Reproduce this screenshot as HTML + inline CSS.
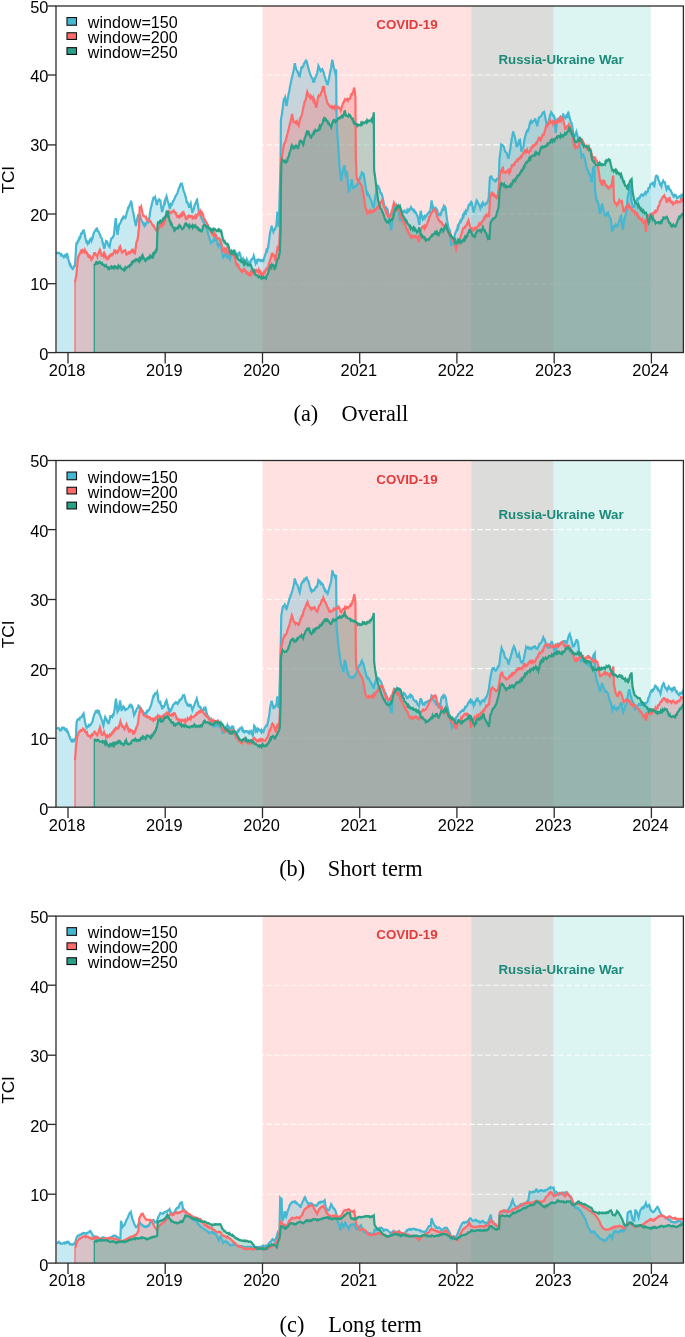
<!DOCTYPE html>
<html><head><meta charset="utf-8"><title>TCI rolling window robustness</title>
<style>
html,body{margin:0;padding:0;background:#fff;}
svg{display:block;}
.ax{font-family:"Liberation Sans",sans-serif;font-size:16.4px;fill:#000;}
.yl{font-family:"Liberation Sans",sans-serif;font-size:17.2px;fill:#000;}
.lg{font-family:"Liberation Sans",sans-serif;font-size:16.1px;fill:#000;}
.an{font-family:"Liberation Sans",sans-serif;font-size:13.3px;font-weight:bold;}
.cap{font-family:"Liberation Serif",serif;font-size:22.3px;fill:#000;}
</style></head><body>
<svg width="685" height="1337" viewBox="0 0 685 1337">
<rect width="685" height="1337" fill="#fff"/>
<g>
<rect x="262.5" y="6.0" width="290.9" height="346.55" fill="#FF6B6B" fill-opacity="0.2"/>
<rect x="471.3" y="6.0" width="179.6" height="346.55" fill="#4ECDC4" fill-opacity="0.2"/>
<line x1="56.0" x2="683.4" y1="283.7" y2="283.7" stroke="#fff" stroke-width="1.1" stroke-dasharray="5.5 2.6" stroke-opacity="0.85"/>
<line x1="56.0" x2="683.4" y1="214.0" y2="214.0" stroke="#fff" stroke-width="1.1" stroke-dasharray="5.5 2.6" stroke-opacity="0.85"/>
<line x1="56.0" x2="683.4" y1="144.9" y2="144.9" stroke="#fff" stroke-width="1.1" stroke-dasharray="5.5 2.6" stroke-opacity="0.85"/>
<line x1="56.0" x2="683.4" y1="75.0" y2="75.0" stroke="#fff" stroke-width="1.1" stroke-dasharray="5.5 2.6" stroke-opacity="0.85"/>
<path d="M56.7 252.0L57.2 253.2L57.8 253.2L58.3 252.7L58.9 252.6L59.4 253.5L60.0 253.6L60.5 254.1L61.0 255.2L61.6 254.4L62.1 255.3L62.6 256.0L63.1 256.2L63.7 257.1L64.2 256.0L64.8 255.4L65.3 256.5L65.9 256.0L66.4 255.0L67.0 256.6L67.5 255.5L68.1 258.2L68.7 260.6L69.3 262.9L69.9 264.9L70.4 264.4L71.0 266.5L71.6 267.9L72.2 268.4L72.8 269.0L73.3 268.0L73.9 266.2L74.5 266.2L75.0 265.5L75.7 254.6L76.3 243.6L76.8 243.7L77.3 243.0L77.9 240.9L78.4 241.0L78.9 239.2L79.4 237.5L80.0 237.9L80.5 236.2L81.0 233.8L81.5 233.9L82.1 233.4L82.6 231.5L83.1 231.5L83.6 229.6L84.2 232.3L84.8 234.6L85.3 237.4L85.9 240.1L86.5 242.2L87.1 241.8L87.7 243.6L88.2 242.3L88.8 242.8L89.4 240.9L89.9 239.8L90.5 240.4L91.0 239.2L91.5 240.7L92.0 239.2L92.6 238.4L93.1 235.9L93.6 233.4L94.1 232.4L94.7 231.3L95.3 230.5L95.8 230.6L96.4 228.7L96.9 228.4L97.5 230.2L98.0 231.3L98.5 231.6L99.0 232.2L99.6 234.2L100.1 234.7L100.6 237.0L101.2 237.4L101.7 238.3L102.2 240.5L102.7 242.5L103.3 244.7L103.8 246.7L104.3 248.8L104.9 246.2L105.5 243.5L106.1 240.9L106.6 241.1L107.2 241.9L107.8 243.6L108.4 245.0L109.0 246.3L109.6 247.1L110.1 244.1L110.7 241.0L111.3 238.3L111.8 238.3L112.4 237.9L112.9 237.3L113.4 236.4L113.9 234.8L114.5 229.5L115.1 223.9L115.7 218.2L116.3 223.7L116.9 229.2L117.5 234.8L118.0 231.4L118.6 227.7L119.2 224.3L119.7 224.0L120.2 223.1L120.8 222.1L121.3 220.3L121.8 219.1L122.4 219.3L123.0 217.5L123.6 216.4L124.2 216.9L124.7 218.0L125.3 218.2L125.9 216.1L126.5 213.7L127.1 211.2L127.6 210.7L128.1 207.7L128.7 207.8L129.2 206.2L129.7 205.0L130.2 203.9L130.6 203.0L131.1 200.7L131.6 203.7L132.2 207.2L132.7 210.3L133.3 213.0L133.9 216.0L134.4 219.1L134.9 221.5L135.4 223.6L135.8 226.1L136.4 223.3L137.0 220.0L137.6 217.3L138.2 215.5L138.8 216.0L139.3 214.7L139.9 215.0L140.5 217.8L141.1 219.1L141.7 221.2L142.3 221.5L142.8 222.6L143.4 224.2L144.0 223.7L144.6 226.1L145.1 225.5L145.7 224.6L146.2 223.6L146.7 222.3L147.2 221.7L147.8 220.8L148.4 221.7L149.0 219.9L149.6 215.9L150.1 212.1L150.7 208.5L151.3 206.7L151.8 204.2L152.3 202.0L152.8 200.0L153.4 198.0L153.9 198.5L154.5 198.5L155.1 197.2L155.7 199.5L156.3 202.4L156.9 205.0L157.4 202.3L158.0 200.9L158.6 199.8L159.2 199.4L159.8 200.7L160.4 200.7L160.9 204.4L161.5 208.1L162.1 212.0L162.7 209.7L163.3 207.1L163.9 205.0L164.4 202.3L164.9 202.8L165.4 199.0L166.0 197.7L166.5 196.3L167.0 198.3L167.5 200.2L168.1 202.2L168.6 203.7L169.1 205.8L169.6 207.7L170.2 208.0L170.7 204.8L171.2 205.5L171.7 205.0L172.3 203.3L172.8 201.8L173.3 200.6L173.8 200.4L174.4 198.9L174.9 198.0L175.4 196.2L175.9 195.9L176.5 194.6L177.0 194.0L177.5 192.8L178.0 191.2L178.6 189.1L179.1 187.7L179.6 187.3L180.2 184.9L180.7 184.0L181.3 184.5L181.9 184.0L182.5 186.1L183.1 188.8L183.7 191.0L184.2 192.4L184.7 193.4L185.2 195.7L185.8 197.4L186.3 199.8L186.8 202.3L187.3 202.2L187.9 203.5L188.4 205.0L188.9 206.8L189.5 206.7L190.1 204.8L190.7 203.3L191.2 206.6L191.8 209.8L192.4 212.9L192.9 211.1L193.5 209.6L194.0 208.6L194.5 205.4L195.0 205.0L195.6 203.0L196.1 202.0L196.6 200.4L197.1 199.8L197.7 203.6L198.3 207.3L198.9 211.2L199.5 213.6L200.0 214.4L200.6 215.6L201.2 217.3L201.7 218.1L202.2 219.9L202.7 220.2L203.3 221.9L203.8 222.6L204.3 222.5L204.8 224.5L205.4 225.1L205.9 225.9L206.4 227.8L206.9 229.6L207.5 231.3L208.0 233.2L208.5 235.5L209.1 236.6L209.6 238.8L210.2 240.7L210.8 242.7L211.3 241.7L211.9 241.6L212.4 241.9L212.9 241.5L213.4 240.1L214.0 240.2L214.5 237.9L215.0 239.2L215.5 237.6L216.1 236.6L216.6 239.3L217.2 242.5L217.8 245.3L218.3 246.2L218.9 244.4L219.4 244.7L219.9 243.5L220.4 243.6L221.0 246.2L221.5 249.3L222.0 251.7L222.5 254.9L223.1 257.6L223.6 257.0L224.1 255.2L224.6 254.5L225.2 255.2L225.7 254.1L226.2 255.4L226.7 254.2L227.3 256.3L227.8 254.5L228.3 255.8L228.9 257.9L229.5 257.9L230.1 259.3L230.7 256.5L231.2 255.3L231.8 254.1L232.3 253.3L232.9 253.4L233.4 252.9L233.9 250.4L234.4 250.6L235.0 251.7L235.5 253.1L236.0 253.4L236.6 255.7L237.1 255.8L237.6 254.8L238.1 253.6L238.7 253.1L239.2 254.2L239.7 253.2L240.2 254.6L240.8 256.8L241.3 258.0L241.8 259.1L242.3 259.3L242.9 258.5L243.4 260.7L243.9 260.9L244.4 261.1L245.0 261.1L245.5 261.0L246.1 260.9L246.7 259.3L247.2 260.7L247.8 261.1L248.3 262.6L248.8 262.8L249.3 264.6L249.9 263.6L250.5 261.0L251.1 261.1L251.6 259.2L252.1 258.6L252.7 258.7L253.2 257.4L253.7 255.8L254.3 258.1L254.9 260.6L255.5 262.9L256.0 261.0L256.5 260.6L257.0 261.9L257.6 259.5L258.1 259.3L258.6 259.4L259.2 260.2L259.7 259.9L260.2 260.7L260.7 261.1L261.3 260.4L261.8 260.0L262.3 260.3L262.8 261.1L263.4 261.1L263.9 258.3L264.4 257.3L264.9 255.4L265.5 253.9L266.0 252.3L266.5 250.2L267.1 251.0L267.6 248.7L268.1 247.6L268.7 243.1L269.3 238.5L269.9 233.6L270.5 230.9L271.1 228.3L271.6 225.7L272.2 227.8L272.8 229.7L273.4 231.8L274.0 230.2L274.6 230.1L275.1 228.3L275.8 227.6L276.4 224.8L276.9 218.5L277.4 211.7L277.9 219.2L278.3 226.6L278.7 219.5L279.2 212.6L279.6 197.0L280.1 181.0L280.6 160.0L280.9 120.1L281.5 116.6L282.1 113.1L282.7 108.2L283.3 103.5L283.9 99.0L284.5 98.8L285.1 97.3L285.6 100.0L286.1 102.9L286.5 106.1L287.1 102.5L287.7 99.1L288.3 95.5L288.9 92.6L289.5 89.7L290.0 86.8L290.6 83.9L291.2 81.0L291.8 78.0L292.4 75.7L293.0 73.3L293.5 71.0L294.2 67.3L294.8 63.1L295.2 65.1L295.7 67.4L296.2 69.3L296.8 70.3L297.3 71.2L297.9 72.8L298.5 72.8L299.1 76.0L299.7 76.3L300.3 73.5L300.8 70.6L301.4 67.5L302.0 67.1L302.6 67.4L303.2 66.6L303.8 64.2L304.3 63.5L304.9 62.3L305.5 61.2L306.1 60.5L306.7 61.4L307.3 63.9L307.8 65.9L308.4 68.4L309.0 70.3L309.6 72.3L310.2 74.5L310.8 75.4L311.3 77.0L311.9 78.0L312.5 78.3L313.1 81.6L313.7 81.5L314.3 81.6L314.9 78.3L315.4 78.0L316.0 76.0L316.6 75.0L317.2 72.8L317.8 69.5L318.4 65.8L319.0 67.1L319.6 69.4L320.1 69.3L320.7 71.0L321.3 70.4L321.9 69.8L322.4 69.3L323.0 71.4L323.6 72.0L324.2 74.5L324.8 76.6L325.4 78.5L325.9 80.7L326.5 81.4L327.1 84.1L327.7 84.2L328.3 81.7L328.9 79.1L329.4 76.3L330.0 73.1L330.6 70.3L331.2 67.5L331.7 63.5L332.3 59.6L332.8 62.4L333.3 65.1L333.8 67.5L334.3 69.3L334.8 71.1L335.2 72.8L335.7 71.2L336.1 69.3L336.6 120.1L337.3 134.1L337.9 140.9L338.4 148.1L338.9 156.5L339.4 165.3L340.0 170.5L340.6 175.9L341.2 181.0L341.7 177.9L342.1 175.0L342.6 172.3L343.2 169.7L343.8 167.4L344.3 165.3L344.8 168.3L345.3 171.0L345.7 174.0L346.4 172.3L347.0 172.3L347.6 178.5L348.1 185.2L348.7 191.5L349.3 191.0L349.9 188.0L350.5 186.3L351.1 183.0L351.7 179.3L352.2 182.2L352.6 185.1L353.1 188.0L353.7 187.9L354.3 187.6L354.9 186.3L355.4 186.3L356.0 186.3L356.6 184.5L357.2 184.6L357.8 184.4L358.4 182.8L358.9 180.3L359.5 179.4L360.1 177.5L360.7 176.0L361.3 174.8L361.9 172.3L362.4 172.8L363.0 174.2L363.6 174.0L364.2 177.5L364.8 181.1L365.4 184.5L365.9 188.2L366.5 191.7L367.1 195.0L367.6 195.4L368.0 193.8L368.5 195.0L369.1 195.4L369.7 197.4L370.3 198.5L370.8 199.7L371.4 201.0L372.0 203.8L372.6 205.9L373.2 207.2L373.8 207.3L374.3 203.1L374.9 199.1L375.5 195.0L376.1 192.3L376.7 189.0L377.3 186.3L377.8 187.2L378.4 186.5L379.0 188.0L379.6 189.2L380.2 192.4L380.8 193.3L381.4 193.3L381.9 194.5L382.5 196.8L383.1 199.7L383.7 202.6L384.3 205.6L384.9 207.0L385.4 207.3L386.0 207.3L386.6 208.9L387.2 208.8L387.8 210.8L388.4 215.1L388.9 218.9L389.5 223.1L390.1 225.5L390.7 227.7L391.3 230.1L391.9 223.4L392.4 217.2L393.0 210.8L393.6 208.9L394.1 207.5L394.6 207.9L395.1 206.9L395.7 205.6L396.2 204.9L396.7 206.4L397.2 206.2L397.8 206.7L398.3 207.3L398.9 212.1L399.5 216.6L400.0 221.3L400.6 219.2L401.2 216.7L401.8 214.3L402.4 213.1L403.0 212.3L403.5 210.8L404.1 210.7L404.6 210.6L405.1 212.3L405.6 212.5L406.2 212.6L406.7 212.7L407.2 210.6L407.7 212.0L408.3 211.2L408.8 209.9L409.3 210.3L409.9 209.5L410.4 208.4L410.9 207.3L411.5 208.7L412.0 208.7L412.6 210.0L413.2 209.9L413.7 209.7L414.2 211.7L414.8 211.4L415.3 212.7L415.8 212.6L416.4 213.6L417.0 215.6L417.6 216.1L418.1 218.8L418.7 221.7L419.3 224.8L419.8 220.4L420.2 215.5L420.7 210.8L421.2 213.2L421.8 215.4L422.3 217.5L422.8 219.6L423.3 219.0L423.9 217.4L424.4 216.4L424.9 217.6L425.4 216.1L426.0 216.5L426.5 215.7L427.0 215.0L427.5 213.8L428.1 213.4L428.6 212.7L429.1 212.0L429.6 212.6L430.2 212.6L430.6 208.5L431.1 204.6L431.6 200.3L432.0 203.4L432.5 206.1L433.0 209.1L433.5 207.8L434.0 209.3L434.5 209.0L435.1 208.2L435.6 207.9L436.1 209.8L436.6 211.3L437.2 210.5L437.7 212.6L438.2 214.3L438.8 215.1L439.3 215.2L439.8 214.3L440.3 216.1L440.9 213.4L441.4 212.6L441.9 210.2L442.4 209.4L443.0 208.2L443.5 207.0L444.0 209.4L444.5 209.0L445.1 207.1L445.6 208.2L446.1 212.2L446.5 215.6L447.0 219.6L447.6 222.9L448.2 226.6L448.8 228.2L449.4 230.0L450.0 230.1L450.6 237.8L451.2 245.8L451.8 242.9L452.3 242.0L452.9 239.4L453.5 238.8L454.0 237.7L454.5 236.9L455.0 233.8L455.6 232.3L456.1 231.8L456.6 230.0L457.1 230.2L457.7 226.7L458.2 227.4L458.7 224.8L459.2 223.4L459.8 222.6L460.3 221.1L460.8 221.7L461.4 219.6L461.9 219.7L462.4 217.8L462.9 215.6L463.5 216.6L464.0 214.3L464.5 212.6L465.0 213.1L465.6 211.3L466.1 212.5L466.6 210.8L467.1 210.7L467.7 209.1L468.2 206.7L468.7 205.3L469.2 204.7L469.8 205.0L470.3 203.4L470.8 203.4L471.3 202.1L471.9 202.9L472.4 205.9L473.0 209.1L473.6 212.6L474.2 210.1L474.7 207.8L475.3 205.7L475.8 203.5L476.4 201.2L476.9 202.4L477.4 201.6L478.0 202.9L478.5 203.8L479.1 205.6L479.7 205.7L480.3 208.2L480.8 206.6L481.4 204.9L482.0 203.8L482.5 205.1L483.1 203.0L483.6 204.1L484.1 204.3L484.6 204.7L485.2 204.9L485.7 203.5L486.2 202.9L486.7 202.8L487.3 202.9L487.7 201.2L488.2 199.6L488.7 197.7L489.3 187.7L489.9 177.5L490.5 176.7L491.1 177.1L491.6 176.6L492.2 178.1L492.8 179.4L493.4 179.7L494.0 180.2L494.6 180.6L495.1 181.5L495.7 181.3L496.3 179.5L496.9 178.8L497.5 178.8L498.1 179.9L498.6 180.6L499.1 170.3L499.5 159.6L500.1 154.4L500.7 149.6L501.3 144.7L501.9 145.3L502.4 145.2L503.0 145.6L503.6 146.6L504.2 147.8L504.8 150.8L505.4 151.9L505.9 152.3L506.5 152.6L507.1 154.4L507.7 156.5L508.3 158.7L508.9 156.2L509.5 153.5L510.0 150.8L510.6 146.7L511.2 142.5L511.8 138.5L512.3 136.3L512.7 133.9L513.2 131.5L513.8 133.7L514.4 135.7L514.9 136.8L515.5 140.2L516.1 143.9L516.7 147.3L517.3 145.0L517.9 145.0L518.5 142.0L519.0 140.8L519.6 142.4L520.2 141.2L520.8 146.2L521.4 151.7L522.0 149.6L522.6 148.8L523.2 147.3L523.8 144.1L524.3 140.8L524.9 137.7L525.5 135.4L526.1 133.4L526.7 131.5L527.3 130.4L527.8 131.0L528.4 129.8L529.0 127.4L529.6 124.6L530.2 121.9L530.8 121.0L531.3 123.2L531.9 122.8L532.5 121.7L533.1 121.2L533.7 121.0L534.3 120.5L534.9 119.2L535.4 119.3L536.0 121.8L536.6 123.8L537.2 126.3L537.8 123.3L538.4 120.3L538.9 117.5L539.5 117.3L540.1 117.1L540.7 116.6L541.3 115.8L541.9 114.4L542.5 113.1L543.0 112.6L543.6 112.9L544.2 112.3L544.8 115.1L545.4 118.2L546.0 121.0L546.5 123.5L547.1 124.0L547.7 126.3L548.3 123.3L548.9 120.5L549.5 117.5L550.0 114.9L550.6 114.5L551.2 112.3L551.8 113.1L552.4 114.8L553.0 115.8L553.5 115.5L554.1 117.4L554.7 117.5L555.1 125.3L555.6 133.3L556.2 128.6L556.8 123.9L557.3 119.3L557.9 118.9L558.5 119.2L559.1 118.4L559.6 117.8L560.1 118.4L560.7 116.8L561.2 117.2L561.7 117.5L562.2 118.0L562.8 116.0L563.3 117.3L563.8 115.6L564.3 116.6L564.9 116.9L565.5 118.2L566.1 117.5L566.6 115.6L567.1 116.2L567.7 114.3L568.2 115.6L568.7 114.0L569.3 116.4L569.9 118.8L570.5 121.0L571.1 123.2L571.6 123.3L572.2 126.3L572.7 129.6L573.2 133.5L573.8 137.0L574.3 137.2L574.8 135.8L575.3 134.4L575.9 133.4L576.4 131.8L577.0 134.0L577.6 136.5L578.1 138.8L578.7 141.6L579.3 144.4L579.9 147.5L580.5 150.4L581.1 153.3L581.6 156.3L582.2 154.9L582.8 154.9L583.4 154.5L584.0 157.3L584.6 157.9L585.1 159.8L585.7 162.7L586.3 165.7L586.9 168.5L587.5 169.8L588.1 169.9L588.6 172.0L589.2 174.2L589.8 174.2L590.4 175.6L591.0 179.2L591.6 182.6L592.1 177.8L592.6 173.4L593.0 168.5L593.5 167.7L594.0 166.7L594.4 166.8L595.1 191.3L595.6 194.1L596.1 197.4L596.5 200.1L597.1 201.5L597.7 201.3L598.3 203.6L598.9 207.0L599.5 210.5L600.0 214.1L600.6 211.3L601.1 208.7L601.6 206.0L602.1 203.6L602.7 206.6L603.3 209.3L603.9 212.3L604.5 213.8L605.1 215.0L605.6 215.8L606.2 215.5L606.8 214.1L607.3 212.7L607.9 212.3L608.5 215.0L609.1 215.5L609.7 217.6L610.3 218.4L610.9 219.3L611.4 225.5L612.0 231.6L612.5 230.3L613.0 230.1L613.5 228.8L614.0 226.3L614.6 226.8L615.2 226.3L615.8 224.6L616.4 225.4L617.0 225.7L617.5 226.3L618.1 225.1L618.7 222.1L619.3 221.1L619.9 218.8L620.5 216.4L621.1 215.8L621.6 220.3L622.2 224.9L622.8 229.8L623.4 225.8L624.0 221.5L624.6 217.6L625.1 216.6L625.7 214.5L626.3 212.3L626.8 207.3L627.2 201.8L627.7 196.6L628.3 194.2L628.9 191.3L629.6 187.8L630.2 184.3L630.7 192.1L631.2 200.1L631.8 202.5L632.5 205.3L633.0 206.9L633.6 207.2L634.2 207.1L634.8 204.9L635.4 203.5L636.0 201.8L636.5 200.8L637.1 199.5L637.7 200.1L638.3 198.3L638.9 198.6L639.5 198.3L640.0 196.4L640.6 196.0L641.2 194.8L641.8 194.3L642.4 194.7L643.0 195.7L643.5 195.2L644.1 194.5L644.7 193.1L645.2 192.4L645.8 193.6L646.3 191.9L646.8 192.0L647.3 192.2L647.9 191.3L648.5 188.1L649.1 187.8L649.7 187.7L650.3 184.4L650.8 184.3L651.4 183.6L652.0 183.7L652.6 182.6L653.2 182.6L653.8 185.7L654.3 186.1L654.8 183.1L655.3 179.6L655.7 176.4L656.3 175.7L656.8 175.8L657.3 176.1L657.9 177.3L658.4 179.7L659.0 180.6L659.6 182.6L660.2 184.8L660.8 184.7L661.4 186.1L661.9 183.2L662.5 182.4L663.1 180.8L663.7 182.0L664.3 182.8L664.9 182.6L665.4 184.7L666.0 187.1L666.6 189.6L667.2 188.4L667.8 186.3L668.4 186.1L668.9 188.2L669.5 189.5L670.1 189.6L670.7 190.3L671.3 191.7L671.9 193.1L672.4 194.4L673.0 194.9L673.6 196.6L674.2 196.1L674.8 194.7L675.4 194.8L675.9 195.5L676.5 197.0L677.1 198.3L677.7 198.0L678.3 197.2L678.9 196.6L679.5 196.3L680.0 196.5L680.6 197.4L681.2 195.6L681.8 196.4L682.4 194.8L682.8 194.7L683.2 196.6L683.2 352.6L56.7 352.6Z" fill="#45B7D1" fill-opacity="0.3" stroke="none"/>
<path d="M75.0 352.6L75.0 282.1L75.7 278.4L76.3 275.1L76.9 269.4L77.4 263.6L78.0 257.6L78.6 255.8L79.1 255.1L79.6 253.8L80.1 253.1L80.7 251.5L81.2 252.0L81.7 250.1L82.2 249.8L82.8 251.6L83.3 250.6L83.8 250.6L84.3 251.6L84.9 249.9L85.4 251.1L85.9 251.5L86.5 253.2L87.1 253.1L87.7 255.0L88.2 256.6L88.7 257.0L89.2 255.4L89.8 255.9L90.3 257.6L90.9 258.3L91.5 259.9L92.0 259.3L92.6 257.8L93.1 256.2L93.6 255.5L94.1 253.3L94.7 253.2L95.2 253.2L95.7 254.5L96.2 255.3L96.8 255.4L97.3 256.7L97.8 254.6L98.4 253.2L98.9 252.4L99.4 250.6L99.9 249.7L100.5 251.5L101.1 254.0L101.7 255.8L102.2 255.6L102.7 255.5L103.3 254.0L103.8 255.7L104.3 254.1L104.8 256.0L105.4 255.2L105.9 256.8L106.4 258.8L106.9 259.3L107.5 259.2L108.0 259.0L108.5 257.0L109.0 257.4L109.6 255.8L110.1 255.9L110.6 254.6L111.1 255.0L111.7 255.4L112.2 254.1L112.7 254.4L113.2 253.1L113.8 252.7L114.3 250.8L114.8 251.5L115.3 251.0L115.9 252.6L116.4 251.8L116.9 251.3L117.5 252.3L118.0 251.2L118.5 250.4L119.0 249.1L119.5 247.1L120.1 246.2L120.7 248.2L121.2 250.3L121.8 252.3L122.3 252.7L122.9 251.7L123.4 251.0L123.9 250.9L124.5 250.6L125.0 250.1L125.5 250.8L126.0 253.2L126.6 254.6L127.1 254.1L127.6 254.0L128.1 253.1L128.7 252.2L129.2 252.7L129.7 252.3L130.2 253.0L130.8 252.0L131.3 250.9L131.8 251.1L132.3 249.7L132.9 249.7L133.4 251.1L133.9 252.9L134.4 252.7L135.0 253.2L135.6 248.4L136.2 243.6L136.7 241.5L137.1 240.8L137.6 239.2L138.1 235.6L138.5 231.4L139.0 227.8L139.7 207.7L140.2 208.1L140.6 207.9L141.1 206.8L141.7 209.6L142.3 212.2L142.8 214.7L143.4 216.0L143.9 215.8L144.4 216.4L144.9 216.6L145.5 217.3L146.0 216.9L146.5 219.6L147.0 219.6L147.6 219.3L148.1 220.8L148.6 221.0L149.2 221.1L149.7 221.0L150.2 221.1L150.7 221.7L151.3 222.7L151.8 223.7L152.3 224.6L152.8 225.1L153.4 226.1L153.9 225.8L154.5 227.1L155.1 228.7L155.7 228.8L156.3 230.6L156.9 231.3L157.4 231.2L157.9 230.0L158.4 228.9L159.0 227.9L159.5 226.1L160.0 225.3L160.5 226.6L161.1 226.0L161.6 224.3L162.1 225.2L162.6 223.3L163.2 222.6L163.7 223.7L164.2 221.8L164.7 221.7L165.3 219.1L165.8 216.7L166.3 216.6L166.8 214.5L167.4 212.4L167.9 212.0L168.4 211.4L168.9 212.5L169.5 211.7L170.0 212.2L170.5 212.9L171.0 213.1L171.6 212.1L172.1 211.4L172.6 211.5L173.1 211.2L173.7 210.5L174.2 211.9L174.7 212.6L175.2 212.5L175.8 213.8L176.3 213.5L176.8 216.2L177.3 215.9L177.9 215.9L178.4 217.3L178.9 217.2L179.4 217.4L180.0 215.1L180.5 214.7L181.0 215.6L181.5 214.1L182.1 215.0L182.6 213.1L183.1 214.0L183.7 212.9L184.2 214.6L184.7 215.5L185.2 215.9L185.8 219.0L186.3 219.1L186.8 219.1L187.3 217.7L187.9 216.3L188.4 216.6L188.9 215.6L189.4 215.6L190.0 216.4L190.5 216.2L191.0 217.3L191.5 217.3L192.1 216.2L192.6 216.8L193.1 218.5L193.6 218.2L194.2 217.3L194.7 216.5L195.2 217.5L195.7 215.8L196.3 217.0L196.8 215.6L197.3 215.6L197.8 214.3L198.4 213.4L198.9 212.2L199.4 212.9L199.9 213.9L200.5 211.8L201.0 213.7L201.5 214.1L202.0 212.9L202.6 214.3L203.1 214.6L203.6 217.5L204.1 219.0L204.7 219.1L205.2 220.6L205.7 221.2L206.2 221.9L206.8 222.9L207.3 224.3L207.8 224.6L208.4 226.8L208.9 227.3L209.4 227.7L209.9 229.6L210.5 229.6L211.0 232.1L211.5 232.2L212.0 233.8L212.6 234.8L213.1 234.4L213.6 235.7L214.1 235.8L214.7 233.6L215.2 234.8L215.7 234.8L216.2 235.8L216.8 238.1L217.3 238.3L217.8 238.3L218.3 238.3L218.9 238.3L219.4 239.8L219.9 240.6L220.4 240.1L221.0 242.4L221.5 244.2L222.0 246.6L222.5 248.6L223.1 250.6L223.6 250.2L224.1 251.1L224.6 248.9L225.2 249.7L225.7 248.8L226.2 248.5L226.7 249.4L227.3 252.0L227.8 250.9L228.3 252.3L228.8 253.3L229.4 253.3L229.9 254.2L230.4 253.4L230.9 254.1L231.5 253.3L232.0 252.9L232.5 254.0L233.1 252.9L233.6 252.3L234.1 255.0L234.6 257.4L235.2 259.5L235.7 262.2L236.2 264.6L236.7 264.0L237.3 264.1L237.8 264.6L238.3 266.9L238.8 266.4L239.4 268.1L239.9 269.3L240.4 269.1L240.9 270.8L241.5 271.6L242.0 272.0L242.5 270.6L243.0 270.7L243.6 269.5L244.1 269.9L244.6 269.2L245.1 270.0L245.7 271.9L246.2 271.4L246.7 271.6L247.2 273.4L247.8 272.9L248.3 273.2L248.8 275.1L249.3 275.1L249.9 275.4L250.4 272.8L250.9 274.0L251.4 272.0L252.0 272.5L252.5 271.0L253.0 272.4L253.5 269.8L254.1 269.7L254.6 269.9L255.1 271.4L255.7 270.4L256.2 269.9L256.7 270.4L257.2 271.6L257.8 270.8L258.3 271.9L258.8 270.1L259.3 271.9L259.9 270.7L260.4 271.3L260.9 273.7L261.4 274.4L262.0 273.7L262.5 275.1L263.0 273.8L263.5 273.7L264.1 272.0L264.6 272.7L265.1 271.6L265.6 269.8L266.2 269.0L266.7 270.7L267.2 268.3L267.7 268.1L268.4 265.8L269.0 263.4L269.6 261.5L270.2 259.4L270.8 258.1L271.4 255.3L271.9 255.6L272.5 252.8L273.1 254.9L273.7 255.8L274.3 255.5L274.7 257.3L275.2 259.4L275.7 261.6L276.3 256.4L276.9 251.1L277.3 248.7L277.8 245.8L278.3 248.5L278.8 251.1L279.4 240.7L279.9 230.1L280.6 186.3L281.1 160.0L281.6 160.4L282.1 155.1L282.7 151.7L283.3 148.0L283.9 144.6L284.5 143.5L285.1 141.8L285.7 141.1L286.2 138.6L286.8 136.2L287.4 134.1L288.0 131.6L288.6 129.7L289.2 127.1L289.7 124.7L290.3 122.5L290.9 120.1L291.5 117.1L292.1 113.9L292.6 116.8L293.1 119.1L293.5 121.8L294.1 121.6L294.7 122.0L295.3 122.7L295.9 121.9L296.5 123.0L297.0 121.8L297.6 124.0L298.2 123.7L298.8 125.3L299.3 122.9L299.7 120.7L300.2 118.3L300.8 117.4L301.4 116.2L301.9 114.8L302.5 112.1L303.0 109.3L303.5 106.8L304.1 104.3L304.6 101.5L305.2 100.9L305.8 99.0L306.3 96.5L306.7 94.2L307.2 92.0L307.7 93.5L308.3 93.7L308.8 96.1L309.3 96.4L309.8 96.6L310.4 97.7L310.9 96.1L311.4 97.1L311.9 97.3L312.5 98.7L313.0 97.6L313.5 100.5L314.0 99.3L314.6 100.8L315.1 103.3L315.7 105.7L316.3 107.8L316.9 104.5L317.5 100.7L318.1 97.3L318.7 95.7L319.2 96.2L319.8 95.5L320.4 95.4L321.0 92.7L321.6 92.0L322.1 91.5L322.6 88.1L323.1 88.5L323.7 85.9L324.1 88.3L324.6 91.1L325.1 93.8L325.7 96.3L326.2 98.6L326.8 100.8L327.4 103.0L328.0 104.0L328.6 104.3L329.2 105.8L329.7 106.5L330.3 106.9L330.9 106.3L331.4 107.1L331.9 106.6L332.4 108.2L333.0 107.8L333.5 108.1L334.0 106.8L334.5 106.2L335.1 108.3L335.6 106.9L336.1 107.7L336.6 107.1L337.2 107.0L337.7 107.8L338.2 106.9L338.7 107.5L339.3 108.1L339.8 108.6L340.3 109.1L340.8 110.4L341.4 108.2L342.0 106.4L342.6 104.3L343.2 102.9L343.8 102.1L344.3 100.8L344.9 99.5L345.4 100.1L345.9 99.4L346.4 99.2L347.0 99.9L347.5 99.2L348.0 100.4L348.5 99.1L349.1 99.0L349.6 99.0L350.1 98.3L350.7 96.3L351.2 94.7L351.7 94.9L352.2 93.8L352.8 92.3L353.3 91.1L353.8 89.0L354.3 87.7L354.9 92.6L355.4 97.3L355.9 162.1L356.3 167.0L356.6 177.5L357.2 179.3L357.8 179.2L358.4 181.0L358.9 181.9L359.5 182.7L360.1 183.7L360.7 183.8L361.3 185.2L361.9 186.3L362.4 189.2L363.0 192.3L363.6 195.0L364.2 199.3L364.8 203.1L365.4 207.3L365.9 209.4L366.5 209.7L367.1 212.6L367.7 211.3L368.2 212.1L368.8 212.8L369.4 211.7L369.9 210.8L370.4 212.3L371.0 212.6L371.5 211.2L372.0 211.7L372.5 211.8L373.1 211.9L373.6 210.3L374.1 210.8L374.6 209.9L375.2 210.0L375.7 209.1L376.2 209.2L376.7 208.8L377.3 207.3L377.8 207.8L378.3 206.1L378.8 204.4L379.4 203.9L379.9 203.8L380.5 202.2L381.0 202.2L381.6 201.8L382.2 200.3L382.7 200.9L383.2 204.2L383.7 206.1L384.3 207.3L384.8 208.3L385.3 210.1L385.8 210.7L386.4 213.5L386.9 214.3L387.4 213.7L388.0 216.6L388.5 216.7L389.0 216.7L389.5 216.9L390.1 215.1L390.6 215.5L391.1 214.4L391.6 211.1L392.1 210.8L392.7 208.3L393.3 205.7L393.9 202.9L394.4 204.0L395.0 204.8L395.5 204.9L396.0 206.8L396.5 206.4L397.1 208.5L397.6 207.9L398.1 209.8L398.6 209.8L399.2 210.8L399.7 211.4L400.2 213.2L400.7 214.1L401.3 217.4L401.8 217.8L402.3 220.2L402.8 219.3L403.4 221.7L403.9 222.5L404.4 223.9L404.9 224.2L405.5 225.9L406.0 227.0L406.5 229.5L407.0 230.1L407.6 229.9L408.1 231.4L408.6 233.1L409.1 233.1L409.7 235.3L410.2 236.0L410.7 236.3L411.2 237.2L411.8 236.0L412.3 237.1L412.8 236.4L413.4 236.8L413.9 236.0L414.4 236.6L414.9 236.2L415.5 235.8L416.0 237.0L416.5 237.5L417.0 237.7L417.6 237.1L418.0 239.1L418.5 240.6L419.0 242.3L419.6 236.2L420.2 230.1L420.7 230.3L421.2 229.3L421.8 228.1L422.3 227.0L422.8 226.6L423.3 226.2L423.9 225.9L424.4 227.9L424.9 226.3L425.4 227.4L426.0 226.7L426.5 224.8L427.0 224.4L427.5 222.5L428.1 220.4L428.6 220.4L429.1 217.1L429.6 216.8L430.2 215.7L430.7 214.3L431.2 213.1L431.7 212.9L432.3 211.8L432.8 211.6L433.3 210.8L433.9 209.3L434.5 210.1L435.1 209.9L435.6 211.4L436.1 212.6L436.6 214.4L437.2 216.9L437.7 217.8L438.2 219.1L438.8 219.5L439.3 220.8L439.8 221.0L440.3 222.2L440.9 222.0L441.4 222.0L441.9 223.2L442.4 224.5L443.0 224.8L443.5 226.1L444.0 226.3L444.5 225.9L445.1 227.4L445.6 226.6L446.2 227.6L446.8 229.7L447.3 230.1L447.9 230.5L448.4 232.1L448.9 233.4L449.4 232.4L450.0 233.6L450.5 234.2L451.0 236.7L451.5 237.9L452.1 238.8L452.6 240.6L453.1 240.4L453.6 242.4L454.2 243.6L454.7 244.6L455.2 245.8L455.7 247.8L456.1 249.3L456.7 247.0L457.3 244.8L457.9 242.3L458.4 242.3L458.9 240.9L459.4 239.2L459.9 238.7L460.5 237.1L461.0 235.7L461.5 233.9L462.0 232.1L462.6 229.8L463.1 228.3L463.6 228.1L464.2 227.6L464.7 227.8L465.2 226.9L465.7 225.7L466.3 225.5L466.8 224.3L467.3 223.3L467.8 221.8L468.4 220.4L468.9 222.4L469.5 224.4L470.1 226.6L470.6 227.8L471.2 228.9L471.7 228.8L472.2 228.5L472.7 230.1L473.3 230.7L473.8 229.7L474.3 229.5L474.8 228.2L475.4 229.2L475.9 228.6L476.5 228.5L477.1 227.0L477.6 226.6L478.2 225.7L478.7 225.9L479.2 223.8L479.7 224.5L480.3 223.9L480.8 224.4L481.3 223.0L481.8 221.6L482.4 221.6L482.9 220.4L483.4 219.8L483.9 218.0L484.5 217.1L485.0 217.9L485.5 216.1L486.1 215.2L486.7 214.4L487.3 215.2L487.8 216.3L488.4 215.8L489.0 216.1L489.5 209.0L489.9 202.1L490.4 195.0L490.9 195.2L491.5 193.3L492.0 194.1L492.5 193.3L493.0 194.5L493.6 195.5L494.1 194.8L494.6 196.4L495.1 196.8L495.7 196.3L496.2 197.3L496.7 196.5L497.2 198.2L497.8 197.7L498.2 192.9L498.7 187.6L499.2 182.8L499.8 176.9L500.4 171.4L501.0 171.8L501.6 170.4L502.1 169.2L502.7 170.8L503.2 169.4L503.7 172.3L504.3 172.3L504.8 172.7L505.3 171.9L505.8 171.8L506.4 172.3L506.9 172.0L507.4 170.9L507.9 170.3L508.5 171.6L509.0 170.6L509.5 172.8L510.0 171.8L510.6 169.7L511.2 167.9L511.8 165.7L512.3 166.1L512.8 165.6L513.4 164.6L513.9 165.1L514.4 164.8L515.0 162.7L515.6 161.6L516.2 161.3L516.7 161.3L517.2 159.9L517.7 160.4L518.3 158.6L518.8 158.7L519.3 158.9L519.8 158.5L520.4 157.1L520.9 156.3L521.4 156.9L521.9 155.8L522.5 155.2L523.0 153.3L523.5 152.6L524.0 152.6L524.6 151.1L525.1 152.1L525.6 152.5L526.2 150.4L526.7 150.8L527.2 149.8L527.7 151.7L528.3 152.1L528.8 152.7L529.3 151.7L529.8 151.1L530.4 149.5L530.9 149.9L531.4 147.2L531.9 147.3L532.5 147.4L533.0 145.6L533.5 146.0L534.0 145.9L534.6 145.6L535.1 144.5L535.6 143.3L536.1 142.8L536.7 143.5L537.2 142.0L537.8 140.5L538.4 139.3L538.9 137.7L539.5 137.8L540.1 140.0L540.7 140.3L541.3 138.1L541.9 137.0L542.5 135.0L543.0 135.5L543.6 135.1L544.2 133.3L544.8 130.7L545.4 128.8L546.0 126.3L546.5 126.9L547.1 125.2L547.7 125.4L548.3 123.6L548.9 122.7L549.5 121.0L550.0 122.2L550.5 121.1L551.0 122.5L551.6 122.4L552.1 121.9L552.6 121.4L553.1 123.6L553.7 121.7L554.2 122.4L554.7 123.7L555.2 123.7L555.8 121.8L556.3 122.3L556.8 121.3L557.3 121.9L557.9 121.5L558.4 122.0L558.9 121.9L559.4 119.3L560.0 120.2L560.5 118.6L561.0 120.1L561.5 117.7L562.1 118.4L562.5 118.7L563.0 119.2L563.5 121.0L564.1 123.4L564.6 126.0L565.2 128.9L565.8 128.4L566.4 127.8L567.0 126.3L567.6 126.2L568.1 126.0L568.7 124.5L569.3 125.8L569.9 126.0L570.5 127.2L571.1 129.2L571.6 131.8L572.2 132.4L572.8 136.9L573.4 141.0L574.0 145.6L574.6 146.6L575.2 145.7L575.7 148.1L576.2 147.4L576.7 147.0L577.3 147.5L577.8 146.7L578.3 145.6L578.8 144.4L579.4 142.2L579.9 142.3L580.4 141.5L580.9 141.3L581.5 140.5L582.0 141.8L582.5 140.5L583.0 141.4L583.6 143.0L584.1 144.2L584.6 145.3L585.1 145.8L585.7 146.7L586.2 147.1L586.7 146.2L587.2 148.4L587.8 147.5L588.3 147.0L588.8 149.3L589.3 149.5L589.9 149.8L590.4 149.3L591.0 151.4L591.6 153.7L592.1 156.3L592.7 157.4L593.2 156.9L593.7 157.0L594.3 158.9L594.8 158.0L595.3 157.8L595.8 159.9L596.4 160.5L596.9 160.6L597.4 162.4L598.0 166.3L598.6 170.3L599.1 173.9L599.6 177.5L600.0 180.8L600.6 180.8L601.2 183.2L601.8 184.3L602.3 182.4L602.8 183.3L603.4 180.6L603.9 180.8L604.5 181.0L605.0 183.1L605.6 185.3L606.2 186.1L606.7 185.9L607.2 185.8L607.7 187.8L608.3 188.2L608.8 187.8L609.3 188.3L609.8 186.6L610.4 186.6L610.9 185.8L611.4 186.1L612.0 182.6L612.6 179.0L613.2 175.6L613.6 187.7L614.0 200.1L614.6 201.8L615.1 203.3L615.6 203.4L616.2 203.3L616.7 205.3L617.2 204.7L617.7 203.1L618.3 203.4L618.8 201.7L619.3 200.1L619.8 201.3L620.4 201.3L620.9 201.2L621.4 202.5L621.9 201.8L622.5 205.5L623.1 208.7L623.7 212.3L624.2 210.4L624.7 209.9L625.3 209.2L625.8 207.1L626.3 207.1L626.8 206.3L627.4 206.6L627.9 204.9L628.4 206.5L628.9 205.3L629.5 206.6L630.0 206.6L630.5 207.5L631.0 208.5L631.6 209.7L632.1 209.6L632.6 211.0L633.1 210.8L633.7 211.2L634.2 211.5L634.7 211.1L635.2 213.5L635.8 212.6L636.3 213.1L636.8 214.1L637.3 213.7L637.9 216.7L638.4 216.1L638.9 217.9L639.5 217.6L640.0 219.0L640.5 219.5L641.0 219.4L641.6 220.1L642.1 219.3L642.7 221.6L643.2 222.4L643.8 222.8L644.3 221.3L644.8 221.7L645.2 221.1L645.9 231.6L646.4 225.8L646.9 220.2L647.3 214.1L647.9 215.4L648.5 215.8L649.1 215.8L649.6 216.1L650.1 214.8L650.7 215.9L651.2 214.8L651.7 214.1L652.2 213.5L652.8 213.3L653.3 214.2L653.8 212.8L654.3 212.3L654.9 211.2L655.4 210.8L655.9 211.8L656.4 211.1L657.0 210.6L657.5 210.2L658.0 207.0L658.5 206.2L659.1 205.5L659.6 203.6L660.1 201.4L660.7 200.5L661.2 200.5L661.7 198.8L662.2 198.3L662.8 196.7L663.3 196.4L663.8 196.7L664.3 195.7L664.9 197.3L665.5 197.7L666.0 199.2L666.6 201.8L667.1 201.8L667.7 200.4L668.2 198.4L668.7 198.3L669.3 200.1L669.9 198.9L670.4 200.6L671.0 201.8L671.5 203.0L672.0 203.0L672.6 202.3L673.1 204.2L673.6 203.6L674.1 203.3L674.7 203.4L675.2 203.0L675.7 201.3L676.2 200.9L676.8 201.6L677.3 201.4L677.8 202.6L678.3 202.4L678.9 201.8L679.4 202.0L679.9 201.9L680.4 202.0L681.0 199.8L681.5 200.1L682.1 199.0L682.7 200.1L683.2 199.2L683.2 352.6L75.0 352.6Z" fill="#FF6B6B" fill-opacity="0.3" stroke="none"/>
<path d="M94.3 352.6L94.3 263.7L94.9 264.7L95.5 264.5L96.1 262.1L96.7 262.0L97.3 262.9L97.8 263.5L98.4 263.1L98.9 262.7L99.4 261.7L99.9 262.0L100.5 262.8L101.0 263.3L101.5 263.8L102.0 263.2L102.5 264.6L103.1 264.6L103.7 264.6L104.3 265.6L104.9 266.4L105.5 266.4L106.1 265.5L106.6 266.5L107.1 267.1L107.6 267.5L108.2 267.8L108.7 269.9L109.2 268.0L109.7 268.4L110.3 267.3L110.8 266.8L111.3 266.4L111.8 267.7L112.4 267.1L112.9 267.6L113.4 267.1L113.9 268.1L114.5 266.7L115.0 267.3L115.5 266.7L116.0 267.4L116.6 267.2L117.2 268.3L117.7 267.4L118.3 266.0L118.9 267.6L119.5 267.2L120.1 266.4L120.7 267.5L121.2 268.5L121.8 268.8L122.4 269.4L123.0 268.9L123.6 269.9L124.2 270.6L124.7 270.1L125.3 267.7L125.9 268.7L126.5 268.2L127.1 267.2L127.7 266.7L128.2 266.4L128.8 265.9L129.4 266.5L130.0 265.0L130.6 264.6L131.1 264.7L131.6 262.8L132.2 263.5L132.7 262.8L133.2 261.1L133.7 260.6L134.3 260.6L134.8 261.1L135.3 260.2L135.8 259.3L136.4 259.7L136.9 259.3L137.4 260.0L137.9 261.2L138.5 261.1L139.0 259.6L139.5 260.7L140.0 258.4L140.6 259.3L141.1 257.6L141.7 256.5L142.3 257.6L142.8 255.8L143.4 257.4L143.9 258.0L144.4 259.0L144.9 260.4L145.5 261.1L146.0 260.6L146.5 259.2L147.0 258.3L147.6 258.3L148.1 257.6L148.7 258.5L149.3 257.6L149.9 256.1L150.4 257.8L151.0 257.4L151.6 256.7L152.1 257.2L152.7 254.9L153.2 255.8L153.7 253.5L154.2 254.1L154.8 253.4L155.3 251.4L155.8 250.3L156.3 250.8L156.9 248.8L157.6 224.3L158.0 222.7L158.5 223.1L159.0 223.2L159.5 221.7L160.0 220.9L160.5 220.6L161.1 222.1L161.6 220.8L162.1 220.8L162.6 220.8L163.2 218.6L163.7 218.9L164.2 217.9L164.7 218.2L165.3 216.4L165.8 216.0L166.3 213.6L166.8 214.9L167.4 211.7L167.9 212.0L168.5 215.1L169.1 217.6L169.6 220.8L170.2 221.2L170.7 223.7L171.2 223.1L171.7 224.2L172.3 226.1L172.8 227.4L173.3 227.5L173.8 227.5L174.4 230.8L174.9 230.4L175.4 229.0L175.9 228.2L176.5 228.5L177.0 228.6L177.5 227.8L178.0 228.1L178.6 226.1L179.1 226.4L179.6 225.2L180.2 226.1L180.7 226.5L181.2 227.8L181.7 228.2L182.2 229.2L182.8 228.7L183.3 228.3L183.8 227.5L184.3 226.0L184.9 224.4L185.4 223.4L185.9 223.3L186.5 224.9L187.0 224.5L187.5 224.5L188.0 226.1L188.6 226.1L189.1 227.3L189.6 225.7L190.1 227.0L190.7 226.9L191.2 226.5L191.7 226.6L192.2 225.5L192.8 227.4L193.3 226.1L193.8 225.6L194.3 226.7L194.9 226.4L195.4 225.6L195.9 226.9L196.4 227.6L197.0 227.1L197.5 227.4L198.0 227.9L198.5 229.6L199.1 229.1L199.6 229.2L200.1 230.9L200.6 231.0L201.2 231.3L201.7 231.3L202.2 229.9L202.7 228.9L203.3 225.7L203.8 225.2L204.3 225.2L204.8 224.9L205.4 225.9L205.9 226.2L206.4 226.1L206.9 227.3L207.5 227.6L208.0 227.0L208.5 228.0L209.1 228.7L209.6 229.3L210.1 228.5L210.6 229.1L211.2 230.6L211.7 231.3L212.2 230.0L212.7 231.2L213.3 229.6L213.8 228.9L214.3 229.6L214.8 229.1L215.4 229.6L215.9 229.9L216.4 231.0L216.9 231.3L217.5 230.9L218.0 230.1L218.5 230.6L219.0 229.2L219.6 229.6L220.1 231.2L220.7 231.9L221.3 231.3L221.9 234.3L222.5 237.1L223.1 240.1L223.6 240.8L224.1 241.7L224.6 241.1L225.2 242.7L225.7 243.6L226.2 244.0L226.7 243.5L227.3 243.6L227.8 245.7L228.3 245.3L228.9 247.6L229.5 250.0L230.1 252.3L230.6 253.2L231.1 252.3L231.6 251.3L232.2 252.8L232.7 251.5L233.2 251.7L233.8 251.3L234.3 253.5L234.8 252.6L235.3 254.1L235.9 254.7L236.4 257.0L236.9 257.7L237.4 257.1L238.0 259.3L238.5 259.6L239.0 259.8L239.5 260.4L240.1 260.0L240.6 261.1L241.1 261.7L241.6 260.7L242.2 261.6L242.7 262.2L243.2 262.9L243.7 263.9L244.3 261.8L244.8 263.5L245.3 262.1L245.8 262.9L246.4 263.6L246.9 263.6L247.4 264.3L247.9 265.6L248.5 265.5L249.0 265.2L249.5 264.5L250.0 264.5L250.6 264.4L251.1 265.5L251.6 267.6L252.1 268.3L252.7 270.3L253.2 270.9L253.7 271.6L254.2 271.1L254.8 273.4L255.3 274.4L255.8 275.0L256.4 275.1L256.9 275.5L257.4 275.5L257.9 276.1L258.5 277.3L259.0 276.9L259.5 276.3L260.0 276.9L260.6 276.8L261.1 278.0L261.6 276.9L262.1 277.8L262.7 278.3L263.2 278.2L263.7 277.1L264.2 277.7L264.8 277.4L265.4 278.3L266.0 278.6L266.5 276.3L267.1 275.1L267.7 274.0L268.2 272.9L268.8 270.4L269.3 269.3L269.9 266.9L270.4 265.5L270.9 265.8L271.5 267.1L272.0 264.6L272.5 265.1L273.0 265.6L273.6 265.4L274.1 266.2L274.6 268.9L275.1 268.6L275.7 266.5L276.3 264.0L276.9 261.6L277.5 259.5L278.1 258.8L278.6 258.1L279.3 254.5L279.9 251.1L280.6 230.1L280.9 186.3L281.4 163.5L282.1 159.5L282.7 160.4L283.2 161.0L283.7 160.9L284.3 161.7L284.8 162.1L285.3 160.8L285.8 161.5L286.4 162.2L286.9 161.4L287.4 160.4L287.9 157.6L288.5 156.9L289.0 155.6L289.5 152.8L290.0 151.6L290.6 149.8L291.2 147.5L291.8 145.5L292.3 146.5L292.8 146.3L293.4 148.3L293.9 148.3L294.4 148.1L295.0 147.4L295.6 145.5L296.2 145.5L296.8 146.5L297.3 146.6L297.9 149.0L298.5 146.7L299.1 144.5L299.7 142.0L300.3 140.9L300.8 141.4L301.4 141.1L302.0 142.2L302.6 143.2L303.2 144.6L303.8 142.4L304.3 140.1L304.9 137.6L305.5 136.4L306.1 134.0L306.7 132.3L307.3 133.2L307.8 131.3L308.4 131.5L309.0 133.3L309.5 134.3L310.0 135.8L310.5 137.2L311.1 137.6L311.6 135.9L312.1 135.8L312.6 134.2L313.2 133.8L313.7 132.3L314.2 133.2L314.7 132.0L315.3 130.1L315.8 130.8L316.3 130.6L316.8 130.8L317.4 130.8L317.9 129.9L318.4 130.0L318.9 128.8L319.5 126.7L320.0 128.2L320.5 126.8L321.0 125.6L321.6 124.5L322.2 124.0L322.7 122.5L323.3 120.1L323.8 118.9L324.4 120.5L324.9 120.2L325.4 118.6L325.9 119.2L326.5 120.7L327.0 121.2L327.5 121.1L328.1 123.5L328.6 123.6L329.1 123.4L329.6 125.3L330.2 125.5L330.7 125.8L331.2 127.1L331.8 125.2L332.4 122.9L333.0 121.0L333.5 120.4L334.0 122.5L334.5 120.4L335.1 120.4L335.6 121.8L336.1 121.1L336.6 121.3L337.2 120.1L337.7 119.7L338.2 118.3L338.7 118.1L339.3 118.4L339.8 117.4L340.3 117.0L340.8 117.5L341.4 117.1L341.9 115.6L342.4 115.3L342.9 116.7L343.5 115.7L344.1 112.9L344.7 110.4L345.2 112.3L345.6 114.1L346.1 115.7L346.7 115.5L347.3 116.1L347.8 116.4L348.4 116.6L349.0 114.8L349.6 115.7L350.1 115.5L350.7 116.8L351.2 117.7L351.7 118.0L352.2 119.2L352.8 118.9L353.3 121.1L353.8 123.0L354.3 122.4L354.9 123.6L355.4 124.0L356.0 123.9L356.6 124.3L357.2 125.7L357.8 124.6L358.4 125.3L358.9 125.4L359.5 124.7L360.1 124.6L360.7 125.2L361.3 122.8L361.9 123.6L362.4 124.1L363.0 122.5L363.6 123.1L364.2 123.1L364.8 122.5L365.4 121.8L365.9 121.4L366.5 122.4L367.1 120.4L367.7 121.6L368.3 120.8L368.9 121.0L369.4 120.7L369.9 121.1L370.4 120.6L371.0 119.9L371.5 119.2L372.0 120.7L372.5 118.6L373.1 117.5L373.8 112.3L374.1 170.1L374.6 173.7L375.2 177.5L375.8 182.8L376.4 188.0L377.0 192.0L377.6 196.1L378.1 200.3L378.7 202.6L379.3 204.2L379.9 206.4L380.4 208.4L380.9 208.6L381.5 209.8L382.0 210.9L382.5 212.6L383.0 212.9L383.6 215.2L384.1 215.9L384.6 218.0L385.1 219.6L385.7 219.6L386.2 221.6L386.7 222.2L387.2 221.5L387.8 222.2L388.3 222.2L388.8 222.6L389.3 220.7L389.9 219.8L390.4 220.4L390.9 219.4L391.5 219.0L392.0 219.8L392.5 218.7L393.0 218.7L393.6 216.0L394.2 213.6L394.8 210.8L395.3 209.3L395.8 209.8L396.4 208.5L396.9 207.0L397.4 206.4L397.9 207.2L398.5 206.0L399.0 207.4L399.5 207.5L400.0 206.4L400.6 208.5L401.2 210.6L401.8 212.6L402.3 214.7L402.8 215.3L403.4 216.3L403.9 217.7L404.4 217.8L404.9 219.8L405.5 220.2L406.0 221.6L406.5 220.8L407.0 222.2L407.6 223.4L408.1 224.4L408.6 224.5L409.1 225.4L409.7 226.6L410.2 226.1L410.7 228.4L411.2 227.3L411.8 227.9L412.3 228.3L412.8 229.7L413.4 228.2L413.9 230.5L414.4 228.8L414.9 230.1L415.5 229.2L416.0 230.4L416.5 230.8L417.0 232.5L417.6 231.8L418.1 231.3L418.7 229.6L419.3 227.4L419.9 230.0L420.5 232.7L421.1 235.3L421.6 235.0L422.1 236.9L422.6 236.1L423.2 236.2L423.7 237.1L424.2 238.1L424.7 237.6L425.3 238.7L425.8 240.9L426.3 240.6L426.8 239.4L427.4 239.3L427.9 239.3L428.4 239.3L428.9 239.7L429.5 238.8L430.0 237.7L430.5 237.2L431.0 236.3L431.6 236.2L432.1 235.0L432.6 235.4L433.1 234.2L433.7 233.8L434.2 233.6L434.7 233.9L435.2 231.8L435.8 231.6L436.3 233.0L436.8 231.8L437.4 232.8L438.0 234.9L438.6 235.3L439.1 233.2L439.6 232.9L440.2 232.5L440.7 230.0L441.2 229.2L441.7 230.0L442.3 229.8L442.8 229.5L443.3 231.1L443.8 230.1L444.4 228.5L444.9 227.4L445.4 226.4L445.9 224.8L446.5 226.1L447.1 229.2L447.6 230.3L448.2 231.8L448.7 232.7L449.3 233.3L449.8 235.1L450.3 235.9L450.8 235.3L451.4 236.9L451.9 236.6L452.4 237.2L452.9 238.2L453.5 238.8L454.0 238.4L454.5 239.3L455.0 242.2L455.6 240.7L456.1 242.3L456.6 243.1L457.1 242.1L457.7 242.3L458.2 239.9L458.7 240.6L459.2 240.4L459.8 242.0L460.3 240.4L460.8 241.0L461.4 242.3L461.9 241.4L462.4 240.5L462.9 239.9L463.5 240.7L464.0 239.7L464.5 238.2L465.0 239.8L465.6 238.5L466.1 236.5L466.6 237.1L467.1 236.7L467.7 233.6L468.2 232.8L468.7 231.6L469.2 230.1L469.8 229.9L470.3 231.5L470.8 231.1L471.3 232.1L471.9 233.6L472.4 235.3L472.9 235.8L473.4 235.7L474.0 236.8L474.5 237.1L475.1 236.7L475.6 233.5L476.2 233.1L476.8 231.8L477.3 230.7L477.8 230.5L478.3 230.3L478.9 230.4L479.4 230.9L480.0 230.1L480.5 230.8L481.1 231.8L481.7 230.1L482.3 229.2L482.9 227.4L483.5 229.2L484.1 230.2L484.6 230.1L485.2 231.8L485.8 232.4L486.4 233.6L487.0 236.4L487.6 236.2L488.1 238.8L488.8 238.3L489.4 239.7L489.9 231.5L490.4 223.1L490.9 222.5L491.5 220.6L492.0 220.1L492.5 219.6L493.0 218.7L493.6 218.7L494.1 218.3L494.6 217.9L495.1 217.8L495.7 216.8L496.3 215.1L496.9 212.6L497.5 211.0L498.1 209.0L498.6 207.3L499.1 199.3L499.5 191.5L500.0 189.0L500.5 186.5L500.9 183.7L501.5 183.2L502.0 184.6L502.5 184.8L503.0 184.5L503.6 185.4L504.1 184.4L504.6 186.2L505.1 185.9L505.7 187.2L506.2 186.2L506.7 187.0L507.2 187.0L507.8 186.8L508.3 186.3L508.8 186.9L509.3 186.8L509.9 186.2L510.4 185.1L510.9 186.3L511.5 185.4L512.1 183.9L512.7 181.5L513.2 182.1L513.7 181.4L514.2 179.8L514.8 180.0L515.3 180.6L515.8 178.6L516.3 178.8L516.9 177.5L517.4 175.6L517.9 175.3L518.4 175.9L519.0 175.5L519.5 174.8L520.0 173.1L520.5 172.7L521.1 171.3L521.6 170.2L522.1 170.9L522.7 169.7L523.2 168.3L523.7 166.7L524.2 167.2L524.8 165.3L525.3 163.9L525.8 163.1L526.3 162.3L526.9 162.6L527.4 161.4L527.9 161.4L528.4 160.4L529.0 158.8L529.5 159.5L530.0 157.8L530.5 158.7L531.1 156.9L531.6 155.9L532.1 155.8L532.6 156.0L533.2 155.3L533.7 155.2L534.2 154.7L534.7 155.2L535.3 152.9L535.8 153.8L536.3 152.6L536.8 153.4L537.4 154.0L537.9 153.5L538.4 153.8L538.9 154.3L539.5 152.2L540.1 150.2L540.7 148.2L541.2 147.4L541.7 147.1L542.3 147.6L542.8 146.7L543.3 147.3L543.8 147.0L544.4 147.1L544.9 146.3L545.4 145.8L546.0 146.4L546.5 146.0L547.0 145.9L547.5 143.6L548.1 143.9L548.6 142.9L549.1 142.8L549.6 142.8L550.2 141.8L550.7 140.3L551.2 140.3L551.7 139.7L552.3 141.5L552.8 140.3L553.3 139.8L553.8 141.2L554.4 141.4L554.9 139.0L555.4 138.6L555.9 137.9L556.5 137.7L557.0 136.7L557.5 137.5L558.0 136.2L558.6 136.1L559.1 135.9L559.6 135.9L560.1 137.1L560.7 135.2L561.2 136.8L561.7 136.8L562.2 135.5L562.8 135.2L563.3 136.0L563.8 135.1L564.3 135.0L564.9 133.4L565.4 134.2L565.9 134.5L566.4 133.3L567.0 132.4L567.6 131.2L568.1 130.8L568.7 128.9L569.3 130.5L569.9 129.2L570.5 130.7L571.1 131.0L571.6 133.6L572.2 133.3L572.8 135.8L573.4 135.5L574.0 137.7L574.5 139.7L575.0 141.7L575.5 142.3L576.0 142.1L576.6 142.1L577.1 141.3L577.6 140.2L578.1 140.5L578.7 139.4L579.2 138.7L579.7 139.9L580.2 138.2L580.8 138.8L581.4 140.8L581.9 142.0L582.5 144.0L583.0 144.4L583.6 146.2L584.1 145.3L584.6 146.1L585.1 146.6L585.7 146.5L586.2 146.3L586.7 146.5L587.2 147.4L587.8 147.5L588.3 148.8L588.8 147.5L589.3 150.2L589.9 150.1L590.4 150.2L591.0 153.1L591.6 156.7L592.1 159.8L592.7 160.4L593.3 161.6L593.9 162.4L594.4 161.9L595.0 163.5L595.5 164.0L596.0 165.2L596.5 165.0L597.1 165.1L597.6 165.2L598.1 165.1L598.6 163.6L599.2 164.2L599.7 163.1L600.2 164.5L600.7 163.8L601.3 164.0L601.8 165.0L602.3 164.4L602.8 164.8L603.4 164.8L603.9 164.7L604.4 164.2L604.9 164.6L605.5 161.8L606.0 162.2L606.5 160.3L607.0 160.7L607.6 160.9L608.1 160.2L608.6 159.2L609.1 159.5L609.7 159.8L610.3 162.5L610.9 165.0L611.4 166.8L611.8 168.8L612.3 170.3L612.8 169.9L613.4 169.9L613.9 171.3L614.4 170.6L614.9 170.3L615.5 169.7L616.0 171.7L616.5 171.0L617.0 172.8L617.5 172.0L618.1 172.7L618.6 173.5L619.1 174.1L619.7 173.5L620.2 173.8L620.8 176.1L621.3 174.9L621.9 177.3L622.5 178.7L623.1 181.6L623.7 182.6L624.2 182.0L624.7 184.4L625.3 185.9L625.8 185.9L626.3 186.1L626.9 187.5L627.5 186.2L628.1 187.8L628.7 185.8L629.2 183.8L629.8 181.7L630.4 180.6L631.0 179.7L631.6 179.1L632.0 185.3L632.5 191.3L633.0 194.1L633.6 196.9L634.2 200.1L634.7 201.0L635.2 202.6L635.8 203.0L636.3 203.3L636.8 203.6L637.3 203.8L637.9 206.0L638.4 204.5L638.9 205.7L639.5 207.1L640.0 208.5L640.5 209.5L641.0 208.9L641.6 210.9L642.1 210.6L642.6 210.1L643.1 211.9L643.7 211.1L644.2 212.0L644.7 213.2L645.3 212.7L645.9 212.6L646.5 214.1L647.0 216.2L647.6 218.5L648.2 220.6L648.7 222.8L649.3 221.5L649.8 218.2L650.3 217.6L650.8 215.8L651.4 216.6L651.9 217.0L652.4 219.0L652.9 217.7L653.5 219.3L654.0 219.9L654.5 220.6L655.0 221.1L655.6 223.3L656.1 222.8L656.6 222.9L657.1 222.5L657.7 222.2L658.2 222.0L658.7 222.0L659.2 223.3L659.8 223.1L660.3 222.9L660.8 221.8L661.4 222.8L661.9 222.0L662.4 219.8L662.9 219.3L663.5 217.4L664.0 217.6L664.5 217.9L665.0 218.4L665.6 217.4L666.1 217.1L666.6 216.7L667.1 217.3L667.7 219.0L668.2 220.3L668.7 221.4L669.2 222.8L669.8 222.8L670.3 223.2L670.8 225.0L671.3 226.1L671.9 225.5L672.4 226.4L672.9 226.1L673.4 224.8L674.0 225.7L674.5 226.3L675.1 226.6L675.7 226.4L676.2 224.6L676.8 223.0L677.4 221.3L678.0 219.3L678.5 219.1L679.0 217.3L679.6 217.8L680.1 216.2L680.6 215.8L681.1 216.2L681.7 214.7L682.2 214.7L682.7 213.9L683.2 213.2L683.2 352.6L94.3 352.6Z" fill="#2AA086" fill-opacity="0.3" stroke="none"/>
<path d="M56.7 252.0L57.2 253.2L57.8 253.2L58.3 252.7L58.9 252.6L59.4 253.5L60.0 253.6L60.5 254.1L61.0 255.2L61.6 254.4L62.1 255.3L62.6 256.0L63.1 256.2L63.7 257.1L64.2 256.0L64.8 255.4L65.3 256.5L65.9 256.0L66.4 255.0L67.0 256.6L67.5 255.5L68.1 258.2L68.7 260.6L69.3 262.9L69.9 264.9L70.4 264.4L71.0 266.5L71.6 267.9L72.2 268.4L72.8 269.0L73.3 268.0L73.9 266.2L74.5 266.2L75.0 265.5L75.7 254.6L76.3 243.6L76.8 243.7L77.3 243.0L77.9 240.9L78.4 241.0L78.9 239.2L79.4 237.5L80.0 237.9L80.5 236.2L81.0 233.8L81.5 233.9L82.1 233.4L82.6 231.5L83.1 231.5L83.6 229.6L84.2 232.3L84.8 234.6L85.3 237.4L85.9 240.1L86.5 242.2L87.1 241.8L87.7 243.6L88.2 242.3L88.8 242.8L89.4 240.9L89.9 239.8L90.5 240.4L91.0 239.2L91.5 240.7L92.0 239.2L92.6 238.4L93.1 235.9L93.6 233.4L94.1 232.4L94.7 231.3L95.3 230.5L95.8 230.6L96.4 228.7L96.9 228.4L97.5 230.2L98.0 231.3L98.5 231.6L99.0 232.2L99.6 234.2L100.1 234.7L100.6 237.0L101.2 237.4L101.7 238.3L102.2 240.5L102.7 242.5L103.3 244.7L103.8 246.7L104.3 248.8L104.9 246.2L105.5 243.5L106.1 240.9L106.6 241.1L107.2 241.9L107.8 243.6L108.4 245.0L109.0 246.3L109.6 247.1L110.1 244.1L110.7 241.0L111.3 238.3L111.8 238.3L112.4 237.9L112.9 237.3L113.4 236.4L113.9 234.8L114.5 229.5L115.1 223.9L115.7 218.2L116.3 223.7L116.9 229.2L117.5 234.8L118.0 231.4L118.6 227.7L119.2 224.3L119.7 224.0L120.2 223.1L120.8 222.1L121.3 220.3L121.8 219.1L122.4 219.3L123.0 217.5L123.6 216.4L124.2 216.9L124.7 218.0L125.3 218.2L125.9 216.1L126.5 213.7L127.1 211.2L127.6 210.7L128.1 207.7L128.7 207.8L129.2 206.2L129.7 205.0L130.2 203.9L130.6 203.0L131.1 200.7L131.6 203.7L132.2 207.2L132.7 210.3L133.3 213.0L133.9 216.0L134.4 219.1L134.9 221.5L135.4 223.6L135.8 226.1L136.4 223.3L137.0 220.0L137.6 217.3L138.2 215.5L138.8 216.0L139.3 214.7L139.9 215.0L140.5 217.8L141.1 219.1L141.7 221.2L142.3 221.5L142.8 222.6L143.4 224.2L144.0 223.7L144.6 226.1L145.1 225.5L145.7 224.6L146.2 223.6L146.7 222.3L147.2 221.7L147.8 220.8L148.4 221.7L149.0 219.9L149.6 215.9L150.1 212.1L150.7 208.5L151.3 206.7L151.8 204.2L152.3 202.0L152.8 200.0L153.4 198.0L153.9 198.5L154.5 198.5L155.1 197.2L155.7 199.5L156.3 202.4L156.9 205.0L157.4 202.3L158.0 200.9L158.6 199.8L159.2 199.4L159.8 200.7L160.4 200.7L160.9 204.4L161.5 208.1L162.1 212.0L162.7 209.7L163.3 207.1L163.9 205.0L164.4 202.3L164.9 202.8L165.4 199.0L166.0 197.7L166.5 196.3L167.0 198.3L167.5 200.2L168.1 202.2L168.6 203.7L169.1 205.8L169.6 207.7L170.2 208.0L170.7 204.8L171.2 205.5L171.7 205.0L172.3 203.3L172.8 201.8L173.3 200.6L173.8 200.4L174.4 198.9L174.9 198.0L175.4 196.2L175.9 195.9L176.5 194.6L177.0 194.0L177.5 192.8L178.0 191.2L178.6 189.1L179.1 187.7L179.6 187.3L180.2 184.9L180.7 184.0L181.3 184.5L181.9 184.0L182.5 186.1L183.1 188.8L183.7 191.0L184.2 192.4L184.7 193.4L185.2 195.7L185.8 197.4L186.3 199.8L186.8 202.3L187.3 202.2L187.9 203.5L188.4 205.0L188.9 206.8L189.5 206.7L190.1 204.8L190.7 203.3L191.2 206.6L191.8 209.8L192.4 212.9L192.9 211.1L193.5 209.6L194.0 208.6L194.5 205.4L195.0 205.0L195.6 203.0L196.1 202.0L196.6 200.4L197.1 199.8L197.7 203.6L198.3 207.3L198.9 211.2L199.5 213.6L200.0 214.4L200.6 215.6L201.2 217.3L201.7 218.1L202.2 219.9L202.7 220.2L203.3 221.9L203.8 222.6L204.3 222.5L204.8 224.5L205.4 225.1L205.9 225.9L206.4 227.8L206.9 229.6L207.5 231.3L208.0 233.2L208.5 235.5L209.1 236.6L209.6 238.8L210.2 240.7L210.8 242.7L211.3 241.7L211.9 241.6L212.4 241.9L212.9 241.5L213.4 240.1L214.0 240.2L214.5 237.9L215.0 239.2L215.5 237.6L216.1 236.6L216.6 239.3L217.2 242.5L217.8 245.3L218.3 246.2L218.9 244.4L219.4 244.7L219.9 243.5L220.4 243.6L221.0 246.2L221.5 249.3L222.0 251.7L222.5 254.9L223.1 257.6L223.6 257.0L224.1 255.2L224.6 254.5L225.2 255.2L225.7 254.1L226.2 255.4L226.7 254.2L227.3 256.3L227.8 254.5L228.3 255.8L228.9 257.9L229.5 257.9L230.1 259.3L230.7 256.5L231.2 255.3L231.8 254.1L232.3 253.3L232.9 253.4L233.4 252.9L233.9 250.4L234.4 250.6L235.0 251.7L235.5 253.1L236.0 253.4L236.6 255.7L237.1 255.8L237.6 254.8L238.1 253.6L238.7 253.1L239.2 254.2L239.7 253.2L240.2 254.6L240.8 256.8L241.3 258.0L241.8 259.1L242.3 259.3L242.9 258.5L243.4 260.7L243.9 260.9L244.4 261.1L245.0 261.1L245.5 261.0L246.1 260.9L246.7 259.3L247.2 260.7L247.8 261.1L248.3 262.6L248.8 262.8L249.3 264.6L249.9 263.6L250.5 261.0L251.1 261.1L251.6 259.2L252.1 258.6L252.7 258.7L253.2 257.4L253.7 255.8L254.3 258.1L254.9 260.6L255.5 262.9L256.0 261.0L256.5 260.6L257.0 261.9L257.6 259.5L258.1 259.3L258.6 259.4L259.2 260.2L259.7 259.9L260.2 260.7L260.7 261.1L261.3 260.4L261.8 260.0L262.3 260.3L262.8 261.1L263.4 261.1L263.9 258.3L264.4 257.3L264.9 255.4L265.5 253.9L266.0 252.3L266.5 250.2L267.1 251.0L267.6 248.7L268.1 247.6L268.7 243.1L269.3 238.5L269.9 233.6L270.5 230.9L271.1 228.3L271.6 225.7L272.2 227.8L272.8 229.7L273.4 231.8L274.0 230.2L274.6 230.1L275.1 228.3L275.8 227.6L276.4 224.8L276.9 218.5L277.4 211.7L277.9 219.2L278.3 226.6L278.7 219.5L279.2 212.6L279.6 197.0L280.1 181.0L280.6 160.0L280.9 120.1L281.5 116.6L282.1 113.1L282.7 108.2L283.3 103.5L283.9 99.0L284.5 98.8L285.1 97.3L285.6 100.0L286.1 102.9L286.5 106.1L287.1 102.5L287.7 99.1L288.3 95.5L288.9 92.6L289.5 89.7L290.0 86.8L290.6 83.9L291.2 81.0L291.8 78.0L292.4 75.7L293.0 73.3L293.5 71.0L294.2 67.3L294.8 63.1L295.2 65.1L295.7 67.4L296.2 69.3L296.8 70.3L297.3 71.2L297.9 72.8L298.5 72.8L299.1 76.0L299.7 76.3L300.3 73.5L300.8 70.6L301.4 67.5L302.0 67.1L302.6 67.4L303.2 66.6L303.8 64.2L304.3 63.5L304.9 62.3L305.5 61.2L306.1 60.5L306.7 61.4L307.3 63.9L307.8 65.9L308.4 68.4L309.0 70.3L309.6 72.3L310.2 74.5L310.8 75.4L311.3 77.0L311.9 78.0L312.5 78.3L313.1 81.6L313.7 81.5L314.3 81.6L314.9 78.3L315.4 78.0L316.0 76.0L316.6 75.0L317.2 72.8L317.8 69.5L318.4 65.8L319.0 67.1L319.6 69.4L320.1 69.3L320.7 71.0L321.3 70.4L321.9 69.8L322.4 69.3L323.0 71.4L323.6 72.0L324.2 74.5L324.8 76.6L325.4 78.5L325.9 80.7L326.5 81.4L327.1 84.1L327.7 84.2L328.3 81.7L328.9 79.1L329.4 76.3L330.0 73.1L330.6 70.3L331.2 67.5L331.7 63.5L332.3 59.6L332.8 62.4L333.3 65.1L333.8 67.5L334.3 69.3L334.8 71.1L335.2 72.8L335.7 71.2L336.1 69.3L336.6 120.1L337.3 134.1L337.9 140.9L338.4 148.1L338.9 156.5L339.4 165.3L340.0 170.5L340.6 175.9L341.2 181.0L341.7 177.9L342.1 175.0L342.6 172.3L343.2 169.7L343.8 167.4L344.3 165.3L344.8 168.3L345.3 171.0L345.7 174.0L346.4 172.3L347.0 172.3L347.6 178.5L348.1 185.2L348.7 191.5L349.3 191.0L349.9 188.0L350.5 186.3L351.1 183.0L351.7 179.3L352.2 182.2L352.6 185.1L353.1 188.0L353.7 187.9L354.3 187.6L354.9 186.3L355.4 186.3L356.0 186.3L356.6 184.5L357.2 184.6L357.8 184.4L358.4 182.8L358.9 180.3L359.5 179.4L360.1 177.5L360.7 176.0L361.3 174.8L361.9 172.3L362.4 172.8L363.0 174.2L363.6 174.0L364.2 177.5L364.8 181.1L365.4 184.5L365.9 188.2L366.5 191.7L367.1 195.0L367.6 195.4L368.0 193.8L368.5 195.0L369.1 195.4L369.7 197.4L370.3 198.5L370.8 199.7L371.4 201.0L372.0 203.8L372.6 205.9L373.2 207.2L373.8 207.3L374.3 203.1L374.9 199.1L375.5 195.0L376.1 192.3L376.7 189.0L377.3 186.3L377.8 187.2L378.4 186.5L379.0 188.0L379.6 189.2L380.2 192.4L380.8 193.3L381.4 193.3L381.9 194.5L382.5 196.8L383.1 199.7L383.7 202.6L384.3 205.6L384.9 207.0L385.4 207.3L386.0 207.3L386.6 208.9L387.2 208.8L387.8 210.8L388.4 215.1L388.9 218.9L389.5 223.1L390.1 225.5L390.7 227.7L391.3 230.1L391.9 223.4L392.4 217.2L393.0 210.8L393.6 208.9L394.1 207.5L394.6 207.9L395.1 206.9L395.7 205.6L396.2 204.9L396.7 206.4L397.2 206.2L397.8 206.7L398.3 207.3L398.9 212.1L399.5 216.6L400.0 221.3L400.6 219.2L401.2 216.7L401.8 214.3L402.4 213.1L403.0 212.3L403.5 210.8L404.1 210.7L404.6 210.6L405.1 212.3L405.6 212.5L406.2 212.6L406.7 212.7L407.2 210.6L407.7 212.0L408.3 211.2L408.8 209.9L409.3 210.3L409.9 209.5L410.4 208.4L410.9 207.3L411.5 208.7L412.0 208.7L412.6 210.0L413.2 209.9L413.7 209.7L414.2 211.7L414.8 211.4L415.3 212.7L415.8 212.6L416.4 213.6L417.0 215.6L417.6 216.1L418.1 218.8L418.7 221.7L419.3 224.8L419.8 220.4L420.2 215.5L420.7 210.8L421.2 213.2L421.8 215.4L422.3 217.5L422.8 219.6L423.3 219.0L423.9 217.4L424.4 216.4L424.9 217.6L425.4 216.1L426.0 216.5L426.5 215.7L427.0 215.0L427.5 213.8L428.1 213.4L428.6 212.7L429.1 212.0L429.6 212.6L430.2 212.6L430.6 208.5L431.1 204.6L431.6 200.3L432.0 203.4L432.5 206.1L433.0 209.1L433.5 207.8L434.0 209.3L434.5 209.0L435.1 208.2L435.6 207.9L436.1 209.8L436.6 211.3L437.2 210.5L437.7 212.6L438.2 214.3L438.8 215.1L439.3 215.2L439.8 214.3L440.3 216.1L440.9 213.4L441.4 212.6L441.9 210.2L442.4 209.4L443.0 208.2L443.5 207.0L444.0 209.4L444.5 209.0L445.1 207.1L445.6 208.2L446.1 212.2L446.5 215.6L447.0 219.6L447.6 222.9L448.2 226.6L448.8 228.2L449.4 230.0L450.0 230.1L450.6 237.8L451.2 245.8L451.8 242.9L452.3 242.0L452.9 239.4L453.5 238.8L454.0 237.7L454.5 236.9L455.0 233.8L455.6 232.3L456.1 231.8L456.6 230.0L457.1 230.2L457.7 226.7L458.2 227.4L458.7 224.8L459.2 223.4L459.8 222.6L460.3 221.1L460.8 221.7L461.4 219.6L461.9 219.7L462.4 217.8L462.9 215.6L463.5 216.6L464.0 214.3L464.5 212.6L465.0 213.1L465.6 211.3L466.1 212.5L466.6 210.8L467.1 210.7L467.7 209.1L468.2 206.7L468.7 205.3L469.2 204.7L469.8 205.0L470.3 203.4L470.8 203.4L471.3 202.1L471.9 202.9L472.4 205.9L473.0 209.1L473.6 212.6L474.2 210.1L474.7 207.8L475.3 205.7L475.8 203.5L476.4 201.2L476.9 202.4L477.4 201.6L478.0 202.9L478.5 203.8L479.1 205.6L479.7 205.7L480.3 208.2L480.8 206.6L481.4 204.9L482.0 203.8L482.5 205.1L483.1 203.0L483.6 204.1L484.1 204.3L484.6 204.7L485.2 204.9L485.7 203.5L486.2 202.9L486.7 202.8L487.3 202.9L487.7 201.2L488.2 199.6L488.7 197.7L489.3 187.7L489.9 177.5L490.5 176.7L491.1 177.1L491.6 176.6L492.2 178.1L492.8 179.4L493.4 179.7L494.0 180.2L494.6 180.6L495.1 181.5L495.7 181.3L496.3 179.5L496.9 178.8L497.5 178.8L498.1 179.9L498.6 180.6L499.1 170.3L499.5 159.6L500.1 154.4L500.7 149.6L501.3 144.7L501.9 145.3L502.4 145.2L503.0 145.6L503.6 146.6L504.2 147.8L504.8 150.8L505.4 151.9L505.9 152.3L506.5 152.6L507.1 154.4L507.7 156.5L508.3 158.7L508.9 156.2L509.5 153.5L510.0 150.8L510.6 146.7L511.2 142.5L511.8 138.5L512.3 136.3L512.7 133.9L513.2 131.5L513.8 133.7L514.4 135.7L514.9 136.8L515.5 140.2L516.1 143.9L516.7 147.3L517.3 145.0L517.9 145.0L518.5 142.0L519.0 140.8L519.6 142.4L520.2 141.2L520.8 146.2L521.4 151.7L522.0 149.6L522.6 148.8L523.2 147.3L523.8 144.1L524.3 140.8L524.9 137.7L525.5 135.4L526.1 133.4L526.7 131.5L527.3 130.4L527.8 131.0L528.4 129.8L529.0 127.4L529.6 124.6L530.2 121.9L530.8 121.0L531.3 123.2L531.9 122.8L532.5 121.7L533.1 121.2L533.7 121.0L534.3 120.5L534.9 119.2L535.4 119.3L536.0 121.8L536.6 123.8L537.2 126.3L537.8 123.3L538.4 120.3L538.9 117.5L539.5 117.3L540.1 117.1L540.7 116.6L541.3 115.8L541.9 114.4L542.5 113.1L543.0 112.6L543.6 112.9L544.2 112.3L544.8 115.1L545.4 118.2L546.0 121.0L546.5 123.5L547.1 124.0L547.7 126.3L548.3 123.3L548.9 120.5L549.5 117.5L550.0 114.9L550.6 114.5L551.2 112.3L551.8 113.1L552.4 114.8L553.0 115.8L553.5 115.5L554.1 117.4L554.7 117.5L555.1 125.3L555.6 133.3L556.2 128.6L556.8 123.9L557.3 119.3L557.9 118.9L558.5 119.2L559.1 118.4L559.6 117.8L560.1 118.4L560.7 116.8L561.2 117.2L561.7 117.5L562.2 118.0L562.8 116.0L563.3 117.3L563.8 115.6L564.3 116.6L564.9 116.9L565.5 118.2L566.1 117.5L566.6 115.6L567.1 116.2L567.7 114.3L568.2 115.6L568.7 114.0L569.3 116.4L569.9 118.8L570.5 121.0L571.1 123.2L571.6 123.3L572.2 126.3L572.7 129.6L573.2 133.5L573.8 137.0L574.3 137.2L574.8 135.8L575.3 134.4L575.9 133.4L576.4 131.8L577.0 134.0L577.6 136.5L578.1 138.8L578.7 141.6L579.3 144.4L579.9 147.5L580.5 150.4L581.1 153.3L581.6 156.3L582.2 154.9L582.8 154.9L583.4 154.5L584.0 157.3L584.6 157.9L585.1 159.8L585.7 162.7L586.3 165.7L586.9 168.5L587.5 169.8L588.1 169.9L588.6 172.0L589.2 174.2L589.8 174.2L590.4 175.6L591.0 179.2L591.6 182.6L592.1 177.8L592.6 173.4L593.0 168.5L593.5 167.7L594.0 166.7L594.4 166.8L595.1 191.3L595.6 194.1L596.1 197.4L596.5 200.1L597.1 201.5L597.7 201.3L598.3 203.6L598.9 207.0L599.5 210.5L600.0 214.1L600.6 211.3L601.1 208.7L601.6 206.0L602.1 203.6L602.7 206.6L603.3 209.3L603.9 212.3L604.5 213.8L605.1 215.0L605.6 215.8L606.2 215.5L606.8 214.1L607.3 212.7L607.9 212.3L608.5 215.0L609.1 215.5L609.7 217.6L610.3 218.4L610.9 219.3L611.4 225.5L612.0 231.6L612.5 230.3L613.0 230.1L613.5 228.8L614.0 226.3L614.6 226.8L615.2 226.3L615.8 224.6L616.4 225.4L617.0 225.7L617.5 226.3L618.1 225.1L618.7 222.1L619.3 221.1L619.9 218.8L620.5 216.4L621.1 215.8L621.6 220.3L622.2 224.9L622.8 229.8L623.4 225.8L624.0 221.5L624.6 217.6L625.1 216.6L625.7 214.5L626.3 212.3L626.8 207.3L627.2 201.8L627.7 196.6L628.3 194.2L628.9 191.3L629.6 187.8L630.2 184.3L630.7 192.1L631.2 200.1L631.8 202.5L632.5 205.3L633.0 206.9L633.6 207.2L634.2 207.1L634.8 204.9L635.4 203.5L636.0 201.8L636.5 200.8L637.1 199.5L637.7 200.1L638.3 198.3L638.9 198.6L639.5 198.3L640.0 196.4L640.6 196.0L641.2 194.8L641.8 194.3L642.4 194.7L643.0 195.7L643.5 195.2L644.1 194.5L644.7 193.1L645.2 192.4L645.8 193.6L646.3 191.9L646.8 192.0L647.3 192.2L647.9 191.3L648.5 188.1L649.1 187.8L649.7 187.7L650.3 184.4L650.8 184.3L651.4 183.6L652.0 183.7L652.6 182.6L653.2 182.6L653.8 185.7L654.3 186.1L654.8 183.1L655.3 179.6L655.7 176.4L656.3 175.7L656.8 175.8L657.3 176.1L657.9 177.3L658.4 179.7L659.0 180.6L659.6 182.6L660.2 184.8L660.8 184.7L661.4 186.1L661.9 183.2L662.5 182.4L663.1 180.8L663.7 182.0L664.3 182.8L664.9 182.6L665.4 184.7L666.0 187.1L666.6 189.6L667.2 188.4L667.8 186.3L668.4 186.1L668.9 188.2L669.5 189.5L670.1 189.6L670.7 190.3L671.3 191.7L671.9 193.1L672.4 194.4L673.0 194.9L673.6 196.6L674.2 196.1L674.8 194.7L675.4 194.8L675.9 195.5L676.5 197.0L677.1 198.3L677.7 198.0L678.3 197.2L678.9 196.6L679.5 196.3L680.0 196.5L680.6 197.4L681.2 195.6L681.8 196.4L682.4 194.8L682.8 194.7L683.2 196.6" fill="none" stroke="#45B7D1" stroke-width="2.2" stroke-linejoin="miter"/>
<line x1="75.0" x2="75.0" y1="352.6" y2="282.1" stroke="#FF6B6B" stroke-width="1.3"/>
<path d="M75.0 282.1L75.7 278.4L76.3 275.1L76.9 269.4L77.4 263.6L78.0 257.6L78.6 255.8L79.1 255.1L79.6 253.8L80.1 253.1L80.7 251.5L81.2 252.0L81.7 250.1L82.2 249.8L82.8 251.6L83.3 250.6L83.8 250.6L84.3 251.6L84.9 249.9L85.4 251.1L85.9 251.5L86.5 253.2L87.1 253.1L87.7 255.0L88.2 256.6L88.7 257.0L89.2 255.4L89.8 255.9L90.3 257.6L90.9 258.3L91.5 259.9L92.0 259.3L92.6 257.8L93.1 256.2L93.6 255.5L94.1 253.3L94.7 253.2L95.2 253.2L95.7 254.5L96.2 255.3L96.8 255.4L97.3 256.7L97.8 254.6L98.4 253.2L98.9 252.4L99.4 250.6L99.9 249.7L100.5 251.5L101.1 254.0L101.7 255.8L102.2 255.6L102.7 255.5L103.3 254.0L103.8 255.7L104.3 254.1L104.8 256.0L105.4 255.2L105.9 256.8L106.4 258.8L106.9 259.3L107.5 259.2L108.0 259.0L108.5 257.0L109.0 257.4L109.6 255.8L110.1 255.9L110.6 254.6L111.1 255.0L111.7 255.4L112.2 254.1L112.7 254.4L113.2 253.1L113.8 252.7L114.3 250.8L114.8 251.5L115.3 251.0L115.9 252.6L116.4 251.8L116.9 251.3L117.5 252.3L118.0 251.2L118.5 250.4L119.0 249.1L119.5 247.1L120.1 246.2L120.7 248.2L121.2 250.3L121.8 252.3L122.3 252.7L122.9 251.7L123.4 251.0L123.9 250.9L124.5 250.6L125.0 250.1L125.5 250.8L126.0 253.2L126.6 254.6L127.1 254.1L127.6 254.0L128.1 253.1L128.7 252.2L129.2 252.7L129.7 252.3L130.2 253.0L130.8 252.0L131.3 250.9L131.8 251.1L132.3 249.7L132.9 249.7L133.4 251.1L133.9 252.9L134.4 252.7L135.0 253.2L135.6 248.4L136.2 243.6L136.7 241.5L137.1 240.8L137.6 239.2L138.1 235.6L138.5 231.4L139.0 227.8L139.7 207.7L140.2 208.1L140.6 207.9L141.1 206.8L141.7 209.6L142.3 212.2L142.8 214.7L143.4 216.0L143.9 215.8L144.4 216.4L144.9 216.6L145.5 217.3L146.0 216.9L146.5 219.6L147.0 219.6L147.6 219.3L148.1 220.8L148.6 221.0L149.2 221.1L149.7 221.0L150.2 221.1L150.7 221.7L151.3 222.7L151.8 223.7L152.3 224.6L152.8 225.1L153.4 226.1L153.9 225.8L154.5 227.1L155.1 228.7L155.7 228.8L156.3 230.6L156.9 231.3L157.4 231.2L157.9 230.0L158.4 228.9L159.0 227.9L159.5 226.1L160.0 225.3L160.5 226.6L161.1 226.0L161.6 224.3L162.1 225.2L162.6 223.3L163.2 222.6L163.7 223.7L164.2 221.8L164.7 221.7L165.3 219.1L165.8 216.7L166.3 216.6L166.8 214.5L167.4 212.4L167.9 212.0L168.4 211.4L168.9 212.5L169.5 211.7L170.0 212.2L170.5 212.9L171.0 213.1L171.6 212.1L172.1 211.4L172.6 211.5L173.1 211.2L173.7 210.5L174.2 211.9L174.7 212.6L175.2 212.5L175.8 213.8L176.3 213.5L176.8 216.2L177.3 215.9L177.9 215.9L178.4 217.3L178.9 217.2L179.4 217.4L180.0 215.1L180.5 214.7L181.0 215.6L181.5 214.1L182.1 215.0L182.6 213.1L183.1 214.0L183.7 212.9L184.2 214.6L184.7 215.5L185.2 215.9L185.8 219.0L186.3 219.1L186.8 219.1L187.3 217.7L187.9 216.3L188.4 216.6L188.9 215.6L189.4 215.6L190.0 216.4L190.5 216.2L191.0 217.3L191.5 217.3L192.1 216.2L192.6 216.8L193.1 218.5L193.6 218.2L194.2 217.3L194.7 216.5L195.2 217.5L195.7 215.8L196.3 217.0L196.8 215.6L197.3 215.6L197.8 214.3L198.4 213.4L198.9 212.2L199.4 212.9L199.9 213.9L200.5 211.8L201.0 213.7L201.5 214.1L202.0 212.9L202.6 214.3L203.1 214.6L203.6 217.5L204.1 219.0L204.7 219.1L205.2 220.6L205.7 221.2L206.2 221.9L206.8 222.9L207.3 224.3L207.8 224.6L208.4 226.8L208.9 227.3L209.4 227.7L209.9 229.6L210.5 229.6L211.0 232.1L211.5 232.2L212.0 233.8L212.6 234.8L213.1 234.4L213.6 235.7L214.1 235.8L214.7 233.6L215.2 234.8L215.7 234.8L216.2 235.8L216.8 238.1L217.3 238.3L217.8 238.3L218.3 238.3L218.9 238.3L219.4 239.8L219.9 240.6L220.4 240.1L221.0 242.4L221.5 244.2L222.0 246.6L222.5 248.6L223.1 250.6L223.6 250.2L224.1 251.1L224.6 248.9L225.2 249.7L225.7 248.8L226.2 248.5L226.7 249.4L227.3 252.0L227.8 250.9L228.3 252.3L228.8 253.3L229.4 253.3L229.9 254.2L230.4 253.4L230.9 254.1L231.5 253.3L232.0 252.9L232.5 254.0L233.1 252.9L233.6 252.3L234.1 255.0L234.6 257.4L235.2 259.5L235.7 262.2L236.2 264.6L236.7 264.0L237.3 264.1L237.8 264.6L238.3 266.9L238.8 266.4L239.4 268.1L239.9 269.3L240.4 269.1L240.9 270.8L241.5 271.6L242.0 272.0L242.5 270.6L243.0 270.7L243.6 269.5L244.1 269.9L244.6 269.2L245.1 270.0L245.7 271.9L246.2 271.4L246.7 271.6L247.2 273.4L247.8 272.9L248.3 273.2L248.8 275.1L249.3 275.1L249.9 275.4L250.4 272.8L250.9 274.0L251.4 272.0L252.0 272.5L252.5 271.0L253.0 272.4L253.5 269.8L254.1 269.7L254.6 269.9L255.1 271.4L255.7 270.4L256.2 269.9L256.7 270.4L257.2 271.6L257.8 270.8L258.3 271.9L258.8 270.1L259.3 271.9L259.9 270.7L260.4 271.3L260.9 273.7L261.4 274.4L262.0 273.7L262.5 275.1L263.0 273.8L263.5 273.7L264.1 272.0L264.6 272.7L265.1 271.6L265.6 269.8L266.2 269.0L266.7 270.7L267.2 268.3L267.7 268.1L268.4 265.8L269.0 263.4L269.6 261.5L270.2 259.4L270.8 258.1L271.4 255.3L271.9 255.6L272.5 252.8L273.1 254.9L273.7 255.8L274.3 255.5L274.7 257.3L275.2 259.4L275.7 261.6L276.3 256.4L276.9 251.1L277.3 248.7L277.8 245.8L278.3 248.5L278.8 251.1L279.4 240.7L279.9 230.1L280.6 186.3L281.1 160.0L281.6 160.4L282.1 155.1L282.7 151.7L283.3 148.0L283.9 144.6L284.5 143.5L285.1 141.8L285.7 141.1L286.2 138.6L286.8 136.2L287.4 134.1L288.0 131.6L288.6 129.7L289.2 127.1L289.7 124.7L290.3 122.5L290.9 120.1L291.5 117.1L292.1 113.9L292.6 116.8L293.1 119.1L293.5 121.8L294.1 121.6L294.7 122.0L295.3 122.7L295.9 121.9L296.5 123.0L297.0 121.8L297.6 124.0L298.2 123.7L298.8 125.3L299.3 122.9L299.7 120.7L300.2 118.3L300.8 117.4L301.4 116.2L301.9 114.8L302.5 112.1L303.0 109.3L303.5 106.8L304.1 104.3L304.6 101.5L305.2 100.9L305.8 99.0L306.3 96.5L306.7 94.2L307.2 92.0L307.7 93.5L308.3 93.7L308.8 96.1L309.3 96.4L309.8 96.6L310.4 97.7L310.9 96.1L311.4 97.1L311.9 97.3L312.5 98.7L313.0 97.6L313.5 100.5L314.0 99.3L314.6 100.8L315.1 103.3L315.7 105.7L316.3 107.8L316.9 104.5L317.5 100.7L318.1 97.3L318.7 95.7L319.2 96.2L319.8 95.5L320.4 95.4L321.0 92.7L321.6 92.0L322.1 91.5L322.6 88.1L323.1 88.5L323.7 85.9L324.1 88.3L324.6 91.1L325.1 93.8L325.7 96.3L326.2 98.6L326.8 100.8L327.4 103.0L328.0 104.0L328.6 104.3L329.2 105.8L329.7 106.5L330.3 106.9L330.9 106.3L331.4 107.1L331.9 106.6L332.4 108.2L333.0 107.8L333.5 108.1L334.0 106.8L334.5 106.2L335.1 108.3L335.6 106.9L336.1 107.7L336.6 107.1L337.2 107.0L337.7 107.8L338.2 106.9L338.7 107.5L339.3 108.1L339.8 108.6L340.3 109.1L340.8 110.4L341.4 108.2L342.0 106.4L342.6 104.3L343.2 102.9L343.8 102.1L344.3 100.8L344.9 99.5L345.4 100.1L345.9 99.4L346.4 99.2L347.0 99.9L347.5 99.2L348.0 100.4L348.5 99.1L349.1 99.0L349.6 99.0L350.1 98.3L350.7 96.3L351.2 94.7L351.7 94.9L352.2 93.8L352.8 92.3L353.3 91.1L353.8 89.0L354.3 87.7L354.9 92.6L355.4 97.3L355.9 162.1L356.3 167.0L356.6 177.5L357.2 179.3L357.8 179.2L358.4 181.0L358.9 181.9L359.5 182.7L360.1 183.7L360.7 183.8L361.3 185.2L361.9 186.3L362.4 189.2L363.0 192.3L363.6 195.0L364.2 199.3L364.8 203.1L365.4 207.3L365.9 209.4L366.5 209.7L367.1 212.6L367.7 211.3L368.2 212.1L368.8 212.8L369.4 211.7L369.9 210.8L370.4 212.3L371.0 212.6L371.5 211.2L372.0 211.7L372.5 211.8L373.1 211.9L373.6 210.3L374.1 210.8L374.6 209.9L375.2 210.0L375.7 209.1L376.2 209.2L376.7 208.8L377.3 207.3L377.8 207.8L378.3 206.1L378.8 204.4L379.4 203.9L379.9 203.8L380.5 202.2L381.0 202.2L381.6 201.8L382.2 200.3L382.7 200.9L383.2 204.2L383.7 206.1L384.3 207.3L384.8 208.3L385.3 210.1L385.8 210.7L386.4 213.5L386.9 214.3L387.4 213.7L388.0 216.6L388.5 216.7L389.0 216.7L389.5 216.9L390.1 215.1L390.6 215.5L391.1 214.4L391.6 211.1L392.1 210.8L392.7 208.3L393.3 205.7L393.9 202.9L394.4 204.0L395.0 204.8L395.5 204.9L396.0 206.8L396.5 206.4L397.1 208.5L397.6 207.9L398.1 209.8L398.6 209.8L399.2 210.8L399.7 211.4L400.2 213.2L400.7 214.1L401.3 217.4L401.8 217.8L402.3 220.2L402.8 219.3L403.4 221.7L403.9 222.5L404.4 223.9L404.9 224.2L405.5 225.9L406.0 227.0L406.5 229.5L407.0 230.1L407.6 229.9L408.1 231.4L408.6 233.1L409.1 233.1L409.7 235.3L410.2 236.0L410.7 236.3L411.2 237.2L411.8 236.0L412.3 237.1L412.8 236.4L413.4 236.8L413.9 236.0L414.4 236.6L414.9 236.2L415.5 235.8L416.0 237.0L416.5 237.5L417.0 237.7L417.6 237.1L418.0 239.1L418.5 240.6L419.0 242.3L419.6 236.2L420.2 230.1L420.7 230.3L421.2 229.3L421.8 228.1L422.3 227.0L422.8 226.6L423.3 226.2L423.9 225.9L424.4 227.9L424.9 226.3L425.4 227.4L426.0 226.7L426.5 224.8L427.0 224.4L427.5 222.5L428.1 220.4L428.6 220.4L429.1 217.1L429.6 216.8L430.2 215.7L430.7 214.3L431.2 213.1L431.7 212.9L432.3 211.8L432.8 211.6L433.3 210.8L433.9 209.3L434.5 210.1L435.1 209.9L435.6 211.4L436.1 212.6L436.6 214.4L437.2 216.9L437.7 217.8L438.2 219.1L438.8 219.5L439.3 220.8L439.8 221.0L440.3 222.2L440.9 222.0L441.4 222.0L441.9 223.2L442.4 224.5L443.0 224.8L443.5 226.1L444.0 226.3L444.5 225.9L445.1 227.4L445.6 226.6L446.2 227.6L446.8 229.7L447.3 230.1L447.9 230.5L448.4 232.1L448.9 233.4L449.4 232.4L450.0 233.6L450.5 234.2L451.0 236.7L451.5 237.9L452.1 238.8L452.6 240.6L453.1 240.4L453.6 242.4L454.2 243.6L454.7 244.6L455.2 245.8L455.7 247.8L456.1 249.3L456.7 247.0L457.3 244.8L457.9 242.3L458.4 242.3L458.9 240.9L459.4 239.2L459.9 238.7L460.5 237.1L461.0 235.7L461.5 233.9L462.0 232.1L462.6 229.8L463.1 228.3L463.6 228.1L464.2 227.6L464.7 227.8L465.2 226.9L465.7 225.7L466.3 225.5L466.8 224.3L467.3 223.3L467.8 221.8L468.4 220.4L468.9 222.4L469.5 224.4L470.1 226.6L470.6 227.8L471.2 228.9L471.7 228.8L472.2 228.5L472.7 230.1L473.3 230.7L473.8 229.7L474.3 229.5L474.8 228.2L475.4 229.2L475.9 228.6L476.5 228.5L477.1 227.0L477.6 226.6L478.2 225.7L478.7 225.9L479.2 223.8L479.7 224.5L480.3 223.9L480.8 224.4L481.3 223.0L481.8 221.6L482.4 221.6L482.9 220.4L483.4 219.8L483.9 218.0L484.5 217.1L485.0 217.9L485.5 216.1L486.1 215.2L486.7 214.4L487.3 215.2L487.8 216.3L488.4 215.8L489.0 216.1L489.5 209.0L489.9 202.1L490.4 195.0L490.9 195.2L491.5 193.3L492.0 194.1L492.5 193.3L493.0 194.5L493.6 195.5L494.1 194.8L494.6 196.4L495.1 196.8L495.7 196.3L496.2 197.3L496.7 196.5L497.2 198.2L497.8 197.7L498.2 192.9L498.7 187.6L499.2 182.8L499.8 176.9L500.4 171.4L501.0 171.8L501.6 170.4L502.1 169.2L502.7 170.8L503.2 169.4L503.7 172.3L504.3 172.3L504.8 172.7L505.3 171.9L505.8 171.8L506.4 172.3L506.9 172.0L507.4 170.9L507.9 170.3L508.5 171.6L509.0 170.6L509.5 172.8L510.0 171.8L510.6 169.7L511.2 167.9L511.8 165.7L512.3 166.1L512.8 165.6L513.4 164.6L513.9 165.1L514.4 164.8L515.0 162.7L515.6 161.6L516.2 161.3L516.7 161.3L517.2 159.9L517.7 160.4L518.3 158.6L518.8 158.7L519.3 158.9L519.8 158.5L520.4 157.1L520.9 156.3L521.4 156.9L521.9 155.8L522.5 155.2L523.0 153.3L523.5 152.6L524.0 152.6L524.6 151.1L525.1 152.1L525.6 152.5L526.2 150.4L526.7 150.8L527.2 149.8L527.7 151.7L528.3 152.1L528.8 152.7L529.3 151.7L529.8 151.1L530.4 149.5L530.9 149.9L531.4 147.2L531.9 147.3L532.5 147.4L533.0 145.6L533.5 146.0L534.0 145.9L534.6 145.6L535.1 144.5L535.6 143.3L536.1 142.8L536.7 143.5L537.2 142.0L537.8 140.5L538.4 139.3L538.9 137.7L539.5 137.8L540.1 140.0L540.7 140.3L541.3 138.1L541.9 137.0L542.5 135.0L543.0 135.5L543.6 135.1L544.2 133.3L544.8 130.7L545.4 128.8L546.0 126.3L546.5 126.9L547.1 125.2L547.7 125.4L548.3 123.6L548.9 122.7L549.5 121.0L550.0 122.2L550.5 121.1L551.0 122.5L551.6 122.4L552.1 121.9L552.6 121.4L553.1 123.6L553.7 121.7L554.2 122.4L554.7 123.7L555.2 123.7L555.8 121.8L556.3 122.3L556.8 121.3L557.3 121.9L557.9 121.5L558.4 122.0L558.9 121.9L559.4 119.3L560.0 120.2L560.5 118.6L561.0 120.1L561.5 117.7L562.1 118.4L562.5 118.7L563.0 119.2L563.5 121.0L564.1 123.4L564.6 126.0L565.2 128.9L565.8 128.4L566.4 127.8L567.0 126.3L567.6 126.2L568.1 126.0L568.7 124.5L569.3 125.8L569.9 126.0L570.5 127.2L571.1 129.2L571.6 131.8L572.2 132.4L572.8 136.9L573.4 141.0L574.0 145.6L574.6 146.6L575.2 145.7L575.7 148.1L576.2 147.4L576.7 147.0L577.3 147.5L577.8 146.7L578.3 145.6L578.8 144.4L579.4 142.2L579.9 142.3L580.4 141.5L580.9 141.3L581.5 140.5L582.0 141.8L582.5 140.5L583.0 141.4L583.6 143.0L584.1 144.2L584.6 145.3L585.1 145.8L585.7 146.7L586.2 147.1L586.7 146.2L587.2 148.4L587.8 147.5L588.3 147.0L588.8 149.3L589.3 149.5L589.9 149.8L590.4 149.3L591.0 151.4L591.6 153.7L592.1 156.3L592.7 157.4L593.2 156.9L593.7 157.0L594.3 158.9L594.8 158.0L595.3 157.8L595.8 159.9L596.4 160.5L596.9 160.6L597.4 162.4L598.0 166.3L598.6 170.3L599.1 173.9L599.6 177.5L600.0 180.8L600.6 180.8L601.2 183.2L601.8 184.3L602.3 182.4L602.8 183.3L603.4 180.6L603.9 180.8L604.5 181.0L605.0 183.1L605.6 185.3L606.2 186.1L606.7 185.9L607.2 185.8L607.7 187.8L608.3 188.2L608.8 187.8L609.3 188.3L609.8 186.6L610.4 186.6L610.9 185.8L611.4 186.1L612.0 182.6L612.6 179.0L613.2 175.6L613.6 187.7L614.0 200.1L614.6 201.8L615.1 203.3L615.6 203.4L616.2 203.3L616.7 205.3L617.2 204.7L617.7 203.1L618.3 203.4L618.8 201.7L619.3 200.1L619.8 201.3L620.4 201.3L620.9 201.2L621.4 202.5L621.9 201.8L622.5 205.5L623.1 208.7L623.7 212.3L624.2 210.4L624.7 209.9L625.3 209.2L625.8 207.1L626.3 207.1L626.8 206.3L627.4 206.6L627.9 204.9L628.4 206.5L628.9 205.3L629.5 206.6L630.0 206.6L630.5 207.5L631.0 208.5L631.6 209.7L632.1 209.6L632.6 211.0L633.1 210.8L633.7 211.2L634.2 211.5L634.7 211.1L635.2 213.5L635.8 212.6L636.3 213.1L636.8 214.1L637.3 213.7L637.9 216.7L638.4 216.1L638.9 217.9L639.5 217.6L640.0 219.0L640.5 219.5L641.0 219.4L641.6 220.1L642.1 219.3L642.7 221.6L643.2 222.4L643.8 222.8L644.3 221.3L644.8 221.7L645.2 221.1L645.9 231.6L646.4 225.8L646.9 220.2L647.3 214.1L647.9 215.4L648.5 215.8L649.1 215.8L649.6 216.1L650.1 214.8L650.7 215.9L651.2 214.8L651.7 214.1L652.2 213.5L652.8 213.3L653.3 214.2L653.8 212.8L654.3 212.3L654.9 211.2L655.4 210.8L655.9 211.8L656.4 211.1L657.0 210.6L657.5 210.2L658.0 207.0L658.5 206.2L659.1 205.5L659.6 203.6L660.1 201.4L660.7 200.5L661.2 200.5L661.7 198.8L662.2 198.3L662.8 196.7L663.3 196.4L663.8 196.7L664.3 195.7L664.9 197.3L665.5 197.7L666.0 199.2L666.6 201.8L667.1 201.8L667.7 200.4L668.2 198.4L668.7 198.3L669.3 200.1L669.9 198.9L670.4 200.6L671.0 201.8L671.5 203.0L672.0 203.0L672.6 202.3L673.1 204.2L673.6 203.6L674.1 203.3L674.7 203.4L675.2 203.0L675.7 201.3L676.2 200.9L676.8 201.6L677.3 201.4L677.8 202.6L678.3 202.4L678.9 201.8L679.4 202.0L679.9 201.9L680.4 202.0L681.0 199.8L681.5 200.1L682.1 199.0L682.7 200.1L683.2 199.2" fill="none" stroke="#FF6B6B" stroke-width="2.2" stroke-linejoin="miter"/>
<line x1="94.3" x2="94.3" y1="352.6" y2="263.7" stroke="#2AA086" stroke-width="1.3"/>
<path d="M94.3 263.7L94.9 264.7L95.5 264.5L96.1 262.1L96.7 262.0L97.3 262.9L97.8 263.5L98.4 263.1L98.9 262.7L99.4 261.7L99.9 262.0L100.5 262.8L101.0 263.3L101.5 263.8L102.0 263.2L102.5 264.6L103.1 264.6L103.7 264.6L104.3 265.6L104.9 266.4L105.5 266.4L106.1 265.5L106.6 266.5L107.1 267.1L107.6 267.5L108.2 267.8L108.7 269.9L109.2 268.0L109.7 268.4L110.3 267.3L110.8 266.8L111.3 266.4L111.8 267.7L112.4 267.1L112.9 267.6L113.4 267.1L113.9 268.1L114.5 266.7L115.0 267.3L115.5 266.7L116.0 267.4L116.6 267.2L117.2 268.3L117.7 267.4L118.3 266.0L118.9 267.6L119.5 267.2L120.1 266.4L120.7 267.5L121.2 268.5L121.8 268.8L122.4 269.4L123.0 268.9L123.6 269.9L124.2 270.6L124.7 270.1L125.3 267.7L125.9 268.7L126.5 268.2L127.1 267.2L127.7 266.7L128.2 266.4L128.8 265.9L129.4 266.5L130.0 265.0L130.6 264.6L131.1 264.7L131.6 262.8L132.2 263.5L132.7 262.8L133.2 261.1L133.7 260.6L134.3 260.6L134.8 261.1L135.3 260.2L135.8 259.3L136.4 259.7L136.9 259.3L137.4 260.0L137.9 261.2L138.5 261.1L139.0 259.6L139.5 260.7L140.0 258.4L140.6 259.3L141.1 257.6L141.7 256.5L142.3 257.6L142.8 255.8L143.4 257.4L143.9 258.0L144.4 259.0L144.9 260.4L145.5 261.1L146.0 260.6L146.5 259.2L147.0 258.3L147.6 258.3L148.1 257.6L148.7 258.5L149.3 257.6L149.9 256.1L150.4 257.8L151.0 257.4L151.6 256.7L152.1 257.2L152.7 254.9L153.2 255.8L153.7 253.5L154.2 254.1L154.8 253.4L155.3 251.4L155.8 250.3L156.3 250.8L156.9 248.8L157.6 224.3L158.0 222.7L158.5 223.1L159.0 223.2L159.5 221.7L160.0 220.9L160.5 220.6L161.1 222.1L161.6 220.8L162.1 220.8L162.6 220.8L163.2 218.6L163.7 218.9L164.2 217.9L164.7 218.2L165.3 216.4L165.8 216.0L166.3 213.6L166.8 214.9L167.4 211.7L167.9 212.0L168.5 215.1L169.1 217.6L169.6 220.8L170.2 221.2L170.7 223.7L171.2 223.1L171.7 224.2L172.3 226.1L172.8 227.4L173.3 227.5L173.8 227.5L174.4 230.8L174.9 230.4L175.4 229.0L175.9 228.2L176.5 228.5L177.0 228.6L177.5 227.8L178.0 228.1L178.6 226.1L179.1 226.4L179.6 225.2L180.2 226.1L180.7 226.5L181.2 227.8L181.7 228.2L182.2 229.2L182.8 228.7L183.3 228.3L183.8 227.5L184.3 226.0L184.9 224.4L185.4 223.4L185.9 223.3L186.5 224.9L187.0 224.5L187.5 224.5L188.0 226.1L188.6 226.1L189.1 227.3L189.6 225.7L190.1 227.0L190.7 226.9L191.2 226.5L191.7 226.6L192.2 225.5L192.8 227.4L193.3 226.1L193.8 225.6L194.3 226.7L194.9 226.4L195.4 225.6L195.9 226.9L196.4 227.6L197.0 227.1L197.5 227.4L198.0 227.9L198.5 229.6L199.1 229.1L199.6 229.2L200.1 230.9L200.6 231.0L201.2 231.3L201.7 231.3L202.2 229.9L202.7 228.9L203.3 225.7L203.8 225.2L204.3 225.2L204.8 224.9L205.4 225.9L205.9 226.2L206.4 226.1L206.9 227.3L207.5 227.6L208.0 227.0L208.5 228.0L209.1 228.7L209.6 229.3L210.1 228.5L210.6 229.1L211.2 230.6L211.7 231.3L212.2 230.0L212.7 231.2L213.3 229.6L213.8 228.9L214.3 229.6L214.8 229.1L215.4 229.6L215.9 229.9L216.4 231.0L216.9 231.3L217.5 230.9L218.0 230.1L218.5 230.6L219.0 229.2L219.6 229.6L220.1 231.2L220.7 231.9L221.3 231.3L221.9 234.3L222.5 237.1L223.1 240.1L223.6 240.8L224.1 241.7L224.6 241.1L225.2 242.7L225.7 243.6L226.2 244.0L226.7 243.5L227.3 243.6L227.8 245.7L228.3 245.3L228.9 247.6L229.5 250.0L230.1 252.3L230.6 253.2L231.1 252.3L231.6 251.3L232.2 252.8L232.7 251.5L233.2 251.7L233.8 251.3L234.3 253.5L234.8 252.6L235.3 254.1L235.9 254.7L236.4 257.0L236.9 257.7L237.4 257.1L238.0 259.3L238.5 259.6L239.0 259.8L239.5 260.4L240.1 260.0L240.6 261.1L241.1 261.7L241.6 260.7L242.2 261.6L242.7 262.2L243.2 262.9L243.7 263.9L244.3 261.8L244.8 263.5L245.3 262.1L245.8 262.9L246.4 263.6L246.9 263.6L247.4 264.3L247.9 265.6L248.5 265.5L249.0 265.2L249.5 264.5L250.0 264.5L250.6 264.4L251.1 265.5L251.6 267.6L252.1 268.3L252.7 270.3L253.2 270.9L253.7 271.6L254.2 271.1L254.8 273.4L255.3 274.4L255.8 275.0L256.4 275.1L256.9 275.5L257.4 275.5L257.9 276.1L258.5 277.3L259.0 276.9L259.5 276.3L260.0 276.9L260.6 276.8L261.1 278.0L261.6 276.9L262.1 277.8L262.7 278.3L263.2 278.2L263.7 277.1L264.2 277.7L264.8 277.4L265.4 278.3L266.0 278.6L266.5 276.3L267.1 275.1L267.7 274.0L268.2 272.9L268.8 270.4L269.3 269.3L269.9 266.9L270.4 265.5L270.9 265.8L271.5 267.1L272.0 264.6L272.5 265.1L273.0 265.6L273.6 265.4L274.1 266.2L274.6 268.9L275.1 268.6L275.7 266.5L276.3 264.0L276.9 261.6L277.5 259.5L278.1 258.8L278.6 258.1L279.3 254.5L279.9 251.1L280.6 230.1L280.9 186.3L281.4 163.5L282.1 159.5L282.7 160.4L283.2 161.0L283.7 160.9L284.3 161.7L284.8 162.1L285.3 160.8L285.8 161.5L286.4 162.2L286.9 161.4L287.4 160.4L287.9 157.6L288.5 156.9L289.0 155.6L289.5 152.8L290.0 151.6L290.6 149.8L291.2 147.5L291.8 145.5L292.3 146.5L292.8 146.3L293.4 148.3L293.9 148.3L294.4 148.1L295.0 147.4L295.6 145.5L296.2 145.5L296.8 146.5L297.3 146.6L297.9 149.0L298.5 146.7L299.1 144.5L299.7 142.0L300.3 140.9L300.8 141.4L301.4 141.1L302.0 142.2L302.6 143.2L303.2 144.6L303.8 142.4L304.3 140.1L304.9 137.6L305.5 136.4L306.1 134.0L306.7 132.3L307.3 133.2L307.8 131.3L308.4 131.5L309.0 133.3L309.5 134.3L310.0 135.8L310.5 137.2L311.1 137.6L311.6 135.9L312.1 135.8L312.6 134.2L313.2 133.8L313.7 132.3L314.2 133.2L314.7 132.0L315.3 130.1L315.8 130.8L316.3 130.6L316.8 130.8L317.4 130.8L317.9 129.9L318.4 130.0L318.9 128.8L319.5 126.7L320.0 128.2L320.5 126.8L321.0 125.6L321.6 124.5L322.2 124.0L322.7 122.5L323.3 120.1L323.8 118.9L324.4 120.5L324.9 120.2L325.4 118.6L325.9 119.2L326.5 120.7L327.0 121.2L327.5 121.1L328.1 123.5L328.6 123.6L329.1 123.4L329.6 125.3L330.2 125.5L330.7 125.8L331.2 127.1L331.8 125.2L332.4 122.9L333.0 121.0L333.5 120.4L334.0 122.5L334.5 120.4L335.1 120.4L335.6 121.8L336.1 121.1L336.6 121.3L337.2 120.1L337.7 119.7L338.2 118.3L338.7 118.1L339.3 118.4L339.8 117.4L340.3 117.0L340.8 117.5L341.4 117.1L341.9 115.6L342.4 115.3L342.9 116.7L343.5 115.7L344.1 112.9L344.7 110.4L345.2 112.3L345.6 114.1L346.1 115.7L346.7 115.5L347.3 116.1L347.8 116.4L348.4 116.6L349.0 114.8L349.6 115.7L350.1 115.5L350.7 116.8L351.2 117.7L351.7 118.0L352.2 119.2L352.8 118.9L353.3 121.1L353.8 123.0L354.3 122.4L354.9 123.6L355.4 124.0L356.0 123.9L356.6 124.3L357.2 125.7L357.8 124.6L358.4 125.3L358.9 125.4L359.5 124.7L360.1 124.6L360.7 125.2L361.3 122.8L361.9 123.6L362.4 124.1L363.0 122.5L363.6 123.1L364.2 123.1L364.8 122.5L365.4 121.8L365.9 121.4L366.5 122.4L367.1 120.4L367.7 121.6L368.3 120.8L368.9 121.0L369.4 120.7L369.9 121.1L370.4 120.6L371.0 119.9L371.5 119.2L372.0 120.7L372.5 118.6L373.1 117.5L373.8 112.3L374.1 170.1L374.6 173.7L375.2 177.5L375.8 182.8L376.4 188.0L377.0 192.0L377.6 196.1L378.1 200.3L378.7 202.6L379.3 204.2L379.9 206.4L380.4 208.4L380.9 208.6L381.5 209.8L382.0 210.9L382.5 212.6L383.0 212.9L383.6 215.2L384.1 215.9L384.6 218.0L385.1 219.6L385.7 219.6L386.2 221.6L386.7 222.2L387.2 221.5L387.8 222.2L388.3 222.2L388.8 222.6L389.3 220.7L389.9 219.8L390.4 220.4L390.9 219.4L391.5 219.0L392.0 219.8L392.5 218.7L393.0 218.7L393.6 216.0L394.2 213.6L394.8 210.8L395.3 209.3L395.8 209.8L396.4 208.5L396.9 207.0L397.4 206.4L397.9 207.2L398.5 206.0L399.0 207.4L399.5 207.5L400.0 206.4L400.6 208.5L401.2 210.6L401.8 212.6L402.3 214.7L402.8 215.3L403.4 216.3L403.9 217.7L404.4 217.8L404.9 219.8L405.5 220.2L406.0 221.6L406.5 220.8L407.0 222.2L407.6 223.4L408.1 224.4L408.6 224.5L409.1 225.4L409.7 226.6L410.2 226.1L410.7 228.4L411.2 227.3L411.8 227.9L412.3 228.3L412.8 229.7L413.4 228.2L413.9 230.5L414.4 228.8L414.9 230.1L415.5 229.2L416.0 230.4L416.5 230.8L417.0 232.5L417.6 231.8L418.1 231.3L418.7 229.6L419.3 227.4L419.9 230.0L420.5 232.7L421.1 235.3L421.6 235.0L422.1 236.9L422.6 236.1L423.2 236.2L423.7 237.1L424.2 238.1L424.7 237.6L425.3 238.7L425.8 240.9L426.3 240.6L426.8 239.4L427.4 239.3L427.9 239.3L428.4 239.3L428.9 239.7L429.5 238.8L430.0 237.7L430.5 237.2L431.0 236.3L431.6 236.2L432.1 235.0L432.6 235.4L433.1 234.2L433.7 233.8L434.2 233.6L434.7 233.9L435.2 231.8L435.8 231.6L436.3 233.0L436.8 231.8L437.4 232.8L438.0 234.9L438.6 235.3L439.1 233.2L439.6 232.9L440.2 232.5L440.7 230.0L441.2 229.2L441.7 230.0L442.3 229.8L442.8 229.5L443.3 231.1L443.8 230.1L444.4 228.5L444.9 227.4L445.4 226.4L445.9 224.8L446.5 226.1L447.1 229.2L447.6 230.3L448.2 231.8L448.7 232.7L449.3 233.3L449.8 235.1L450.3 235.9L450.8 235.3L451.4 236.9L451.9 236.6L452.4 237.2L452.9 238.2L453.5 238.8L454.0 238.4L454.5 239.3L455.0 242.2L455.6 240.7L456.1 242.3L456.6 243.1L457.1 242.1L457.7 242.3L458.2 239.9L458.7 240.6L459.2 240.4L459.8 242.0L460.3 240.4L460.8 241.0L461.4 242.3L461.9 241.4L462.4 240.5L462.9 239.9L463.5 240.7L464.0 239.7L464.5 238.2L465.0 239.8L465.6 238.5L466.1 236.5L466.6 237.1L467.1 236.7L467.7 233.6L468.2 232.8L468.7 231.6L469.2 230.1L469.8 229.9L470.3 231.5L470.8 231.1L471.3 232.1L471.9 233.6L472.4 235.3L472.9 235.8L473.4 235.7L474.0 236.8L474.5 237.1L475.1 236.7L475.6 233.5L476.2 233.1L476.8 231.8L477.3 230.7L477.8 230.5L478.3 230.3L478.9 230.4L479.4 230.9L480.0 230.1L480.5 230.8L481.1 231.8L481.7 230.1L482.3 229.2L482.9 227.4L483.5 229.2L484.1 230.2L484.6 230.1L485.2 231.8L485.8 232.4L486.4 233.6L487.0 236.4L487.6 236.2L488.1 238.8L488.8 238.3L489.4 239.7L489.9 231.5L490.4 223.1L490.9 222.5L491.5 220.6L492.0 220.1L492.5 219.6L493.0 218.7L493.6 218.7L494.1 218.3L494.6 217.9L495.1 217.8L495.7 216.8L496.3 215.1L496.9 212.6L497.5 211.0L498.1 209.0L498.6 207.3L499.1 199.3L499.5 191.5L500.0 189.0L500.5 186.5L500.9 183.7L501.5 183.2L502.0 184.6L502.5 184.8L503.0 184.5L503.6 185.4L504.1 184.4L504.6 186.2L505.1 185.9L505.7 187.2L506.2 186.2L506.7 187.0L507.2 187.0L507.8 186.8L508.3 186.3L508.8 186.9L509.3 186.8L509.9 186.2L510.4 185.1L510.9 186.3L511.5 185.4L512.1 183.9L512.7 181.5L513.2 182.1L513.7 181.4L514.2 179.8L514.8 180.0L515.3 180.6L515.8 178.6L516.3 178.8L516.9 177.5L517.4 175.6L517.9 175.3L518.4 175.9L519.0 175.5L519.5 174.8L520.0 173.1L520.5 172.7L521.1 171.3L521.6 170.2L522.1 170.9L522.7 169.7L523.2 168.3L523.7 166.7L524.2 167.2L524.8 165.3L525.3 163.9L525.8 163.1L526.3 162.3L526.9 162.6L527.4 161.4L527.9 161.4L528.4 160.4L529.0 158.8L529.5 159.5L530.0 157.8L530.5 158.7L531.1 156.9L531.6 155.9L532.1 155.8L532.6 156.0L533.2 155.3L533.7 155.2L534.2 154.7L534.7 155.2L535.3 152.9L535.8 153.8L536.3 152.6L536.8 153.4L537.4 154.0L537.9 153.5L538.4 153.8L538.9 154.3L539.5 152.2L540.1 150.2L540.7 148.2L541.2 147.4L541.7 147.1L542.3 147.6L542.8 146.7L543.3 147.3L543.8 147.0L544.4 147.1L544.9 146.3L545.4 145.8L546.0 146.4L546.5 146.0L547.0 145.9L547.5 143.6L548.1 143.9L548.6 142.9L549.1 142.8L549.6 142.8L550.2 141.8L550.7 140.3L551.2 140.3L551.7 139.7L552.3 141.5L552.8 140.3L553.3 139.8L553.8 141.2L554.4 141.4L554.9 139.0L555.4 138.6L555.9 137.9L556.5 137.7L557.0 136.7L557.5 137.5L558.0 136.2L558.6 136.1L559.1 135.9L559.6 135.9L560.1 137.1L560.7 135.2L561.2 136.8L561.7 136.8L562.2 135.5L562.8 135.2L563.3 136.0L563.8 135.1L564.3 135.0L564.9 133.4L565.4 134.2L565.9 134.5L566.4 133.3L567.0 132.4L567.6 131.2L568.1 130.8L568.7 128.9L569.3 130.5L569.9 129.2L570.5 130.7L571.1 131.0L571.6 133.6L572.2 133.3L572.8 135.8L573.4 135.5L574.0 137.7L574.5 139.7L575.0 141.7L575.5 142.3L576.0 142.1L576.6 142.1L577.1 141.3L577.6 140.2L578.1 140.5L578.7 139.4L579.2 138.7L579.7 139.9L580.2 138.2L580.8 138.8L581.4 140.8L581.9 142.0L582.5 144.0L583.0 144.4L583.6 146.2L584.1 145.3L584.6 146.1L585.1 146.6L585.7 146.5L586.2 146.3L586.7 146.5L587.2 147.4L587.8 147.5L588.3 148.8L588.8 147.5L589.3 150.2L589.9 150.1L590.4 150.2L591.0 153.1L591.6 156.7L592.1 159.8L592.7 160.4L593.3 161.6L593.9 162.4L594.4 161.9L595.0 163.5L595.5 164.0L596.0 165.2L596.5 165.0L597.1 165.1L597.6 165.2L598.1 165.1L598.6 163.6L599.2 164.2L599.7 163.1L600.2 164.5L600.7 163.8L601.3 164.0L601.8 165.0L602.3 164.4L602.8 164.8L603.4 164.8L603.9 164.7L604.4 164.2L604.9 164.6L605.5 161.8L606.0 162.2L606.5 160.3L607.0 160.7L607.6 160.9L608.1 160.2L608.6 159.2L609.1 159.5L609.7 159.8L610.3 162.5L610.9 165.0L611.4 166.8L611.8 168.8L612.3 170.3L612.8 169.9L613.4 169.9L613.9 171.3L614.4 170.6L614.9 170.3L615.5 169.7L616.0 171.7L616.5 171.0L617.0 172.8L617.5 172.0L618.1 172.7L618.6 173.5L619.1 174.1L619.7 173.5L620.2 173.8L620.8 176.1L621.3 174.9L621.9 177.3L622.5 178.7L623.1 181.6L623.7 182.6L624.2 182.0L624.7 184.4L625.3 185.9L625.8 185.9L626.3 186.1L626.9 187.5L627.5 186.2L628.1 187.8L628.7 185.8L629.2 183.8L629.8 181.7L630.4 180.6L631.0 179.7L631.6 179.1L632.0 185.3L632.5 191.3L633.0 194.1L633.6 196.9L634.2 200.1L634.7 201.0L635.2 202.6L635.8 203.0L636.3 203.3L636.8 203.6L637.3 203.8L637.9 206.0L638.4 204.5L638.9 205.7L639.5 207.1L640.0 208.5L640.5 209.5L641.0 208.9L641.6 210.9L642.1 210.6L642.6 210.1L643.1 211.9L643.7 211.1L644.2 212.0L644.7 213.2L645.3 212.7L645.9 212.6L646.5 214.1L647.0 216.2L647.6 218.5L648.2 220.6L648.7 222.8L649.3 221.5L649.8 218.2L650.3 217.6L650.8 215.8L651.4 216.6L651.9 217.0L652.4 219.0L652.9 217.7L653.5 219.3L654.0 219.9L654.5 220.6L655.0 221.1L655.6 223.3L656.1 222.8L656.6 222.9L657.1 222.5L657.7 222.2L658.2 222.0L658.7 222.0L659.2 223.3L659.8 223.1L660.3 222.9L660.8 221.8L661.4 222.8L661.9 222.0L662.4 219.8L662.9 219.3L663.5 217.4L664.0 217.6L664.5 217.9L665.0 218.4L665.6 217.4L666.1 217.1L666.6 216.7L667.1 217.3L667.7 219.0L668.2 220.3L668.7 221.4L669.2 222.8L669.8 222.8L670.3 223.2L670.8 225.0L671.3 226.1L671.9 225.5L672.4 226.4L672.9 226.1L673.4 224.8L674.0 225.7L674.5 226.3L675.1 226.6L675.7 226.4L676.2 224.6L676.8 223.0L677.4 221.3L678.0 219.3L678.5 219.1L679.0 217.3L679.6 217.8L680.1 216.2L680.6 215.8L681.1 216.2L681.7 214.7L682.2 214.7L682.7 213.9L683.2 213.2" fill="none" stroke="#2AA086" stroke-width="2.2" stroke-linejoin="miter"/>
<rect x="56.0" y="6.0" width="627.4" height="346.55" fill="none" stroke="#2b2b2b" stroke-width="1.3"/>
<line x1="47.6" x2="56.0" y1="352.6" y2="352.6" stroke="#2b2b2b" stroke-width="1.3"/>
<text x="48.4" y="360.2" text-anchor="end" class="ax">0</text>
<line x1="47.6" x2="56.0" y1="283.7" y2="283.7" stroke="#2b2b2b" stroke-width="1.3"/>
<text x="48.4" y="290.4" text-anchor="end" class="ax">10</text>
<line x1="47.6" x2="56.0" y1="214.0" y2="214.0" stroke="#2b2b2b" stroke-width="1.3"/>
<text x="48.4" y="221.4" text-anchor="end" class="ax">20</text>
<line x1="47.6" x2="56.0" y1="144.9" y2="144.9" stroke="#2b2b2b" stroke-width="1.3"/>
<text x="48.4" y="151.4" text-anchor="end" class="ax">30</text>
<line x1="47.6" x2="56.0" y1="75.0" y2="75.0" stroke="#2b2b2b" stroke-width="1.3"/>
<text x="48.4" y="82.3" text-anchor="end" class="ax">40</text>
<line x1="47.6" x2="56.0" y1="6.0" y2="6.0" stroke="#2b2b2b" stroke-width="1.3"/>
<text x="48.4" y="12.7" text-anchor="end" class="ax">50</text>
<line x1="68.0" x2="68.0" y1="352.55" y2="363.4" stroke="#2b2b2b" stroke-width="1.3"/>
<text x="67.1" y="376.4" text-anchor="middle" class="ax">2018</text>
<line x1="165.2" x2="165.2" y1="352.55" y2="363.4" stroke="#2b2b2b" stroke-width="1.3"/>
<text x="164.3" y="376.4" text-anchor="middle" class="ax">2019</text>
<line x1="262.5" x2="262.5" y1="352.55" y2="363.4" stroke="#2b2b2b" stroke-width="1.3"/>
<text x="261.6" y="376.4" text-anchor="middle" class="ax">2020</text>
<line x1="359.7" x2="359.7" y1="352.55" y2="363.4" stroke="#2b2b2b" stroke-width="1.3"/>
<text x="358.8" y="376.4" text-anchor="middle" class="ax">2021</text>
<line x1="456.9" x2="456.9" y1="352.55" y2="363.4" stroke="#2b2b2b" stroke-width="1.3"/>
<text x="456.0" y="376.4" text-anchor="middle" class="ax">2022</text>
<line x1="554.2" x2="554.2" y1="352.55" y2="363.4" stroke="#2b2b2b" stroke-width="1.3"/>
<text x="553.3" y="376.4" text-anchor="middle" class="ax">2023</text>
<line x1="651.4" x2="651.4" y1="352.55" y2="363.4" stroke="#2b2b2b" stroke-width="1.3"/>
<text x="650.5" y="376.4" text-anchor="middle" class="ax">2024</text>
<text transform="translate(14.3 179.7) rotate(-90)" text-anchor="middle" class="yl">TCI</text>
<rect x="67" y="17.55" width="9.5" height="7.70" fill="#45B7D1" stroke="#111" stroke-width="1.1"/>
<text x="87.8" y="28.1" class="lg">window=150</text>
<rect x="67" y="32.75" width="9.5" height="6.70" fill="#FF6B6B" stroke="#111" stroke-width="1.1"/>
<text x="87.8" y="43.1" class="lg">window=200</text>
<rect x="67" y="47.65" width="9.5" height="6.80" fill="#2AA086" stroke="#111" stroke-width="1.1"/>
<text x="87.8" y="58.1" class="lg">window=250</text>
<text x="407" y="29.2" text-anchor="middle" class="an" fill="#E23B3B">COVID-19</text>
<text x="561" y="64.2" text-anchor="middle" class="an" fill="#1C8A78">Russia-Ukraine War</text>
<text x="293.5" y="421.0" class="cap">(a)</text>
<text x="341.4" y="421.0" class="cap">Overall</text>
</g>
<g>
<rect x="262.5" y="460.5" width="290.9" height="346.70" fill="#FF6B6B" fill-opacity="0.2"/>
<rect x="471.3" y="460.5" width="179.6" height="346.70" fill="#4ECDC4" fill-opacity="0.2"/>
<line x1="56.0" x2="683.4" y1="738.3" y2="738.3" stroke="#fff" stroke-width="1.1" stroke-dasharray="5.5 2.6" stroke-opacity="0.85"/>
<line x1="56.0" x2="683.4" y1="668.6" y2="668.6" stroke="#fff" stroke-width="1.1" stroke-dasharray="5.5 2.6" stroke-opacity="0.85"/>
<line x1="56.0" x2="683.4" y1="599.5" y2="599.5" stroke="#fff" stroke-width="1.1" stroke-dasharray="5.5 2.6" stroke-opacity="0.85"/>
<line x1="56.0" x2="683.4" y1="529.6" y2="529.6" stroke="#fff" stroke-width="1.1" stroke-dasharray="5.5 2.6" stroke-opacity="0.85"/>
<path d="M56.7 727.6L57.2 728.0L57.7 727.9L58.2 728.4L58.8 728.5L59.3 728.4L59.9 730.3L60.5 730.2L61.0 730.4L61.6 729.5L62.1 727.9L62.6 728.2L63.1 727.6L63.7 727.6L64.2 727.8L64.7 729.6L65.2 730.0L65.8 729.3L66.4 729.0L66.9 731.3L67.5 731.1L68.1 733.1L68.7 734.3L69.3 736.4L69.8 736.9L70.3 738.8L70.8 739.4L71.4 740.9L71.9 741.6L72.4 741.6L73.0 740.1L73.5 741.1L74.0 741.2L74.5 739.9L75.0 740.0L75.5 738.3L75.9 737.2L76.6 722.3L77.2 720.5L77.8 719.5L78.3 718.9L78.9 718.8L79.5 719.3L80.0 717.5L80.6 717.2L81.2 717.1L81.8 717.0L82.4 714.9L83.0 714.6L83.6 713.6L84.1 716.5L84.6 719.2L85.0 722.3L85.6 724.3L86.2 726.6L86.8 727.6L87.3 726.5L87.8 726.3L88.4 726.4L88.9 725.2L89.4 725.8L89.9 725.1L90.5 725.1L91.0 724.1L91.5 723.1L92.0 722.3L92.6 721.3L93.1 718.1L93.6 717.2L94.1 715.1L94.7 713.6L95.3 712.9L95.8 711.0L96.4 711.0L96.9 711.7L97.5 710.5L98.0 710.8L98.5 712.3L99.0 711.8L99.6 714.5L100.2 715.2L100.8 717.1L101.3 718.7L101.9 720.0L102.4 721.9L102.9 724.3L103.4 725.8L104.0 722.8L104.6 719.8L105.2 717.1L105.8 718.2L106.3 718.7L106.9 720.6L107.5 721.8L108.1 723.0L108.7 723.2L109.3 721.0L109.9 718.5L110.4 716.2L111.0 716.2L111.6 716.6L112.2 717.1L112.8 714.9L113.4 715.2L113.9 713.6L114.5 709.8L115.0 706.0L115.5 702.2L116.0 698.7L116.5 703.0L117.0 707.5L117.5 711.8L118.1 710.7L118.7 710.1L119.1 707.0L119.6 703.7L120.1 700.4L120.5 703.5L121.0 706.9L121.5 710.1L122.1 709.8L122.6 707.8L123.2 706.6L123.8 707.7L124.3 707.4L124.8 709.2L125.3 710.1L125.9 709.6L126.4 709.2L126.9 708.9L127.4 708.8L128.0 708.3L128.5 707.7L129.0 706.9L129.5 705.5L130.1 705.4L130.6 704.8L131.2 706.4L131.8 705.8L132.3 706.6L132.9 709.3L133.5 712.2L134.1 715.3L134.7 714.2L135.3 712.0L135.8 711.8L136.4 709.7L136.9 708.5L137.4 708.0L137.9 708.0L138.5 705.7L139.1 706.2L139.6 706.8L140.2 707.5L140.8 708.2L141.4 709.2L142.0 710.1L142.5 710.7L143.0 711.9L143.5 713.0L144.1 713.3L144.6 713.6L145.1 713.1L145.7 713.2L146.2 713.4L146.7 711.4L147.2 711.8L147.8 710.6L148.3 710.7L148.8 710.1L149.3 709.3L149.8 708.3L150.4 706.8L151.0 705.5L151.6 703.1L152.2 700.7L152.8 698.6L153.4 696.1L153.9 696.2L154.5 694.2L155.1 693.4L155.6 693.9L156.2 693.3L156.7 693.3L157.2 692.2L157.7 695.0L158.1 698.5L158.6 701.3L159.2 702.2L159.8 702.9L160.4 702.2L160.9 705.2L161.5 705.8L162.1 708.3L162.7 708.1L163.3 706.4L163.9 706.6L164.4 705.5L164.9 705.0L165.4 702.2L166.0 701.4L166.5 700.4L167.1 702.6L167.6 705.1L168.2 707.5L168.8 710.1L169.3 709.5L169.9 711.7L170.5 711.0L171.0 710.5L171.6 708.4L172.1 707.8L172.6 706.5L173.1 704.8L173.7 704.3L174.2 703.6L174.7 703.6L175.2 702.8L175.8 702.2L176.4 702.3L176.9 703.1L177.5 703.9L178.0 703.3L178.6 702.5L179.1 700.7L179.6 700.7L180.2 699.6L180.7 699.7L181.3 699.0L181.9 697.9L182.4 696.9L183.0 695.4L183.6 695.6L184.2 695.2L184.8 697.3L185.3 699.6L185.9 702.2L186.5 702.5L187.0 703.8L187.5 705.4L188.0 705.7L188.6 705.8L189.1 704.9L189.6 705.6L190.1 705.0L190.7 704.8L191.2 706.6L191.8 707.8L192.4 710.1L193.0 708.4L193.6 706.7L194.1 705.9L194.7 703.9L195.2 702.6L195.7 701.2L196.3 700.0L196.8 698.7L197.4 701.0L198.0 703.5L198.5 705.7L199.1 706.6L199.6 707.2L200.1 706.8L200.6 707.5L201.2 708.7L201.8 709.7L202.3 710.4L202.9 710.1L203.4 710.2L204.0 708.5L204.5 709.7L205.0 709.4L205.6 708.3L206.1 710.4L206.7 712.9L207.3 715.3L207.8 715.7L208.4 717.2L208.9 717.7L209.4 717.7L209.9 718.8L210.5 719.2L211.0 720.2L211.5 721.1L212.0 723.6L212.6 724.1L213.1 725.4L213.6 724.2L214.1 725.7L214.7 726.4L215.2 725.8L215.7 724.8L216.2 725.3L216.8 724.7L217.3 725.4L217.8 724.1L218.3 725.2L218.9 723.8L219.4 724.5L219.9 726.2L220.4 725.8L221.0 727.7L221.6 729.4L222.2 731.7L222.7 732.9L223.2 733.0L223.8 732.9L224.3 731.2L224.8 731.1L225.3 728.9L225.9 729.0L226.4 726.5L226.9 726.3L227.4 725.0L228.0 726.6L228.5 726.5L229.0 727.8L229.5 727.8L230.1 729.3L230.6 727.7L231.1 727.8L231.7 727.5L232.2 725.8L232.7 728.2L233.3 727.5L233.9 730.7L234.4 731.1L235.0 731.5L235.5 731.5L236.0 731.9L236.6 732.7L237.1 732.9L237.6 731.7L238.1 730.4L238.7 731.0L239.2 729.8L239.7 728.5L240.3 728.4L240.9 728.4L241.5 727.6L242.0 729.7L242.6 729.1L243.2 731.6L243.7 732.0L244.3 732.4L244.8 731.2L245.3 731.4L245.8 731.1L246.4 731.4L246.9 731.2L247.4 732.0L247.9 731.8L248.5 732.9L249.0 733.4L249.5 731.5L250.0 732.1L250.6 731.6L251.1 731.1L251.7 733.5L252.3 734.6L252.8 735.5L253.3 732.2L253.8 729.0L254.2 725.8L254.8 726.6L255.4 728.4L256.0 731.1L256.5 730.3L257.1 731.2L257.6 728.8L258.1 729.3L258.6 729.0L259.2 730.3L259.7 730.1L260.2 730.1L260.7 731.1L261.3 732.2L261.8 730.5L262.3 731.8L262.8 731.6L263.4 732.0L263.9 730.4L264.4 728.9L264.9 727.6L265.5 726.9L266.0 725.8L266.6 726.1L267.3 725.3L267.8 722.4L268.4 719.6L269.0 716.6L269.5 713.3L269.9 709.4L270.4 706.1L271.0 703.6L271.6 700.8L272.2 703.2L272.8 705.4L273.4 707.8L274.0 707.3L274.6 707.5L275.1 706.1L275.8 705.4L276.4 705.2L276.9 700.6L277.4 696.4L277.9 702.3L278.3 707.8L278.7 705.0L279.2 702.5L279.6 686.6L280.1 671.0L280.6 650.0L280.9 637.1L281.3 616.1L281.7 613.3L282.2 610.1L282.7 607.3L283.2 606.2L283.7 606.3L284.3 606.1L284.8 604.7L285.4 605.8L285.9 608.4L286.5 609.0L287.1 607.1L287.7 605.0L288.3 602.9L288.9 601.2L289.5 598.4L290.0 597.7L290.6 595.2L291.2 594.5L291.8 592.4L292.4 590.5L293.0 588.1L293.5 586.3L294.2 582.4L294.8 578.4L295.2 580.1L295.7 581.9L296.2 583.7L296.8 584.3L297.3 584.8L297.9 586.3L298.5 588.3L299.1 590.6L299.7 592.4L300.3 589.3L300.8 586.8L301.4 583.7L302.0 583.1L302.6 581.6L303.2 581.9L303.8 581.7L304.3 579.1L304.9 579.3L305.5 579.4L306.1 577.8L306.7 577.5L307.3 579.6L307.8 580.3L308.4 581.0L309.0 583.3L309.6 585.8L310.2 588.0L310.8 590.2L311.3 589.7L311.9 591.5L312.5 590.6L313.1 590.5L313.7 590.7L314.3 590.5L314.9 588.4L315.4 588.0L316.0 586.9L316.6 587.1L317.2 586.3L317.8 583.3L318.4 580.1L319.0 580.9L319.6 582.0L320.1 581.8L320.7 583.7L321.3 582.9L321.9 583.2L322.4 584.5L323.0 584.8L323.6 587.4L324.2 588.0L324.8 590.5L325.4 590.2L325.9 592.4L326.5 592.5L327.1 592.0L327.7 593.3L328.3 591.2L328.9 589.3L329.4 587.2L330.0 585.2L330.6 583.3L331.2 581.0L331.7 576.2L332.3 571.4L332.8 571.6L333.3 573.5L333.8 574.9L334.3 575.7L334.8 576.3L335.2 577.5L335.7 575.7L336.1 575.8L336.6 626.6L337.2 632.8L337.7 638.8L338.2 642.9L338.6 647.1L339.1 651.1L339.6 654.5L340.0 657.9L340.5 661.6L341.1 664.1L341.7 666.9L342.3 667.9L342.9 670.3L343.5 672.1L344.1 665.8L344.7 659.9L345.2 661.4L345.6 663.4L346.1 665.1L346.7 667.9L347.3 670.8L347.9 673.9L348.4 673.9L349.0 676.1L349.6 676.5L350.1 677.3L350.7 677.5L351.2 677.2L351.7 677.5L352.2 677.4L352.8 677.6L353.3 676.5L353.8 676.3L354.3 676.4L354.9 675.6L355.4 674.7L356.0 673.5L356.6 672.1L357.2 670.7L357.8 668.7L358.4 666.9L358.9 665.7L359.5 665.3L360.1 665.1L360.7 664.1L361.3 662.0L361.9 660.7L362.4 662.6L363.0 662.8L363.6 664.2L364.2 666.9L364.8 669.3L365.4 672.1L365.9 673.4L366.5 676.4L367.1 677.4L367.6 677.2L368.0 678.7L368.5 678.9L369.1 678.8L369.7 680.9L370.3 681.5L370.8 682.3L371.4 684.1L372.0 684.2L372.6 686.0L373.2 687.1L373.8 687.7L374.2 685.8L374.7 684.2L375.2 682.4L375.8 679.9L376.4 678.9L377.0 678.6L377.6 678.1L378.1 678.0L378.7 678.8L379.3 679.3L379.9 680.7L380.5 680.9L381.1 682.4L381.6 683.3L382.2 685.4L382.8 687.4L383.4 689.4L384.0 691.5L384.6 691.9L385.1 692.9L385.7 693.4L386.3 695.6L386.9 696.4L387.5 698.7L388.1 701.3L388.6 703.4L389.2 704.4L389.8 706.8L390.4 708.7L391.0 711.0L391.6 713.1L392.1 707.2L392.6 700.8L393.0 694.7L393.6 692.7L394.2 691.8L394.8 689.4L395.3 689.8L395.8 689.9L396.4 689.4L396.9 687.9L397.4 688.5L398.0 690.4L398.6 691.2L399.2 691.2L399.7 693.5L400.3 695.9L400.9 698.2L401.5 697.1L402.1 694.7L402.7 695.3L403.3 694.7L403.9 693.2L404.4 693.8L404.9 693.8L405.5 695.3L406.0 696.3L406.5 696.9L407.0 698.2L407.6 698.2L408.1 697.7L408.6 696.4L409.1 696.5L409.7 695.5L410.3 694.9L410.8 696.5L411.4 695.5L411.9 695.9L412.5 696.6L413.0 697.9L413.5 699.8L414.1 699.9L414.6 700.5L415.1 701.0L415.6 701.6L416.2 701.1L416.7 701.7L417.2 703.7L417.8 704.9L418.4 705.0L419.0 706.1L419.5 703.6L420.1 701.0L420.7 698.2L421.2 699.9L421.8 700.5L422.3 703.1L422.8 704.3L423.3 704.0L423.9 704.7L424.4 703.2L424.9 702.6L425.4 703.4L426.0 702.4L426.5 702.0L427.0 702.1L427.5 701.4L428.1 701.7L428.6 701.2L429.1 701.5L429.6 700.4L430.2 700.9L430.7 700.8L431.1 698.1L431.6 695.5L432.2 696.0L432.7 698.8L433.3 699.9L433.9 700.5L434.5 701.7L435.1 701.7L435.6 703.2L436.1 702.1L436.6 704.2L437.2 704.4L437.7 705.2L438.3 706.4L438.8 705.2L439.4 707.2L440.0 706.9L440.6 703.0L441.2 699.0L441.8 697.1L442.4 696.9L443.0 695.9L443.5 697.0L444.0 695.6L444.5 696.5L445.1 696.1L445.6 697.3L446.1 699.7L446.5 702.7L447.0 705.2L447.6 707.5L448.2 709.9L448.7 712.2L449.3 715.0L449.9 717.2L450.5 720.1L451.0 722.9L451.5 725.5L452.1 728.0L452.7 727.2L453.4 725.7L454.0 723.6L454.5 721.8L455.0 719.5L455.6 720.0L456.1 717.5L456.6 717.0L457.1 716.5L457.7 715.8L458.2 714.2L458.7 713.9L459.2 713.7L459.8 712.8L460.3 711.8L460.8 711.8L461.4 711.3L461.9 710.9L462.4 710.2L462.9 710.8L463.5 710.8L464.0 709.6L464.5 709.1L465.0 707.2L465.6 707.6L466.1 707.0L466.6 706.1L467.1 705.8L467.7 703.9L468.2 702.9L468.7 702.3L469.2 701.7L469.8 700.8L470.3 701.9L470.8 700.2L471.3 701.1L471.9 700.8L472.4 703.0L473.0 702.7L473.6 705.2L474.2 703.4L474.7 704.0L475.3 701.5L475.8 701.4L476.4 699.7L476.9 698.9L477.4 700.1L478.0 699.4L478.5 700.6L479.1 701.2L479.7 701.9L480.3 704.1L480.8 703.3L481.4 701.7L482.0 700.6L482.5 700.3L483.1 700.4L483.6 701.0L484.1 700.1L484.6 700.6L485.2 698.8L485.8 697.4L486.3 697.6L486.9 696.2L487.5 694.2L488.1 692.0L488.7 690.1L489.2 686.0L489.8 682.1L490.4 677.8L491.0 674.9L491.6 672.1L492.2 669.0L492.8 668.4L493.3 668.6L493.9 668.2L494.5 669.6L495.1 670.3L495.7 670.8L496.3 670.1L496.8 668.6L497.4 668.2L498.0 666.4L498.6 666.4L499.2 665.5L499.8 660.4L500.4 655.0L501.0 651.5L501.6 648.0L502.2 649.7L502.8 650.3L503.4 651.5L504.0 653.4L504.5 655.7L505.1 657.7L505.7 658.3L506.3 658.5L506.9 659.4L507.5 660.2L508.1 663.4L508.6 663.8L509.2 661.8L509.8 659.8L510.4 657.7L511.0 655.4L511.6 653.7L512.1 651.5L512.7 649.1L513.3 648.0L513.9 646.3L514.5 647.5L515.1 649.0L515.6 650.7L516.2 652.8L516.8 654.6L517.4 656.8L518.0 656.8L518.6 655.8L519.1 654.2L519.7 656.8L520.3 659.6L520.9 662.0L521.5 661.9L522.0 662.5L522.6 661.4L523.2 661.2L523.8 658.8L524.3 656.0L524.9 653.3L525.5 650.3L526.1 647.2L526.7 648.4L527.3 648.0L527.9 647.3L528.4 648.0L529.0 648.6L529.6 647.8L530.1 648.5L530.7 648.9L531.2 649.1L531.8 647.8L532.3 648.1L532.8 648.0L533.3 647.0L533.9 647.0L534.4 646.2L534.9 646.3L535.5 647.4L536.0 648.3L536.6 648.2L537.2 648.9L537.8 648.0L538.3 646.8L538.9 645.6L539.5 643.7L540.0 643.8L540.5 643.1L541.0 642.8L541.6 641.9L542.2 640.9L542.7 639.0L543.3 637.5L543.9 639.3L544.5 639.2L545.1 641.0L545.7 643.2L546.2 644.8L546.8 646.3L547.4 646.9L548.0 647.7L548.6 648.0L549.2 647.4L549.7 645.7L550.3 643.7L550.8 643.2L551.3 642.7L551.7 641.0L552.3 643.2L552.9 645.0L553.5 647.2L554.1 649.5L554.7 651.5L555.3 650.6L555.9 648.2L556.5 646.3L557.0 646.8L557.5 644.9L558.0 645.9L558.6 644.3L559.1 644.5L559.6 644.1L560.1 644.2L560.7 643.8L561.2 643.9L561.7 643.7L562.2 642.3L562.8 641.7L563.3 642.5L563.8 641.1L564.3 641.0L564.9 641.0L565.5 642.3L566.1 642.9L566.8 642.8L567.3 640.7L567.9 638.8L568.5 636.6L569.1 635.0L569.7 634.0L570.2 636.3L570.7 637.2L571.1 638.4L571.7 641.2L572.3 643.8L572.9 646.3L573.5 646.1L574.1 646.0L574.6 644.5L575.2 643.6L575.8 641.5L576.4 640.2L577.0 640.2L577.6 641.7L578.1 642.8L578.8 648.1L579.4 653.3L579.9 655.7L580.5 658.6L581.1 661.2L581.7 660.5L582.3 660.2L582.8 658.9L583.4 659.4L583.9 659.1L584.4 660.8L585.0 660.5L585.5 660.8L586.0 662.0L586.5 663.3L587.1 662.2L587.6 664.0L588.1 664.8L588.6 664.7L589.2 666.1L589.8 666.2L590.4 666.4L591.0 664.2L591.6 662.3L592.1 660.3L592.6 658.7L593.1 656.7L593.5 655.0L594.2 654.2L594.8 653.3L595.3 672.5L595.9 676.2L596.5 679.6L597.1 681.5L597.7 682.8L598.3 684.8L598.9 687.2L599.5 689.5L600.0 691.8L600.6 689.5L601.1 687.2L601.6 685.1L602.1 683.1L602.7 685.9L603.3 686.1L603.9 688.3L604.5 689.2L605.1 691.7L605.6 691.8L606.2 691.4L606.8 692.2L607.3 692.9L607.9 693.6L608.5 695.9L609.1 698.2L609.7 700.6L610.3 701.4L610.9 703.2L611.4 705.4L611.8 707.9L612.3 710.2L612.8 708.6L613.3 707.4L613.9 708.1L614.4 706.7L615.0 708.1L615.6 708.2L616.1 709.3L616.7 709.9L617.3 708.0L617.9 708.5L618.5 708.4L619.1 707.1L619.7 705.8L620.2 705.3L620.8 703.1L621.4 703.2L622.0 706.3L622.6 708.9L623.2 712.0L623.7 710.6L624.3 709.2L624.9 707.6L625.5 705.2L626.1 704.2L626.7 703.2L627.1 700.2L627.6 696.9L628.1 693.6L628.7 691.3L629.3 689.2L629.9 692.5L630.5 695.3L631.0 696.2L631.6 698.8L632.2 700.3L632.7 701.8L633.3 702.3L633.9 704.8L634.5 707.1L635.1 709.3L635.6 709.0L636.1 707.1L636.7 707.3L637.2 705.8L637.7 705.8L638.3 705.1L638.9 704.0L639.5 704.1L640.0 704.6L640.5 703.5L641.0 704.6L641.6 705.1L642.1 705.0L642.6 704.3L643.1 704.5L643.7 703.0L644.2 703.2L644.7 703.2L645.3 703.0L645.9 703.5L646.4 702.6L647.0 702.3L647.6 701.5L648.2 698.6L648.7 697.1L649.3 696.6L649.8 694.6L650.3 693.1L650.8 691.8L651.4 690.6L652.0 691.3L652.6 690.1L653.1 690.4L653.5 689.3L654.0 689.2L654.6 687.1L655.2 685.7L655.8 686.1L656.4 687.1L657.0 688.3L657.6 688.0L658.1 690.2L658.7 690.1L659.3 691.1L659.9 691.7L660.5 693.6L661.1 691.0L661.6 688.2L662.2 685.7L662.8 685.2L663.5 683.1L664.0 683.5L664.6 686.1L665.2 687.5L665.8 688.6L666.4 688.9L667.0 690.1L667.5 688.3L668.1 688.6L668.7 686.6L669.3 687.6L669.9 688.7L670.5 689.2L671.0 688.7L671.6 688.6L672.2 690.7L672.7 690.1L673.3 688.5L673.9 687.4L674.5 687.5L675.1 689.5L675.7 690.5L676.2 691.8L676.8 691.5L677.4 693.3L678.0 693.8L678.5 694.5L679.0 695.1L679.6 694.2L680.1 693.1L680.6 693.6L681.2 693.3L681.8 693.0L682.4 691.8L682.8 693.2L683.2 692.7L683.2 807.2L56.7 807.2Z" fill="#45B7D1" fill-opacity="0.3" stroke="none"/>
<path d="M75.0 807.2L75.0 760.0L75.5 753.4L75.9 746.9L76.5 741.6L77.2 736.4L77.7 735.8L78.3 733.4L78.9 732.0L79.4 731.6L80.0 731.5L80.5 730.3L81.0 730.6L81.5 730.2L82.1 730.3L82.6 730.4L83.1 728.7L83.6 729.3L84.2 729.6L84.8 729.8L85.3 732.0L85.9 732.0L86.4 733.1L87.0 732.4L87.5 735.1L88.0 735.7L88.5 735.5L89.1 736.2L89.6 736.6L90.1 736.1L90.6 737.2L91.2 735.6L91.8 736.0L92.3 734.3L92.9 734.6L93.5 733.3L94.1 732.7L94.6 731.6L95.2 732.0L95.7 732.8L96.2 733.6L96.8 735.3L97.3 735.5L97.8 733.9L98.4 732.6L98.9 730.7L99.4 729.5L99.9 727.6L100.5 729.9L101.1 732.2L101.7 734.6L102.2 735.0L102.8 734.3L103.4 733.3L104.0 732.0L104.5 733.7L105.0 734.2L105.5 735.3L106.1 737.2L106.6 736.4L107.1 735.6L107.6 736.7L108.2 735.6L108.7 735.5L109.2 736.0L109.7 734.9L110.3 735.9L110.8 735.5L111.3 734.6L111.8 732.7L112.4 732.2L112.9 732.8L113.4 731.0L113.9 730.2L114.5 730.9L115.0 729.3L115.5 728.3L116.0 729.1L116.6 728.5L117.1 728.8L117.6 727.5L118.1 726.9L118.7 727.6L119.3 725.5L119.8 723.7L120.4 721.5L121.0 723.8L121.6 724.2L122.2 726.7L122.7 726.8L123.3 727.2L123.9 727.8L124.5 729.3L125.0 728.7L125.5 726.0L126.0 725.5L126.5 724.1L127.1 725.7L127.7 726.9L128.3 729.8L128.8 731.1L129.4 730.1L129.9 731.0L130.4 729.8L130.9 730.2L131.5 730.2L132.0 730.5L132.6 731.5L133.2 733.8L133.7 733.7L134.3 733.3L134.8 731.1L135.3 731.2L135.8 729.3L136.4 727.3L137.0 726.2L137.6 725.0L138.1 721.9L138.5 718.6L139.0 715.3L139.6 712.1L140.2 709.2L140.8 710.8L141.4 709.8L142.0 711.0L142.6 711.9L143.1 714.4L143.7 715.3L144.2 715.3L144.8 715.6L145.3 715.5L145.8 715.9L146.3 717.1L146.9 717.3L147.4 716.5L147.9 717.3L148.5 716.8L149.0 717.1L149.5 717.3L150.0 718.7L150.6 718.1L151.1 718.6L151.6 718.8L152.1 719.8L152.7 718.5L153.2 718.6L153.7 720.4L154.2 719.7L154.8 719.9L155.3 718.1L155.8 717.5L156.3 718.1L156.9 717.1L157.4 717.8L157.9 716.1L158.4 717.5L159.0 717.2L159.5 716.2L160.0 716.8L160.5 716.7L161.1 716.4L161.6 716.6L162.1 718.0L162.6 718.2L163.2 716.0L163.7 716.3L164.2 714.6L164.7 714.5L165.3 714.8L165.8 714.0L166.3 713.0L166.8 712.4L167.4 712.7L167.9 713.8L168.5 713.1L169.1 714.1L169.6 715.3L170.2 715.3L170.7 715.7L171.2 715.0L171.7 714.2L172.3 714.5L172.8 715.2L173.3 713.5L173.8 712.9L174.4 713.3L174.9 713.6L175.5 715.2L176.1 716.2L176.6 718.8L177.2 718.5L177.7 719.3L178.2 720.0L178.7 719.5L179.3 720.6L179.8 720.1L180.3 721.1L180.8 721.1L181.4 720.2L181.9 719.7L182.4 720.5L183.0 720.6L183.5 720.0L184.0 720.1L184.5 721.5L185.1 720.1L185.6 721.6L186.1 720.8L186.6 721.0L187.2 719.7L187.7 718.4L188.2 719.3L188.7 718.6L189.3 718.8L189.8 718.0L190.3 717.4L190.8 718.7L191.4 716.5L191.9 717.4L192.4 717.1L192.9 717.2L193.5 717.2L194.0 716.5L194.5 716.1L195.0 715.3L195.6 715.4L196.1 715.1L196.6 713.4L197.1 713.6L197.7 712.7L198.2 713.2L198.7 712.8L199.2 711.5L199.8 711.9L200.3 711.0L200.8 711.9L201.3 711.5L201.9 711.7L202.4 711.4L202.9 711.8L203.5 712.9L204.1 713.8L204.7 714.5L205.2 713.9L205.7 715.4L206.2 716.5L206.8 716.6L207.3 716.2L207.8 717.6L208.4 717.7L208.9 719.3L209.4 719.9L209.9 720.6L210.5 720.6L211.0 721.6L211.5 720.2L212.0 721.8L212.6 721.5L213.1 720.5L213.6 721.7L214.1 721.4L214.7 720.9L215.2 721.5L215.7 721.7L216.2 721.1L216.8 721.2L217.3 721.6L217.8 720.6L218.3 721.1L218.9 721.7L219.4 723.3L219.9 725.2L220.4 725.8L221.0 726.1L221.5 726.9L222.0 729.3L222.5 729.7L223.1 730.2L223.6 730.3L224.1 731.4L224.6 730.4L225.2 731.3L225.7 731.1L226.2 730.5L226.7 730.9L227.3 731.7L227.8 732.0L228.3 731.1L228.8 731.9L229.4 730.8L229.9 731.3L230.4 730.7L230.9 731.1L231.5 730.2L232.0 730.7L232.5 731.3L233.1 731.1L233.6 730.2L234.1 732.2L234.6 734.3L235.2 734.5L235.7 735.8L236.2 738.1L236.7 738.5L237.3 738.7L237.8 739.1L238.3 740.0L238.8 740.7L239.4 741.3L239.9 741.4L240.4 741.4L240.9 742.8L241.5 742.5L242.0 743.0L242.5 741.3L243.0 740.0L243.6 739.4L244.1 739.9L244.6 740.8L245.1 739.2L245.7 740.8L246.2 740.7L246.7 740.7L247.2 740.9L247.8 742.4L248.3 741.3L248.8 742.1L249.3 743.4L249.9 742.9L250.4 741.7L250.9 743.0L251.4 741.4L252.0 741.6L252.5 740.2L253.0 739.3L253.5 739.8L254.1 738.7L254.6 738.1L255.1 738.9L255.7 739.5L256.2 740.3L256.7 741.2L257.2 740.7L257.8 741.1L258.3 740.1L258.8 740.7L259.3 740.1L259.9 740.7L260.4 739.5L260.9 740.3L261.4 740.7L262.0 739.4L262.5 739.9L263.0 739.5L263.5 739.9L264.1 740.8L264.6 740.6L265.1 740.7L265.6 740.2L266.2 739.7L266.7 738.2L267.3 737.6L267.8 736.5L268.4 734.9L269.0 732.3L269.6 730.0L270.2 730.3L270.8 728.0L271.4 727.0L271.9 724.3L272.5 723.6L273.1 724.4L273.7 725.6L274.3 726.2L274.7 728.5L275.2 730.2L275.7 732.3L276.3 729.7L276.9 727.1L277.3 725.5L277.8 723.6L278.3 726.4L278.8 728.8L279.4 720.3L279.9 711.3L280.6 676.3L280.9 650.0L281.3 647.6L281.7 645.2L282.2 643.0L282.7 640.6L283.3 638.2L283.8 637.5L284.4 635.3L285.0 635.6L285.5 634.8L286.0 634.5L286.5 633.6L287.1 631.4L287.7 629.7L288.3 627.5L288.9 626.7L289.5 624.9L290.0 622.2L290.6 619.9L291.2 617.7L291.8 615.2L292.4 616.6L293.0 619.5L293.5 620.4L294.1 622.4L294.7 622.5L295.3 623.9L295.9 622.8L296.5 623.2L297.0 623.1L297.6 623.8L298.2 624.8L298.8 624.8L299.4 622.8L300.0 620.5L300.6 618.7L301.1 618.5L301.7 616.0L302.3 616.1L302.8 614.9L303.4 611.9L303.9 610.5L304.4 609.0L305.0 608.5L305.6 606.0L306.1 605.5L306.6 603.6L307.1 603.2L307.6 602.0L308.1 604.0L308.7 605.7L309.3 606.4L309.8 607.3L310.4 608.4L310.9 608.0L311.4 609.5L311.9 609.0L312.5 607.8L313.0 607.8L313.5 608.1L314.0 607.2L314.6 607.3L315.1 608.7L315.6 609.3L316.1 610.0L316.7 611.5L317.2 611.7L317.8 610.1L318.4 607.8L318.9 606.4L319.5 605.1L320.1 605.0L320.7 604.0L321.2 602.0L321.7 600.3L322.3 600.6L322.8 599.7L323.3 597.7L323.9 599.2L324.5 600.7L325.1 602.0L325.6 602.5L326.1 604.3L326.7 605.3L327.2 606.4L327.7 608.0L328.3 608.1L328.9 611.4L329.4 611.7L330.0 611.5L330.5 611.1L331.0 611.8L331.6 611.1L332.1 610.8L332.6 610.4L333.1 610.5L333.7 608.8L334.2 609.5L334.7 609.0L335.3 608.7L335.9 609.6L336.4 609.3L337.0 608.2L337.5 607.5L338.0 607.7L338.6 606.7L339.1 607.3L339.6 608.5L340.1 610.6L340.7 612.1L341.2 612.5L341.8 611.6L342.3 610.4L342.9 609.3L343.5 609.0L344.0 609.1L344.5 609.6L345.0 607.7L345.6 608.9L346.1 608.2L346.6 607.0L347.1 607.2L347.7 607.1L348.2 607.9L348.7 607.3L349.2 606.4L349.8 605.9L350.3 606.0L350.8 604.4L351.4 604.7L351.9 603.7L352.5 601.0L353.1 600.3L353.7 597.2L354.3 594.2L354.9 598.0L355.4 602.0L355.9 658.1L356.6 668.6L357.2 668.9L357.8 670.4L358.4 671.2L358.9 672.3L359.5 673.3L360.1 674.7L360.7 675.4L361.3 676.6L361.9 677.4L362.4 678.6L363.0 680.7L363.6 683.3L364.2 686.9L364.8 690.4L365.4 693.8L365.9 695.0L366.5 696.9L367.1 697.3L367.7 697.3L368.2 697.6L368.8 696.1L369.4 696.4L369.9 696.9L370.4 697.1L371.0 697.3L371.5 696.0L372.0 696.4L372.5 695.7L373.1 696.6L373.6 694.8L374.1 696.1L374.6 694.7L375.2 694.8L375.7 692.5L376.2 692.0L376.7 692.3L377.3 691.2L377.8 690.0L378.3 688.9L378.8 689.8L379.4 688.2L379.9 687.7L380.5 687.8L381.0 686.0L381.6 686.1L382.2 685.9L382.7 687.8L383.2 688.0L383.7 689.9L384.3 692.0L384.8 693.8L385.3 695.7L385.8 697.2L386.4 696.8L386.9 699.0L387.4 699.2L388.0 699.9L388.5 699.6L389.0 700.1L389.5 699.9L390.1 698.4L390.6 697.3L391.1 696.5L391.6 695.5L392.1 695.5L392.7 693.6L393.3 691.5L393.9 689.4L394.4 690.1L395.0 689.7L395.5 690.3L396.0 690.9L396.5 692.0L397.1 693.5L397.6 694.5L398.1 695.0L398.6 694.0L399.2 695.5L399.7 695.9L400.2 699.0L400.7 699.1L401.3 701.0L401.8 701.7L402.3 702.4L402.8 703.7L403.4 704.9L403.9 705.7L404.4 706.9L404.9 708.0L405.5 707.7L406.0 710.0L406.5 711.2L407.0 711.3L407.6 711.9L408.1 713.7L408.6 715.5L409.1 716.0L409.7 717.5L410.2 717.0L410.7 717.1L411.2 718.0L411.8 717.1L412.3 718.3L412.8 718.8L413.4 718.3L413.9 717.7L414.4 717.7L414.9 716.6L415.5 717.0L416.0 716.7L416.5 717.3L417.0 717.3L417.6 717.5L418.1 719.0L418.7 719.3L419.3 719.2L419.8 716.7L420.2 714.7L420.7 712.2L421.2 712.0L421.8 711.5L422.3 710.9L422.8 709.6L423.3 709.4L423.9 710.4L424.4 710.4L424.9 710.0L425.4 709.6L426.0 709.2L426.5 708.4L427.0 706.7L427.5 706.5L428.1 705.2L428.6 703.2L429.1 702.7L429.6 702.0L430.2 700.0L430.7 699.9L431.2 698.9L431.7 698.8L432.3 698.1L432.8 696.6L433.3 696.4L433.8 697.1L434.4 696.3L434.9 695.4L435.4 695.5L436.0 697.9L436.6 699.6L437.1 701.5L437.7 703.4L438.2 704.1L438.8 706.2L439.3 706.4L439.8 707.4L440.3 707.8L440.9 708.7L441.4 709.5L441.9 707.9L442.4 709.5L443.0 709.6L443.5 710.6L444.0 710.1L444.5 710.9L445.1 710.7L445.6 712.2L446.1 712.3L446.6 713.3L447.2 713.4L447.7 714.5L448.2 715.7L448.7 717.4L449.3 717.5L449.8 718.3L450.3 720.2L450.8 720.1L451.4 720.9L451.9 722.5L452.4 722.5L452.9 723.5L453.5 723.6L454.0 723.8L454.6 726.0L455.2 727.4L455.7 728.0L456.3 725.9L456.8 726.7L457.3 724.0L457.9 723.6L458.4 722.8L458.9 721.5L459.4 721.5L459.9 721.0L460.5 720.1L461.0 718.3L461.5 719.3L462.0 717.3L462.6 716.6L463.1 715.7L463.6 715.5L464.2 714.7L464.7 714.2L465.2 714.6L465.7 713.9L466.3 714.2L466.8 713.8L467.3 714.9L467.8 714.2L468.4 714.8L468.9 716.9L469.5 719.4L470.1 721.8L470.6 724.7L471.0 728.0L471.6 725.2L472.2 722.8L472.7 720.1L473.3 719.3L473.8 719.9L474.3 719.0L474.8 717.0L475.4 717.5L475.9 718.0L476.5 717.4L477.1 715.1L477.6 715.5L478.2 716.0L478.7 714.6L479.2 714.4L479.7 715.1L480.3 713.7L480.8 712.7L481.3 712.7L481.8 713.1L482.4 712.1L482.9 711.1L483.4 710.1L484.0 710.3L484.6 709.1L485.2 707.6L485.7 707.4L486.2 705.9L486.7 706.5L487.3 705.8L487.8 705.2L488.4 704.1L489.0 704.1L489.6 699.2L490.2 694.8L490.8 690.1L491.4 688.4L491.9 688.2L492.5 687.5L493.0 688.5L493.6 688.7L494.1 688.9L494.6 690.1L495.2 690.5L495.8 690.3L496.3 691.3L496.9 691.0L497.5 689.6L498.1 689.1L498.6 686.6L499.2 683.0L499.8 679.1L500.4 675.2L501.0 673.8L501.6 672.6L502.1 672.5L502.7 674.8L503.3 676.1L503.9 676.9L504.4 677.7L505.0 677.7L505.5 678.0L506.0 679.4L506.5 679.6L507.1 679.2L507.6 678.7L508.1 678.3L508.6 678.0L509.2 676.9L509.7 675.8L510.2 675.4L510.7 676.4L511.3 675.7L511.8 674.3L512.3 674.9L512.8 673.0L513.4 672.9L513.9 673.1L514.4 673.4L514.9 672.6L515.5 672.3L516.0 670.5L516.5 670.7L517.0 669.9L517.6 668.7L518.1 668.4L518.6 669.3L519.1 668.6L519.7 668.2L520.2 668.7L520.8 668.3L521.4 668.8L522.0 669.0L522.5 667.3L523.0 666.5L523.5 666.3L524.0 664.7L524.6 665.6L525.1 664.1L525.6 664.4L526.2 666.0L526.7 665.5L527.2 665.1L527.7 664.7L528.3 662.8L528.8 662.6L529.3 662.0L529.8 661.4L530.4 662.3L530.9 661.2L531.4 661.7L531.9 661.2L532.5 662.4L533.0 661.2L533.5 661.8L534.0 662.4L534.6 662.0L535.1 662.0L535.6 660.1L536.1 659.1L536.7 657.7L537.2 657.7L537.8 657.3L538.4 654.4L538.9 654.2L539.5 652.8L540.1 653.4L540.7 652.8L541.2 652.4L541.7 652.1L542.3 650.7L542.8 651.0L543.3 649.8L543.9 647.4L544.5 646.3L545.1 645.4L545.6 645.6L546.1 644.2L546.6 644.5L547.2 645.2L547.7 644.5L548.2 645.3L548.8 644.8L549.3 644.8L549.8 645.6L550.3 646.3L550.9 646.9L551.4 646.3L551.9 646.0L552.4 647.4L553.0 647.2L553.5 646.8L554.0 647.0L554.5 646.5L555.1 645.9L555.6 644.5L556.1 644.7L556.6 645.9L557.2 645.2L557.7 645.5L558.2 646.3L558.7 645.4L559.3 645.8L559.8 645.0L560.3 642.9L560.8 642.8L561.4 642.2L562.0 641.9L562.6 641.9L563.2 643.1L563.8 644.6L564.3 646.3L564.9 645.9L565.4 645.3L566.0 646.0L566.5 646.3L567.1 645.6L567.6 645.4L568.2 646.6L568.7 646.6L569.2 646.3L569.7 648.0L570.3 648.0L570.8 650.1L571.3 650.0L571.8 650.7L572.4 653.0L572.9 654.2L573.5 656.0L574.1 657.8L574.6 659.4L575.2 660.6L575.7 660.1L576.2 660.6L576.7 659.2L577.3 660.3L577.8 659.9L578.3 659.8L578.8 657.8L579.4 657.3L579.9 657.7L580.4 657.8L580.9 657.8L581.5 655.7L582.0 656.5L582.5 655.9L583.0 655.9L583.6 657.8L584.1 658.3L584.6 658.2L585.1 659.4L585.7 658.1L586.2 658.6L586.7 657.4L587.2 657.2L587.8 655.9L588.3 656.0L588.8 656.3L589.3 657.9L589.9 657.7L590.4 657.7L590.9 658.3L591.5 659.1L592.0 660.2L592.5 660.9L593.0 661.2L593.6 661.9L594.1 660.6L594.6 661.3L595.1 660.8L595.7 660.3L596.2 661.6L596.8 662.1L597.4 662.0L598.0 665.7L598.6 669.0L599.1 671.6L599.6 674.0L600.0 676.1L600.6 676.0L601.1 675.4L601.6 675.5L602.1 675.3L602.7 674.3L603.2 673.8L603.7 673.4L604.2 672.5L604.8 673.4L605.3 672.5L605.8 673.9L606.3 673.0L606.9 672.9L607.4 673.3L607.9 674.3L608.4 674.3L609.0 674.2L609.5 675.8L610.0 674.1L610.5 675.2L611.1 673.9L611.7 672.6L612.3 672.5L612.7 669.6L613.2 666.4L613.6 675.8L614.0 684.8L614.6 687.6L615.2 690.4L615.8 693.6L616.4 694.4L617.0 695.5L617.5 696.2L618.1 696.0L618.6 693.0L619.1 692.1L619.7 691.8L620.2 692.0L620.8 693.0L621.4 693.9L621.9 695.3L622.5 697.8L623.1 700.1L623.7 702.3L624.2 701.2L624.7 700.6L625.3 700.3L625.8 699.5L626.3 699.7L626.8 700.4L627.4 699.7L627.9 700.3L628.4 701.1L628.9 700.6L629.5 701.2L630.0 701.5L630.5 703.5L631.0 704.3L631.6 704.1L632.1 703.9L632.6 704.5L633.1 705.6L633.7 704.7L634.2 705.0L634.7 704.9L635.2 705.1L635.8 707.5L636.3 707.7L636.8 707.6L637.3 707.9L637.9 708.7L638.4 709.2L638.9 709.2L639.5 710.2L640.0 711.9L640.5 712.0L641.0 711.8L641.6 712.0L642.1 713.7L642.7 714.8L643.2 715.8L643.8 717.2L644.3 717.3L644.8 716.5L645.2 715.5L645.9 720.7L646.4 718.2L646.9 715.3L647.3 712.9L647.9 712.4L648.5 713.1L649.1 713.7L649.6 712.9L650.1 713.8L650.7 712.7L651.2 712.6L651.7 712.0L652.2 712.7L652.8 710.8L653.3 711.0L653.8 709.8L654.3 710.2L654.9 710.3L655.4 708.1L655.9 709.3L656.4 708.8L657.0 707.6L657.5 707.6L658.0 705.3L658.5 705.0L659.1 705.2L659.6 704.1L660.1 702.4L660.7 702.3L661.2 701.4L661.7 701.5L662.2 699.7L662.8 699.5L663.3 699.6L663.8 698.0L664.3 698.0L664.9 699.4L665.5 699.5L666.0 701.5L666.6 701.5L667.1 700.4L667.7 701.7L668.2 700.2L668.7 700.6L669.3 701.1L669.9 701.5L670.4 701.2L671.0 702.3L671.5 702.9L672.0 701.6L672.6 701.4L673.1 700.7L673.6 701.5L674.1 701.4L674.7 702.1L675.2 703.0L675.7 702.6L676.2 703.2L676.8 703.1L677.3 701.3L677.8 701.4L678.3 701.0L678.9 700.6L679.4 701.0L679.9 700.2L680.4 699.3L681.0 697.5L681.5 698.0L682.1 697.4L682.7 697.8L683.2 697.1L683.2 807.2L75.0 807.2Z" fill="#FF6B6B" fill-opacity="0.3" stroke="none"/>
<path d="M94.3 807.2L94.3 739.0L94.8 739.4L95.4 740.2L95.9 740.6L96.4 740.7L96.9 740.0L97.5 739.7L98.0 740.5L98.5 740.3L99.0 740.7L99.6 741.6L100.1 741.5L100.6 741.5L101.2 741.6L101.7 741.6L102.2 742.1L102.7 741.2L103.3 742.0L103.8 741.6L104.3 742.5L104.8 743.5L105.4 741.9L105.9 743.7L106.4 742.3L106.9 743.4L107.5 744.6L108.1 744.8L108.7 746.0L109.2 745.4L109.7 746.0L110.3 743.9L110.8 743.7L111.3 744.2L111.8 745.1L112.4 744.2L112.9 743.4L113.4 745.3L113.9 744.2L114.5 745.0L115.0 743.1L115.5 743.5L116.0 742.8L116.6 743.4L117.1 742.6L117.6 742.9L118.1 741.6L118.7 742.4L119.2 741.6L119.7 741.0L120.2 741.6L120.8 743.3L121.3 742.8L121.8 743.4L122.4 743.8L123.0 744.7L123.6 745.1L124.1 744.2L124.6 743.1L125.2 741.5L125.7 742.1L126.2 740.7L126.8 742.9L127.4 744.1L128.0 744.2L128.5 744.4L129.0 743.6L129.5 743.4L130.1 743.9L130.6 743.4L131.1 743.0L131.6 741.1L132.2 740.7L132.7 740.3L133.2 739.9L133.7 739.9L134.3 740.5L134.8 739.9L135.3 738.9L135.8 739.9L136.4 740.7L136.9 740.1L137.4 740.4L137.9 740.0L138.5 740.7L139.0 740.2L139.5 739.8L140.0 740.3L140.6 738.5L141.1 739.0L141.6 738.7L142.1 737.6L142.7 738.3L143.2 736.6L143.7 737.2L144.3 737.3L144.9 738.1L145.5 739.0L146.1 738.1L146.6 735.7L147.2 735.5L147.8 735.7L148.3 735.6L148.8 736.1L149.3 736.8L149.8 737.2L150.4 737.8L150.9 736.5L151.4 737.1L152.0 735.1L152.5 735.5L153.0 735.5L153.5 733.4L154.1 732.2L154.6 732.5L155.1 731.1L155.7 730.8L156.3 727.7L156.9 727.6L157.3 724.8L157.8 722.5L158.3 719.7L158.8 719.6L159.3 719.6L159.8 719.3L160.4 720.6L160.9 719.6L161.4 720.8L161.9 721.6L162.5 721.6L163.0 720.6L163.6 719.7L164.2 717.8L164.7 718.0L165.3 717.2L165.8 717.9L166.3 717.6L166.8 716.8L167.4 716.2L167.9 716.5L168.5 718.0L169.1 718.8L169.6 719.7L170.2 720.5L170.7 720.3L171.2 722.2L171.7 722.6L172.3 722.3L172.8 722.2L173.3 722.9L173.8 724.7L174.4 724.0L174.9 725.0L175.4 725.5L175.9 724.3L176.5 724.3L177.0 724.0L177.5 723.2L178.0 722.8L178.6 723.1L179.1 723.2L179.6 724.3L180.2 724.1L180.7 724.8L181.2 724.0L181.7 726.0L182.2 725.3L182.8 725.8L183.3 725.1L183.8 725.4L184.3 726.3L184.9 725.3L185.4 725.0L185.9 725.6L186.5 726.5L187.0 727.0L187.5 726.9L188.0 726.7L188.6 726.5L189.1 726.9L189.6 727.6L190.1 727.3L190.7 726.7L191.2 726.7L191.7 726.0L192.2 725.9L192.8 726.5L193.3 725.8L193.8 726.0L194.3 724.8L194.9 726.3L195.4 726.7L195.9 725.8L196.4 726.5L197.0 726.7L197.5 726.7L198.0 725.9L198.5 725.8L199.1 726.6L199.6 725.9L200.1 725.5L200.6 726.2L201.2 726.7L201.7 725.3L202.2 725.5L202.7 724.0L203.3 722.6L203.8 721.5L204.3 721.9L204.8 721.0L205.4 722.1L205.9 722.6L206.4 722.3L206.9 722.3L207.5 722.2L208.0 722.7L208.5 722.7L209.1 723.2L209.6 723.9L210.1 723.2L210.6 723.4L211.2 724.2L211.7 725.0L212.2 725.0L212.7 724.8L213.3 724.2L213.8 724.5L214.3 723.2L214.8 722.8L215.4 721.9L215.9 722.7L216.4 722.4L216.9 722.3L217.5 721.8L218.0 723.0L218.5 722.5L219.0 722.5L219.6 723.2L220.1 723.0L220.6 724.5L221.1 722.7L221.7 723.6L222.2 724.1L222.8 724.8L223.4 725.8L223.9 727.6L224.5 727.8L225.0 727.7L225.5 729.5L226.0 729.0L226.6 729.3L227.1 730.3L227.6 729.7L228.1 730.8L228.7 731.7L229.2 732.0L229.7 732.9L230.2 731.8L230.8 732.4L231.3 733.4L231.8 732.9L232.3 733.2L232.9 731.6L233.4 731.9L233.9 732.0L234.4 731.1L235.0 731.6L235.5 732.9L236.0 733.5L236.6 734.9L237.1 734.6L237.6 735.8L238.1 737.1L238.7 737.4L239.2 739.3L239.7 739.9L240.2 739.7L240.8 740.2L241.3 740.1L241.8 740.1L242.3 740.7L242.9 739.6L243.4 739.5L243.9 739.8L244.4 738.8L245.0 739.0L245.5 738.4L246.0 740.3L246.5 739.6L247.1 741.3L247.6 740.7L248.1 740.9L248.6 740.5L249.2 741.5L249.7 741.6L250.2 740.7L250.7 740.5L251.3 740.3L251.8 741.6L252.3 742.2L252.8 741.6L253.4 742.4L253.9 743.3L254.4 743.0L254.9 744.0L255.5 744.2L256.0 744.1L256.5 744.7L257.0 745.0L257.6 745.4L258.1 746.0L258.6 745.8L259.2 746.6L259.7 745.3L260.2 745.4L260.7 746.0L261.3 745.3L261.8 746.6L262.3 745.5L262.8 744.3L263.4 745.1L263.9 746.0L264.4 746.2L264.9 746.3L265.5 745.5L266.0 746.0L266.5 745.9L267.1 744.4L267.6 743.5L268.1 743.7L268.7 743.0L269.3 741.5L269.9 739.3L270.4 738.2L270.9 739.1L271.5 736.8L272.0 736.8L272.5 736.7L273.0 736.0L273.6 736.7L274.1 737.1L274.6 738.6L275.1 738.5L275.7 736.9L276.3 735.5L276.9 735.0L277.5 733.1L278.1 732.2L278.6 731.5L279.3 729.5L279.9 727.1L280.6 702.5L280.9 658.8L281.3 655.5L281.7 653.8L282.2 651.8L282.7 650.2L283.2 651.0L283.7 651.2L284.3 651.4L284.8 652.0L285.3 651.7L285.8 651.6L286.4 651.6L286.9 650.6L287.4 650.2L288.0 649.0L288.6 647.2L289.2 645.8L289.7 644.4L290.3 642.1L290.9 640.6L291.5 639.8L292.1 639.4L292.7 638.8L293.2 639.9L293.8 639.7L294.4 641.7L294.9 641.5L295.5 640.8L296.0 640.9L296.5 639.9L297.0 638.8L297.6 639.4L298.1 638.3L298.6 637.4L299.1 637.1L299.7 636.4L300.3 636.4L300.9 636.3L301.4 635.3L302.0 636.9L302.6 636.3L303.2 638.0L303.8 635.6L304.3 634.2L304.9 633.6L305.5 631.5L306.1 630.3L306.7 630.1L307.2 628.9L307.7 629.2L308.3 628.7L308.8 629.8L309.3 629.2L309.9 630.9L310.5 633.1L311.1 633.6L311.6 634.0L312.1 633.0L312.6 632.9L313.2 630.5L313.7 631.0L314.2 629.9L314.7 630.8L315.3 629.3L315.8 628.2L316.3 628.3L316.8 628.7L317.4 627.8L317.9 627.9L318.4 627.2L318.9 627.5L319.5 626.2L320.0 625.2L320.5 625.6L321.0 625.6L321.6 623.9L322.1 624.3L322.6 623.1L323.1 622.8L323.7 620.9L324.2 620.4L324.8 619.7L325.4 620.7L325.9 619.6L326.5 620.1L327.0 620.6L327.5 619.6L328.1 620.4L328.6 621.3L329.1 621.8L329.6 622.8L330.2 623.6L330.7 624.0L331.2 623.9L331.8 622.1L332.4 620.8L333.0 619.6L333.5 620.5L334.0 620.9L334.5 620.1L335.1 619.6L335.6 620.4L336.1 620.2L336.6 619.5L337.2 618.6L337.7 617.8L338.2 617.8L338.7 617.4L339.3 617.7L339.8 616.5L340.3 617.2L340.8 616.9L341.4 617.7L341.9 617.1L342.4 615.9L342.9 616.1L343.5 616.1L344.1 613.5L344.7 612.5L345.2 614.5L345.6 615.7L346.1 616.9L346.6 616.6L347.1 617.7L347.7 618.2L348.2 618.5L348.7 618.7L349.2 618.6L349.8 618.6L350.3 618.9L350.8 620.4L351.4 619.6L351.9 619.8L352.5 620.7L353.1 621.3L353.6 621.4L354.2 621.0L354.7 621.6L355.2 621.4L355.7 622.2L356.3 622.2L356.8 622.6L357.3 622.9L357.8 624.5L358.4 623.9L358.9 623.7L359.4 623.9L359.9 624.8L360.5 624.4L361.0 624.8L361.5 624.5L362.0 624.4L362.6 622.9L363.1 623.8L363.6 623.1L364.1 622.2L364.7 622.5L365.2 623.7L365.7 624.1L366.2 623.1L366.8 623.3L367.3 622.0L367.8 622.4L368.3 621.9L368.9 622.2L369.4 622.4L369.9 620.6L370.4 620.0L371.0 620.4L371.5 619.6L372.0 618.4L372.5 617.5L373.1 616.1L373.8 613.1L374.1 661.3L374.5 664.9L375.2 670.2L375.8 673.7L376.4 677.2L377.0 679.5L377.6 682.1L378.1 684.2L378.7 685.8L379.3 688.6L379.9 689.4L380.5 690.9L381.1 692.8L381.6 694.7L382.2 695.5L382.8 697.5L383.4 698.2L384.0 699.9L384.6 700.0L385.1 701.7L385.7 702.4L386.2 703.6L386.7 703.8L387.2 704.8L387.8 705.2L388.3 705.2L388.8 705.3L389.3 704.4L389.9 704.1L390.4 704.3L391.0 701.9L391.6 702.2L392.1 699.9L392.7 697.7L393.3 695.2L393.9 692.9L394.5 693.0L395.0 692.0L395.6 689.6L396.2 689.4L396.7 689.9L397.2 688.8L397.8 688.4L398.3 688.5L398.8 688.6L399.3 689.4L399.9 689.2L400.4 689.7L400.9 691.2L401.5 693.0L402.1 695.2L402.7 697.3L403.2 697.7L403.8 698.7L404.4 701.3L404.9 701.7L405.5 702.1L406.0 703.0L406.5 703.9L407.0 704.3L407.6 705.7L408.1 704.6L408.6 705.3L409.1 707.2L409.7 706.9L410.2 708.1L410.7 708.5L411.2 708.0L411.8 708.1L412.3 708.7L412.8 708.2L413.4 709.9L413.9 709.8L414.4 709.5L414.9 709.6L415.5 710.5L416.0 709.8L416.5 710.7L417.0 711.8L417.6 711.3L418.1 710.7L418.6 712.0L419.1 711.3L419.7 712.2L420.1 714.1L420.6 715.9L421.1 717.5L421.6 718.1L422.1 718.0L422.6 717.5L423.2 718.8L423.7 719.2L424.2 719.4L424.7 720.0L425.3 719.9L425.8 722.2L426.3 721.8L426.8 721.5L427.4 721.2L427.9 721.5L428.4 721.3L428.9 720.1L429.5 719.7L430.0 719.1L430.5 719.2L431.0 717.7L431.6 717.5L432.1 717.9L432.6 715.7L433.1 717.0L433.7 716.1L434.2 715.7L434.7 715.6L435.2 716.0L435.8 714.1L436.3 714.1L436.8 713.9L437.4 715.7L438.0 716.8L438.6 717.5L439.1 716.3L439.6 715.6L440.2 714.1L440.7 713.3L441.2 711.3L441.7 711.8L442.3 711.4L442.8 711.4L443.3 711.1L443.8 712.2L444.4 710.3L444.9 709.0L445.4 709.9L445.9 707.8L446.5 708.8L447.1 711.5L447.6 712.3L448.2 714.8L448.7 716.3L449.3 715.9L449.8 715.7L450.3 717.6L450.8 717.5L451.4 718.6L451.9 719.2L452.4 717.9L452.9 718.6L453.5 719.2L454.0 720.4L454.5 720.5L455.0 722.0L455.6 723.1L456.1 723.6L456.6 723.4L457.1 722.9L457.7 722.0L458.2 720.3L458.7 720.1L459.2 721.3L459.8 721.3L460.3 721.5L460.8 721.9L461.4 723.6L461.9 723.3L462.4 722.2L462.9 721.1L463.5 721.5L464.0 721.0L464.5 720.4L465.0 719.9L465.6 720.0L466.1 719.6L466.6 719.2L467.1 718.6L467.7 718.8L468.2 717.9L468.7 716.0L469.2 715.7L469.8 717.2L470.3 716.7L470.8 718.7L471.3 717.6L471.9 719.2L472.4 720.0L472.9 722.6L473.4 723.2L474.0 724.5L474.5 725.3L475.0 723.7L475.5 722.4L476.1 723.1L476.6 720.2L477.1 719.4L477.6 719.0L478.2 718.7L478.7 719.3L479.2 718.8L479.7 719.3L480.3 718.1L480.8 718.2L481.3 717.1L481.8 717.7L482.4 716.4L482.8 715.4L483.3 714.2L483.8 714.6L484.3 717.3L484.9 718.9L485.5 719.9L486.0 721.3L486.6 722.0L487.1 722.5L487.6 724.2L488.1 724.5L488.5 725.1L489.0 726.9L489.5 722.6L489.9 718.7L490.4 714.6L490.9 714.1L491.5 712.9L492.0 710.7L492.5 709.3L493.0 709.0L493.6 707.9L494.1 707.8L494.6 707.0L495.1 705.8L495.7 705.4L496.3 703.6L496.9 701.5L497.5 699.5L498.1 697.4L498.6 695.3L499.2 692.0L499.8 688.9L500.4 685.7L501.0 685.0L501.6 683.8L502.1 683.9L502.7 684.2L503.3 685.5L503.9 685.9L504.4 687.5L505.0 688.1L505.5 688.0L506.0 689.8L506.5 689.2L507.1 689.2L507.6 688.5L508.1 688.0L508.6 687.6L509.2 687.5L509.7 686.5L510.2 687.7L510.7 687.3L511.3 686.4L511.8 685.7L512.3 686.4L512.8 685.8L513.4 687.1L513.9 687.5L514.5 685.7L515.0 684.9L515.6 684.3L516.2 683.1L516.7 682.2L517.3 682.1L517.9 682.9L518.5 682.2L519.1 681.7L519.7 682.1L520.3 680.2L520.9 680.4L521.5 678.9L522.0 680.0L522.6 678.7L523.2 677.8L523.7 677.3L524.2 676.2L524.8 674.4L525.3 675.3L525.8 673.4L526.3 673.1L526.9 673.6L527.4 671.6L527.9 671.6L528.4 671.7L529.0 671.4L529.5 670.4L530.0 671.4L530.5 669.8L531.1 669.9L531.6 668.7L532.1 668.5L532.6 668.4L533.2 669.5L533.7 668.2L534.2 668.8L534.7 668.2L535.3 667.5L535.8 666.5L536.3 667.3L536.8 668.9L537.4 668.3L537.9 669.3L538.4 670.8L539.0 668.1L539.6 665.7L540.2 662.9L540.7 661.6L541.3 660.7L541.9 661.8L542.5 660.3L543.0 658.9L543.5 660.1L544.0 658.5L544.5 658.5L545.1 658.5L545.6 657.7L546.1 658.1L546.6 658.9L547.2 658.5L547.7 657.7L548.2 657.4L548.8 656.1L549.3 655.9L549.8 655.8L550.3 655.9L550.9 656.4L551.4 656.4L551.9 654.4L552.4 654.9L553.0 655.0L553.5 655.7L554.0 653.6L554.5 653.1L555.1 653.1L555.6 653.3L556.1 653.9L556.6 652.4L557.2 653.2L557.7 651.8L558.2 652.4L558.7 652.9L559.3 652.1L559.8 653.1L560.3 653.6L560.8 653.3L561.4 653.7L561.9 652.4L562.4 653.2L562.9 651.7L563.5 651.5L564.0 651.9L564.5 651.3L565.0 650.9L565.5 648.5L566.1 648.3L566.6 648.7L567.1 648.5L567.6 647.2L568.2 647.3L568.7 649.1L569.2 649.2L569.7 648.9L570.3 650.7L570.8 650.1L571.3 650.3L571.8 651.1L572.4 653.0L572.9 652.4L573.4 653.1L573.9 653.9L574.5 654.3L575.0 653.6L575.5 654.2L576.0 654.4L576.6 654.1L577.1 654.0L577.6 652.6L578.1 653.3L578.7 654.1L579.2 652.6L579.7 653.2L580.2 653.7L580.8 653.3L581.4 655.3L581.9 656.9L582.5 657.7L583.0 658.1L583.6 659.0L584.1 660.8L584.6 660.2L585.1 662.0L585.7 662.7L586.2 661.3L586.7 661.3L587.2 661.0L587.8 661.2L588.3 662.0L588.8 661.2L589.3 661.5L589.9 661.7L590.4 662.9L591.0 663.9L591.6 666.7L592.1 668.2L592.7 669.8L593.3 668.3L593.9 669.9L594.4 669.9L595.0 669.6L595.5 669.5L596.0 669.6L596.5 669.9L597.1 668.9L597.6 669.4L598.1 668.9L598.6 668.3L599.2 669.0L599.7 668.1L600.2 669.6L600.7 669.0L601.3 669.4L601.8 668.2L602.3 668.8L602.8 668.7L603.4 667.6L603.9 667.4L604.4 668.2L604.9 668.8L605.5 667.9L606.0 667.6L606.5 666.0L607.0 666.4L607.6 667.0L608.1 666.5L608.6 665.6L609.1 665.8L609.7 666.4L610.3 669.2L610.9 669.9L611.4 671.4L611.8 671.4L612.3 673.4L612.8 672.9L613.4 674.7L613.9 674.2L614.4 674.8L614.9 675.2L615.5 674.8L616.0 675.2L616.5 676.2L617.0 676.4L617.5 676.9L618.1 676.1L618.6 675.8L619.1 676.3L619.7 675.4L620.2 676.1L620.8 675.7L621.3 677.2L621.9 677.8L622.5 677.0L623.0 678.7L623.5 678.9L624.0 678.9L624.6 678.7L625.1 680.2L625.6 679.0L626.1 680.1L626.7 680.6L627.2 681.3L627.8 680.1L628.4 681.5L628.9 680.4L629.6 677.6L630.2 675.2L630.6 675.3L631.1 673.8L631.6 672.5L632.0 679.8L632.5 686.6L633.0 688.7L633.6 691.4L634.2 693.6L634.7 695.3L635.2 695.6L635.8 695.8L636.3 696.7L636.8 697.1L637.3 697.2L637.9 698.2L638.4 697.8L638.9 697.9L639.5 698.0L640.0 698.6L640.5 700.0L641.0 700.8L641.6 702.4L642.1 702.3L642.6 703.6L643.1 703.4L643.7 704.9L644.2 704.6L644.7 705.8L645.3 706.1L645.9 706.5L646.5 706.7L647.0 708.3L647.6 708.0L648.2 709.3L648.7 711.1L649.3 710.0L649.8 710.5L650.3 709.1L650.8 709.3L651.4 709.6L651.9 710.5L652.4 709.7L652.9 709.5L653.5 710.2L654.0 711.0L654.5 711.1L655.0 711.7L655.6 711.6L656.1 712.9L656.6 713.1L657.1 712.2L657.7 713.3L658.2 712.1L658.7 712.0L659.2 712.4L659.8 712.9L660.3 713.0L660.8 711.0L661.4 712.0L661.9 712.3L662.4 710.1L662.9 711.3L663.5 710.5L664.0 709.3L664.5 708.8L665.0 709.8L665.6 709.5L666.1 709.2L666.6 709.3L667.1 710.8L667.7 711.7L668.2 713.3L668.7 714.7L669.2 715.5L669.8 714.6L670.3 716.1L670.8 716.4L671.3 716.9L671.9 716.4L672.4 716.6L672.9 716.8L673.4 716.1L674.0 716.4L674.5 717.2L675.1 717.5L675.7 715.1L676.2 715.5L676.8 715.1L677.4 712.3L678.0 712.0L678.5 711.0L679.0 710.8L679.6 708.9L680.1 709.1L680.6 708.5L681.1 708.6L681.7 707.2L682.2 706.2L682.7 705.4L683.2 705.8L683.2 807.2L94.3 807.2Z" fill="#2AA086" fill-opacity="0.3" stroke="none"/>
<path d="M56.7 727.6L57.2 728.0L57.7 727.9L58.2 728.4L58.8 728.5L59.3 728.4L59.9 730.3L60.5 730.2L61.0 730.4L61.6 729.5L62.1 727.9L62.6 728.2L63.1 727.6L63.7 727.6L64.2 727.8L64.7 729.6L65.2 730.0L65.8 729.3L66.4 729.0L66.9 731.3L67.5 731.1L68.1 733.1L68.7 734.3L69.3 736.4L69.8 736.9L70.3 738.8L70.8 739.4L71.4 740.9L71.9 741.6L72.4 741.6L73.0 740.1L73.5 741.1L74.0 741.2L74.5 739.9L75.0 740.0L75.5 738.3L75.9 737.2L76.6 722.3L77.2 720.5L77.8 719.5L78.3 718.9L78.9 718.8L79.5 719.3L80.0 717.5L80.6 717.2L81.2 717.1L81.8 717.0L82.4 714.9L83.0 714.6L83.6 713.6L84.1 716.5L84.6 719.2L85.0 722.3L85.6 724.3L86.2 726.6L86.8 727.6L87.3 726.5L87.8 726.3L88.4 726.4L88.9 725.2L89.4 725.8L89.9 725.1L90.5 725.1L91.0 724.1L91.5 723.1L92.0 722.3L92.6 721.3L93.1 718.1L93.6 717.2L94.1 715.1L94.7 713.6L95.3 712.9L95.8 711.0L96.4 711.0L96.9 711.7L97.5 710.5L98.0 710.8L98.5 712.3L99.0 711.8L99.6 714.5L100.2 715.2L100.8 717.1L101.3 718.7L101.9 720.0L102.4 721.9L102.9 724.3L103.4 725.8L104.0 722.8L104.6 719.8L105.2 717.1L105.8 718.2L106.3 718.7L106.9 720.6L107.5 721.8L108.1 723.0L108.7 723.2L109.3 721.0L109.9 718.5L110.4 716.2L111.0 716.2L111.6 716.6L112.2 717.1L112.8 714.9L113.4 715.2L113.9 713.6L114.5 709.8L115.0 706.0L115.5 702.2L116.0 698.7L116.5 703.0L117.0 707.5L117.5 711.8L118.1 710.7L118.7 710.1L119.1 707.0L119.6 703.7L120.1 700.4L120.5 703.5L121.0 706.9L121.5 710.1L122.1 709.8L122.6 707.8L123.2 706.6L123.8 707.7L124.3 707.4L124.8 709.2L125.3 710.1L125.9 709.6L126.4 709.2L126.9 708.9L127.4 708.8L128.0 708.3L128.5 707.7L129.0 706.9L129.5 705.5L130.1 705.4L130.6 704.8L131.2 706.4L131.8 705.8L132.3 706.6L132.9 709.3L133.5 712.2L134.1 715.3L134.7 714.2L135.3 712.0L135.8 711.8L136.4 709.7L136.9 708.5L137.4 708.0L137.9 708.0L138.5 705.7L139.1 706.2L139.6 706.8L140.2 707.5L140.8 708.2L141.4 709.2L142.0 710.1L142.5 710.7L143.0 711.9L143.5 713.0L144.1 713.3L144.6 713.6L145.1 713.1L145.7 713.2L146.2 713.4L146.7 711.4L147.2 711.8L147.8 710.6L148.3 710.7L148.8 710.1L149.3 709.3L149.8 708.3L150.4 706.8L151.0 705.5L151.6 703.1L152.2 700.7L152.8 698.6L153.4 696.1L153.9 696.2L154.5 694.2L155.1 693.4L155.6 693.9L156.2 693.3L156.7 693.3L157.2 692.2L157.7 695.0L158.1 698.5L158.6 701.3L159.2 702.2L159.8 702.9L160.4 702.2L160.9 705.2L161.5 705.8L162.1 708.3L162.7 708.1L163.3 706.4L163.9 706.6L164.4 705.5L164.9 705.0L165.4 702.2L166.0 701.4L166.5 700.4L167.1 702.6L167.6 705.1L168.2 707.5L168.8 710.1L169.3 709.5L169.9 711.7L170.5 711.0L171.0 710.5L171.6 708.4L172.1 707.8L172.6 706.5L173.1 704.8L173.7 704.3L174.2 703.6L174.7 703.6L175.2 702.8L175.8 702.2L176.4 702.3L176.9 703.1L177.5 703.9L178.0 703.3L178.6 702.5L179.1 700.7L179.6 700.7L180.2 699.6L180.7 699.7L181.3 699.0L181.9 697.9L182.4 696.9L183.0 695.4L183.6 695.6L184.2 695.2L184.8 697.3L185.3 699.6L185.9 702.2L186.5 702.5L187.0 703.8L187.5 705.4L188.0 705.7L188.6 705.8L189.1 704.9L189.6 705.6L190.1 705.0L190.7 704.8L191.2 706.6L191.8 707.8L192.4 710.1L193.0 708.4L193.6 706.7L194.1 705.9L194.7 703.9L195.2 702.6L195.7 701.2L196.3 700.0L196.8 698.7L197.4 701.0L198.0 703.5L198.5 705.7L199.1 706.6L199.6 707.2L200.1 706.8L200.6 707.5L201.2 708.7L201.8 709.7L202.3 710.4L202.9 710.1L203.4 710.2L204.0 708.5L204.5 709.7L205.0 709.4L205.6 708.3L206.1 710.4L206.7 712.9L207.3 715.3L207.8 715.7L208.4 717.2L208.9 717.7L209.4 717.7L209.9 718.8L210.5 719.2L211.0 720.2L211.5 721.1L212.0 723.6L212.6 724.1L213.1 725.4L213.6 724.2L214.1 725.7L214.7 726.4L215.2 725.8L215.7 724.8L216.2 725.3L216.8 724.7L217.3 725.4L217.8 724.1L218.3 725.2L218.9 723.8L219.4 724.5L219.9 726.2L220.4 725.8L221.0 727.7L221.6 729.4L222.2 731.7L222.7 732.9L223.2 733.0L223.8 732.9L224.3 731.2L224.8 731.1L225.3 728.9L225.9 729.0L226.4 726.5L226.9 726.3L227.4 725.0L228.0 726.6L228.5 726.5L229.0 727.8L229.5 727.8L230.1 729.3L230.6 727.7L231.1 727.8L231.7 727.5L232.2 725.8L232.7 728.2L233.3 727.5L233.9 730.7L234.4 731.1L235.0 731.5L235.5 731.5L236.0 731.9L236.6 732.7L237.1 732.9L237.6 731.7L238.1 730.4L238.7 731.0L239.2 729.8L239.7 728.5L240.3 728.4L240.9 728.4L241.5 727.6L242.0 729.7L242.6 729.1L243.2 731.6L243.7 732.0L244.3 732.4L244.8 731.2L245.3 731.4L245.8 731.1L246.4 731.4L246.9 731.2L247.4 732.0L247.9 731.8L248.5 732.9L249.0 733.4L249.5 731.5L250.0 732.1L250.6 731.6L251.1 731.1L251.7 733.5L252.3 734.6L252.8 735.5L253.3 732.2L253.8 729.0L254.2 725.8L254.8 726.6L255.4 728.4L256.0 731.1L256.5 730.3L257.1 731.2L257.6 728.8L258.1 729.3L258.6 729.0L259.2 730.3L259.7 730.1L260.2 730.1L260.7 731.1L261.3 732.2L261.8 730.5L262.3 731.8L262.8 731.6L263.4 732.0L263.9 730.4L264.4 728.9L264.9 727.6L265.5 726.9L266.0 725.8L266.6 726.1L267.3 725.3L267.8 722.4L268.4 719.6L269.0 716.6L269.5 713.3L269.9 709.4L270.4 706.1L271.0 703.6L271.6 700.8L272.2 703.2L272.8 705.4L273.4 707.8L274.0 707.3L274.6 707.5L275.1 706.1L275.8 705.4L276.4 705.2L276.9 700.6L277.4 696.4L277.9 702.3L278.3 707.8L278.7 705.0L279.2 702.5L279.6 686.6L280.1 671.0L280.6 650.0L280.9 637.1L281.3 616.1L281.7 613.3L282.2 610.1L282.7 607.3L283.2 606.2L283.7 606.3L284.3 606.1L284.8 604.7L285.4 605.8L285.9 608.4L286.5 609.0L287.1 607.1L287.7 605.0L288.3 602.9L288.9 601.2L289.5 598.4L290.0 597.7L290.6 595.2L291.2 594.5L291.8 592.4L292.4 590.5L293.0 588.1L293.5 586.3L294.2 582.4L294.8 578.4L295.2 580.1L295.7 581.9L296.2 583.7L296.8 584.3L297.3 584.8L297.9 586.3L298.5 588.3L299.1 590.6L299.7 592.4L300.3 589.3L300.8 586.8L301.4 583.7L302.0 583.1L302.6 581.6L303.2 581.9L303.8 581.7L304.3 579.1L304.9 579.3L305.5 579.4L306.1 577.8L306.7 577.5L307.3 579.6L307.8 580.3L308.4 581.0L309.0 583.3L309.6 585.8L310.2 588.0L310.8 590.2L311.3 589.7L311.9 591.5L312.5 590.6L313.1 590.5L313.7 590.7L314.3 590.5L314.9 588.4L315.4 588.0L316.0 586.9L316.6 587.1L317.2 586.3L317.8 583.3L318.4 580.1L319.0 580.9L319.6 582.0L320.1 581.8L320.7 583.7L321.3 582.9L321.9 583.2L322.4 584.5L323.0 584.8L323.6 587.4L324.2 588.0L324.8 590.5L325.4 590.2L325.9 592.4L326.5 592.5L327.1 592.0L327.7 593.3L328.3 591.2L328.9 589.3L329.4 587.2L330.0 585.2L330.6 583.3L331.2 581.0L331.7 576.2L332.3 571.4L332.8 571.6L333.3 573.5L333.8 574.9L334.3 575.7L334.8 576.3L335.2 577.5L335.7 575.7L336.1 575.8L336.6 626.6L337.2 632.8L337.7 638.8L338.2 642.9L338.6 647.1L339.1 651.1L339.6 654.5L340.0 657.9L340.5 661.6L341.1 664.1L341.7 666.9L342.3 667.9L342.9 670.3L343.5 672.1L344.1 665.8L344.7 659.9L345.2 661.4L345.6 663.4L346.1 665.1L346.7 667.9L347.3 670.8L347.9 673.9L348.4 673.9L349.0 676.1L349.6 676.5L350.1 677.3L350.7 677.5L351.2 677.2L351.7 677.5L352.2 677.4L352.8 677.6L353.3 676.5L353.8 676.3L354.3 676.4L354.9 675.6L355.4 674.7L356.0 673.5L356.6 672.1L357.2 670.7L357.8 668.7L358.4 666.9L358.9 665.7L359.5 665.3L360.1 665.1L360.7 664.1L361.3 662.0L361.9 660.7L362.4 662.6L363.0 662.8L363.6 664.2L364.2 666.9L364.8 669.3L365.4 672.1L365.9 673.4L366.5 676.4L367.1 677.4L367.6 677.2L368.0 678.7L368.5 678.9L369.1 678.8L369.7 680.9L370.3 681.5L370.8 682.3L371.4 684.1L372.0 684.2L372.6 686.0L373.2 687.1L373.8 687.7L374.2 685.8L374.7 684.2L375.2 682.4L375.8 679.9L376.4 678.9L377.0 678.6L377.6 678.1L378.1 678.0L378.7 678.8L379.3 679.3L379.9 680.7L380.5 680.9L381.1 682.4L381.6 683.3L382.2 685.4L382.8 687.4L383.4 689.4L384.0 691.5L384.6 691.9L385.1 692.9L385.7 693.4L386.3 695.6L386.9 696.4L387.5 698.7L388.1 701.3L388.6 703.4L389.2 704.4L389.8 706.8L390.4 708.7L391.0 711.0L391.6 713.1L392.1 707.2L392.6 700.8L393.0 694.7L393.6 692.7L394.2 691.8L394.8 689.4L395.3 689.8L395.8 689.9L396.4 689.4L396.9 687.9L397.4 688.5L398.0 690.4L398.6 691.2L399.2 691.2L399.7 693.5L400.3 695.9L400.9 698.2L401.5 697.1L402.1 694.7L402.7 695.3L403.3 694.7L403.9 693.2L404.4 693.8L404.9 693.8L405.5 695.3L406.0 696.3L406.5 696.9L407.0 698.2L407.6 698.2L408.1 697.7L408.6 696.4L409.1 696.5L409.7 695.5L410.3 694.9L410.8 696.5L411.4 695.5L411.9 695.9L412.5 696.6L413.0 697.9L413.5 699.8L414.1 699.9L414.6 700.5L415.1 701.0L415.6 701.6L416.2 701.1L416.7 701.7L417.2 703.7L417.8 704.9L418.4 705.0L419.0 706.1L419.5 703.6L420.1 701.0L420.7 698.2L421.2 699.9L421.8 700.5L422.3 703.1L422.8 704.3L423.3 704.0L423.9 704.7L424.4 703.2L424.9 702.6L425.4 703.4L426.0 702.4L426.5 702.0L427.0 702.1L427.5 701.4L428.1 701.7L428.6 701.2L429.1 701.5L429.6 700.4L430.2 700.9L430.7 700.8L431.1 698.1L431.6 695.5L432.2 696.0L432.7 698.8L433.3 699.9L433.9 700.5L434.5 701.7L435.1 701.7L435.6 703.2L436.1 702.1L436.6 704.2L437.2 704.4L437.7 705.2L438.3 706.4L438.8 705.2L439.4 707.2L440.0 706.9L440.6 703.0L441.2 699.0L441.8 697.1L442.4 696.9L443.0 695.9L443.5 697.0L444.0 695.6L444.5 696.5L445.1 696.1L445.6 697.3L446.1 699.7L446.5 702.7L447.0 705.2L447.6 707.5L448.2 709.9L448.7 712.2L449.3 715.0L449.9 717.2L450.5 720.1L451.0 722.9L451.5 725.5L452.1 728.0L452.7 727.2L453.4 725.7L454.0 723.6L454.5 721.8L455.0 719.5L455.6 720.0L456.1 717.5L456.6 717.0L457.1 716.5L457.7 715.8L458.2 714.2L458.7 713.9L459.2 713.7L459.8 712.8L460.3 711.8L460.8 711.8L461.4 711.3L461.9 710.9L462.4 710.2L462.9 710.8L463.5 710.8L464.0 709.6L464.5 709.1L465.0 707.2L465.6 707.6L466.1 707.0L466.6 706.1L467.1 705.8L467.7 703.9L468.2 702.9L468.7 702.3L469.2 701.7L469.8 700.8L470.3 701.9L470.8 700.2L471.3 701.1L471.9 700.8L472.4 703.0L473.0 702.7L473.6 705.2L474.2 703.4L474.7 704.0L475.3 701.5L475.8 701.4L476.4 699.7L476.9 698.9L477.4 700.1L478.0 699.4L478.5 700.6L479.1 701.2L479.7 701.9L480.3 704.1L480.8 703.3L481.4 701.7L482.0 700.6L482.5 700.3L483.1 700.4L483.6 701.0L484.1 700.1L484.6 700.6L485.2 698.8L485.8 697.4L486.3 697.6L486.9 696.2L487.5 694.2L488.1 692.0L488.7 690.1L489.2 686.0L489.8 682.1L490.4 677.8L491.0 674.9L491.6 672.1L492.2 669.0L492.8 668.4L493.3 668.6L493.9 668.2L494.5 669.6L495.1 670.3L495.7 670.8L496.3 670.1L496.8 668.6L497.4 668.2L498.0 666.4L498.6 666.4L499.2 665.5L499.8 660.4L500.4 655.0L501.0 651.5L501.6 648.0L502.2 649.7L502.8 650.3L503.4 651.5L504.0 653.4L504.5 655.7L505.1 657.7L505.7 658.3L506.3 658.5L506.9 659.4L507.5 660.2L508.1 663.4L508.6 663.8L509.2 661.8L509.8 659.8L510.4 657.7L511.0 655.4L511.6 653.7L512.1 651.5L512.7 649.1L513.3 648.0L513.9 646.3L514.5 647.5L515.1 649.0L515.6 650.7L516.2 652.8L516.8 654.6L517.4 656.8L518.0 656.8L518.6 655.8L519.1 654.2L519.7 656.8L520.3 659.6L520.9 662.0L521.5 661.9L522.0 662.5L522.6 661.4L523.2 661.2L523.8 658.8L524.3 656.0L524.9 653.3L525.5 650.3L526.1 647.2L526.7 648.4L527.3 648.0L527.9 647.3L528.4 648.0L529.0 648.6L529.6 647.8L530.1 648.5L530.7 648.9L531.2 649.1L531.8 647.8L532.3 648.1L532.8 648.0L533.3 647.0L533.9 647.0L534.4 646.2L534.9 646.3L535.5 647.4L536.0 648.3L536.6 648.2L537.2 648.9L537.8 648.0L538.3 646.8L538.9 645.6L539.5 643.7L540.0 643.8L540.5 643.1L541.0 642.8L541.6 641.9L542.2 640.9L542.7 639.0L543.3 637.5L543.9 639.3L544.5 639.2L545.1 641.0L545.7 643.2L546.2 644.8L546.8 646.3L547.4 646.9L548.0 647.7L548.6 648.0L549.2 647.4L549.7 645.7L550.3 643.7L550.8 643.2L551.3 642.7L551.7 641.0L552.3 643.2L552.9 645.0L553.5 647.2L554.1 649.5L554.7 651.5L555.3 650.6L555.9 648.2L556.5 646.3L557.0 646.8L557.5 644.9L558.0 645.9L558.6 644.3L559.1 644.5L559.6 644.1L560.1 644.2L560.7 643.8L561.2 643.9L561.7 643.7L562.2 642.3L562.8 641.7L563.3 642.5L563.8 641.1L564.3 641.0L564.9 641.0L565.5 642.3L566.1 642.9L566.8 642.8L567.3 640.7L567.9 638.8L568.5 636.6L569.1 635.0L569.7 634.0L570.2 636.3L570.7 637.2L571.1 638.4L571.7 641.2L572.3 643.8L572.9 646.3L573.5 646.1L574.1 646.0L574.6 644.5L575.2 643.6L575.8 641.5L576.4 640.2L577.0 640.2L577.6 641.7L578.1 642.8L578.8 648.1L579.4 653.3L579.9 655.7L580.5 658.6L581.1 661.2L581.7 660.5L582.3 660.2L582.8 658.9L583.4 659.4L583.9 659.1L584.4 660.8L585.0 660.5L585.5 660.8L586.0 662.0L586.5 663.3L587.1 662.2L587.6 664.0L588.1 664.8L588.6 664.7L589.2 666.1L589.8 666.2L590.4 666.4L591.0 664.2L591.6 662.3L592.1 660.3L592.6 658.7L593.1 656.7L593.5 655.0L594.2 654.2L594.8 653.3L595.3 672.5L595.9 676.2L596.5 679.6L597.1 681.5L597.7 682.8L598.3 684.8L598.9 687.2L599.5 689.5L600.0 691.8L600.6 689.5L601.1 687.2L601.6 685.1L602.1 683.1L602.7 685.9L603.3 686.1L603.9 688.3L604.5 689.2L605.1 691.7L605.6 691.8L606.2 691.4L606.8 692.2L607.3 692.9L607.9 693.6L608.5 695.9L609.1 698.2L609.7 700.6L610.3 701.4L610.9 703.2L611.4 705.4L611.8 707.9L612.3 710.2L612.8 708.6L613.3 707.4L613.9 708.1L614.4 706.7L615.0 708.1L615.6 708.2L616.1 709.3L616.7 709.9L617.3 708.0L617.9 708.5L618.5 708.4L619.1 707.1L619.7 705.8L620.2 705.3L620.8 703.1L621.4 703.2L622.0 706.3L622.6 708.9L623.2 712.0L623.7 710.6L624.3 709.2L624.9 707.6L625.5 705.2L626.1 704.2L626.7 703.2L627.1 700.2L627.6 696.9L628.1 693.6L628.7 691.3L629.3 689.2L629.9 692.5L630.5 695.3L631.0 696.2L631.6 698.8L632.2 700.3L632.7 701.8L633.3 702.3L633.9 704.8L634.5 707.1L635.1 709.3L635.6 709.0L636.1 707.1L636.7 707.3L637.2 705.8L637.7 705.8L638.3 705.1L638.9 704.0L639.5 704.1L640.0 704.6L640.5 703.5L641.0 704.6L641.6 705.1L642.1 705.0L642.6 704.3L643.1 704.5L643.7 703.0L644.2 703.2L644.7 703.2L645.3 703.0L645.9 703.5L646.4 702.6L647.0 702.3L647.6 701.5L648.2 698.6L648.7 697.1L649.3 696.6L649.8 694.6L650.3 693.1L650.8 691.8L651.4 690.6L652.0 691.3L652.6 690.1L653.1 690.4L653.5 689.3L654.0 689.2L654.6 687.1L655.2 685.7L655.8 686.1L656.4 687.1L657.0 688.3L657.6 688.0L658.1 690.2L658.7 690.1L659.3 691.1L659.9 691.7L660.5 693.6L661.1 691.0L661.6 688.2L662.2 685.7L662.8 685.2L663.5 683.1L664.0 683.5L664.6 686.1L665.2 687.5L665.8 688.6L666.4 688.9L667.0 690.1L667.5 688.3L668.1 688.6L668.7 686.6L669.3 687.6L669.9 688.7L670.5 689.2L671.0 688.7L671.6 688.6L672.2 690.7L672.7 690.1L673.3 688.5L673.9 687.4L674.5 687.5L675.1 689.5L675.7 690.5L676.2 691.8L676.8 691.5L677.4 693.3L678.0 693.8L678.5 694.5L679.0 695.1L679.6 694.2L680.1 693.1L680.6 693.6L681.2 693.3L681.8 693.0L682.4 691.8L682.8 693.2L683.2 692.7" fill="none" stroke="#45B7D1" stroke-width="2.2" stroke-linejoin="miter"/>
<line x1="75.0" x2="75.0" y1="807.2" y2="760.0" stroke="#FF6B6B" stroke-width="1.3"/>
<path d="M75.0 760.0L75.5 753.4L75.9 746.9L76.5 741.6L77.2 736.4L77.7 735.8L78.3 733.4L78.9 732.0L79.4 731.6L80.0 731.5L80.5 730.3L81.0 730.6L81.5 730.2L82.1 730.3L82.6 730.4L83.1 728.7L83.6 729.3L84.2 729.6L84.8 729.8L85.3 732.0L85.9 732.0L86.4 733.1L87.0 732.4L87.5 735.1L88.0 735.7L88.5 735.5L89.1 736.2L89.6 736.6L90.1 736.1L90.6 737.2L91.2 735.6L91.8 736.0L92.3 734.3L92.9 734.6L93.5 733.3L94.1 732.7L94.6 731.6L95.2 732.0L95.7 732.8L96.2 733.6L96.8 735.3L97.3 735.5L97.8 733.9L98.4 732.6L98.9 730.7L99.4 729.5L99.9 727.6L100.5 729.9L101.1 732.2L101.7 734.6L102.2 735.0L102.8 734.3L103.4 733.3L104.0 732.0L104.5 733.7L105.0 734.2L105.5 735.3L106.1 737.2L106.6 736.4L107.1 735.6L107.6 736.7L108.2 735.6L108.7 735.5L109.2 736.0L109.7 734.9L110.3 735.9L110.8 735.5L111.3 734.6L111.8 732.7L112.4 732.2L112.9 732.8L113.4 731.0L113.9 730.2L114.5 730.9L115.0 729.3L115.5 728.3L116.0 729.1L116.6 728.5L117.1 728.8L117.6 727.5L118.1 726.9L118.7 727.6L119.3 725.5L119.8 723.7L120.4 721.5L121.0 723.8L121.6 724.2L122.2 726.7L122.7 726.8L123.3 727.2L123.9 727.8L124.5 729.3L125.0 728.7L125.5 726.0L126.0 725.5L126.5 724.1L127.1 725.7L127.7 726.9L128.3 729.8L128.8 731.1L129.4 730.1L129.9 731.0L130.4 729.8L130.9 730.2L131.5 730.2L132.0 730.5L132.6 731.5L133.2 733.8L133.7 733.7L134.3 733.3L134.8 731.1L135.3 731.2L135.8 729.3L136.4 727.3L137.0 726.2L137.6 725.0L138.1 721.9L138.5 718.6L139.0 715.3L139.6 712.1L140.2 709.2L140.8 710.8L141.4 709.8L142.0 711.0L142.6 711.9L143.1 714.4L143.7 715.3L144.2 715.3L144.8 715.6L145.3 715.5L145.8 715.9L146.3 717.1L146.9 717.3L147.4 716.5L147.9 717.3L148.5 716.8L149.0 717.1L149.5 717.3L150.0 718.7L150.6 718.1L151.1 718.6L151.6 718.8L152.1 719.8L152.7 718.5L153.2 718.6L153.7 720.4L154.2 719.7L154.8 719.9L155.3 718.1L155.8 717.5L156.3 718.1L156.9 717.1L157.4 717.8L157.9 716.1L158.4 717.5L159.0 717.2L159.5 716.2L160.0 716.8L160.5 716.7L161.1 716.4L161.6 716.6L162.1 718.0L162.6 718.2L163.2 716.0L163.7 716.3L164.2 714.6L164.7 714.5L165.3 714.8L165.8 714.0L166.3 713.0L166.8 712.4L167.4 712.7L167.9 713.8L168.5 713.1L169.1 714.1L169.6 715.3L170.2 715.3L170.7 715.7L171.2 715.0L171.7 714.2L172.3 714.5L172.8 715.2L173.3 713.5L173.8 712.9L174.4 713.3L174.9 713.6L175.5 715.2L176.1 716.2L176.6 718.8L177.2 718.5L177.7 719.3L178.2 720.0L178.7 719.5L179.3 720.6L179.8 720.1L180.3 721.1L180.8 721.1L181.4 720.2L181.9 719.7L182.4 720.5L183.0 720.6L183.5 720.0L184.0 720.1L184.5 721.5L185.1 720.1L185.6 721.6L186.1 720.8L186.6 721.0L187.2 719.7L187.7 718.4L188.2 719.3L188.7 718.6L189.3 718.8L189.8 718.0L190.3 717.4L190.8 718.7L191.4 716.5L191.9 717.4L192.4 717.1L192.9 717.2L193.5 717.2L194.0 716.5L194.5 716.1L195.0 715.3L195.6 715.4L196.1 715.1L196.6 713.4L197.1 713.6L197.7 712.7L198.2 713.2L198.7 712.8L199.2 711.5L199.8 711.9L200.3 711.0L200.8 711.9L201.3 711.5L201.9 711.7L202.4 711.4L202.9 711.8L203.5 712.9L204.1 713.8L204.7 714.5L205.2 713.9L205.7 715.4L206.2 716.5L206.8 716.6L207.3 716.2L207.8 717.6L208.4 717.7L208.9 719.3L209.4 719.9L209.9 720.6L210.5 720.6L211.0 721.6L211.5 720.2L212.0 721.8L212.6 721.5L213.1 720.5L213.6 721.7L214.1 721.4L214.7 720.9L215.2 721.5L215.7 721.7L216.2 721.1L216.8 721.2L217.3 721.6L217.8 720.6L218.3 721.1L218.9 721.7L219.4 723.3L219.9 725.2L220.4 725.8L221.0 726.1L221.5 726.9L222.0 729.3L222.5 729.7L223.1 730.2L223.6 730.3L224.1 731.4L224.6 730.4L225.2 731.3L225.7 731.1L226.2 730.5L226.7 730.9L227.3 731.7L227.8 732.0L228.3 731.1L228.8 731.9L229.4 730.8L229.9 731.3L230.4 730.7L230.9 731.1L231.5 730.2L232.0 730.7L232.5 731.3L233.1 731.1L233.6 730.2L234.1 732.2L234.6 734.3L235.2 734.5L235.7 735.8L236.2 738.1L236.7 738.5L237.3 738.7L237.8 739.1L238.3 740.0L238.8 740.7L239.4 741.3L239.9 741.4L240.4 741.4L240.9 742.8L241.5 742.5L242.0 743.0L242.5 741.3L243.0 740.0L243.6 739.4L244.1 739.9L244.6 740.8L245.1 739.2L245.7 740.8L246.2 740.7L246.7 740.7L247.2 740.9L247.8 742.4L248.3 741.3L248.8 742.1L249.3 743.4L249.9 742.9L250.4 741.7L250.9 743.0L251.4 741.4L252.0 741.6L252.5 740.2L253.0 739.3L253.5 739.8L254.1 738.7L254.6 738.1L255.1 738.9L255.7 739.5L256.2 740.3L256.7 741.2L257.2 740.7L257.8 741.1L258.3 740.1L258.8 740.7L259.3 740.1L259.9 740.7L260.4 739.5L260.9 740.3L261.4 740.7L262.0 739.4L262.5 739.9L263.0 739.5L263.5 739.9L264.1 740.8L264.6 740.6L265.1 740.7L265.6 740.2L266.2 739.7L266.7 738.2L267.3 737.6L267.8 736.5L268.4 734.9L269.0 732.3L269.6 730.0L270.2 730.3L270.8 728.0L271.4 727.0L271.9 724.3L272.5 723.6L273.1 724.4L273.7 725.6L274.3 726.2L274.7 728.5L275.2 730.2L275.7 732.3L276.3 729.7L276.9 727.1L277.3 725.5L277.8 723.6L278.3 726.4L278.8 728.8L279.4 720.3L279.9 711.3L280.6 676.3L280.9 650.0L281.3 647.6L281.7 645.2L282.2 643.0L282.7 640.6L283.3 638.2L283.8 637.5L284.4 635.3L285.0 635.6L285.5 634.8L286.0 634.5L286.5 633.6L287.1 631.4L287.7 629.7L288.3 627.5L288.9 626.7L289.5 624.9L290.0 622.2L290.6 619.9L291.2 617.7L291.8 615.2L292.4 616.6L293.0 619.5L293.5 620.4L294.1 622.4L294.7 622.5L295.3 623.9L295.9 622.8L296.5 623.2L297.0 623.1L297.6 623.8L298.2 624.8L298.8 624.8L299.4 622.8L300.0 620.5L300.6 618.7L301.1 618.5L301.7 616.0L302.3 616.1L302.8 614.9L303.4 611.9L303.9 610.5L304.4 609.0L305.0 608.5L305.6 606.0L306.1 605.5L306.6 603.6L307.1 603.2L307.6 602.0L308.1 604.0L308.7 605.7L309.3 606.4L309.8 607.3L310.4 608.4L310.9 608.0L311.4 609.5L311.9 609.0L312.5 607.8L313.0 607.8L313.5 608.1L314.0 607.2L314.6 607.3L315.1 608.7L315.6 609.3L316.1 610.0L316.7 611.5L317.2 611.7L317.8 610.1L318.4 607.8L318.9 606.4L319.5 605.1L320.1 605.0L320.7 604.0L321.2 602.0L321.7 600.3L322.3 600.6L322.8 599.7L323.3 597.7L323.9 599.2L324.5 600.7L325.1 602.0L325.6 602.5L326.1 604.3L326.7 605.3L327.2 606.4L327.7 608.0L328.3 608.1L328.9 611.4L329.4 611.7L330.0 611.5L330.5 611.1L331.0 611.8L331.6 611.1L332.1 610.8L332.6 610.4L333.1 610.5L333.7 608.8L334.2 609.5L334.7 609.0L335.3 608.7L335.9 609.6L336.4 609.3L337.0 608.2L337.5 607.5L338.0 607.7L338.6 606.7L339.1 607.3L339.6 608.5L340.1 610.6L340.7 612.1L341.2 612.5L341.8 611.6L342.3 610.4L342.9 609.3L343.5 609.0L344.0 609.1L344.5 609.6L345.0 607.7L345.6 608.9L346.1 608.2L346.6 607.0L347.1 607.2L347.7 607.1L348.2 607.9L348.7 607.3L349.2 606.4L349.8 605.9L350.3 606.0L350.8 604.4L351.4 604.7L351.9 603.7L352.5 601.0L353.1 600.3L353.7 597.2L354.3 594.2L354.9 598.0L355.4 602.0L355.9 658.1L356.6 668.6L357.2 668.9L357.8 670.4L358.4 671.2L358.9 672.3L359.5 673.3L360.1 674.7L360.7 675.4L361.3 676.6L361.9 677.4L362.4 678.6L363.0 680.7L363.6 683.3L364.2 686.9L364.8 690.4L365.4 693.8L365.9 695.0L366.5 696.9L367.1 697.3L367.7 697.3L368.2 697.6L368.8 696.1L369.4 696.4L369.9 696.9L370.4 697.1L371.0 697.3L371.5 696.0L372.0 696.4L372.5 695.7L373.1 696.6L373.6 694.8L374.1 696.1L374.6 694.7L375.2 694.8L375.7 692.5L376.2 692.0L376.7 692.3L377.3 691.2L377.8 690.0L378.3 688.9L378.8 689.8L379.4 688.2L379.9 687.7L380.5 687.8L381.0 686.0L381.6 686.1L382.2 685.9L382.7 687.8L383.2 688.0L383.7 689.9L384.3 692.0L384.8 693.8L385.3 695.7L385.8 697.2L386.4 696.8L386.9 699.0L387.4 699.2L388.0 699.9L388.5 699.6L389.0 700.1L389.5 699.9L390.1 698.4L390.6 697.3L391.1 696.5L391.6 695.5L392.1 695.5L392.7 693.6L393.3 691.5L393.9 689.4L394.4 690.1L395.0 689.7L395.5 690.3L396.0 690.9L396.5 692.0L397.1 693.5L397.6 694.5L398.1 695.0L398.6 694.0L399.2 695.5L399.7 695.9L400.2 699.0L400.7 699.1L401.3 701.0L401.8 701.7L402.3 702.4L402.8 703.7L403.4 704.9L403.9 705.7L404.4 706.9L404.9 708.0L405.5 707.7L406.0 710.0L406.5 711.2L407.0 711.3L407.6 711.9L408.1 713.7L408.6 715.5L409.1 716.0L409.7 717.5L410.2 717.0L410.7 717.1L411.2 718.0L411.8 717.1L412.3 718.3L412.8 718.8L413.4 718.3L413.9 717.7L414.4 717.7L414.9 716.6L415.5 717.0L416.0 716.7L416.5 717.3L417.0 717.3L417.6 717.5L418.1 719.0L418.7 719.3L419.3 719.2L419.8 716.7L420.2 714.7L420.7 712.2L421.2 712.0L421.8 711.5L422.3 710.9L422.8 709.6L423.3 709.4L423.9 710.4L424.4 710.4L424.9 710.0L425.4 709.6L426.0 709.2L426.5 708.4L427.0 706.7L427.5 706.5L428.1 705.2L428.6 703.2L429.1 702.7L429.6 702.0L430.2 700.0L430.7 699.9L431.2 698.9L431.7 698.8L432.3 698.1L432.8 696.6L433.3 696.4L433.8 697.1L434.4 696.3L434.9 695.4L435.4 695.5L436.0 697.9L436.6 699.6L437.1 701.5L437.7 703.4L438.2 704.1L438.8 706.2L439.3 706.4L439.8 707.4L440.3 707.8L440.9 708.7L441.4 709.5L441.9 707.9L442.4 709.5L443.0 709.6L443.5 710.6L444.0 710.1L444.5 710.9L445.1 710.7L445.6 712.2L446.1 712.3L446.6 713.3L447.2 713.4L447.7 714.5L448.2 715.7L448.7 717.4L449.3 717.5L449.8 718.3L450.3 720.2L450.8 720.1L451.4 720.9L451.9 722.5L452.4 722.5L452.9 723.5L453.5 723.6L454.0 723.8L454.6 726.0L455.2 727.4L455.7 728.0L456.3 725.9L456.8 726.7L457.3 724.0L457.9 723.6L458.4 722.8L458.9 721.5L459.4 721.5L459.9 721.0L460.5 720.1L461.0 718.3L461.5 719.3L462.0 717.3L462.6 716.6L463.1 715.7L463.6 715.5L464.2 714.7L464.7 714.2L465.2 714.6L465.7 713.9L466.3 714.2L466.8 713.8L467.3 714.9L467.8 714.2L468.4 714.8L468.9 716.9L469.5 719.4L470.1 721.8L470.6 724.7L471.0 728.0L471.6 725.2L472.2 722.8L472.7 720.1L473.3 719.3L473.8 719.9L474.3 719.0L474.8 717.0L475.4 717.5L475.9 718.0L476.5 717.4L477.1 715.1L477.6 715.5L478.2 716.0L478.7 714.6L479.2 714.4L479.7 715.1L480.3 713.7L480.8 712.7L481.3 712.7L481.8 713.1L482.4 712.1L482.9 711.1L483.4 710.1L484.0 710.3L484.6 709.1L485.2 707.6L485.7 707.4L486.2 705.9L486.7 706.5L487.3 705.8L487.8 705.2L488.4 704.1L489.0 704.1L489.6 699.2L490.2 694.8L490.8 690.1L491.4 688.4L491.9 688.2L492.5 687.5L493.0 688.5L493.6 688.7L494.1 688.9L494.6 690.1L495.2 690.5L495.8 690.3L496.3 691.3L496.9 691.0L497.5 689.6L498.1 689.1L498.6 686.6L499.2 683.0L499.8 679.1L500.4 675.2L501.0 673.8L501.6 672.6L502.1 672.5L502.7 674.8L503.3 676.1L503.9 676.9L504.4 677.7L505.0 677.7L505.5 678.0L506.0 679.4L506.5 679.6L507.1 679.2L507.6 678.7L508.1 678.3L508.6 678.0L509.2 676.9L509.7 675.8L510.2 675.4L510.7 676.4L511.3 675.7L511.8 674.3L512.3 674.9L512.8 673.0L513.4 672.9L513.9 673.1L514.4 673.4L514.9 672.6L515.5 672.3L516.0 670.5L516.5 670.7L517.0 669.9L517.6 668.7L518.1 668.4L518.6 669.3L519.1 668.6L519.7 668.2L520.2 668.7L520.8 668.3L521.4 668.8L522.0 669.0L522.5 667.3L523.0 666.5L523.5 666.3L524.0 664.7L524.6 665.6L525.1 664.1L525.6 664.4L526.2 666.0L526.7 665.5L527.2 665.1L527.7 664.7L528.3 662.8L528.8 662.6L529.3 662.0L529.8 661.4L530.4 662.3L530.9 661.2L531.4 661.7L531.9 661.2L532.5 662.4L533.0 661.2L533.5 661.8L534.0 662.4L534.6 662.0L535.1 662.0L535.6 660.1L536.1 659.1L536.7 657.7L537.2 657.7L537.8 657.3L538.4 654.4L538.9 654.2L539.5 652.8L540.1 653.4L540.7 652.8L541.2 652.4L541.7 652.1L542.3 650.7L542.8 651.0L543.3 649.8L543.9 647.4L544.5 646.3L545.1 645.4L545.6 645.6L546.1 644.2L546.6 644.5L547.2 645.2L547.7 644.5L548.2 645.3L548.8 644.8L549.3 644.8L549.8 645.6L550.3 646.3L550.9 646.9L551.4 646.3L551.9 646.0L552.4 647.4L553.0 647.2L553.5 646.8L554.0 647.0L554.5 646.5L555.1 645.9L555.6 644.5L556.1 644.7L556.6 645.9L557.2 645.2L557.7 645.5L558.2 646.3L558.7 645.4L559.3 645.8L559.8 645.0L560.3 642.9L560.8 642.8L561.4 642.2L562.0 641.9L562.6 641.9L563.2 643.1L563.8 644.6L564.3 646.3L564.9 645.9L565.4 645.3L566.0 646.0L566.5 646.3L567.1 645.6L567.6 645.4L568.2 646.6L568.7 646.6L569.2 646.3L569.7 648.0L570.3 648.0L570.8 650.1L571.3 650.0L571.8 650.7L572.4 653.0L572.9 654.2L573.5 656.0L574.1 657.8L574.6 659.4L575.2 660.6L575.7 660.1L576.2 660.6L576.7 659.2L577.3 660.3L577.8 659.9L578.3 659.8L578.8 657.8L579.4 657.3L579.9 657.7L580.4 657.8L580.9 657.8L581.5 655.7L582.0 656.5L582.5 655.9L583.0 655.9L583.6 657.8L584.1 658.3L584.6 658.2L585.1 659.4L585.7 658.1L586.2 658.6L586.7 657.4L587.2 657.2L587.8 655.9L588.3 656.0L588.8 656.3L589.3 657.9L589.9 657.7L590.4 657.7L590.9 658.3L591.5 659.1L592.0 660.2L592.5 660.9L593.0 661.2L593.6 661.9L594.1 660.6L594.6 661.3L595.1 660.8L595.7 660.3L596.2 661.6L596.8 662.1L597.4 662.0L598.0 665.7L598.6 669.0L599.1 671.6L599.6 674.0L600.0 676.1L600.6 676.0L601.1 675.4L601.6 675.5L602.1 675.3L602.7 674.3L603.2 673.8L603.7 673.4L604.2 672.5L604.8 673.4L605.3 672.5L605.8 673.9L606.3 673.0L606.9 672.9L607.4 673.3L607.9 674.3L608.4 674.3L609.0 674.2L609.5 675.8L610.0 674.1L610.5 675.2L611.1 673.9L611.7 672.6L612.3 672.5L612.7 669.6L613.2 666.4L613.6 675.8L614.0 684.8L614.6 687.6L615.2 690.4L615.8 693.6L616.4 694.4L617.0 695.5L617.5 696.2L618.1 696.0L618.6 693.0L619.1 692.1L619.7 691.8L620.2 692.0L620.8 693.0L621.4 693.9L621.9 695.3L622.5 697.8L623.1 700.1L623.7 702.3L624.2 701.2L624.7 700.6L625.3 700.3L625.8 699.5L626.3 699.7L626.8 700.4L627.4 699.7L627.9 700.3L628.4 701.1L628.9 700.6L629.5 701.2L630.0 701.5L630.5 703.5L631.0 704.3L631.6 704.1L632.1 703.9L632.6 704.5L633.1 705.6L633.7 704.7L634.2 705.0L634.7 704.9L635.2 705.1L635.8 707.5L636.3 707.7L636.8 707.6L637.3 707.9L637.9 708.7L638.4 709.2L638.9 709.2L639.5 710.2L640.0 711.9L640.5 712.0L641.0 711.8L641.6 712.0L642.1 713.7L642.7 714.8L643.2 715.8L643.8 717.2L644.3 717.3L644.8 716.5L645.2 715.5L645.9 720.7L646.4 718.2L646.9 715.3L647.3 712.9L647.9 712.4L648.5 713.1L649.1 713.7L649.6 712.9L650.1 713.8L650.7 712.7L651.2 712.6L651.7 712.0L652.2 712.7L652.8 710.8L653.3 711.0L653.8 709.8L654.3 710.2L654.9 710.3L655.4 708.1L655.9 709.3L656.4 708.8L657.0 707.6L657.5 707.6L658.0 705.3L658.5 705.0L659.1 705.2L659.6 704.1L660.1 702.4L660.7 702.3L661.2 701.4L661.7 701.5L662.2 699.7L662.8 699.5L663.3 699.6L663.8 698.0L664.3 698.0L664.9 699.4L665.5 699.5L666.0 701.5L666.6 701.5L667.1 700.4L667.7 701.7L668.2 700.2L668.7 700.6L669.3 701.1L669.9 701.5L670.4 701.2L671.0 702.3L671.5 702.9L672.0 701.6L672.6 701.4L673.1 700.7L673.6 701.5L674.1 701.4L674.7 702.1L675.2 703.0L675.7 702.6L676.2 703.2L676.8 703.1L677.3 701.3L677.8 701.4L678.3 701.0L678.9 700.6L679.4 701.0L679.9 700.2L680.4 699.3L681.0 697.5L681.5 698.0L682.1 697.4L682.7 697.8L683.2 697.1" fill="none" stroke="#FF6B6B" stroke-width="2.2" stroke-linejoin="miter"/>
<line x1="94.3" x2="94.3" y1="807.2" y2="739.0" stroke="#2AA086" stroke-width="1.3"/>
<path d="M94.3 739.0L94.8 739.4L95.4 740.2L95.9 740.6L96.4 740.7L96.9 740.0L97.5 739.7L98.0 740.5L98.5 740.3L99.0 740.7L99.6 741.6L100.1 741.5L100.6 741.5L101.2 741.6L101.7 741.6L102.2 742.1L102.7 741.2L103.3 742.0L103.8 741.6L104.3 742.5L104.8 743.5L105.4 741.9L105.9 743.7L106.4 742.3L106.9 743.4L107.5 744.6L108.1 744.8L108.7 746.0L109.2 745.4L109.7 746.0L110.3 743.9L110.8 743.7L111.3 744.2L111.8 745.1L112.4 744.2L112.9 743.4L113.4 745.3L113.9 744.2L114.5 745.0L115.0 743.1L115.5 743.5L116.0 742.8L116.6 743.4L117.1 742.6L117.6 742.9L118.1 741.6L118.7 742.4L119.2 741.6L119.7 741.0L120.2 741.6L120.8 743.3L121.3 742.8L121.8 743.4L122.4 743.8L123.0 744.7L123.6 745.1L124.1 744.2L124.6 743.1L125.2 741.5L125.7 742.1L126.2 740.7L126.8 742.9L127.4 744.1L128.0 744.2L128.5 744.4L129.0 743.6L129.5 743.4L130.1 743.9L130.6 743.4L131.1 743.0L131.6 741.1L132.2 740.7L132.7 740.3L133.2 739.9L133.7 739.9L134.3 740.5L134.8 739.9L135.3 738.9L135.8 739.9L136.4 740.7L136.9 740.1L137.4 740.4L137.9 740.0L138.5 740.7L139.0 740.2L139.5 739.8L140.0 740.3L140.6 738.5L141.1 739.0L141.6 738.7L142.1 737.6L142.7 738.3L143.2 736.6L143.7 737.2L144.3 737.3L144.9 738.1L145.5 739.0L146.1 738.1L146.6 735.7L147.2 735.5L147.8 735.7L148.3 735.6L148.8 736.1L149.3 736.8L149.8 737.2L150.4 737.8L150.9 736.5L151.4 737.1L152.0 735.1L152.5 735.5L153.0 735.5L153.5 733.4L154.1 732.2L154.6 732.5L155.1 731.1L155.7 730.8L156.3 727.7L156.9 727.6L157.3 724.8L157.8 722.5L158.3 719.7L158.8 719.6L159.3 719.6L159.8 719.3L160.4 720.6L160.9 719.6L161.4 720.8L161.9 721.6L162.5 721.6L163.0 720.6L163.6 719.7L164.2 717.8L164.7 718.0L165.3 717.2L165.8 717.9L166.3 717.6L166.8 716.8L167.4 716.2L167.9 716.5L168.5 718.0L169.1 718.8L169.6 719.7L170.2 720.5L170.7 720.3L171.2 722.2L171.7 722.6L172.3 722.3L172.8 722.2L173.3 722.9L173.8 724.7L174.4 724.0L174.9 725.0L175.4 725.5L175.9 724.3L176.5 724.3L177.0 724.0L177.5 723.2L178.0 722.8L178.6 723.1L179.1 723.2L179.6 724.3L180.2 724.1L180.7 724.8L181.2 724.0L181.7 726.0L182.2 725.3L182.8 725.8L183.3 725.1L183.8 725.4L184.3 726.3L184.9 725.3L185.4 725.0L185.9 725.6L186.5 726.5L187.0 727.0L187.5 726.9L188.0 726.7L188.6 726.5L189.1 726.9L189.6 727.6L190.1 727.3L190.7 726.7L191.2 726.7L191.7 726.0L192.2 725.9L192.8 726.5L193.3 725.8L193.8 726.0L194.3 724.8L194.9 726.3L195.4 726.7L195.9 725.8L196.4 726.5L197.0 726.7L197.5 726.7L198.0 725.9L198.5 725.8L199.1 726.6L199.6 725.9L200.1 725.5L200.6 726.2L201.2 726.7L201.7 725.3L202.2 725.5L202.7 724.0L203.3 722.6L203.8 721.5L204.3 721.9L204.8 721.0L205.4 722.1L205.9 722.6L206.4 722.3L206.9 722.3L207.5 722.2L208.0 722.7L208.5 722.7L209.1 723.2L209.6 723.9L210.1 723.2L210.6 723.4L211.2 724.2L211.7 725.0L212.2 725.0L212.7 724.8L213.3 724.2L213.8 724.5L214.3 723.2L214.8 722.8L215.4 721.9L215.9 722.7L216.4 722.4L216.9 722.3L217.5 721.8L218.0 723.0L218.5 722.5L219.0 722.5L219.6 723.2L220.1 723.0L220.6 724.5L221.1 722.7L221.7 723.6L222.2 724.1L222.8 724.8L223.4 725.8L223.9 727.6L224.5 727.8L225.0 727.7L225.5 729.5L226.0 729.0L226.6 729.3L227.1 730.3L227.6 729.7L228.1 730.8L228.7 731.7L229.2 732.0L229.7 732.9L230.2 731.8L230.8 732.4L231.3 733.4L231.8 732.9L232.3 733.2L232.9 731.6L233.4 731.9L233.9 732.0L234.4 731.1L235.0 731.6L235.5 732.9L236.0 733.5L236.6 734.9L237.1 734.6L237.6 735.8L238.1 737.1L238.7 737.4L239.2 739.3L239.7 739.9L240.2 739.7L240.8 740.2L241.3 740.1L241.8 740.1L242.3 740.7L242.9 739.6L243.4 739.5L243.9 739.8L244.4 738.8L245.0 739.0L245.5 738.4L246.0 740.3L246.5 739.6L247.1 741.3L247.6 740.7L248.1 740.9L248.6 740.5L249.2 741.5L249.7 741.6L250.2 740.7L250.7 740.5L251.3 740.3L251.8 741.6L252.3 742.2L252.8 741.6L253.4 742.4L253.9 743.3L254.4 743.0L254.9 744.0L255.5 744.2L256.0 744.1L256.5 744.7L257.0 745.0L257.6 745.4L258.1 746.0L258.6 745.8L259.2 746.6L259.7 745.3L260.2 745.4L260.7 746.0L261.3 745.3L261.8 746.6L262.3 745.5L262.8 744.3L263.4 745.1L263.9 746.0L264.4 746.2L264.9 746.3L265.5 745.5L266.0 746.0L266.5 745.9L267.1 744.4L267.6 743.5L268.1 743.7L268.7 743.0L269.3 741.5L269.9 739.3L270.4 738.2L270.9 739.1L271.5 736.8L272.0 736.8L272.5 736.7L273.0 736.0L273.6 736.7L274.1 737.1L274.6 738.6L275.1 738.5L275.7 736.9L276.3 735.5L276.9 735.0L277.5 733.1L278.1 732.2L278.6 731.5L279.3 729.5L279.9 727.1L280.6 702.5L280.9 658.8L281.3 655.5L281.7 653.8L282.2 651.8L282.7 650.2L283.2 651.0L283.7 651.2L284.3 651.4L284.8 652.0L285.3 651.7L285.8 651.6L286.4 651.6L286.9 650.6L287.4 650.2L288.0 649.0L288.6 647.2L289.2 645.8L289.7 644.4L290.3 642.1L290.9 640.6L291.5 639.8L292.1 639.4L292.7 638.8L293.2 639.9L293.8 639.7L294.4 641.7L294.9 641.5L295.5 640.8L296.0 640.9L296.5 639.9L297.0 638.8L297.6 639.4L298.1 638.3L298.6 637.4L299.1 637.1L299.7 636.4L300.3 636.4L300.9 636.3L301.4 635.3L302.0 636.9L302.6 636.3L303.2 638.0L303.8 635.6L304.3 634.2L304.9 633.6L305.5 631.5L306.1 630.3L306.7 630.1L307.2 628.9L307.7 629.2L308.3 628.7L308.8 629.8L309.3 629.2L309.9 630.9L310.5 633.1L311.1 633.6L311.6 634.0L312.1 633.0L312.6 632.9L313.2 630.5L313.7 631.0L314.2 629.9L314.7 630.8L315.3 629.3L315.8 628.2L316.3 628.3L316.8 628.7L317.4 627.8L317.9 627.9L318.4 627.2L318.9 627.5L319.5 626.2L320.0 625.2L320.5 625.6L321.0 625.6L321.6 623.9L322.1 624.3L322.6 623.1L323.1 622.8L323.7 620.9L324.2 620.4L324.8 619.7L325.4 620.7L325.9 619.6L326.5 620.1L327.0 620.6L327.5 619.6L328.1 620.4L328.6 621.3L329.1 621.8L329.6 622.8L330.2 623.6L330.7 624.0L331.2 623.9L331.8 622.1L332.4 620.8L333.0 619.6L333.5 620.5L334.0 620.9L334.5 620.1L335.1 619.6L335.6 620.4L336.1 620.2L336.6 619.5L337.2 618.6L337.7 617.8L338.2 617.8L338.7 617.4L339.3 617.7L339.8 616.5L340.3 617.2L340.8 616.9L341.4 617.7L341.9 617.1L342.4 615.9L342.9 616.1L343.5 616.1L344.1 613.5L344.7 612.5L345.2 614.5L345.6 615.7L346.1 616.9L346.6 616.6L347.1 617.7L347.7 618.2L348.2 618.5L348.7 618.7L349.2 618.6L349.8 618.6L350.3 618.9L350.8 620.4L351.4 619.6L351.9 619.8L352.5 620.7L353.1 621.3L353.6 621.4L354.2 621.0L354.7 621.6L355.2 621.4L355.7 622.2L356.3 622.2L356.8 622.6L357.3 622.9L357.8 624.5L358.4 623.9L358.9 623.7L359.4 623.9L359.9 624.8L360.5 624.4L361.0 624.8L361.5 624.5L362.0 624.4L362.6 622.9L363.1 623.8L363.6 623.1L364.1 622.2L364.7 622.5L365.2 623.7L365.7 624.1L366.2 623.1L366.8 623.3L367.3 622.0L367.8 622.4L368.3 621.9L368.9 622.2L369.4 622.4L369.9 620.6L370.4 620.0L371.0 620.4L371.5 619.6L372.0 618.4L372.5 617.5L373.1 616.1L373.8 613.1L374.1 661.3L374.5 664.9L375.2 670.2L375.8 673.7L376.4 677.2L377.0 679.5L377.6 682.1L378.1 684.2L378.7 685.8L379.3 688.6L379.9 689.4L380.5 690.9L381.1 692.8L381.6 694.7L382.2 695.5L382.8 697.5L383.4 698.2L384.0 699.9L384.6 700.0L385.1 701.7L385.7 702.4L386.2 703.6L386.7 703.8L387.2 704.8L387.8 705.2L388.3 705.2L388.8 705.3L389.3 704.4L389.9 704.1L390.4 704.3L391.0 701.9L391.6 702.2L392.1 699.9L392.7 697.7L393.3 695.2L393.9 692.9L394.5 693.0L395.0 692.0L395.6 689.6L396.2 689.4L396.7 689.9L397.2 688.8L397.8 688.4L398.3 688.5L398.8 688.6L399.3 689.4L399.9 689.2L400.4 689.7L400.9 691.2L401.5 693.0L402.1 695.2L402.7 697.3L403.2 697.7L403.8 698.7L404.4 701.3L404.9 701.7L405.5 702.1L406.0 703.0L406.5 703.9L407.0 704.3L407.6 705.7L408.1 704.6L408.6 705.3L409.1 707.2L409.7 706.9L410.2 708.1L410.7 708.5L411.2 708.0L411.8 708.1L412.3 708.7L412.8 708.2L413.4 709.9L413.9 709.8L414.4 709.5L414.9 709.6L415.5 710.5L416.0 709.8L416.5 710.7L417.0 711.8L417.6 711.3L418.1 710.7L418.6 712.0L419.1 711.3L419.7 712.2L420.1 714.1L420.6 715.9L421.1 717.5L421.6 718.1L422.1 718.0L422.6 717.5L423.2 718.8L423.7 719.2L424.2 719.4L424.7 720.0L425.3 719.9L425.8 722.2L426.3 721.8L426.8 721.5L427.4 721.2L427.9 721.5L428.4 721.3L428.9 720.1L429.5 719.7L430.0 719.1L430.5 719.2L431.0 717.7L431.6 717.5L432.1 717.9L432.6 715.7L433.1 717.0L433.7 716.1L434.2 715.7L434.7 715.6L435.2 716.0L435.8 714.1L436.3 714.1L436.8 713.9L437.4 715.7L438.0 716.8L438.6 717.5L439.1 716.3L439.6 715.6L440.2 714.1L440.7 713.3L441.2 711.3L441.7 711.8L442.3 711.4L442.8 711.4L443.3 711.1L443.8 712.2L444.4 710.3L444.9 709.0L445.4 709.9L445.9 707.8L446.5 708.8L447.1 711.5L447.6 712.3L448.2 714.8L448.7 716.3L449.3 715.9L449.8 715.7L450.3 717.6L450.8 717.5L451.4 718.6L451.9 719.2L452.4 717.9L452.9 718.6L453.5 719.2L454.0 720.4L454.5 720.5L455.0 722.0L455.6 723.1L456.1 723.6L456.6 723.4L457.1 722.9L457.7 722.0L458.2 720.3L458.7 720.1L459.2 721.3L459.8 721.3L460.3 721.5L460.8 721.9L461.4 723.6L461.9 723.3L462.4 722.2L462.9 721.1L463.5 721.5L464.0 721.0L464.5 720.4L465.0 719.9L465.6 720.0L466.1 719.6L466.6 719.2L467.1 718.6L467.7 718.8L468.2 717.9L468.7 716.0L469.2 715.7L469.8 717.2L470.3 716.7L470.8 718.7L471.3 717.6L471.9 719.2L472.4 720.0L472.9 722.6L473.4 723.2L474.0 724.5L474.5 725.3L475.0 723.7L475.5 722.4L476.1 723.1L476.6 720.2L477.1 719.4L477.6 719.0L478.2 718.7L478.7 719.3L479.2 718.8L479.7 719.3L480.3 718.1L480.8 718.2L481.3 717.1L481.8 717.7L482.4 716.4L482.8 715.4L483.3 714.2L483.8 714.6L484.3 717.3L484.9 718.9L485.5 719.9L486.0 721.3L486.6 722.0L487.1 722.5L487.6 724.2L488.1 724.5L488.5 725.1L489.0 726.9L489.5 722.6L489.9 718.7L490.4 714.6L490.9 714.1L491.5 712.9L492.0 710.7L492.5 709.3L493.0 709.0L493.6 707.9L494.1 707.8L494.6 707.0L495.1 705.8L495.7 705.4L496.3 703.6L496.9 701.5L497.5 699.5L498.1 697.4L498.6 695.3L499.2 692.0L499.8 688.9L500.4 685.7L501.0 685.0L501.6 683.8L502.1 683.9L502.7 684.2L503.3 685.5L503.9 685.9L504.4 687.5L505.0 688.1L505.5 688.0L506.0 689.8L506.5 689.2L507.1 689.2L507.6 688.5L508.1 688.0L508.6 687.6L509.2 687.5L509.7 686.5L510.2 687.7L510.7 687.3L511.3 686.4L511.8 685.7L512.3 686.4L512.8 685.8L513.4 687.1L513.9 687.5L514.5 685.7L515.0 684.9L515.6 684.3L516.2 683.1L516.7 682.2L517.3 682.1L517.9 682.9L518.5 682.2L519.1 681.7L519.7 682.1L520.3 680.2L520.9 680.4L521.5 678.9L522.0 680.0L522.6 678.7L523.2 677.8L523.7 677.3L524.2 676.2L524.8 674.4L525.3 675.3L525.8 673.4L526.3 673.1L526.9 673.6L527.4 671.6L527.9 671.6L528.4 671.7L529.0 671.4L529.5 670.4L530.0 671.4L530.5 669.8L531.1 669.9L531.6 668.7L532.1 668.5L532.6 668.4L533.2 669.5L533.7 668.2L534.2 668.8L534.7 668.2L535.3 667.5L535.8 666.5L536.3 667.3L536.8 668.9L537.4 668.3L537.9 669.3L538.4 670.8L539.0 668.1L539.6 665.7L540.2 662.9L540.7 661.6L541.3 660.7L541.9 661.8L542.5 660.3L543.0 658.9L543.5 660.1L544.0 658.5L544.5 658.5L545.1 658.5L545.6 657.7L546.1 658.1L546.6 658.9L547.2 658.5L547.7 657.7L548.2 657.4L548.8 656.1L549.3 655.9L549.8 655.8L550.3 655.9L550.9 656.4L551.4 656.4L551.9 654.4L552.4 654.9L553.0 655.0L553.5 655.7L554.0 653.6L554.5 653.1L555.1 653.1L555.6 653.3L556.1 653.9L556.6 652.4L557.2 653.2L557.7 651.8L558.2 652.4L558.7 652.9L559.3 652.1L559.8 653.1L560.3 653.6L560.8 653.3L561.4 653.7L561.9 652.4L562.4 653.2L562.9 651.7L563.5 651.5L564.0 651.9L564.5 651.3L565.0 650.9L565.5 648.5L566.1 648.3L566.6 648.7L567.1 648.5L567.6 647.2L568.2 647.3L568.7 649.1L569.2 649.2L569.7 648.9L570.3 650.7L570.8 650.1L571.3 650.3L571.8 651.1L572.4 653.0L572.9 652.4L573.4 653.1L573.9 653.9L574.5 654.3L575.0 653.6L575.5 654.2L576.0 654.4L576.6 654.1L577.1 654.0L577.6 652.6L578.1 653.3L578.7 654.1L579.2 652.6L579.7 653.2L580.2 653.7L580.8 653.3L581.4 655.3L581.9 656.9L582.5 657.7L583.0 658.1L583.6 659.0L584.1 660.8L584.6 660.2L585.1 662.0L585.7 662.7L586.2 661.3L586.7 661.3L587.2 661.0L587.8 661.2L588.3 662.0L588.8 661.2L589.3 661.5L589.9 661.7L590.4 662.9L591.0 663.9L591.6 666.7L592.1 668.2L592.7 669.8L593.3 668.3L593.9 669.9L594.4 669.9L595.0 669.6L595.5 669.5L596.0 669.6L596.5 669.9L597.1 668.9L597.6 669.4L598.1 668.9L598.6 668.3L599.2 669.0L599.7 668.1L600.2 669.6L600.7 669.0L601.3 669.4L601.8 668.2L602.3 668.8L602.8 668.7L603.4 667.6L603.9 667.4L604.4 668.2L604.9 668.8L605.5 667.9L606.0 667.6L606.5 666.0L607.0 666.4L607.6 667.0L608.1 666.5L608.6 665.6L609.1 665.8L609.7 666.4L610.3 669.2L610.9 669.9L611.4 671.4L611.8 671.4L612.3 673.4L612.8 672.9L613.4 674.7L613.9 674.2L614.4 674.8L614.9 675.2L615.5 674.8L616.0 675.2L616.5 676.2L617.0 676.4L617.5 676.9L618.1 676.1L618.6 675.8L619.1 676.3L619.7 675.4L620.2 676.1L620.8 675.7L621.3 677.2L621.9 677.8L622.5 677.0L623.0 678.7L623.5 678.9L624.0 678.9L624.6 678.7L625.1 680.2L625.6 679.0L626.1 680.1L626.7 680.6L627.2 681.3L627.8 680.1L628.4 681.5L628.9 680.4L629.6 677.6L630.2 675.2L630.6 675.3L631.1 673.8L631.6 672.5L632.0 679.8L632.5 686.6L633.0 688.7L633.6 691.4L634.2 693.6L634.7 695.3L635.2 695.6L635.8 695.8L636.3 696.7L636.8 697.1L637.3 697.2L637.9 698.2L638.4 697.8L638.9 697.9L639.5 698.0L640.0 698.6L640.5 700.0L641.0 700.8L641.6 702.4L642.1 702.3L642.6 703.6L643.1 703.4L643.7 704.9L644.2 704.6L644.7 705.8L645.3 706.1L645.9 706.5L646.5 706.7L647.0 708.3L647.6 708.0L648.2 709.3L648.7 711.1L649.3 710.0L649.8 710.5L650.3 709.1L650.8 709.3L651.4 709.6L651.9 710.5L652.4 709.7L652.9 709.5L653.5 710.2L654.0 711.0L654.5 711.1L655.0 711.7L655.6 711.6L656.1 712.9L656.6 713.1L657.1 712.2L657.7 713.3L658.2 712.1L658.7 712.0L659.2 712.4L659.8 712.9L660.3 713.0L660.8 711.0L661.4 712.0L661.9 712.3L662.4 710.1L662.9 711.3L663.5 710.5L664.0 709.3L664.5 708.8L665.0 709.8L665.6 709.5L666.1 709.2L666.6 709.3L667.1 710.8L667.7 711.7L668.2 713.3L668.7 714.7L669.2 715.5L669.8 714.6L670.3 716.1L670.8 716.4L671.3 716.9L671.9 716.4L672.4 716.6L672.9 716.8L673.4 716.1L674.0 716.4L674.5 717.2L675.1 717.5L675.7 715.1L676.2 715.5L676.8 715.1L677.4 712.3L678.0 712.0L678.5 711.0L679.0 710.8L679.6 708.9L680.1 709.1L680.6 708.5L681.1 708.6L681.7 707.2L682.2 706.2L682.7 705.4L683.2 705.8" fill="none" stroke="#2AA086" stroke-width="2.2" stroke-linejoin="miter"/>
<rect x="56.0" y="460.5" width="627.4" height="346.70" fill="none" stroke="#2b2b2b" stroke-width="1.3"/>
<line x1="47.6" x2="56.0" y1="807.2" y2="807.2" stroke="#2b2b2b" stroke-width="1.3"/>
<text x="48.4" y="814.8" text-anchor="end" class="ax">0</text>
<line x1="47.6" x2="56.0" y1="738.3" y2="738.3" stroke="#2b2b2b" stroke-width="1.3"/>
<text x="48.4" y="745.0" text-anchor="end" class="ax">10</text>
<line x1="47.6" x2="56.0" y1="668.6" y2="668.6" stroke="#2b2b2b" stroke-width="1.3"/>
<text x="48.4" y="676.0" text-anchor="end" class="ax">20</text>
<line x1="47.6" x2="56.0" y1="599.5" y2="599.5" stroke="#2b2b2b" stroke-width="1.3"/>
<text x="48.4" y="606.0" text-anchor="end" class="ax">30</text>
<line x1="47.6" x2="56.0" y1="529.6" y2="529.6" stroke="#2b2b2b" stroke-width="1.3"/>
<text x="48.4" y="536.9" text-anchor="end" class="ax">40</text>
<line x1="47.6" x2="56.0" y1="460.5" y2="460.5" stroke="#2b2b2b" stroke-width="1.3"/>
<text x="48.4" y="467.2" text-anchor="end" class="ax">50</text>
<line x1="68.0" x2="68.0" y1="807.2" y2="818.1" stroke="#2b2b2b" stroke-width="1.3"/>
<text x="67.1" y="830.6" text-anchor="middle" class="ax">2018</text>
<line x1="165.2" x2="165.2" y1="807.2" y2="818.1" stroke="#2b2b2b" stroke-width="1.3"/>
<text x="164.3" y="830.6" text-anchor="middle" class="ax">2019</text>
<line x1="262.5" x2="262.5" y1="807.2" y2="818.1" stroke="#2b2b2b" stroke-width="1.3"/>
<text x="261.6" y="830.6" text-anchor="middle" class="ax">2020</text>
<line x1="359.7" x2="359.7" y1="807.2" y2="818.1" stroke="#2b2b2b" stroke-width="1.3"/>
<text x="358.8" y="830.6" text-anchor="middle" class="ax">2021</text>
<line x1="456.9" x2="456.9" y1="807.2" y2="818.1" stroke="#2b2b2b" stroke-width="1.3"/>
<text x="456.0" y="830.6" text-anchor="middle" class="ax">2022</text>
<line x1="554.2" x2="554.2" y1="807.2" y2="818.1" stroke="#2b2b2b" stroke-width="1.3"/>
<text x="553.3" y="830.6" text-anchor="middle" class="ax">2023</text>
<line x1="651.4" x2="651.4" y1="807.2" y2="818.1" stroke="#2b2b2b" stroke-width="1.3"/>
<text x="650.5" y="830.6" text-anchor="middle" class="ax">2024</text>
<text transform="translate(14.3 634.3) rotate(-90)" text-anchor="middle" class="yl">TCI</text>
<rect x="67" y="472.05" width="9.5" height="7.70" fill="#45B7D1" stroke="#111" stroke-width="1.1"/>
<text x="87.8" y="482.6" class="lg">window=150</text>
<rect x="67" y="487.25" width="9.5" height="6.70" fill="#FF6B6B" stroke="#111" stroke-width="1.1"/>
<text x="87.8" y="497.6" class="lg">window=200</text>
<rect x="67" y="502.15" width="9.5" height="6.80" fill="#2AA086" stroke="#111" stroke-width="1.1"/>
<text x="87.8" y="512.6" class="lg">window=250</text>
<text x="407" y="483.7" text-anchor="middle" class="an" fill="#E23B3B">COVID-19</text>
<text x="561" y="518.7" text-anchor="middle" class="an" fill="#1C8A78">Russia-Ukraine War</text>
<text x="279.2" y="876.0" class="cap">(b)</text>
<text x="327.8" y="876.0" class="cap">Short term</text>
</g>
<g>
<rect x="262.5" y="916.1" width="290.9" height="347.00" fill="#FF6B6B" fill-opacity="0.2"/>
<rect x="471.3" y="916.1" width="179.6" height="347.00" fill="#4ECDC4" fill-opacity="0.2"/>
<line x1="56.0" x2="683.4" y1="1194.2" y2="1194.2" stroke="#fff" stroke-width="1.1" stroke-dasharray="5.5 2.6" stroke-opacity="0.85"/>
<line x1="56.0" x2="683.4" y1="1124.4" y2="1124.4" stroke="#fff" stroke-width="1.1" stroke-dasharray="5.5 2.6" stroke-opacity="0.85"/>
<line x1="56.0" x2="683.4" y1="1055.2" y2="1055.2" stroke="#fff" stroke-width="1.1" stroke-dasharray="5.5 2.6" stroke-opacity="0.85"/>
<line x1="56.0" x2="683.4" y1="985.2" y2="985.2" stroke="#fff" stroke-width="1.1" stroke-dasharray="5.5 2.6" stroke-opacity="0.85"/>
<path d="M56.7 1242.7L57.2 1242.9L57.7 1242.4L58.2 1242.3L58.8 1241.8L59.3 1242.8L59.9 1242.8L60.5 1243.6L61.0 1243.6L61.6 1243.8L62.1 1243.7L62.6 1243.4L63.1 1243.2L63.7 1242.8L64.2 1242.9L64.7 1243.4L65.2 1242.4L65.8 1242.7L66.3 1242.3L66.8 1242.8L67.3 1242.1L67.9 1241.7L68.4 1241.8L69.0 1242.5L69.6 1244.0L70.2 1244.5L70.7 1244.3L71.2 1244.4L71.7 1244.6L72.2 1244.8L72.8 1244.5L73.3 1244.2L73.9 1243.6L74.5 1243.9L75.0 1243.6L75.7 1240.7L76.3 1238.3L76.9 1237.0L77.4 1236.3L78.0 1235.7L78.6 1235.7L79.1 1235.1L79.6 1235.4L80.1 1234.7L80.7 1234.8L81.2 1234.1L81.7 1233.6L82.2 1234.0L82.8 1233.8L83.3 1233.1L83.8 1233.0L84.3 1233.2L84.9 1233.1L85.4 1233.9L85.9 1233.9L86.4 1233.4L87.0 1232.9L87.5 1233.0L88.0 1232.6L88.5 1232.2L89.1 1231.9L89.6 1231.4L90.1 1231.7L90.6 1231.3L91.2 1232.5L91.8 1233.4L92.3 1234.3L92.9 1235.7L93.4 1236.3L94.0 1236.4L94.5 1236.4L95.0 1236.9L95.5 1236.6L96.1 1236.8L96.6 1236.8L97.1 1236.7L97.7 1237.4L98.2 1237.5L98.7 1237.8L99.2 1238.1L99.8 1239.0L100.3 1239.2L100.8 1239.2L101.3 1238.5L101.9 1238.9L102.4 1237.7L102.9 1238.0L103.4 1237.5L104.0 1237.6L104.5 1238.4L105.0 1239.0L105.5 1238.9L106.1 1239.2L106.6 1239.5L107.1 1238.8L107.6 1239.4L108.2 1238.8L108.7 1239.2L109.2 1238.8L109.7 1238.3L110.3 1237.7L110.8 1238.0L111.3 1237.5L111.8 1236.7L112.4 1236.5L112.9 1236.0L113.4 1236.2L113.9 1235.7L114.5 1235.7L115.0 1235.6L115.5 1235.7L116.0 1236.1L116.6 1236.6L117.1 1237.1L117.6 1237.1L118.1 1237.7L118.7 1238.8L119.2 1239.2L119.8 1238.8L120.4 1238.3L121.0 1220.8L121.5 1222.7L122.1 1224.8L122.7 1226.9L123.3 1226.0L123.9 1225.5L124.5 1225.2L125.0 1223.6L125.6 1222.0L126.2 1220.8L126.8 1219.3L127.4 1218.2L128.0 1217.3L128.5 1215.6L129.1 1214.4L129.7 1212.9L130.3 1212.9L130.9 1212.0L131.4 1214.5L131.9 1216.7L132.3 1219.0L132.9 1220.0L133.5 1221.7L134.1 1223.4L134.7 1224.7L135.3 1225.7L135.8 1226.9L136.4 1227.0L137.0 1226.8L137.6 1226.1L138.2 1224.4L138.8 1223.0L139.3 1221.7L139.9 1222.4L140.5 1223.6L141.1 1224.3L141.6 1224.3L142.1 1224.8L142.7 1225.7L143.2 1225.6L143.7 1226.1L144.2 1226.7L144.8 1226.3L145.3 1226.9L145.8 1226.7L146.3 1226.9L146.9 1226.2L147.4 1226.3L147.9 1225.6L148.5 1225.9L149.0 1225.2L149.6 1223.9L150.1 1222.3L150.7 1220.8L151.3 1221.0L151.8 1220.5L152.3 1220.7L152.8 1220.3L153.4 1219.9L153.9 1220.5L154.5 1221.5L155.1 1222.5L155.7 1222.6L156.3 1221.6L156.9 1221.7L157.4 1220.4L158.0 1217.7L158.6 1216.4L159.2 1215.5L159.8 1214.2L160.4 1212.9L160.9 1213.0L161.4 1213.4L161.9 1213.5L162.5 1213.5L163.0 1213.8L163.6 1213.0L164.2 1212.2L164.7 1212.0L165.3 1212.0L165.8 1212.1L166.3 1211.4L166.8 1211.7L167.4 1211.2L167.9 1210.6L168.5 1210.0L169.1 1210.2L169.6 1209.4L170.2 1211.3L170.8 1211.9L171.4 1213.8L171.9 1214.0L172.4 1213.3L173.0 1213.5L173.5 1212.9L174.0 1212.9L174.5 1212.5L175.1 1211.0L175.6 1210.0L176.1 1209.0L176.6 1208.5L177.2 1207.9L177.8 1207.5L178.4 1207.7L179.0 1206.5L179.6 1204.3L180.2 1203.3L180.7 1202.6L181.3 1202.4L181.9 1202.4L182.5 1205.7L183.1 1209.4L183.7 1210.1L184.3 1209.8L184.8 1210.9L185.4 1211.2L185.9 1211.5L186.5 1211.9L187.0 1212.5L187.5 1213.3L188.0 1213.8L188.6 1214.2L189.1 1215.1L189.6 1215.8L190.1 1216.6L190.7 1217.3L191.2 1218.0L191.7 1218.1L192.2 1219.0L192.8 1219.6L193.3 1219.9L193.8 1219.9L194.3 1220.5L194.9 1220.0L195.4 1220.6L195.9 1220.8L196.4 1221.4L197.0 1221.8L197.5 1223.1L198.0 1224.0L198.5 1224.3L199.1 1224.8L199.6 1225.2L200.1 1226.3L200.6 1226.9L201.2 1226.9L201.7 1227.4L202.2 1227.7L202.7 1228.1L203.3 1228.5L203.8 1228.7L204.3 1229.2L204.8 1229.4L205.4 1230.0L205.9 1230.3L206.4 1230.4L206.9 1231.1L207.5 1231.5L208.0 1231.9L208.5 1232.3L209.1 1233.1L209.6 1232.9L210.1 1232.5L210.6 1232.5L211.2 1232.0L211.7 1232.2L212.2 1232.8L212.7 1232.2L213.3 1233.1L213.8 1233.0L214.3 1233.1L214.8 1234.0L215.4 1234.5L215.9 1234.3L216.4 1234.9L216.9 1235.7L217.5 1237.6L218.1 1238.8L218.7 1240.1L219.3 1238.5L219.9 1237.5L220.4 1236.6L221.0 1237.4L221.5 1238.8L222.0 1239.8L222.5 1241.0L223.1 1242.7L223.6 1241.9L224.1 1242.0L224.6 1241.9L225.2 1241.3L225.7 1241.0L226.2 1241.6L226.7 1242.2L227.3 1242.2L227.8 1243.3L228.3 1243.6L228.8 1243.9L229.4 1244.2L229.9 1245.1L230.4 1244.9L230.9 1245.3L231.5 1245.3L232.0 1245.3L232.5 1244.8L233.1 1244.3L233.6 1244.5L234.1 1244.3L234.6 1244.6L235.2 1244.7L235.7 1245.1L236.2 1245.3L236.7 1245.1L237.3 1245.9L237.8 1246.1L238.3 1246.2L238.8 1246.2L239.4 1245.8L239.9 1245.9L240.4 1246.6L240.9 1246.6L241.5 1246.2L242.0 1246.6L242.5 1246.9L243.0 1246.4L243.6 1246.7L244.1 1247.1L244.6 1247.0L245.1 1247.1L245.7 1246.9L246.2 1246.8L246.7 1247.1L247.2 1247.4L247.8 1246.8L248.3 1247.2L248.8 1247.4L249.3 1247.1L249.9 1246.7L250.4 1246.9L250.9 1247.0L251.4 1246.9L252.0 1247.1L252.5 1247.7L253.0 1247.8L253.5 1247.2L254.1 1247.4L254.6 1248.0L255.1 1248.1L255.7 1248.0L256.2 1247.5L256.7 1248.3L257.2 1248.0L257.8 1248.2L258.3 1247.7L258.8 1247.0L259.3 1246.9L259.9 1247.1L260.4 1247.2L260.9 1246.9L261.4 1246.5L262.0 1246.8L262.5 1246.2L263.0 1245.7L263.5 1246.4L264.1 1246.5L264.6 1246.5L265.1 1246.2L265.6 1245.6L266.2 1246.1L266.7 1245.7L267.2 1245.6L267.7 1245.3L268.1 1244.5L268.7 1243.6L269.2 1243.9L269.7 1243.3L270.2 1242.0L270.8 1241.8L271.4 1241.0L271.9 1240.1L272.5 1239.2L273.1 1239.7L273.7 1240.2L274.3 1241.0L274.9 1239.8L275.4 1239.4L276.0 1238.3L276.5 1236.9L277.0 1235.4L277.4 1233.9L278.0 1236.1L278.6 1238.3L279.1 1233.8L279.5 1229.6L280.2 1198.0L280.7 1198.7L281.2 1198.9L281.6 1198.9L282.3 1220.8L282.9 1219.4L283.4 1218.3L283.9 1217.3L284.3 1214.3L284.8 1211.2L285.2 1213.0L285.7 1214.9L286.2 1216.4L286.8 1214.4L287.4 1212.0L288.0 1209.9L288.6 1208.9L289.2 1206.8L289.7 1205.1L290.3 1204.5L290.9 1203.3L291.4 1203.2L292.0 1202.3L292.5 1202.0L293.0 1201.5L293.5 1201.5L294.1 1201.6L294.6 1202.2L295.1 1201.6L295.6 1202.5L296.2 1202.4L296.7 1202.8L297.2 1203.9L297.7 1204.0L298.3 1204.5L298.8 1205.0L299.4 1205.4L300.0 1206.6L300.6 1206.8L301.1 1205.3L301.7 1204.1L302.3 1202.4L302.8 1201.5L303.4 1200.6L303.9 1199.1L304.4 1197.8L304.9 1197.2L305.5 1198.3L306.1 1200.2L306.7 1201.5L307.3 1202.0L307.8 1202.8L308.4 1204.2L309.0 1203.8L309.5 1204.0L310.0 1203.3L310.5 1203.2L311.1 1203.3L311.6 1203.3L312.1 1204.5L312.6 1204.7L313.2 1205.2L313.7 1205.0L314.2 1205.3L314.7 1205.3L315.3 1205.3L315.8 1205.6L316.3 1205.9L316.9 1205.3L317.5 1204.2L318.1 1203.3L318.6 1202.7L319.1 1203.3L319.6 1203.1L320.2 1202.1L320.7 1202.4L321.2 1201.8L321.7 1202.1L322.3 1201.9L322.8 1202.0L323.3 1201.5L323.8 1201.0L324.3 1201.4L324.7 1200.7L325.3 1204.1L325.9 1207.7L326.5 1208.2L327.1 1209.9L327.7 1210.3L328.3 1210.3L328.9 1210.0L329.4 1209.4L330.0 1207.3L330.6 1206.4L331.2 1204.2L331.8 1205.1L332.4 1206.5L333.0 1207.7L333.5 1208.6L334.1 1208.5L334.7 1209.4L335.3 1210.4L335.9 1212.5L336.5 1213.8L336.9 1217.3L337.3 1220.8L337.9 1222.4L338.5 1223.6L339.1 1224.3L339.7 1227.3L340.3 1230.4L340.8 1228.2L341.2 1225.5L341.7 1223.4L342.3 1224.8L342.9 1225.7L343.5 1226.9L344.1 1225.3L344.6 1223.8L345.2 1222.5L345.8 1223.7L346.4 1224.8L347.0 1226.1L347.6 1226.7L348.1 1227.3L348.7 1228.7L349.3 1227.1L349.9 1225.9L350.5 1225.2L351.1 1225.2L351.6 1224.5L352.2 1224.3L352.8 1224.3L353.4 1224.7L354.0 1224.3L354.6 1225.1L355.1 1227.0L355.7 1227.8L356.3 1228.8L356.9 1228.9L357.5 1229.6L358.1 1229.2L358.6 1227.9L359.2 1227.8L359.8 1226.8L360.4 1225.6L361.0 1225.2L361.6 1226.9L362.2 1228.6L362.7 1229.6L363.3 1230.9L363.9 1231.3L364.5 1232.2L365.0 1232.7L365.5 1232.7L366.1 1232.2L366.6 1232.7L367.1 1233.1L367.6 1233.1L368.2 1232.8L368.7 1233.3L369.2 1233.4L369.7 1233.3L370.3 1233.9L370.8 1233.6L371.3 1233.9L371.8 1234.5L372.4 1235.0L372.9 1234.8L373.5 1233.2L374.1 1231.7L374.6 1229.6L375.2 1229.6L375.8 1229.9L376.4 1230.4L376.9 1230.0L377.4 1229.3L378.0 1229.4L378.5 1228.7L379.0 1228.7L379.5 1228.1L380.1 1228.7L380.6 1227.9L381.1 1227.9L381.6 1227.8L382.2 1228.6L382.8 1229.1L383.4 1230.4L383.9 1229.8L384.4 1230.5L385.0 1230.3L385.5 1230.0L386.0 1229.6L386.5 1229.9L387.1 1229.9L387.6 1230.3L388.1 1231.0L388.6 1231.3L389.2 1231.4L389.7 1232.1L390.2 1232.9L390.8 1233.2L391.3 1233.1L391.8 1232.5L392.3 1232.1L392.9 1231.6L393.4 1232.1L393.9 1231.3L394.4 1232.0L395.0 1232.0L395.5 1232.1L396.0 1232.1L396.5 1232.2L397.1 1232.4L397.6 1231.7L398.1 1231.7L398.6 1231.9L399.2 1231.3L399.7 1232.9L400.3 1234.1L400.9 1235.7L401.4 1235.0L402.0 1234.8L402.5 1235.0L403.0 1234.4L403.5 1233.9L404.1 1233.6L404.6 1233.2L405.1 1232.6L405.6 1231.9L406.2 1231.3L406.7 1230.5L407.2 1230.9L407.7 1230.0L408.3 1229.6L408.8 1229.6L409.3 1229.1L409.8 1229.6L410.4 1229.7L410.9 1229.2L411.4 1229.6L411.9 1229.0L412.5 1229.2L413.0 1229.1L413.5 1228.6L414.1 1228.7L414.6 1229.3L415.1 1229.0L415.6 1229.0L416.2 1229.7L416.7 1229.6L417.2 1230.0L417.7 1229.7L418.3 1229.9L418.8 1230.2L419.3 1230.4L419.8 1230.2L420.4 1231.2L420.9 1230.7L421.4 1230.9L421.9 1231.3L422.5 1231.7L423.0 1231.6L423.5 1232.0L424.0 1231.7L424.6 1232.2L425.1 1231.8L425.6 1231.6L426.1 1231.1L426.7 1229.6L427.2 1229.6L427.8 1228.0L428.4 1226.9L428.9 1226.1L429.5 1226.1L430.1 1226.1L430.7 1226.1L431.1 1222.1L431.6 1218.2L432.0 1219.4L432.5 1220.7L433.0 1222.5L433.5 1223.4L434.0 1224.0L434.5 1225.3L435.1 1226.1L435.6 1227.0L436.1 1226.6L436.7 1227.8L437.2 1227.8L437.7 1228.2L438.3 1227.7L438.9 1227.3L439.4 1227.8L440.0 1228.2L440.5 1228.6L441.0 1229.6L441.6 1230.4L442.1 1230.4L442.6 1230.4L443.1 1229.1L443.7 1228.6L444.2 1228.3L444.7 1227.8L445.2 1227.7L445.8 1228.3L446.3 1228.5L446.8 1228.0L447.3 1228.7L447.9 1229.3L448.4 1230.4L448.9 1231.2L449.4 1232.4L450.0 1233.1L450.6 1235.5L451.2 1238.3L451.8 1237.5L452.3 1237.3L452.9 1236.7L453.5 1236.6L454.0 1236.4L454.5 1237.4L455.0 1237.3L455.6 1236.8L456.1 1237.5L456.7 1236.2L457.3 1234.1L457.9 1233.1L458.4 1232.1L459.0 1229.9L459.6 1228.7L460.2 1227.4L460.8 1225.9L461.4 1225.2L461.9 1224.0L462.5 1223.1L463.1 1222.5L463.6 1222.8L464.2 1223.0L464.7 1222.2L465.2 1222.3L465.7 1222.5L466.3 1222.5L466.8 1221.9L467.3 1221.8L467.8 1221.0L468.4 1220.8L468.9 1219.5L469.5 1219.0L470.1 1218.2L470.6 1218.6L471.2 1218.9L471.7 1219.9L472.2 1220.5L472.7 1220.8L473.3 1220.7L473.8 1220.6L474.3 1220.5L474.8 1220.5L475.4 1219.9L475.9 1220.4L476.5 1220.2L477.1 1221.0L477.6 1220.8L478.2 1221.5L478.7 1221.9L479.2 1222.3L479.7 1221.7L480.3 1222.5L480.8 1222.6L481.3 1222.2L481.8 1221.3L482.4 1220.8L482.9 1220.8L483.4 1221.6L483.9 1222.2L484.5 1222.3L485.0 1222.5L485.5 1223.4L486.0 1222.9L486.6 1222.9L487.1 1223.1L487.6 1223.0L488.1 1222.5L488.7 1220.4L489.3 1218.6L489.9 1217.3L490.3 1216.1L490.8 1214.7L491.2 1217.7L491.6 1220.8L492.2 1221.3L492.7 1222.3L493.2 1221.9L493.7 1223.1L494.3 1223.4L494.8 1223.8L495.3 1224.5L495.8 1224.7L496.4 1225.9L496.9 1226.1L497.5 1226.3L498.1 1226.6L498.6 1226.9L499.1 1220.4L499.5 1213.8L500.1 1213.1L500.7 1212.3L501.3 1212.0L501.8 1211.9L502.3 1211.3L502.9 1211.5L503.4 1211.5L503.9 1211.2L504.4 1211.7L505.0 1211.5L505.5 1211.7L506.0 1211.9L506.5 1212.0L507.1 1211.4L507.6 1210.4L508.1 1209.8L508.6 1208.8L509.2 1208.5L509.7 1207.0L510.3 1206.5L510.9 1205.0L511.5 1202.9L512.1 1201.1L512.7 1199.8L513.3 1202.2L513.9 1204.2L514.5 1204.7L515.0 1205.5L515.6 1206.4L516.2 1207.7L516.7 1207.3L517.2 1207.0L517.7 1206.4L518.3 1206.5L518.8 1205.9L519.3 1205.8L519.8 1205.2L520.4 1204.5L520.9 1204.1L521.4 1204.2L521.9 1204.7L522.5 1204.2L523.0 1205.1L523.5 1204.7L524.0 1205.0L524.6 1205.0L525.1 1203.8L525.6 1203.7L526.2 1202.5L526.7 1202.4L527.3 1201.4L527.8 1200.9L528.4 1199.8L529.0 1196.0L529.7 1191.9L530.2 1192.3L530.8 1192.3L531.4 1192.4L531.9 1191.9L532.5 1192.1L533.0 1191.8L533.5 1191.6L534.0 1192.0L534.6 1191.9L535.1 1191.3L535.7 1190.2L536.3 1189.3L536.9 1189.8L537.5 1191.1L538.1 1191.9L538.6 1191.7L539.1 1191.1L539.6 1190.5L540.2 1190.7L540.7 1190.2L541.2 1190.0L541.7 1190.0L542.3 1190.9L542.8 1190.9L543.3 1191.0L543.8 1191.3L544.4 1190.5L544.9 1190.3L545.4 1190.7L546.0 1190.2L546.5 1189.9L547.0 1189.8L547.5 1189.4L548.1 1188.9L548.6 1188.4L549.1 1188.0L549.6 1188.0L550.2 1188.3L550.7 1187.2L551.2 1187.5L551.8 1187.7L552.3 1187.9L552.9 1187.7L553.5 1187.5L554.1 1190.1L554.7 1192.8L555.3 1192.6L555.9 1192.2L556.5 1191.9L557.0 1192.6L557.6 1194.1L558.2 1194.5L558.7 1194.8L559.3 1193.9L559.8 1193.6L560.3 1194.1L560.8 1193.7L561.4 1193.4L561.9 1193.4L562.4 1192.8L562.9 1193.4L563.5 1192.8L564.0 1193.2L564.6 1192.9L565.1 1193.2L565.7 1192.4L566.2 1192.9L566.8 1192.8L567.3 1193.0L567.9 1194.3L568.5 1194.5L569.0 1195.1L569.6 1195.8L570.1 1196.0L570.6 1196.3L571.1 1197.2L571.7 1198.9L572.3 1201.2L572.8 1203.3L573.4 1205.0L573.9 1206.1L574.5 1206.6L575.0 1207.3L575.5 1207.7L576.0 1208.2L576.6 1207.9L577.1 1208.3L577.6 1208.0L578.1 1208.5L578.7 1208.9L579.2 1209.9L579.7 1209.9L580.2 1210.4L580.8 1211.2L581.4 1212.2L581.9 1213.0L582.5 1214.7L583.1 1215.3L583.7 1216.1L584.3 1217.3L584.9 1218.4L585.4 1219.4L586.0 1220.8L586.6 1222.9L587.2 1224.4L587.8 1226.1L588.4 1227.5L588.9 1228.2L589.5 1229.6L590.1 1230.5L590.7 1231.8L591.3 1232.2L591.8 1232.4L592.3 1231.8L592.9 1231.8L593.4 1231.6L593.9 1231.3L594.5 1231.8L595.1 1233.4L595.7 1233.9L596.2 1234.3L596.8 1235.1L597.4 1235.7L597.9 1235.8L598.5 1237.0L599.0 1237.4L599.5 1238.3L600.0 1238.3L600.6 1238.4L601.1 1238.7L601.6 1239.0L602.1 1239.3L602.7 1240.1L603.2 1240.6L603.7 1240.2L604.2 1240.3L604.8 1240.8L605.3 1241.0L605.8 1240.1L606.3 1240.0L606.9 1238.4L607.4 1238.5L607.9 1237.5L608.5 1237.0L609.1 1236.6L609.6 1235.2L610.2 1234.8L610.8 1236.2L611.4 1236.7L612.0 1238.3L612.5 1236.4L613.1 1234.1L613.7 1232.2L614.2 1231.5L614.8 1231.8L615.3 1231.9L615.8 1231.3L616.3 1231.7L616.9 1232.0L617.4 1232.0L617.9 1232.2L618.4 1232.2L619.0 1232.2L619.5 1231.0L620.0 1230.9L620.5 1230.4L621.1 1230.4L621.6 1230.2L622.1 1231.2L622.6 1230.5L623.2 1231.6L623.7 1231.3L624.3 1230.2L624.9 1229.6L625.4 1228.7L626.0 1227.2L626.7 1226.1L627.2 1219.5L627.7 1212.9L628.3 1212.4L628.9 1212.0L629.5 1211.5L630.1 1211.0L630.7 1211.2L631.3 1214.0L631.9 1216.2L632.5 1219.0L633.0 1219.8L633.6 1220.6L634.2 1220.8L634.8 1215.3L635.4 1210.3L635.9 1210.4L636.4 1211.3L636.8 1212.0L637.4 1214.0L638.0 1215.2L638.6 1217.3L639.2 1214.8L639.7 1212.7L640.3 1210.3L640.9 1209.8L641.5 1208.3L642.1 1207.7L642.7 1208.1L643.2 1207.2L643.8 1207.7L644.4 1206.6L644.9 1205.4L645.4 1204.7L645.9 1203.3L646.4 1204.9L646.9 1205.7L647.3 1206.8L647.9 1206.5L648.5 1205.7L649.1 1205.0L649.7 1206.4L650.3 1208.9L650.8 1210.3L651.4 1210.5L652.0 1211.2L652.6 1212.0L653.2 1212.2L653.8 1211.9L654.3 1211.2L654.9 1210.5L655.5 1209.4L656.1 1208.5L656.6 1207.8L657.0 1207.2L657.5 1206.8L658.0 1207.5L658.5 1208.5L659.1 1209.7L659.6 1211.2L660.2 1212.4L660.8 1213.6L661.4 1214.7L661.9 1215.5L662.4 1215.7L662.9 1215.6L663.5 1215.7L664.0 1216.4L664.5 1216.9L665.0 1217.4L665.6 1217.2L666.1 1217.5L666.6 1218.2L667.1 1219.0L667.7 1219.1L668.2 1219.1L668.7 1219.8L669.2 1219.9L669.8 1219.8L670.3 1220.4L670.8 1221.4L671.3 1221.3L671.9 1221.7L672.4 1222.1L672.9 1222.3L673.4 1222.4L674.0 1222.3L674.5 1222.5L675.0 1222.2L675.5 1222.2L676.1 1222.3L676.6 1221.9L677.1 1221.7L677.6 1221.0L678.2 1221.3L678.7 1221.1L679.2 1221.1L679.7 1220.8L680.3 1221.1L680.8 1221.5L681.3 1222.2L681.8 1222.4L682.4 1222.5L682.8 1222.8L683.2 1223.4L683.2 1263.1L56.7 1263.1Z" fill="#45B7D1" fill-opacity="0.3" stroke="none"/>
<path d="M75.0 1263.1L75.2 1248.5L75.8 1245.9L76.3 1243.6L76.9 1242.5L77.5 1241.0L78.0 1240.5L78.4 1239.8L78.9 1239.2L79.4 1238.6L80.0 1238.8L80.5 1238.5L81.0 1237.8L81.5 1237.5L82.1 1237.3L82.6 1236.8L83.1 1236.4L83.6 1236.6L84.2 1236.6L84.7 1236.7L85.2 1236.1L85.7 1236.9L86.3 1236.3L86.8 1236.6L87.3 1236.5L87.8 1236.5L88.4 1237.6L88.9 1237.5L89.4 1237.5L89.9 1238.2L90.5 1238.3L91.0 1238.0L91.5 1238.7L92.0 1239.2L92.6 1238.8L93.1 1238.1L93.6 1238.6L94.1 1237.7L94.7 1237.5L95.2 1237.1L95.7 1237.8L96.2 1237.1L96.8 1237.9L97.3 1237.5L97.8 1237.8L98.4 1238.2L98.9 1238.3L99.4 1238.8L99.9 1239.2L100.5 1238.9L101.0 1238.7L101.5 1239.6L102.0 1238.9L102.5 1239.2L103.1 1239.3L103.6 1238.6L104.1 1239.1L104.7 1238.9L105.2 1238.3L105.7 1238.6L106.2 1238.6L106.8 1238.4L107.3 1238.5L107.8 1238.3L108.3 1237.9L108.9 1238.3L109.4 1238.6L109.9 1238.0L110.4 1238.3L111.0 1238.7L111.5 1238.7L112.0 1238.2L112.5 1238.2L113.1 1238.3L113.6 1238.4L114.1 1238.6L114.6 1239.3L115.2 1238.9L115.7 1239.2L116.2 1238.9L116.7 1239.1L117.3 1239.9L117.8 1240.4L118.3 1240.1L118.8 1240.2L119.4 1240.4L119.9 1240.6L120.4 1241.0L121.0 1241.0L121.5 1240.7L122.0 1241.1L122.5 1241.0L123.1 1241.1L123.6 1241.0L124.1 1240.3L124.6 1239.9L125.2 1239.7L125.7 1240.0L126.2 1239.2L126.7 1238.9L127.3 1238.9L127.8 1238.5L128.3 1238.1L128.8 1238.3L129.4 1237.5L129.9 1237.9L130.4 1237.5L130.9 1236.8L131.5 1236.6L132.0 1236.6L132.5 1236.4L133.0 1236.4L133.6 1236.3L134.1 1235.7L134.6 1235.2L135.1 1235.5L135.7 1235.1L136.2 1234.4L136.7 1233.9L137.3 1233.2L137.9 1231.6L138.5 1230.4L138.9 1224.2L139.3 1218.2L139.9 1216.8L140.5 1216.2L141.1 1214.7L141.7 1214.0L142.3 1213.7L142.8 1213.8L143.4 1215.3L144.0 1216.4L144.6 1217.3L145.2 1218.2L145.8 1219.4L146.3 1219.9L146.9 1219.5L147.4 1219.7L147.9 1219.7L148.5 1219.8L149.0 1219.9L149.5 1219.8L150.0 1219.8L150.6 1220.3L151.1 1221.0L151.6 1220.8L152.1 1222.3L152.7 1223.1L153.2 1223.9L153.7 1224.8L154.2 1226.1L154.8 1227.4L155.4 1227.8L156.0 1228.7L156.6 1229.8L157.2 1230.4L157.8 1228.7L158.4 1227.5L158.9 1226.8L159.5 1225.2L160.0 1225.1L160.5 1224.9L161.1 1224.2L161.6 1223.7L162.1 1223.4L162.6 1223.2L163.2 1223.1L163.7 1222.2L164.2 1222.1L164.7 1221.7L165.3 1220.8L165.8 1220.5L166.3 1219.1L166.8 1219.1L167.4 1218.2L167.9 1217.9L168.4 1216.2L168.9 1216.1L169.5 1215.4L170.0 1214.9L170.5 1213.8L171.0 1214.1L171.6 1213.9L172.1 1214.2L172.6 1215.0L173.1 1214.7L173.7 1214.7L174.2 1213.6L174.7 1213.2L175.2 1212.9L175.8 1212.9L176.3 1212.4L176.8 1212.9L177.3 1212.6L177.9 1213.3L178.4 1212.9L178.9 1212.9L179.4 1212.2L180.0 1212.4L180.5 1212.0L181.0 1212.0L181.5 1211.7L182.1 1211.1L182.6 1210.7L183.1 1210.3L183.7 1210.3L184.2 1210.7L184.7 1211.6L185.2 1211.9L185.8 1211.9L186.3 1212.9L186.8 1213.3L187.3 1213.6L187.9 1213.7L188.4 1213.9L188.9 1213.8L189.4 1213.8L190.0 1214.8L190.5 1214.9L191.0 1216.2L191.5 1216.4L192.1 1216.3L192.6 1217.0L193.1 1216.7L193.6 1217.3L194.2 1217.3L194.7 1217.3L195.2 1217.2L195.7 1217.7L196.3 1217.8L196.8 1218.2L197.3 1218.8L197.8 1218.3L198.4 1218.7L198.9 1218.9L199.4 1219.0L199.9 1219.8L200.5 1219.3L201.0 1220.2L201.5 1220.5L202.0 1220.8L202.6 1221.9L203.1 1223.0L203.6 1223.2L204.1 1224.5L204.7 1225.2L205.2 1225.4L205.7 1225.6L206.2 1225.3L206.8 1226.2L207.3 1226.1L207.8 1226.9L208.4 1226.6L208.9 1226.9L209.4 1228.0L209.9 1227.8L210.5 1227.6L211.0 1227.7L211.5 1227.9L212.0 1228.8L212.6 1228.7L213.1 1229.5L213.6 1229.7L214.1 1230.4L214.7 1230.3L215.2 1231.3L215.7 1231.6L216.2 1231.6L216.8 1231.9L217.3 1231.9L217.8 1232.2L218.3 1232.1L218.9 1231.9L219.4 1231.7L219.9 1232.1L220.4 1232.2L221.0 1232.6L221.5 1233.8L222.0 1234.6L222.5 1235.2L223.1 1235.7L223.6 1235.8L224.1 1235.8L224.6 1236.1L225.2 1236.4L225.7 1236.6L226.2 1236.9L226.7 1237.4L227.3 1236.7L227.8 1237.3L228.3 1237.5L228.8 1237.8L229.4 1238.4L229.9 1238.9L230.4 1239.1L230.9 1239.2L231.5 1239.9L232.0 1240.5L232.5 1240.9L233.1 1241.7L233.6 1241.8L234.1 1242.5L234.6 1243.1L235.2 1243.1L235.7 1244.3L236.2 1244.5L236.7 1244.7L237.3 1245.3L237.8 1245.8L238.3 1246.3L238.8 1246.2L239.4 1246.9L239.9 1246.1L240.4 1246.5L240.9 1246.7L241.5 1247.1L242.0 1247.3L242.5 1247.4L243.0 1248.2L243.6 1248.1L244.1 1248.8L244.6 1248.6L245.1 1249.3L245.7 1249.1L246.2 1248.8L246.7 1248.8L247.2 1248.4L247.8 1249.3L248.3 1249.0L248.8 1248.5L249.3 1248.8L249.9 1248.7L250.4 1249.0L250.9 1249.0L251.4 1248.6L252.0 1248.8L252.5 1249.3L253.0 1248.7L253.5 1248.6L254.1 1249.2L254.6 1248.8L255.1 1248.5L255.7 1249.0L256.2 1248.5L256.7 1248.9L257.2 1248.8L257.8 1248.4L258.3 1248.4L258.8 1248.7L259.3 1248.1L259.9 1248.0L260.4 1248.1L260.9 1248.4L261.4 1248.3L262.0 1248.3L262.5 1248.8L263.0 1248.7L263.5 1248.6L264.1 1248.5L264.6 1249.3L265.1 1248.8L265.6 1248.2L266.2 1248.8L266.7 1248.7L267.2 1248.3L267.7 1248.0L268.1 1248.0L268.7 1247.3L269.2 1247.6L269.7 1247.0L270.2 1247.4L270.8 1247.1L271.3 1246.9L271.8 1246.1L272.3 1245.5L272.9 1245.7L273.4 1245.3L273.9 1244.4L274.4 1244.1L275.0 1243.7L275.5 1243.6L276.0 1242.7L276.6 1241.4L277.2 1240.0L277.8 1239.2L278.2 1239.8L278.7 1240.1L279.2 1240.1L279.6 1231.3L280.1 1222.5L280.7 1221.7L281.3 1221.7L281.7 1222.2L282.2 1223.3L282.7 1224.3L283.2 1224.6L283.7 1224.5L284.3 1225.3L284.8 1225.2L285.3 1225.7L285.8 1226.0L286.4 1226.1L286.9 1225.4L287.4 1226.1L288.0 1224.4L288.6 1222.1L289.2 1220.8L289.7 1220.7L290.2 1220.0L290.7 1219.5L291.3 1218.4L291.8 1218.2L292.3 1217.7L292.8 1218.5L293.4 1218.3L293.9 1218.3L294.4 1218.2L294.9 1218.0L295.5 1218.1L296.0 1217.5L296.5 1217.2L297.0 1217.3L297.6 1217.3L298.1 1217.4L298.6 1218.0L299.1 1218.4L299.7 1218.2L300.2 1217.0L300.7 1216.3L301.2 1216.1L301.8 1215.6L302.3 1214.7L302.9 1212.9L303.5 1211.5L304.1 1210.3L304.6 1209.3L305.1 1208.8L305.6 1208.7L306.2 1208.4L306.7 1207.7L307.2 1207.5L307.7 1206.6L308.3 1206.2L308.8 1206.7L309.3 1205.9L309.8 1205.8L310.4 1205.5L310.9 1205.6L311.4 1205.4L311.9 1205.0L312.5 1205.9L313.1 1206.4L313.7 1207.7L314.3 1209.2L314.9 1209.7L315.4 1211.2L316.0 1211.6L316.6 1212.8L317.2 1213.8L317.8 1212.4L318.4 1211.0L318.9 1209.4L319.5 1208.6L320.0 1208.6L320.5 1207.8L321.0 1207.0L321.6 1206.8L322.2 1206.8L322.7 1206.5L323.3 1205.9L323.9 1207.5L324.5 1208.4L325.1 1209.4L325.7 1210.3L326.2 1212.0L326.8 1212.9L327.3 1213.8L327.9 1214.0L328.4 1214.9L328.9 1215.5L329.4 1215.5L330.0 1215.6L330.5 1216.3L331.0 1216.5L331.6 1216.5L332.1 1216.4L332.6 1215.8L333.1 1215.9L333.7 1216.0L334.2 1215.8L334.7 1215.5L335.2 1216.0L335.8 1216.0L336.3 1215.7L336.8 1216.7L337.3 1216.4L337.9 1216.6L338.4 1217.2L338.9 1216.7L339.4 1217.6L340.0 1217.3L340.5 1216.5L341.1 1215.8L341.7 1214.7L342.3 1213.7L342.9 1212.7L343.5 1211.2L344.0 1210.9L344.5 1210.4L345.0 1210.5L345.6 1210.1L346.1 1210.3L346.6 1210.2L347.1 1210.3L347.7 1209.6L348.2 1209.2L348.7 1209.4L349.2 1209.5L349.8 1210.4L350.3 1211.1L350.8 1211.0L351.4 1212.0L351.9 1212.0L352.4 1211.4L352.9 1211.1L353.5 1211.8L354.0 1211.2L354.6 1213.8L355.2 1216.4L355.7 1220.6L356.3 1224.3L356.8 1225.2L357.3 1225.7L357.8 1226.7L358.4 1227.8L358.9 1228.6L359.5 1229.7L360.1 1230.4L360.7 1230.1L361.3 1229.5L361.9 1228.7L362.4 1229.1L363.0 1229.0L363.6 1229.6L364.1 1229.8L364.7 1230.1L365.2 1230.6L365.7 1230.7L366.2 1231.3L366.7 1232.2L367.2 1233.0L367.6 1233.9L368.2 1233.7L368.7 1234.6L369.2 1234.6L369.7 1234.9L370.3 1234.8L370.8 1235.1L371.3 1235.1L371.8 1235.3L372.4 1234.7L372.9 1234.8L373.4 1234.5L373.9 1234.0L374.5 1234.5L375.0 1234.2L375.5 1233.9L376.0 1233.8L376.6 1234.1L377.1 1233.1L377.6 1233.0L378.1 1233.1L378.7 1233.5L379.2 1233.7L379.7 1233.6L380.2 1233.3L380.8 1233.9L381.3 1234.0L381.8 1234.6L382.3 1234.5L382.9 1234.6L383.4 1234.8L383.9 1234.9L384.4 1235.3L385.0 1235.4L385.5 1235.7L386.0 1235.7L386.5 1236.2L387.1 1236.3L387.6 1236.1L388.1 1236.1L388.6 1236.6L389.2 1236.7L389.7 1236.5L390.2 1236.5L390.8 1235.6L391.3 1235.7L391.8 1235.3L392.3 1234.7L392.9 1233.2L393.4 1232.7L393.9 1232.2L394.4 1232.3L395.0 1231.8L395.5 1232.5L396.0 1232.0L396.5 1232.2L397.1 1232.4L397.6 1232.0L398.1 1231.9L398.6 1231.9L399.2 1232.2L399.7 1232.4L400.2 1232.8L400.7 1232.4L401.3 1233.1L401.8 1233.1L402.3 1233.1L402.8 1233.6L403.4 1233.5L403.9 1233.5L404.4 1233.9L404.9 1233.8L405.5 1233.8L406.0 1234.7L406.5 1234.6L407.0 1234.8L407.6 1234.6L408.1 1235.5L408.6 1235.5L409.1 1235.0L409.7 1235.7L410.2 1235.9L410.7 1235.8L411.2 1235.6L411.8 1235.7L412.3 1235.7L412.8 1236.3L413.4 1235.9L413.9 1236.4L414.4 1236.5L414.9 1236.6L415.5 1236.8L416.0 1237.1L416.5 1237.9L417.0 1238.1L417.6 1238.3L418.1 1238.9L418.7 1239.5L419.3 1240.1L419.9 1238.6L420.5 1238.0L421.1 1236.6L421.6 1235.9L422.1 1236.4L422.6 1236.0L423.2 1235.6L423.7 1235.7L424.2 1235.4L424.7 1235.1L425.3 1234.2L425.8 1234.3L426.3 1233.9L426.8 1233.3L427.4 1233.5L427.9 1232.7L428.4 1232.4L428.9 1232.2L429.5 1231.2L430.0 1230.3L430.5 1229.8L431.0 1229.0L431.6 1228.7L432.1 1229.2L432.6 1229.7L433.1 1229.5L433.7 1229.7L434.2 1230.4L434.7 1230.6L435.2 1230.4L435.8 1230.9L436.3 1231.4L436.8 1231.3L437.3 1231.2L437.9 1231.9L438.4 1231.9L438.9 1231.6L439.4 1232.2L440.0 1232.1L440.5 1232.6L441.0 1232.3L441.6 1232.6L442.1 1233.1L442.6 1232.8L443.1 1232.7L443.7 1232.0L444.2 1231.8L444.7 1231.3L445.3 1230.5L445.9 1230.5L446.5 1230.4L447.0 1231.1L447.5 1232.6L448.0 1232.9L448.6 1234.2L449.1 1234.8L449.6 1234.7L450.1 1235.5L450.7 1236.3L451.2 1236.5L451.7 1236.6L452.2 1236.8L452.8 1236.6L453.3 1237.5L453.8 1236.9L454.3 1237.5L454.9 1238.5L455.5 1238.9L456.1 1239.2L456.7 1239.7L457.3 1239.8L457.9 1240.1L458.4 1238.3L459.0 1237.0L459.6 1235.7L460.1 1234.8L460.7 1233.7L461.2 1232.4L461.7 1231.8L462.2 1230.4L462.8 1229.5L463.3 1229.2L463.8 1228.5L464.3 1228.2L464.9 1227.8L465.4 1227.8L465.9 1227.4L466.4 1226.4L467.0 1226.2L467.5 1226.1L468.1 1224.5L468.6 1223.9L469.2 1222.5L469.8 1223.7L470.4 1224.6L471.0 1226.1L471.5 1226.1L472.0 1226.8L472.6 1226.5L473.1 1226.9L473.6 1226.9L474.2 1227.1L474.8 1226.9L475.3 1227.0L475.9 1226.8L476.5 1226.6L477.1 1226.9L477.6 1226.9L478.2 1226.6L478.7 1226.4L479.2 1226.1L479.7 1226.6L480.3 1226.1L480.8 1226.2L481.3 1226.1L481.8 1226.1L482.4 1226.5L482.9 1226.9L483.4 1227.1L483.9 1226.4L484.5 1226.6L485.0 1226.0L485.5 1226.1L486.0 1226.0L486.6 1225.7L487.1 1225.8L487.6 1225.4L488.1 1225.2L488.7 1223.9L489.3 1222.6L489.9 1221.7L490.5 1220.9L491.1 1219.9L491.6 1221.1L492.1 1221.9L492.5 1222.5L493.0 1222.9L493.6 1223.1L494.1 1224.0L494.6 1224.3L495.1 1224.3L495.7 1224.5L496.2 1225.5L496.7 1226.2L497.2 1226.6L497.8 1226.9L498.4 1227.4L499.0 1226.9L499.4 1219.7L499.9 1212.0L500.4 1211.6L501.0 1212.1L501.6 1211.2L502.1 1211.2L502.7 1210.9L503.2 1211.3L503.7 1210.3L504.3 1210.4L504.8 1210.3L505.3 1210.8L505.8 1210.8L506.4 1211.1L506.9 1212.0L507.4 1212.0L507.9 1212.0L508.5 1211.9L509.0 1211.8L509.5 1211.7L510.0 1211.2L510.6 1211.2L511.1 1210.8L511.6 1210.6L512.1 1209.8L512.7 1209.4L513.2 1209.4L513.7 1209.1L514.2 1209.4L514.8 1208.9L515.3 1208.5L515.8 1208.3L516.3 1208.4L516.9 1207.8L517.4 1207.5L517.9 1207.7L518.4 1207.2L519.0 1206.6L519.5 1206.1L520.0 1205.9L520.5 1205.9L521.1 1205.5L521.6 1205.5L522.1 1204.4L522.7 1204.6L523.2 1204.2L523.7 1203.6L524.2 1203.8L524.8 1203.4L525.3 1203.4L525.8 1203.3L526.3 1203.3L526.9 1202.8L527.4 1202.6L527.9 1202.8L528.4 1202.4L529.0 1202.2L529.5 1202.6L530.0 1203.1L530.5 1203.4L531.1 1203.3L531.6 1203.6L532.1 1202.7L532.6 1202.9L533.2 1202.4L533.7 1202.4L534.2 1202.3L534.7 1202.1L535.3 1201.0L535.8 1200.9L536.3 1200.7L536.8 1201.3L537.4 1200.9L537.9 1201.3L538.4 1201.7L538.9 1201.5L539.5 1201.5L540.0 1202.2L540.5 1201.6L541.0 1202.1L541.6 1202.4L542.1 1201.7L542.6 1201.6L543.1 1201.1L543.7 1200.5L544.2 1200.7L544.8 1199.8L545.4 1198.0L546.0 1197.2L546.5 1196.6L547.1 1196.0L547.7 1195.4L548.3 1194.9L548.9 1194.0L549.5 1192.8L550.0 1192.9L550.5 1192.4L551.0 1193.0L551.6 1192.4L552.1 1192.8L552.7 1194.4L553.2 1194.9L553.8 1196.3L554.4 1195.7L555.0 1195.4L555.6 1195.4L556.1 1194.9L556.6 1195.0L557.2 1194.7L557.7 1194.2L558.2 1193.7L558.7 1193.7L559.3 1193.0L559.8 1192.9L560.3 1192.8L560.8 1192.8L561.4 1193.1L561.9 1193.8L562.4 1194.3L562.9 1193.8L563.5 1194.5L564.1 1195.6L564.6 1196.1L565.2 1196.3L565.8 1195.1L566.5 1194.1L567.1 1192.8L567.7 1193.9L568.3 1194.2L568.9 1195.4L569.4 1196.0L570.0 1196.8L570.6 1197.1L571.1 1197.2L571.7 1199.3L572.3 1200.2L572.9 1202.4L573.5 1203.2L574.1 1203.6L574.6 1204.2L575.2 1204.4L575.7 1203.5L576.2 1203.7L576.7 1203.1L577.3 1203.3L577.8 1203.8L578.3 1203.9L578.8 1203.3L579.4 1203.8L579.9 1204.2L580.4 1204.2L580.9 1205.0L581.5 1205.3L582.0 1205.1L582.5 1205.9L583.0 1206.7L583.6 1207.1L584.1 1206.9L584.6 1207.4L585.1 1207.7L585.7 1207.9L586.2 1208.5L586.7 1208.6L587.2 1209.0L587.8 1209.4L588.3 1210.0L588.8 1209.8L589.3 1210.3L589.9 1211.1L590.4 1211.2L590.9 1211.2L591.5 1211.4L592.0 1212.6L592.5 1212.2L593.0 1212.9L593.6 1213.4L594.1 1213.8L594.6 1214.3L595.1 1214.9L595.7 1215.5L596.2 1216.5L596.8 1216.9L597.4 1218.2L598.0 1219.1L598.6 1219.5L599.2 1220.8L599.7 1221.8L600.3 1223.4L600.9 1225.2L601.5 1225.8L602.1 1226.8L602.7 1227.8L603.2 1228.0L603.7 1228.8L604.2 1229.0L604.8 1229.2L605.3 1229.6L605.8 1229.8L606.3 1229.7L606.9 1229.4L607.4 1229.7L607.9 1229.6L608.4 1229.6L609.0 1229.2L609.5 1229.3L610.0 1229.0L610.5 1228.7L611.1 1228.8L611.6 1227.8L612.1 1227.8L612.7 1227.8L613.2 1226.9L613.7 1227.0L614.2 1227.3L614.8 1226.5L615.3 1227.2L615.8 1226.9L616.3 1226.5L616.9 1226.8L617.4 1226.3L617.9 1226.3L618.4 1226.1L619.0 1225.8L619.5 1225.8L620.0 1226.4L620.5 1226.2L621.1 1226.1L621.6 1226.7L622.1 1226.7L622.6 1227.4L623.2 1228.6L623.7 1228.7L624.3 1227.5L624.9 1227.0L625.4 1226.1L626.0 1225.4L626.6 1224.3L627.2 1223.4L627.7 1223.3L628.2 1223.5L628.8 1223.2L629.3 1222.5L629.8 1222.5L630.3 1223.0L630.9 1223.5L631.4 1224.3L631.9 1224.8L632.5 1225.2L633.0 1225.3L633.5 1226.1L634.0 1226.2L634.5 1226.1L635.1 1226.9L635.6 1226.5L636.1 1226.5L636.6 1226.1L637.2 1226.4L637.7 1226.1L638.2 1226.4L638.8 1226.1L639.3 1225.7L639.8 1225.7L640.3 1225.2L640.9 1225.2L641.4 1225.3L641.9 1225.6L642.4 1224.7L643.0 1225.2L643.5 1224.5L644.0 1224.0L644.5 1223.4L645.1 1223.0L645.6 1222.5L646.1 1221.8L646.6 1222.0L647.2 1222.0L647.7 1220.9L648.2 1220.8L648.7 1220.1L649.3 1219.9L649.8 1220.0L650.3 1219.1L650.8 1219.0L651.4 1219.7L651.9 1219.4L652.4 1220.2L652.9 1220.7L653.5 1220.8L654.0 1220.4L654.5 1219.3L655.0 1219.7L655.6 1219.1L656.1 1218.2L656.6 1217.8L657.1 1217.8L657.7 1217.2L658.2 1216.4L658.7 1216.4L659.2 1216.1L659.8 1216.4L660.3 1215.9L660.8 1215.3L661.4 1215.5L661.9 1215.4L662.4 1215.6L662.9 1216.2L663.5 1216.4L664.0 1216.4L664.5 1216.7L665.0 1217.0L665.6 1217.9L666.1 1217.7L666.6 1218.2L667.1 1218.0L667.7 1217.2L668.2 1217.1L668.7 1216.5L669.2 1216.4L669.8 1216.4L670.3 1217.0L670.8 1217.1L671.3 1217.7L671.9 1218.2L672.4 1218.3L672.9 1218.2L673.4 1218.5L674.0 1218.2L674.5 1218.2L675.0 1217.9L675.5 1218.8L676.1 1218.6L676.6 1219.1L677.1 1219.0L677.6 1219.5L678.2 1219.1L678.7 1218.8L679.2 1218.9L679.7 1219.0L680.3 1219.0L680.8 1218.9L681.3 1218.7L681.8 1218.9L682.4 1219.0L682.8 1219.6L683.2 1219.9L683.2 1263.1L75.0 1263.1Z" fill="#FF6B6B" fill-opacity="0.3" stroke="none"/>
<path d="M94.3 1263.1L94.3 1241.0L94.9 1241.4L95.5 1240.6L96.1 1240.5L96.7 1241.4L97.3 1241.0L97.8 1240.5L98.4 1240.2L98.9 1240.6L99.4 1240.1L99.9 1240.1L100.5 1240.5L101.0 1239.8L101.5 1240.5L102.0 1239.9L102.5 1240.1L103.1 1240.2L103.7 1240.5L104.3 1240.3L104.9 1240.5L105.5 1240.3L106.1 1240.1L106.6 1239.9L107.2 1241.0L107.8 1241.0L108.4 1241.0L109.0 1241.2L109.6 1241.8L110.1 1242.0L110.7 1241.6L111.3 1241.8L111.9 1241.5L112.5 1241.6L113.1 1241.0L113.6 1241.4L114.1 1241.8L114.6 1242.1L115.2 1242.1L115.7 1242.7L116.2 1243.0L116.7 1242.2L117.3 1242.5L117.8 1242.5L118.3 1241.8L118.9 1242.0L119.5 1241.5L120.1 1242.1L120.7 1242.0L121.2 1241.5L121.8 1241.8L122.4 1241.4L123.0 1241.9L123.6 1241.4L124.2 1242.2L124.7 1241.8L125.3 1241.8L125.9 1241.5L126.5 1241.1L127.1 1241.1L127.7 1241.1L128.2 1240.2L128.8 1240.1L129.4 1239.8L130.0 1239.9L130.6 1239.4L131.2 1239.6L131.8 1239.4L132.3 1239.2L132.9 1239.0L133.5 1239.1L134.1 1238.8L134.7 1238.2L135.3 1239.0L135.8 1238.3L136.4 1238.2L137.0 1238.3L137.6 1238.2L138.2 1238.7L138.8 1238.8L139.3 1238.3L139.9 1238.2L140.5 1237.9L141.1 1237.5L141.7 1238.1L142.3 1237.3L142.8 1237.5L143.4 1237.8L144.0 1237.9L144.6 1238.2L145.2 1238.5L145.8 1238.6L146.3 1239.2L146.9 1238.6L147.5 1238.9L148.1 1239.1L148.7 1238.8L149.3 1238.2L149.8 1238.3L150.4 1238.2L151.0 1237.3L151.6 1237.4L152.2 1237.5L152.8 1237.3L153.4 1236.6L153.9 1236.5L154.4 1236.9L154.9 1236.6L155.5 1236.6L156.0 1236.6L156.6 1236.2L157.2 1235.7L157.7 1221.7L158.3 1222.0L158.8 1221.6L159.3 1221.1L159.8 1221.2L160.4 1220.8L160.9 1220.8L161.4 1220.3L161.9 1220.6L162.5 1220.4L163.0 1219.9L163.5 1219.7L164.0 1219.7L164.6 1218.4L165.1 1218.5L165.6 1218.2L166.2 1217.1L166.8 1215.7L167.4 1214.7L167.9 1215.4L168.5 1217.1L169.1 1217.9L169.6 1219.0L170.2 1219.3L170.7 1219.6L171.2 1221.1L171.7 1221.0L172.3 1221.7L172.8 1221.5L173.3 1221.7L173.8 1222.0L174.4 1222.7L174.9 1222.5L175.4 1222.4L175.9 1222.7L176.5 1222.7L177.0 1223.2L177.5 1223.4L178.0 1222.8L178.6 1222.6L179.1 1222.6L179.6 1222.5L180.2 1221.7L180.7 1222.0L181.2 1221.2L181.7 1221.6L182.2 1222.0L182.8 1221.7L183.3 1220.0L183.8 1218.9L184.3 1218.0L184.9 1216.7L185.4 1215.5L185.9 1216.0L186.5 1216.1L187.0 1216.0L187.5 1216.0L188.0 1216.4L188.6 1216.3L189.1 1216.5L189.6 1216.5L190.1 1217.3L190.7 1217.3L191.2 1217.3L191.7 1218.4L192.2 1218.5L192.8 1218.3L193.3 1219.0L193.8 1219.0L194.3 1219.2L194.9 1218.6L195.4 1219.0L195.9 1219.0L196.4 1218.8L197.0 1219.7L197.5 1219.1L198.0 1219.9L198.5 1219.9L199.1 1220.8L199.6 1221.0L200.1 1220.7L200.6 1221.4L201.2 1221.7L201.7 1221.3L202.2 1221.5L202.7 1222.0L203.3 1222.0L203.8 1221.7L204.3 1221.4L204.8 1221.9L205.4 1222.3L205.9 1222.1L206.4 1222.5L206.9 1223.0L207.5 1223.3L208.0 1223.1L208.5 1223.1L209.1 1223.4L209.6 1224.1L210.1 1224.1L210.6 1224.2L211.2 1224.6L211.7 1225.2L212.2 1224.7L212.7 1225.2L213.3 1224.7L213.8 1224.7L214.3 1224.3L214.8 1224.6L215.4 1224.8L215.9 1224.0L216.4 1224.2L216.9 1224.3L217.5 1224.7L218.1 1224.6L218.7 1224.2L219.3 1224.5L219.9 1224.0L220.4 1224.3L221.0 1225.4L221.6 1226.8L222.2 1228.7L222.7 1229.1L223.2 1229.5L223.8 1230.3L224.3 1231.3L224.8 1231.3L225.3 1231.3L225.9 1232.1L226.4 1232.7L226.9 1232.8L227.4 1233.1L228.0 1233.3L228.5 1233.7L229.0 1233.1L229.5 1234.2L230.1 1233.9L230.6 1234.5L231.1 1234.9L231.6 1235.3L232.2 1234.9L232.7 1235.7L233.2 1235.6L233.8 1236.1L234.3 1236.8L234.8 1237.5L235.3 1237.5L235.9 1238.2L236.4 1238.1L236.9 1238.6L237.4 1239.1L238.0 1239.2L238.5 1239.2L239.0 1240.0L239.5 1240.2L240.1 1240.1L240.6 1240.1L241.1 1240.6L241.6 1240.7L242.2 1240.8L242.7 1240.6L243.2 1241.0L243.7 1240.7L244.3 1240.7L244.8 1240.5L245.3 1241.4L245.8 1241.0L246.4 1240.9L246.9 1240.8L247.4 1241.3L247.9 1241.2L248.5 1241.8L249.0 1241.8L249.5 1241.7L250.0 1241.5L250.6 1241.8L251.1 1241.8L251.6 1242.4L252.1 1243.1L252.7 1244.2L253.2 1244.4L253.7 1245.3L254.2 1245.9L254.8 1246.8L255.3 1247.4L255.8 1247.3L256.4 1248.0L256.9 1247.7L257.4 1248.8L257.9 1248.5L258.5 1248.4L259.0 1248.8L259.5 1248.5L260.0 1248.6L260.6 1248.6L261.1 1248.5L261.6 1248.8L262.1 1248.4L262.7 1249.3L263.2 1249.2L263.7 1248.4L264.2 1248.8L264.8 1248.8L265.3 1249.1L265.8 1248.8L266.3 1248.4L266.9 1248.8L267.5 1247.4L268.1 1246.2L268.7 1245.9L269.2 1246.3L269.7 1245.8L270.2 1245.5L270.8 1245.3L271.3 1245.3L271.8 1244.5L272.3 1245.0L272.9 1244.9L273.4 1244.5L274.0 1245.1L274.5 1245.2L275.1 1245.5L275.7 1246.2L276.3 1246.2L276.9 1247.1L277.5 1244.2L278.1 1241.8L278.6 1240.3L279.1 1239.4L279.5 1238.3L280.1 1234.1L280.6 1229.6L281.3 1226.1L281.9 1226.1L282.4 1226.6L283.0 1226.9L283.6 1227.4L284.1 1227.8L284.6 1227.5L285.1 1228.8L285.7 1228.7L286.2 1228.2L286.7 1227.4L287.2 1226.9L287.8 1226.8L288.3 1226.1L288.9 1225.6L289.5 1224.1L290.0 1223.4L290.6 1223.3L291.1 1223.5L291.6 1223.1L292.1 1223.3L292.7 1223.4L293.2 1224.0L293.7 1223.8L294.2 1224.3L294.8 1223.9L295.3 1224.3L295.8 1224.3L296.3 1223.9L296.9 1223.0L297.4 1222.9L297.9 1222.5L298.4 1222.6L299.0 1222.3L299.5 1222.1L300.0 1221.6L300.6 1221.7L301.1 1222.1L301.6 1222.2L302.1 1223.0L302.7 1223.0L303.2 1223.4L303.7 1223.4L304.2 1222.5L304.8 1221.6L305.3 1221.2L305.8 1220.8L306.3 1220.4L306.9 1221.0L307.4 1220.3L307.9 1220.9L308.4 1220.8L309.0 1220.6L309.5 1221.1L310.0 1220.4L310.5 1221.0L311.1 1220.8L311.6 1220.7L312.1 1219.8L312.6 1219.4L313.2 1219.3L313.7 1219.0L314.2 1219.4L314.7 1219.2L315.3 1219.1L315.8 1219.7L316.3 1219.9L316.8 1220.2L317.4 1219.6L317.9 1220.4L318.4 1219.9L318.9 1219.9L319.5 1219.4L320.0 1219.2L320.5 1219.3L321.0 1219.2L321.6 1219.0L322.1 1218.6L322.6 1218.3L323.1 1218.5L323.7 1218.1L324.2 1218.2L324.7 1217.9L325.2 1217.8L325.8 1217.8L326.3 1217.6L326.8 1217.3L327.3 1217.2L327.9 1217.3L328.4 1218.2L328.9 1217.6L329.4 1218.2L330.0 1218.0L330.5 1218.1L331.0 1219.0L331.6 1218.9L332.1 1219.0L332.6 1219.3L333.1 1218.8L333.7 1218.4L334.2 1218.3L334.7 1218.2L335.2 1218.6L335.8 1218.3L336.3 1219.0L336.8 1218.8L337.3 1219.0L337.9 1218.6L338.4 1218.9L338.9 1219.1L339.4 1218.7L340.0 1219.0L340.5 1219.1L341.0 1218.8L341.5 1218.0L342.1 1218.1L342.6 1217.3L343.1 1217.0L343.6 1216.3L344.2 1215.4L344.7 1215.6L345.2 1214.7L345.7 1214.7L346.3 1213.9L346.8 1213.5L347.3 1212.8L347.9 1212.9L348.4 1213.0L349.0 1213.3L349.6 1212.9L350.1 1214.6L350.5 1216.3L351.0 1218.2L351.5 1218.5L352.1 1218.9L352.6 1218.5L353.1 1219.0L353.6 1218.8L354.2 1219.2L354.7 1218.6L355.2 1219.4L355.7 1219.0L356.3 1218.5L356.8 1218.7L357.3 1218.0L357.8 1217.3L358.4 1217.3L358.9 1216.8L359.5 1216.8L360.1 1216.9L360.7 1217.3L361.3 1217.3L361.9 1217.0L362.4 1217.0L363.0 1216.6L363.6 1216.8L364.2 1216.8L364.8 1216.4L365.4 1216.4L365.9 1216.0L366.5 1216.4L367.1 1216.1L367.6 1216.4L368.2 1216.2L368.7 1216.5L369.2 1216.3L369.7 1217.2L370.3 1217.0L370.8 1216.6L371.3 1217.1L371.8 1216.9L372.4 1216.0L372.9 1216.4L373.3 1216.6L373.8 1215.9L374.5 1224.3L374.9 1225.5L375.4 1226.1L375.9 1226.9L376.3 1227.9L376.8 1228.1L377.3 1228.7L377.8 1228.6L378.3 1229.0L378.8 1229.6L379.4 1230.4L379.9 1230.4L380.4 1231.5L380.9 1231.5L381.5 1232.4L382.0 1232.9L382.5 1233.9L383.0 1234.0L383.6 1234.5L384.1 1234.9L384.6 1235.0L385.1 1235.7L385.7 1236.0L386.2 1235.8L386.7 1236.6L387.2 1236.4L387.8 1236.6L388.3 1236.3L388.8 1236.5L389.3 1235.9L389.9 1235.6L390.4 1235.7L390.9 1235.1L391.5 1235.1L392.0 1234.9L392.5 1235.2L393.0 1234.8L393.6 1234.5L394.1 1234.7L394.6 1234.1L395.1 1233.7L395.7 1233.9L396.2 1233.9L396.7 1234.2L397.2 1234.9L397.8 1234.3L398.3 1234.8L398.8 1234.7L399.3 1234.8L399.9 1235.1L400.4 1236.0L400.9 1235.7L401.4 1235.9L402.0 1235.1L402.5 1234.7L403.0 1235.0L403.5 1234.8L404.1 1235.1L404.6 1234.8L405.1 1235.3L405.6 1235.8L406.2 1235.7L406.7 1235.3L407.2 1236.1L407.7 1236.2L408.3 1236.4L408.8 1236.2L409.3 1236.3L409.8 1236.3L410.4 1236.4L410.9 1236.1L411.4 1236.6L411.9 1236.5L412.5 1236.2L413.0 1236.2L413.5 1235.8L414.1 1236.2L414.6 1235.8L415.1 1235.6L415.6 1235.9L416.2 1235.5L416.7 1235.7L417.2 1235.9L417.7 1236.0L418.3 1236.0L418.8 1236.0L419.3 1236.6L419.8 1236.5L420.4 1236.4L420.9 1236.2L421.4 1235.9L421.9 1235.7L422.5 1235.6L423.0 1234.9L423.5 1235.0L424.0 1235.3L424.6 1234.8L425.1 1235.0L425.6 1235.0L426.1 1235.6L426.7 1236.3L427.2 1236.2L427.7 1235.8L428.2 1235.8L428.8 1236.2L429.3 1236.6L429.8 1236.2L430.3 1236.0L430.9 1235.8L431.4 1236.2L431.9 1235.4L432.4 1235.7L433.0 1235.6L433.5 1236.0L434.0 1236.4L434.5 1236.5L435.1 1236.2L435.6 1235.9L436.1 1235.8L436.6 1235.8L437.2 1235.4L437.7 1235.7L438.2 1235.3L438.8 1235.6L439.3 1235.6L439.8 1234.8L440.3 1234.8L440.9 1234.2L441.4 1234.7L441.9 1234.8L442.4 1234.4L443.0 1233.9L443.5 1233.9L444.0 1234.2L444.5 1234.2L445.1 1234.2L445.6 1233.9L446.1 1234.3L446.6 1235.1L447.2 1235.3L447.7 1235.1L448.2 1235.7L448.7 1236.0L449.3 1236.0L449.8 1236.6L450.3 1237.4L450.8 1237.5L451.4 1237.6L451.9 1237.8L452.4 1238.3L452.9 1237.7L453.5 1238.3L454.0 1238.3L454.5 1238.7L455.0 1238.8L455.6 1239.2L456.1 1239.2L456.6 1239.3L457.1 1238.8L457.7 1238.2L458.2 1238.0L458.7 1237.5L459.2 1237.1L459.8 1237.2L460.3 1236.5L460.8 1236.1L461.4 1235.7L461.9 1235.4L462.4 1235.3L462.9 1235.4L463.5 1234.9L464.0 1234.8L464.5 1235.0L465.0 1234.7L465.6 1234.7L466.1 1234.3L466.6 1233.9L467.1 1233.7L467.7 1233.1L468.2 1232.4L468.7 1232.7L469.2 1232.2L469.8 1232.1L470.3 1231.7L470.8 1231.4L471.3 1230.3L471.9 1230.4L472.4 1230.7L472.9 1230.4L473.4 1230.6L474.0 1231.2L474.5 1231.0L475.0 1230.8L475.5 1230.8L476.1 1230.3L476.6 1230.3L477.1 1230.2L477.6 1230.4L478.2 1230.2L478.7 1230.5L479.2 1230.0L479.7 1230.0L480.3 1230.4L480.8 1230.0L481.3 1230.7L481.8 1230.9L482.4 1230.7L482.9 1230.4L483.4 1230.5L483.9 1230.1L484.5 1230.7L485.0 1230.1L485.5 1230.4L486.0 1229.8L486.6 1230.1L487.1 1230.3L487.6 1229.5L488.1 1229.6L488.7 1228.8L489.3 1227.1L489.9 1226.1L490.5 1226.5L491.1 1226.3L491.6 1226.1L492.2 1227.0L492.7 1227.6L493.2 1228.0L493.7 1227.9L494.3 1228.7L494.8 1228.9L495.3 1229.1L495.8 1229.4L496.4 1229.1L496.9 1229.6L497.4 1229.4L497.9 1228.9L498.5 1228.6L499.0 1228.7L499.4 1222.5L499.9 1216.4L500.4 1216.5L501.0 1216.0L501.6 1215.6L502.1 1215.5L502.7 1215.4L503.2 1215.8L503.7 1216.0L504.3 1216.0L504.8 1216.4L505.3 1216.1L505.8 1215.8L506.4 1215.7L506.9 1215.9L507.4 1215.5L507.9 1215.8L508.5 1216.0L509.0 1216.5L509.5 1216.4L510.0 1216.4L510.6 1215.4L511.1 1214.9L511.6 1214.3L512.1 1213.9L512.7 1212.9L513.2 1213.0L513.7 1212.5L514.2 1212.9L514.8 1213.1L515.3 1212.9L515.8 1212.9L516.3 1212.2L516.9 1211.6L517.4 1211.1L517.9 1211.2L518.4 1211.0L519.0 1211.1L519.5 1210.3L520.0 1210.5L520.5 1210.3L521.1 1210.0L521.6 1209.6L522.1 1209.0L522.7 1208.5L523.2 1208.5L523.7 1207.9L524.2 1208.0L524.8 1208.4L525.3 1207.8L525.8 1207.7L526.3 1207.8L526.9 1207.3L527.4 1206.7L527.9 1206.2L528.4 1205.9L529.0 1205.8L529.5 1205.9L530.0 1205.2L530.5 1204.9L531.1 1205.0L531.6 1205.4L532.1 1205.2L532.6 1204.9L533.2 1204.9L533.7 1205.0L534.2 1203.9L534.7 1203.7L535.3 1203.2L535.8 1202.2L536.3 1201.5L536.8 1201.9L537.4 1202.1L537.9 1201.9L538.4 1202.4L538.9 1202.4L539.5 1203.4L540.0 1203.7L540.5 1203.7L541.0 1204.7L541.6 1205.0L542.1 1205.5L542.6 1206.0L543.1 1206.3L543.7 1206.9L544.2 1206.8L544.7 1207.1L545.2 1206.1L545.8 1206.2L546.3 1205.6L546.8 1205.9L547.3 1206.0L547.9 1204.8L548.4 1204.8L548.9 1204.6L549.5 1204.2L550.0 1203.7L550.5 1203.1L551.0 1203.1L551.6 1202.5L552.1 1202.4L552.6 1202.6L553.1 1203.0L553.7 1202.7L554.2 1203.1L554.7 1203.3L555.2 1202.9L555.8 1202.3L556.3 1202.0L556.8 1201.6L557.3 1200.7L557.9 1201.3L558.4 1200.7L558.9 1201.2L559.4 1201.0L560.0 1201.5L560.5 1201.7L561.0 1201.4L561.5 1201.9L562.1 1201.5L562.6 1201.5L563.1 1202.0L563.6 1201.4L564.2 1202.2L564.7 1202.1L565.2 1202.4L565.8 1202.5L566.4 1201.6L567.0 1201.3L567.6 1201.5L568.2 1201.7L568.7 1201.4L569.2 1201.5L569.7 1201.4L570.3 1201.5L570.8 1202.7L571.3 1203.1L571.8 1204.0L572.4 1204.7L572.9 1205.0L573.4 1205.2L573.9 1204.6L574.5 1204.3L575.0 1204.4L575.5 1204.2L576.0 1204.0L576.6 1203.5L577.1 1202.6L577.6 1202.5L578.1 1201.5L578.7 1202.1L579.2 1201.8L579.7 1202.7L580.2 1203.2L580.8 1203.3L581.3 1203.0L581.8 1203.5L582.3 1204.0L582.9 1204.0L583.4 1204.2L583.9 1204.4L584.4 1204.1L585.0 1204.4L585.5 1205.2L586.0 1205.0L586.5 1205.2L587.1 1205.7L587.6 1206.2L588.1 1206.2L588.6 1206.8L589.2 1206.9L589.7 1207.1L590.2 1207.7L590.8 1207.8L591.3 1207.7L591.9 1208.5L592.4 1210.0L593.0 1211.2L593.6 1211.6L594.1 1211.9L594.6 1211.7L595.1 1212.0L595.7 1212.0L596.2 1212.4L596.7 1212.6L597.2 1213.0L597.8 1213.2L598.3 1212.9L598.8 1213.4L599.3 1212.5L599.9 1213.1L600.4 1212.8L600.9 1212.9L601.4 1212.7L602.0 1212.5L602.5 1213.3L603.0 1213.3L603.5 1212.9L604.1 1212.9L604.6 1212.9L605.1 1212.6L605.6 1213.3L606.2 1212.9L606.7 1213.0L607.2 1212.2L607.7 1212.5L608.3 1212.7L608.8 1212.0L609.3 1211.4L609.8 1211.0L610.4 1210.6L610.9 1210.3L611.5 1211.6L612.1 1212.8L612.6 1214.7L613.2 1215.0L613.8 1214.9L614.4 1215.5L614.9 1215.5L615.5 1214.4L616.0 1213.7L616.5 1212.5L617.0 1211.2L617.6 1212.2L618.2 1212.1L618.7 1213.4L619.3 1213.8L619.9 1215.2L620.5 1215.9L621.1 1217.3L621.6 1218.0L622.2 1219.2L622.8 1220.8L623.4 1222.5L624.0 1224.2L624.6 1225.2L625.1 1224.7L625.6 1224.9L626.1 1225.1L626.7 1224.7L627.2 1225.2L627.7 1224.8L628.2 1224.5L628.8 1223.9L629.3 1222.8L629.8 1222.5L630.3 1223.1L630.9 1223.2L631.4 1222.7L631.9 1223.6L632.5 1223.4L633.0 1224.4L633.5 1224.9L634.0 1225.3L634.5 1225.9L635.1 1226.1L635.6 1226.1L636.1 1225.6L636.6 1226.2L637.2 1226.1L637.7 1226.1L638.2 1225.5L638.8 1225.3L639.3 1225.9L639.8 1225.8L640.3 1225.2L640.9 1225.1L641.4 1225.4L641.9 1226.4L642.4 1226.4L643.0 1226.9L643.5 1227.3L644.0 1226.9L644.5 1227.1L645.1 1226.5L645.6 1226.9L646.1 1227.4L646.6 1227.0L647.2 1227.4L647.7 1227.6L648.2 1227.8L648.7 1227.8L649.3 1227.9L649.8 1228.3L650.3 1228.1L650.8 1228.7L651.4 1228.0L651.9 1227.6L652.4 1228.0L652.9 1227.1L653.5 1226.9L654.0 1227.6L654.5 1227.7L655.0 1227.1L655.6 1228.0L656.1 1227.8L656.6 1228.1L657.1 1227.4L657.7 1227.3L658.2 1227.3L658.7 1226.9L659.2 1226.7L659.8 1226.3L660.3 1226.6L660.8 1226.0L661.4 1226.1L661.9 1226.1L662.4 1225.9L662.9 1226.4L663.5 1227.1L664.0 1226.9L664.5 1226.4L665.0 1226.3L665.6 1226.3L666.1 1226.0L666.6 1226.1L667.1 1225.4L667.7 1225.3L668.2 1225.2L668.7 1225.6L669.2 1225.2L669.8 1225.6L670.3 1225.8L670.8 1225.9L671.3 1226.4L671.9 1226.1L672.4 1225.8L672.9 1226.3L673.4 1226.0L674.0 1226.5L674.5 1226.1L675.0 1226.2L675.5 1226.6L676.1 1226.9L676.6 1227.2L677.1 1226.9L677.6 1226.8L678.2 1226.1L678.7 1226.0L679.2 1225.8L679.7 1225.2L680.3 1225.4L680.8 1224.6L681.3 1224.9L681.8 1224.7L682.4 1224.3L682.8 1224.4L683.2 1225.2L683.2 1263.1L94.3 1263.1Z" fill="#2AA086" fill-opacity="0.3" stroke="none"/>
<path d="M56.7 1242.7L57.2 1242.9L57.7 1242.4L58.2 1242.3L58.8 1241.8L59.3 1242.8L59.9 1242.8L60.5 1243.6L61.0 1243.6L61.6 1243.8L62.1 1243.7L62.6 1243.4L63.1 1243.2L63.7 1242.8L64.2 1242.9L64.7 1243.4L65.2 1242.4L65.8 1242.7L66.3 1242.3L66.8 1242.8L67.3 1242.1L67.9 1241.7L68.4 1241.8L69.0 1242.5L69.6 1244.0L70.2 1244.5L70.7 1244.3L71.2 1244.4L71.7 1244.6L72.2 1244.8L72.8 1244.5L73.3 1244.2L73.9 1243.6L74.5 1243.9L75.0 1243.6L75.7 1240.7L76.3 1238.3L76.9 1237.0L77.4 1236.3L78.0 1235.7L78.6 1235.7L79.1 1235.1L79.6 1235.4L80.1 1234.7L80.7 1234.8L81.2 1234.1L81.7 1233.6L82.2 1234.0L82.8 1233.8L83.3 1233.1L83.8 1233.0L84.3 1233.2L84.9 1233.1L85.4 1233.9L85.9 1233.9L86.4 1233.4L87.0 1232.9L87.5 1233.0L88.0 1232.6L88.5 1232.2L89.1 1231.9L89.6 1231.4L90.1 1231.7L90.6 1231.3L91.2 1232.5L91.8 1233.4L92.3 1234.3L92.9 1235.7L93.4 1236.3L94.0 1236.4L94.5 1236.4L95.0 1236.9L95.5 1236.6L96.1 1236.8L96.6 1236.8L97.1 1236.7L97.7 1237.4L98.2 1237.5L98.7 1237.8L99.2 1238.1L99.8 1239.0L100.3 1239.2L100.8 1239.2L101.3 1238.5L101.9 1238.9L102.4 1237.7L102.9 1238.0L103.4 1237.5L104.0 1237.6L104.5 1238.4L105.0 1239.0L105.5 1238.9L106.1 1239.2L106.6 1239.5L107.1 1238.8L107.6 1239.4L108.2 1238.8L108.7 1239.2L109.2 1238.8L109.7 1238.3L110.3 1237.7L110.8 1238.0L111.3 1237.5L111.8 1236.7L112.4 1236.5L112.9 1236.0L113.4 1236.2L113.9 1235.7L114.5 1235.7L115.0 1235.6L115.5 1235.7L116.0 1236.1L116.6 1236.6L117.1 1237.1L117.6 1237.1L118.1 1237.7L118.7 1238.8L119.2 1239.2L119.8 1238.8L120.4 1238.3L121.0 1220.8L121.5 1222.7L122.1 1224.8L122.7 1226.9L123.3 1226.0L123.9 1225.5L124.5 1225.2L125.0 1223.6L125.6 1222.0L126.2 1220.8L126.8 1219.3L127.4 1218.2L128.0 1217.3L128.5 1215.6L129.1 1214.4L129.7 1212.9L130.3 1212.9L130.9 1212.0L131.4 1214.5L131.9 1216.7L132.3 1219.0L132.9 1220.0L133.5 1221.7L134.1 1223.4L134.7 1224.7L135.3 1225.7L135.8 1226.9L136.4 1227.0L137.0 1226.8L137.6 1226.1L138.2 1224.4L138.8 1223.0L139.3 1221.7L139.9 1222.4L140.5 1223.6L141.1 1224.3L141.6 1224.3L142.1 1224.8L142.7 1225.7L143.2 1225.6L143.7 1226.1L144.2 1226.7L144.8 1226.3L145.3 1226.9L145.8 1226.7L146.3 1226.9L146.9 1226.2L147.4 1226.3L147.9 1225.6L148.5 1225.9L149.0 1225.2L149.6 1223.9L150.1 1222.3L150.7 1220.8L151.3 1221.0L151.8 1220.5L152.3 1220.7L152.8 1220.3L153.4 1219.9L153.9 1220.5L154.5 1221.5L155.1 1222.5L155.7 1222.6L156.3 1221.6L156.9 1221.7L157.4 1220.4L158.0 1217.7L158.6 1216.4L159.2 1215.5L159.8 1214.2L160.4 1212.9L160.9 1213.0L161.4 1213.4L161.9 1213.5L162.5 1213.5L163.0 1213.8L163.6 1213.0L164.2 1212.2L164.7 1212.0L165.3 1212.0L165.8 1212.1L166.3 1211.4L166.8 1211.7L167.4 1211.2L167.9 1210.6L168.5 1210.0L169.1 1210.2L169.6 1209.4L170.2 1211.3L170.8 1211.9L171.4 1213.8L171.9 1214.0L172.4 1213.3L173.0 1213.5L173.5 1212.9L174.0 1212.9L174.5 1212.5L175.1 1211.0L175.6 1210.0L176.1 1209.0L176.6 1208.5L177.2 1207.9L177.8 1207.5L178.4 1207.7L179.0 1206.5L179.6 1204.3L180.2 1203.3L180.7 1202.6L181.3 1202.4L181.9 1202.4L182.5 1205.7L183.1 1209.4L183.7 1210.1L184.3 1209.8L184.8 1210.9L185.4 1211.2L185.9 1211.5L186.5 1211.9L187.0 1212.5L187.5 1213.3L188.0 1213.8L188.6 1214.2L189.1 1215.1L189.6 1215.8L190.1 1216.6L190.7 1217.3L191.2 1218.0L191.7 1218.1L192.2 1219.0L192.8 1219.6L193.3 1219.9L193.8 1219.9L194.3 1220.5L194.9 1220.0L195.4 1220.6L195.9 1220.8L196.4 1221.4L197.0 1221.8L197.5 1223.1L198.0 1224.0L198.5 1224.3L199.1 1224.8L199.6 1225.2L200.1 1226.3L200.6 1226.9L201.2 1226.9L201.7 1227.4L202.2 1227.7L202.7 1228.1L203.3 1228.5L203.8 1228.7L204.3 1229.2L204.8 1229.4L205.4 1230.0L205.9 1230.3L206.4 1230.4L206.9 1231.1L207.5 1231.5L208.0 1231.9L208.5 1232.3L209.1 1233.1L209.6 1232.9L210.1 1232.5L210.6 1232.5L211.2 1232.0L211.7 1232.2L212.2 1232.8L212.7 1232.2L213.3 1233.1L213.8 1233.0L214.3 1233.1L214.8 1234.0L215.4 1234.5L215.9 1234.3L216.4 1234.9L216.9 1235.7L217.5 1237.6L218.1 1238.8L218.7 1240.1L219.3 1238.5L219.9 1237.5L220.4 1236.6L221.0 1237.4L221.5 1238.8L222.0 1239.8L222.5 1241.0L223.1 1242.7L223.6 1241.9L224.1 1242.0L224.6 1241.9L225.2 1241.3L225.7 1241.0L226.2 1241.6L226.7 1242.2L227.3 1242.2L227.8 1243.3L228.3 1243.6L228.8 1243.9L229.4 1244.2L229.9 1245.1L230.4 1244.9L230.9 1245.3L231.5 1245.3L232.0 1245.3L232.5 1244.8L233.1 1244.3L233.6 1244.5L234.1 1244.3L234.6 1244.6L235.2 1244.7L235.7 1245.1L236.2 1245.3L236.7 1245.1L237.3 1245.9L237.8 1246.1L238.3 1246.2L238.8 1246.2L239.4 1245.8L239.9 1245.9L240.4 1246.6L240.9 1246.6L241.5 1246.2L242.0 1246.6L242.5 1246.9L243.0 1246.4L243.6 1246.7L244.1 1247.1L244.6 1247.0L245.1 1247.1L245.7 1246.9L246.2 1246.8L246.7 1247.1L247.2 1247.4L247.8 1246.8L248.3 1247.2L248.8 1247.4L249.3 1247.1L249.9 1246.7L250.4 1246.9L250.9 1247.0L251.4 1246.9L252.0 1247.1L252.5 1247.7L253.0 1247.8L253.5 1247.2L254.1 1247.4L254.6 1248.0L255.1 1248.1L255.7 1248.0L256.2 1247.5L256.7 1248.3L257.2 1248.0L257.8 1248.2L258.3 1247.7L258.8 1247.0L259.3 1246.9L259.9 1247.1L260.4 1247.2L260.9 1246.9L261.4 1246.5L262.0 1246.8L262.5 1246.2L263.0 1245.7L263.5 1246.4L264.1 1246.5L264.6 1246.5L265.1 1246.2L265.6 1245.6L266.2 1246.1L266.7 1245.7L267.2 1245.6L267.7 1245.3L268.1 1244.5L268.7 1243.6L269.2 1243.9L269.7 1243.3L270.2 1242.0L270.8 1241.8L271.4 1241.0L271.9 1240.1L272.5 1239.2L273.1 1239.7L273.7 1240.2L274.3 1241.0L274.9 1239.8L275.4 1239.4L276.0 1238.3L276.5 1236.9L277.0 1235.4L277.4 1233.9L278.0 1236.1L278.6 1238.3L279.1 1233.8L279.5 1229.6L280.2 1198.0L280.7 1198.7L281.2 1198.9L281.6 1198.9L282.3 1220.8L282.9 1219.4L283.4 1218.3L283.9 1217.3L284.3 1214.3L284.8 1211.2L285.2 1213.0L285.7 1214.9L286.2 1216.4L286.8 1214.4L287.4 1212.0L288.0 1209.9L288.6 1208.9L289.2 1206.8L289.7 1205.1L290.3 1204.5L290.9 1203.3L291.4 1203.2L292.0 1202.3L292.5 1202.0L293.0 1201.5L293.5 1201.5L294.1 1201.6L294.6 1202.2L295.1 1201.6L295.6 1202.5L296.2 1202.4L296.7 1202.8L297.2 1203.9L297.7 1204.0L298.3 1204.5L298.8 1205.0L299.4 1205.4L300.0 1206.6L300.6 1206.8L301.1 1205.3L301.7 1204.1L302.3 1202.4L302.8 1201.5L303.4 1200.6L303.9 1199.1L304.4 1197.8L304.9 1197.2L305.5 1198.3L306.1 1200.2L306.7 1201.5L307.3 1202.0L307.8 1202.8L308.4 1204.2L309.0 1203.8L309.5 1204.0L310.0 1203.3L310.5 1203.2L311.1 1203.3L311.6 1203.3L312.1 1204.5L312.6 1204.7L313.2 1205.2L313.7 1205.0L314.2 1205.3L314.7 1205.3L315.3 1205.3L315.8 1205.6L316.3 1205.9L316.9 1205.3L317.5 1204.2L318.1 1203.3L318.6 1202.7L319.1 1203.3L319.6 1203.1L320.2 1202.1L320.7 1202.4L321.2 1201.8L321.7 1202.1L322.3 1201.9L322.8 1202.0L323.3 1201.5L323.8 1201.0L324.3 1201.4L324.7 1200.7L325.3 1204.1L325.9 1207.7L326.5 1208.2L327.1 1209.9L327.7 1210.3L328.3 1210.3L328.9 1210.0L329.4 1209.4L330.0 1207.3L330.6 1206.4L331.2 1204.2L331.8 1205.1L332.4 1206.5L333.0 1207.7L333.5 1208.6L334.1 1208.5L334.7 1209.4L335.3 1210.4L335.9 1212.5L336.5 1213.8L336.9 1217.3L337.3 1220.8L337.9 1222.4L338.5 1223.6L339.1 1224.3L339.7 1227.3L340.3 1230.4L340.8 1228.2L341.2 1225.5L341.7 1223.4L342.3 1224.8L342.9 1225.7L343.5 1226.9L344.1 1225.3L344.6 1223.8L345.2 1222.5L345.8 1223.7L346.4 1224.8L347.0 1226.1L347.6 1226.7L348.1 1227.3L348.7 1228.7L349.3 1227.1L349.9 1225.9L350.5 1225.2L351.1 1225.2L351.6 1224.5L352.2 1224.3L352.8 1224.3L353.4 1224.7L354.0 1224.3L354.6 1225.1L355.1 1227.0L355.7 1227.8L356.3 1228.8L356.9 1228.9L357.5 1229.6L358.1 1229.2L358.6 1227.9L359.2 1227.8L359.8 1226.8L360.4 1225.6L361.0 1225.2L361.6 1226.9L362.2 1228.6L362.7 1229.6L363.3 1230.9L363.9 1231.3L364.5 1232.2L365.0 1232.7L365.5 1232.7L366.1 1232.2L366.6 1232.7L367.1 1233.1L367.6 1233.1L368.2 1232.8L368.7 1233.3L369.2 1233.4L369.7 1233.3L370.3 1233.9L370.8 1233.6L371.3 1233.9L371.8 1234.5L372.4 1235.0L372.9 1234.8L373.5 1233.2L374.1 1231.7L374.6 1229.6L375.2 1229.6L375.8 1229.9L376.4 1230.4L376.9 1230.0L377.4 1229.3L378.0 1229.4L378.5 1228.7L379.0 1228.7L379.5 1228.1L380.1 1228.7L380.6 1227.9L381.1 1227.9L381.6 1227.8L382.2 1228.6L382.8 1229.1L383.4 1230.4L383.9 1229.8L384.4 1230.5L385.0 1230.3L385.5 1230.0L386.0 1229.6L386.5 1229.9L387.1 1229.9L387.6 1230.3L388.1 1231.0L388.6 1231.3L389.2 1231.4L389.7 1232.1L390.2 1232.9L390.8 1233.2L391.3 1233.1L391.8 1232.5L392.3 1232.1L392.9 1231.6L393.4 1232.1L393.9 1231.3L394.4 1232.0L395.0 1232.0L395.5 1232.1L396.0 1232.1L396.5 1232.2L397.1 1232.4L397.6 1231.7L398.1 1231.7L398.6 1231.9L399.2 1231.3L399.7 1232.9L400.3 1234.1L400.9 1235.7L401.4 1235.0L402.0 1234.8L402.5 1235.0L403.0 1234.4L403.5 1233.9L404.1 1233.6L404.6 1233.2L405.1 1232.6L405.6 1231.9L406.2 1231.3L406.7 1230.5L407.2 1230.9L407.7 1230.0L408.3 1229.6L408.8 1229.6L409.3 1229.1L409.8 1229.6L410.4 1229.7L410.9 1229.2L411.4 1229.6L411.9 1229.0L412.5 1229.2L413.0 1229.1L413.5 1228.6L414.1 1228.7L414.6 1229.3L415.1 1229.0L415.6 1229.0L416.2 1229.7L416.7 1229.6L417.2 1230.0L417.7 1229.7L418.3 1229.9L418.8 1230.2L419.3 1230.4L419.8 1230.2L420.4 1231.2L420.9 1230.7L421.4 1230.9L421.9 1231.3L422.5 1231.7L423.0 1231.6L423.5 1232.0L424.0 1231.7L424.6 1232.2L425.1 1231.8L425.6 1231.6L426.1 1231.1L426.7 1229.6L427.2 1229.6L427.8 1228.0L428.4 1226.9L428.9 1226.1L429.5 1226.1L430.1 1226.1L430.7 1226.1L431.1 1222.1L431.6 1218.2L432.0 1219.4L432.5 1220.7L433.0 1222.5L433.5 1223.4L434.0 1224.0L434.5 1225.3L435.1 1226.1L435.6 1227.0L436.1 1226.6L436.7 1227.8L437.2 1227.8L437.7 1228.2L438.3 1227.7L438.9 1227.3L439.4 1227.8L440.0 1228.2L440.5 1228.6L441.0 1229.6L441.6 1230.4L442.1 1230.4L442.6 1230.4L443.1 1229.1L443.7 1228.6L444.2 1228.3L444.7 1227.8L445.2 1227.7L445.8 1228.3L446.3 1228.5L446.8 1228.0L447.3 1228.7L447.9 1229.3L448.4 1230.4L448.9 1231.2L449.4 1232.4L450.0 1233.1L450.6 1235.5L451.2 1238.3L451.8 1237.5L452.3 1237.3L452.9 1236.7L453.5 1236.6L454.0 1236.4L454.5 1237.4L455.0 1237.3L455.6 1236.8L456.1 1237.5L456.7 1236.2L457.3 1234.1L457.9 1233.1L458.4 1232.1L459.0 1229.9L459.6 1228.7L460.2 1227.4L460.8 1225.9L461.4 1225.2L461.9 1224.0L462.5 1223.1L463.1 1222.5L463.6 1222.8L464.2 1223.0L464.7 1222.2L465.2 1222.3L465.7 1222.5L466.3 1222.5L466.8 1221.9L467.3 1221.8L467.8 1221.0L468.4 1220.8L468.9 1219.5L469.5 1219.0L470.1 1218.2L470.6 1218.6L471.2 1218.9L471.7 1219.9L472.2 1220.5L472.7 1220.8L473.3 1220.7L473.8 1220.6L474.3 1220.5L474.8 1220.5L475.4 1219.9L475.9 1220.4L476.5 1220.2L477.1 1221.0L477.6 1220.8L478.2 1221.5L478.7 1221.9L479.2 1222.3L479.7 1221.7L480.3 1222.5L480.8 1222.6L481.3 1222.2L481.8 1221.3L482.4 1220.8L482.9 1220.8L483.4 1221.6L483.9 1222.2L484.5 1222.3L485.0 1222.5L485.5 1223.4L486.0 1222.9L486.6 1222.9L487.1 1223.1L487.6 1223.0L488.1 1222.5L488.7 1220.4L489.3 1218.6L489.9 1217.3L490.3 1216.1L490.8 1214.7L491.2 1217.7L491.6 1220.8L492.2 1221.3L492.7 1222.3L493.2 1221.9L493.7 1223.1L494.3 1223.4L494.8 1223.8L495.3 1224.5L495.8 1224.7L496.4 1225.9L496.9 1226.1L497.5 1226.3L498.1 1226.6L498.6 1226.9L499.1 1220.4L499.5 1213.8L500.1 1213.1L500.7 1212.3L501.3 1212.0L501.8 1211.9L502.3 1211.3L502.9 1211.5L503.4 1211.5L503.9 1211.2L504.4 1211.7L505.0 1211.5L505.5 1211.7L506.0 1211.9L506.5 1212.0L507.1 1211.4L507.6 1210.4L508.1 1209.8L508.6 1208.8L509.2 1208.5L509.7 1207.0L510.3 1206.5L510.9 1205.0L511.5 1202.9L512.1 1201.1L512.7 1199.8L513.3 1202.2L513.9 1204.2L514.5 1204.7L515.0 1205.5L515.6 1206.4L516.2 1207.7L516.7 1207.3L517.2 1207.0L517.7 1206.4L518.3 1206.5L518.8 1205.9L519.3 1205.8L519.8 1205.2L520.4 1204.5L520.9 1204.1L521.4 1204.2L521.9 1204.7L522.5 1204.2L523.0 1205.1L523.5 1204.7L524.0 1205.0L524.6 1205.0L525.1 1203.8L525.6 1203.7L526.2 1202.5L526.7 1202.4L527.3 1201.4L527.8 1200.9L528.4 1199.8L529.0 1196.0L529.7 1191.9L530.2 1192.3L530.8 1192.3L531.4 1192.4L531.9 1191.9L532.5 1192.1L533.0 1191.8L533.5 1191.6L534.0 1192.0L534.6 1191.9L535.1 1191.3L535.7 1190.2L536.3 1189.3L536.9 1189.8L537.5 1191.1L538.1 1191.9L538.6 1191.7L539.1 1191.1L539.6 1190.5L540.2 1190.7L540.7 1190.2L541.2 1190.0L541.7 1190.0L542.3 1190.9L542.8 1190.9L543.3 1191.0L543.8 1191.3L544.4 1190.5L544.9 1190.3L545.4 1190.7L546.0 1190.2L546.5 1189.9L547.0 1189.8L547.5 1189.4L548.1 1188.9L548.6 1188.4L549.1 1188.0L549.6 1188.0L550.2 1188.3L550.7 1187.2L551.2 1187.5L551.8 1187.7L552.3 1187.9L552.9 1187.7L553.5 1187.5L554.1 1190.1L554.7 1192.8L555.3 1192.6L555.9 1192.2L556.5 1191.9L557.0 1192.6L557.6 1194.1L558.2 1194.5L558.7 1194.8L559.3 1193.9L559.8 1193.6L560.3 1194.1L560.8 1193.7L561.4 1193.4L561.9 1193.4L562.4 1192.8L562.9 1193.4L563.5 1192.8L564.0 1193.2L564.6 1192.9L565.1 1193.2L565.7 1192.4L566.2 1192.9L566.8 1192.8L567.3 1193.0L567.9 1194.3L568.5 1194.5L569.0 1195.1L569.6 1195.8L570.1 1196.0L570.6 1196.3L571.1 1197.2L571.7 1198.9L572.3 1201.2L572.8 1203.3L573.4 1205.0L573.9 1206.1L574.5 1206.6L575.0 1207.3L575.5 1207.7L576.0 1208.2L576.6 1207.9L577.1 1208.3L577.6 1208.0L578.1 1208.5L578.7 1208.9L579.2 1209.9L579.7 1209.9L580.2 1210.4L580.8 1211.2L581.4 1212.2L581.9 1213.0L582.5 1214.7L583.1 1215.3L583.7 1216.1L584.3 1217.3L584.9 1218.4L585.4 1219.4L586.0 1220.8L586.6 1222.9L587.2 1224.4L587.8 1226.1L588.4 1227.5L588.9 1228.2L589.5 1229.6L590.1 1230.5L590.7 1231.8L591.3 1232.2L591.8 1232.4L592.3 1231.8L592.9 1231.8L593.4 1231.6L593.9 1231.3L594.5 1231.8L595.1 1233.4L595.7 1233.9L596.2 1234.3L596.8 1235.1L597.4 1235.7L597.9 1235.8L598.5 1237.0L599.0 1237.4L599.5 1238.3L600.0 1238.3L600.6 1238.4L601.1 1238.7L601.6 1239.0L602.1 1239.3L602.7 1240.1L603.2 1240.6L603.7 1240.2L604.2 1240.3L604.8 1240.8L605.3 1241.0L605.8 1240.1L606.3 1240.0L606.9 1238.4L607.4 1238.5L607.9 1237.5L608.5 1237.0L609.1 1236.6L609.6 1235.2L610.2 1234.8L610.8 1236.2L611.4 1236.7L612.0 1238.3L612.5 1236.4L613.1 1234.1L613.7 1232.2L614.2 1231.5L614.8 1231.8L615.3 1231.9L615.8 1231.3L616.3 1231.7L616.9 1232.0L617.4 1232.0L617.9 1232.2L618.4 1232.2L619.0 1232.2L619.5 1231.0L620.0 1230.9L620.5 1230.4L621.1 1230.4L621.6 1230.2L622.1 1231.2L622.6 1230.5L623.2 1231.6L623.7 1231.3L624.3 1230.2L624.9 1229.6L625.4 1228.7L626.0 1227.2L626.7 1226.1L627.2 1219.5L627.7 1212.9L628.3 1212.4L628.9 1212.0L629.5 1211.5L630.1 1211.0L630.7 1211.2L631.3 1214.0L631.9 1216.2L632.5 1219.0L633.0 1219.8L633.6 1220.6L634.2 1220.8L634.8 1215.3L635.4 1210.3L635.9 1210.4L636.4 1211.3L636.8 1212.0L637.4 1214.0L638.0 1215.2L638.6 1217.3L639.2 1214.8L639.7 1212.7L640.3 1210.3L640.9 1209.8L641.5 1208.3L642.1 1207.7L642.7 1208.1L643.2 1207.2L643.8 1207.7L644.4 1206.6L644.9 1205.4L645.4 1204.7L645.9 1203.3L646.4 1204.9L646.9 1205.7L647.3 1206.8L647.9 1206.5L648.5 1205.7L649.1 1205.0L649.7 1206.4L650.3 1208.9L650.8 1210.3L651.4 1210.5L652.0 1211.2L652.6 1212.0L653.2 1212.2L653.8 1211.9L654.3 1211.2L654.9 1210.5L655.5 1209.4L656.1 1208.5L656.6 1207.8L657.0 1207.2L657.5 1206.8L658.0 1207.5L658.5 1208.5L659.1 1209.7L659.6 1211.2L660.2 1212.4L660.8 1213.6L661.4 1214.7L661.9 1215.5L662.4 1215.7L662.9 1215.6L663.5 1215.7L664.0 1216.4L664.5 1216.9L665.0 1217.4L665.6 1217.2L666.1 1217.5L666.6 1218.2L667.1 1219.0L667.7 1219.1L668.2 1219.1L668.7 1219.8L669.2 1219.9L669.8 1219.8L670.3 1220.4L670.8 1221.4L671.3 1221.3L671.9 1221.7L672.4 1222.1L672.9 1222.3L673.4 1222.4L674.0 1222.3L674.5 1222.5L675.0 1222.2L675.5 1222.2L676.1 1222.3L676.6 1221.9L677.1 1221.7L677.6 1221.0L678.2 1221.3L678.7 1221.1L679.2 1221.1L679.7 1220.8L680.3 1221.1L680.8 1221.5L681.3 1222.2L681.8 1222.4L682.4 1222.5L682.8 1222.8L683.2 1223.4" fill="none" stroke="#45B7D1" stroke-width="2.2" stroke-linejoin="miter"/>
<line x1="75.0" x2="75.0" y1="1263.1" y2="1248.5" stroke="#FF6B6B" stroke-width="1.3"/>
<path d="M75.2 1248.5L75.8 1245.9L76.3 1243.6L76.9 1242.5L77.5 1241.0L78.0 1240.5L78.4 1239.8L78.9 1239.2L79.4 1238.6L80.0 1238.8L80.5 1238.5L81.0 1237.8L81.5 1237.5L82.1 1237.3L82.6 1236.8L83.1 1236.4L83.6 1236.6L84.2 1236.6L84.7 1236.7L85.2 1236.1L85.7 1236.9L86.3 1236.3L86.8 1236.6L87.3 1236.5L87.8 1236.5L88.4 1237.6L88.9 1237.5L89.4 1237.5L89.9 1238.2L90.5 1238.3L91.0 1238.0L91.5 1238.7L92.0 1239.2L92.6 1238.8L93.1 1238.1L93.6 1238.6L94.1 1237.7L94.7 1237.5L95.2 1237.1L95.7 1237.8L96.2 1237.1L96.8 1237.9L97.3 1237.5L97.8 1237.8L98.4 1238.2L98.9 1238.3L99.4 1238.8L99.9 1239.2L100.5 1238.9L101.0 1238.7L101.5 1239.6L102.0 1238.9L102.5 1239.2L103.1 1239.3L103.6 1238.6L104.1 1239.1L104.7 1238.9L105.2 1238.3L105.7 1238.6L106.2 1238.6L106.8 1238.4L107.3 1238.5L107.8 1238.3L108.3 1237.9L108.9 1238.3L109.4 1238.6L109.9 1238.0L110.4 1238.3L111.0 1238.7L111.5 1238.7L112.0 1238.2L112.5 1238.2L113.1 1238.3L113.6 1238.4L114.1 1238.6L114.6 1239.3L115.2 1238.9L115.7 1239.2L116.2 1238.9L116.7 1239.1L117.3 1239.9L117.8 1240.4L118.3 1240.1L118.8 1240.2L119.4 1240.4L119.9 1240.6L120.4 1241.0L121.0 1241.0L121.5 1240.7L122.0 1241.1L122.5 1241.0L123.1 1241.1L123.6 1241.0L124.1 1240.3L124.6 1239.9L125.2 1239.7L125.7 1240.0L126.2 1239.2L126.7 1238.9L127.3 1238.9L127.8 1238.5L128.3 1238.1L128.8 1238.3L129.4 1237.5L129.9 1237.9L130.4 1237.5L130.9 1236.8L131.5 1236.6L132.0 1236.6L132.5 1236.4L133.0 1236.4L133.6 1236.3L134.1 1235.7L134.6 1235.2L135.1 1235.5L135.7 1235.1L136.2 1234.4L136.7 1233.9L137.3 1233.2L137.9 1231.6L138.5 1230.4L138.9 1224.2L139.3 1218.2L139.9 1216.8L140.5 1216.2L141.1 1214.7L141.7 1214.0L142.3 1213.7L142.8 1213.8L143.4 1215.3L144.0 1216.4L144.6 1217.3L145.2 1218.2L145.8 1219.4L146.3 1219.9L146.9 1219.5L147.4 1219.7L147.9 1219.7L148.5 1219.8L149.0 1219.9L149.5 1219.8L150.0 1219.8L150.6 1220.3L151.1 1221.0L151.6 1220.8L152.1 1222.3L152.7 1223.1L153.2 1223.9L153.7 1224.8L154.2 1226.1L154.8 1227.4L155.4 1227.8L156.0 1228.7L156.6 1229.8L157.2 1230.4L157.8 1228.7L158.4 1227.5L158.9 1226.8L159.5 1225.2L160.0 1225.1L160.5 1224.9L161.1 1224.2L161.6 1223.7L162.1 1223.4L162.6 1223.2L163.2 1223.1L163.7 1222.2L164.2 1222.1L164.7 1221.7L165.3 1220.8L165.8 1220.5L166.3 1219.1L166.8 1219.1L167.4 1218.2L167.9 1217.9L168.4 1216.2L168.9 1216.1L169.5 1215.4L170.0 1214.9L170.5 1213.8L171.0 1214.1L171.6 1213.9L172.1 1214.2L172.6 1215.0L173.1 1214.7L173.7 1214.7L174.2 1213.6L174.7 1213.2L175.2 1212.9L175.8 1212.9L176.3 1212.4L176.8 1212.9L177.3 1212.6L177.9 1213.3L178.4 1212.9L178.9 1212.9L179.4 1212.2L180.0 1212.4L180.5 1212.0L181.0 1212.0L181.5 1211.7L182.1 1211.1L182.6 1210.7L183.1 1210.3L183.7 1210.3L184.2 1210.7L184.7 1211.6L185.2 1211.9L185.8 1211.9L186.3 1212.9L186.8 1213.3L187.3 1213.6L187.9 1213.7L188.4 1213.9L188.9 1213.8L189.4 1213.8L190.0 1214.8L190.5 1214.9L191.0 1216.2L191.5 1216.4L192.1 1216.3L192.6 1217.0L193.1 1216.7L193.6 1217.3L194.2 1217.3L194.7 1217.3L195.2 1217.2L195.7 1217.7L196.3 1217.8L196.8 1218.2L197.3 1218.8L197.8 1218.3L198.4 1218.7L198.9 1218.9L199.4 1219.0L199.9 1219.8L200.5 1219.3L201.0 1220.2L201.5 1220.5L202.0 1220.8L202.6 1221.9L203.1 1223.0L203.6 1223.2L204.1 1224.5L204.7 1225.2L205.2 1225.4L205.7 1225.6L206.2 1225.3L206.8 1226.2L207.3 1226.1L207.8 1226.9L208.4 1226.6L208.9 1226.9L209.4 1228.0L209.9 1227.8L210.5 1227.6L211.0 1227.7L211.5 1227.9L212.0 1228.8L212.6 1228.7L213.1 1229.5L213.6 1229.7L214.1 1230.4L214.7 1230.3L215.2 1231.3L215.7 1231.6L216.2 1231.6L216.8 1231.9L217.3 1231.9L217.8 1232.2L218.3 1232.1L218.9 1231.9L219.4 1231.7L219.9 1232.1L220.4 1232.2L221.0 1232.6L221.5 1233.8L222.0 1234.6L222.5 1235.2L223.1 1235.7L223.6 1235.8L224.1 1235.8L224.6 1236.1L225.2 1236.4L225.7 1236.6L226.2 1236.9L226.7 1237.4L227.3 1236.7L227.8 1237.3L228.3 1237.5L228.8 1237.8L229.4 1238.4L229.9 1238.9L230.4 1239.1L230.9 1239.2L231.5 1239.9L232.0 1240.5L232.5 1240.9L233.1 1241.7L233.6 1241.8L234.1 1242.5L234.6 1243.1L235.2 1243.1L235.7 1244.3L236.2 1244.5L236.7 1244.7L237.3 1245.3L237.8 1245.8L238.3 1246.3L238.8 1246.2L239.4 1246.9L239.9 1246.1L240.4 1246.5L240.9 1246.7L241.5 1247.1L242.0 1247.3L242.5 1247.4L243.0 1248.2L243.6 1248.1L244.1 1248.8L244.6 1248.6L245.1 1249.3L245.7 1249.1L246.2 1248.8L246.7 1248.8L247.2 1248.4L247.8 1249.3L248.3 1249.0L248.8 1248.5L249.3 1248.8L249.9 1248.7L250.4 1249.0L250.9 1249.0L251.4 1248.6L252.0 1248.8L252.5 1249.3L253.0 1248.7L253.5 1248.6L254.1 1249.2L254.6 1248.8L255.1 1248.5L255.7 1249.0L256.2 1248.5L256.7 1248.9L257.2 1248.8L257.8 1248.4L258.3 1248.4L258.8 1248.7L259.3 1248.1L259.9 1248.0L260.4 1248.1L260.9 1248.4L261.4 1248.3L262.0 1248.3L262.5 1248.8L263.0 1248.7L263.5 1248.6L264.1 1248.5L264.6 1249.3L265.1 1248.8L265.6 1248.2L266.2 1248.8L266.7 1248.7L267.2 1248.3L267.7 1248.0L268.1 1248.0L268.7 1247.3L269.2 1247.6L269.7 1247.0L270.2 1247.4L270.8 1247.1L271.3 1246.9L271.8 1246.1L272.3 1245.5L272.9 1245.7L273.4 1245.3L273.9 1244.4L274.4 1244.1L275.0 1243.7L275.5 1243.6L276.0 1242.7L276.6 1241.4L277.2 1240.0L277.8 1239.2L278.2 1239.8L278.7 1240.1L279.2 1240.1L279.6 1231.3L280.1 1222.5L280.7 1221.7L281.3 1221.7L281.7 1222.2L282.2 1223.3L282.7 1224.3L283.2 1224.6L283.7 1224.5L284.3 1225.3L284.8 1225.2L285.3 1225.7L285.8 1226.0L286.4 1226.1L286.9 1225.4L287.4 1226.1L288.0 1224.4L288.6 1222.1L289.2 1220.8L289.7 1220.7L290.2 1220.0L290.7 1219.5L291.3 1218.4L291.8 1218.2L292.3 1217.7L292.8 1218.5L293.4 1218.3L293.9 1218.3L294.4 1218.2L294.9 1218.0L295.5 1218.1L296.0 1217.5L296.5 1217.2L297.0 1217.3L297.6 1217.3L298.1 1217.4L298.6 1218.0L299.1 1218.4L299.7 1218.2L300.2 1217.0L300.7 1216.3L301.2 1216.1L301.8 1215.6L302.3 1214.7L302.9 1212.9L303.5 1211.5L304.1 1210.3L304.6 1209.3L305.1 1208.8L305.6 1208.7L306.2 1208.4L306.7 1207.7L307.2 1207.5L307.7 1206.6L308.3 1206.2L308.8 1206.7L309.3 1205.9L309.8 1205.8L310.4 1205.5L310.9 1205.6L311.4 1205.4L311.9 1205.0L312.5 1205.9L313.1 1206.4L313.7 1207.7L314.3 1209.2L314.9 1209.7L315.4 1211.2L316.0 1211.6L316.6 1212.8L317.2 1213.8L317.8 1212.4L318.4 1211.0L318.9 1209.4L319.5 1208.6L320.0 1208.6L320.5 1207.8L321.0 1207.0L321.6 1206.8L322.2 1206.8L322.7 1206.5L323.3 1205.9L323.9 1207.5L324.5 1208.4L325.1 1209.4L325.7 1210.3L326.2 1212.0L326.8 1212.9L327.3 1213.8L327.9 1214.0L328.4 1214.9L328.9 1215.5L329.4 1215.5L330.0 1215.6L330.5 1216.3L331.0 1216.5L331.6 1216.5L332.1 1216.4L332.6 1215.8L333.1 1215.9L333.7 1216.0L334.2 1215.8L334.7 1215.5L335.2 1216.0L335.8 1216.0L336.3 1215.7L336.8 1216.7L337.3 1216.4L337.9 1216.6L338.4 1217.2L338.9 1216.7L339.4 1217.6L340.0 1217.3L340.5 1216.5L341.1 1215.8L341.7 1214.7L342.3 1213.7L342.9 1212.7L343.5 1211.2L344.0 1210.9L344.5 1210.4L345.0 1210.5L345.6 1210.1L346.1 1210.3L346.6 1210.2L347.1 1210.3L347.7 1209.6L348.2 1209.2L348.7 1209.4L349.2 1209.5L349.8 1210.4L350.3 1211.1L350.8 1211.0L351.4 1212.0L351.9 1212.0L352.4 1211.4L352.9 1211.1L353.5 1211.8L354.0 1211.2L354.6 1213.8L355.2 1216.4L355.7 1220.6L356.3 1224.3L356.8 1225.2L357.3 1225.7L357.8 1226.7L358.4 1227.8L358.9 1228.6L359.5 1229.7L360.1 1230.4L360.7 1230.1L361.3 1229.5L361.9 1228.7L362.4 1229.1L363.0 1229.0L363.6 1229.6L364.1 1229.8L364.7 1230.1L365.2 1230.6L365.7 1230.7L366.2 1231.3L366.7 1232.2L367.2 1233.0L367.6 1233.9L368.2 1233.7L368.7 1234.6L369.2 1234.6L369.7 1234.9L370.3 1234.8L370.8 1235.1L371.3 1235.1L371.8 1235.3L372.4 1234.7L372.9 1234.8L373.4 1234.5L373.9 1234.0L374.5 1234.5L375.0 1234.2L375.5 1233.9L376.0 1233.8L376.6 1234.1L377.1 1233.1L377.6 1233.0L378.1 1233.1L378.7 1233.5L379.2 1233.7L379.7 1233.6L380.2 1233.3L380.8 1233.9L381.3 1234.0L381.8 1234.6L382.3 1234.5L382.9 1234.6L383.4 1234.8L383.9 1234.9L384.4 1235.3L385.0 1235.4L385.5 1235.7L386.0 1235.7L386.5 1236.2L387.1 1236.3L387.6 1236.1L388.1 1236.1L388.6 1236.6L389.2 1236.7L389.7 1236.5L390.2 1236.5L390.8 1235.6L391.3 1235.7L391.8 1235.3L392.3 1234.7L392.9 1233.2L393.4 1232.7L393.9 1232.2L394.4 1232.3L395.0 1231.8L395.5 1232.5L396.0 1232.0L396.5 1232.2L397.1 1232.4L397.6 1232.0L398.1 1231.9L398.6 1231.9L399.2 1232.2L399.7 1232.4L400.2 1232.8L400.7 1232.4L401.3 1233.1L401.8 1233.1L402.3 1233.1L402.8 1233.6L403.4 1233.5L403.9 1233.5L404.4 1233.9L404.9 1233.8L405.5 1233.8L406.0 1234.7L406.5 1234.6L407.0 1234.8L407.6 1234.6L408.1 1235.5L408.6 1235.5L409.1 1235.0L409.7 1235.7L410.2 1235.9L410.7 1235.8L411.2 1235.6L411.8 1235.7L412.3 1235.7L412.8 1236.3L413.4 1235.9L413.9 1236.4L414.4 1236.5L414.9 1236.6L415.5 1236.8L416.0 1237.1L416.5 1237.9L417.0 1238.1L417.6 1238.3L418.1 1238.9L418.7 1239.5L419.3 1240.1L419.9 1238.6L420.5 1238.0L421.1 1236.6L421.6 1235.9L422.1 1236.4L422.6 1236.0L423.2 1235.6L423.7 1235.7L424.2 1235.4L424.7 1235.1L425.3 1234.2L425.8 1234.3L426.3 1233.9L426.8 1233.3L427.4 1233.5L427.9 1232.7L428.4 1232.4L428.9 1232.2L429.5 1231.2L430.0 1230.3L430.5 1229.8L431.0 1229.0L431.6 1228.7L432.1 1229.2L432.6 1229.7L433.1 1229.5L433.7 1229.7L434.2 1230.4L434.7 1230.6L435.2 1230.4L435.8 1230.9L436.3 1231.4L436.8 1231.3L437.3 1231.2L437.9 1231.9L438.4 1231.9L438.9 1231.6L439.4 1232.2L440.0 1232.1L440.5 1232.6L441.0 1232.3L441.6 1232.6L442.1 1233.1L442.6 1232.8L443.1 1232.7L443.7 1232.0L444.2 1231.8L444.7 1231.3L445.3 1230.5L445.9 1230.5L446.5 1230.4L447.0 1231.1L447.5 1232.6L448.0 1232.9L448.6 1234.2L449.1 1234.8L449.6 1234.7L450.1 1235.5L450.7 1236.3L451.2 1236.5L451.7 1236.6L452.2 1236.8L452.8 1236.6L453.3 1237.5L453.8 1236.9L454.3 1237.5L454.9 1238.5L455.5 1238.9L456.1 1239.2L456.7 1239.7L457.3 1239.8L457.9 1240.1L458.4 1238.3L459.0 1237.0L459.6 1235.7L460.1 1234.8L460.7 1233.7L461.2 1232.4L461.7 1231.8L462.2 1230.4L462.8 1229.5L463.3 1229.2L463.8 1228.5L464.3 1228.2L464.9 1227.8L465.4 1227.8L465.9 1227.4L466.4 1226.4L467.0 1226.2L467.5 1226.1L468.1 1224.5L468.6 1223.9L469.2 1222.5L469.8 1223.7L470.4 1224.6L471.0 1226.1L471.5 1226.1L472.0 1226.8L472.6 1226.5L473.1 1226.9L473.6 1226.9L474.2 1227.1L474.8 1226.9L475.3 1227.0L475.9 1226.8L476.5 1226.6L477.1 1226.9L477.6 1226.9L478.2 1226.6L478.7 1226.4L479.2 1226.1L479.7 1226.6L480.3 1226.1L480.8 1226.2L481.3 1226.1L481.8 1226.1L482.4 1226.5L482.9 1226.9L483.4 1227.1L483.9 1226.4L484.5 1226.6L485.0 1226.0L485.5 1226.1L486.0 1226.0L486.6 1225.7L487.1 1225.8L487.6 1225.4L488.1 1225.2L488.7 1223.9L489.3 1222.6L489.9 1221.7L490.5 1220.9L491.1 1219.9L491.6 1221.1L492.1 1221.9L492.5 1222.5L493.0 1222.9L493.6 1223.1L494.1 1224.0L494.6 1224.3L495.1 1224.3L495.7 1224.5L496.2 1225.5L496.7 1226.2L497.2 1226.6L497.8 1226.9L498.4 1227.4L499.0 1226.9L499.4 1219.7L499.9 1212.0L500.4 1211.6L501.0 1212.1L501.6 1211.2L502.1 1211.2L502.7 1210.9L503.2 1211.3L503.7 1210.3L504.3 1210.4L504.8 1210.3L505.3 1210.8L505.8 1210.8L506.4 1211.1L506.9 1212.0L507.4 1212.0L507.9 1212.0L508.5 1211.9L509.0 1211.8L509.5 1211.7L510.0 1211.2L510.6 1211.2L511.1 1210.8L511.6 1210.6L512.1 1209.8L512.7 1209.4L513.2 1209.4L513.7 1209.1L514.2 1209.4L514.8 1208.9L515.3 1208.5L515.8 1208.3L516.3 1208.4L516.9 1207.8L517.4 1207.5L517.9 1207.7L518.4 1207.2L519.0 1206.6L519.5 1206.1L520.0 1205.9L520.5 1205.9L521.1 1205.5L521.6 1205.5L522.1 1204.4L522.7 1204.6L523.2 1204.2L523.7 1203.6L524.2 1203.8L524.8 1203.4L525.3 1203.4L525.8 1203.3L526.3 1203.3L526.9 1202.8L527.4 1202.6L527.9 1202.8L528.4 1202.4L529.0 1202.2L529.5 1202.6L530.0 1203.1L530.5 1203.4L531.1 1203.3L531.6 1203.6L532.1 1202.7L532.6 1202.9L533.2 1202.4L533.7 1202.4L534.2 1202.3L534.7 1202.1L535.3 1201.0L535.8 1200.9L536.3 1200.7L536.8 1201.3L537.4 1200.9L537.9 1201.3L538.4 1201.7L538.9 1201.5L539.5 1201.5L540.0 1202.2L540.5 1201.6L541.0 1202.1L541.6 1202.4L542.1 1201.7L542.6 1201.6L543.1 1201.1L543.7 1200.5L544.2 1200.7L544.8 1199.8L545.4 1198.0L546.0 1197.2L546.5 1196.6L547.1 1196.0L547.7 1195.4L548.3 1194.9L548.9 1194.0L549.5 1192.8L550.0 1192.9L550.5 1192.4L551.0 1193.0L551.6 1192.4L552.1 1192.8L552.7 1194.4L553.2 1194.9L553.8 1196.3L554.4 1195.7L555.0 1195.4L555.6 1195.4L556.1 1194.9L556.6 1195.0L557.2 1194.7L557.7 1194.2L558.2 1193.7L558.7 1193.7L559.3 1193.0L559.8 1192.9L560.3 1192.8L560.8 1192.8L561.4 1193.1L561.9 1193.8L562.4 1194.3L562.9 1193.8L563.5 1194.5L564.1 1195.6L564.6 1196.1L565.2 1196.3L565.8 1195.1L566.5 1194.1L567.1 1192.8L567.7 1193.9L568.3 1194.2L568.9 1195.4L569.4 1196.0L570.0 1196.8L570.6 1197.1L571.1 1197.2L571.7 1199.3L572.3 1200.2L572.9 1202.4L573.5 1203.2L574.1 1203.6L574.6 1204.2L575.2 1204.4L575.7 1203.5L576.2 1203.7L576.7 1203.1L577.3 1203.3L577.8 1203.8L578.3 1203.9L578.8 1203.3L579.4 1203.8L579.9 1204.2L580.4 1204.2L580.9 1205.0L581.5 1205.3L582.0 1205.1L582.5 1205.9L583.0 1206.7L583.6 1207.1L584.1 1206.9L584.6 1207.4L585.1 1207.7L585.7 1207.9L586.2 1208.5L586.7 1208.6L587.2 1209.0L587.8 1209.4L588.3 1210.0L588.8 1209.8L589.3 1210.3L589.9 1211.1L590.4 1211.2L590.9 1211.2L591.5 1211.4L592.0 1212.6L592.5 1212.2L593.0 1212.9L593.6 1213.4L594.1 1213.8L594.6 1214.3L595.1 1214.9L595.7 1215.5L596.2 1216.5L596.8 1216.9L597.4 1218.2L598.0 1219.1L598.6 1219.5L599.2 1220.8L599.7 1221.8L600.3 1223.4L600.9 1225.2L601.5 1225.8L602.1 1226.8L602.7 1227.8L603.2 1228.0L603.7 1228.8L604.2 1229.0L604.8 1229.2L605.3 1229.6L605.8 1229.8L606.3 1229.7L606.9 1229.4L607.4 1229.7L607.9 1229.6L608.4 1229.6L609.0 1229.2L609.5 1229.3L610.0 1229.0L610.5 1228.7L611.1 1228.8L611.6 1227.8L612.1 1227.8L612.7 1227.8L613.2 1226.9L613.7 1227.0L614.2 1227.3L614.8 1226.5L615.3 1227.2L615.8 1226.9L616.3 1226.5L616.9 1226.8L617.4 1226.3L617.9 1226.3L618.4 1226.1L619.0 1225.8L619.5 1225.8L620.0 1226.4L620.5 1226.2L621.1 1226.1L621.6 1226.7L622.1 1226.7L622.6 1227.4L623.2 1228.6L623.7 1228.7L624.3 1227.5L624.9 1227.0L625.4 1226.1L626.0 1225.4L626.6 1224.3L627.2 1223.4L627.7 1223.3L628.2 1223.5L628.8 1223.2L629.3 1222.5L629.8 1222.5L630.3 1223.0L630.9 1223.5L631.4 1224.3L631.9 1224.8L632.5 1225.2L633.0 1225.3L633.5 1226.1L634.0 1226.2L634.5 1226.1L635.1 1226.9L635.6 1226.5L636.1 1226.5L636.6 1226.1L637.2 1226.4L637.7 1226.1L638.2 1226.4L638.8 1226.1L639.3 1225.7L639.8 1225.7L640.3 1225.2L640.9 1225.2L641.4 1225.3L641.9 1225.6L642.4 1224.7L643.0 1225.2L643.5 1224.5L644.0 1224.0L644.5 1223.4L645.1 1223.0L645.6 1222.5L646.1 1221.8L646.6 1222.0L647.2 1222.0L647.7 1220.9L648.2 1220.8L648.7 1220.1L649.3 1219.9L649.8 1220.0L650.3 1219.1L650.8 1219.0L651.4 1219.7L651.9 1219.4L652.4 1220.2L652.9 1220.7L653.5 1220.8L654.0 1220.4L654.5 1219.3L655.0 1219.7L655.6 1219.1L656.1 1218.2L656.6 1217.8L657.1 1217.8L657.7 1217.2L658.2 1216.4L658.7 1216.4L659.2 1216.1L659.8 1216.4L660.3 1215.9L660.8 1215.3L661.4 1215.5L661.9 1215.4L662.4 1215.6L662.9 1216.2L663.5 1216.4L664.0 1216.4L664.5 1216.7L665.0 1217.0L665.6 1217.9L666.1 1217.7L666.6 1218.2L667.1 1218.0L667.7 1217.2L668.2 1217.1L668.7 1216.5L669.2 1216.4L669.8 1216.4L670.3 1217.0L670.8 1217.1L671.3 1217.7L671.9 1218.2L672.4 1218.3L672.9 1218.2L673.4 1218.5L674.0 1218.2L674.5 1218.2L675.0 1217.9L675.5 1218.8L676.1 1218.6L676.6 1219.1L677.1 1219.0L677.6 1219.5L678.2 1219.1L678.7 1218.8L679.2 1218.9L679.7 1219.0L680.3 1219.0L680.8 1218.9L681.3 1218.7L681.8 1218.9L682.4 1219.0L682.8 1219.6L683.2 1219.9" fill="none" stroke="#FF6B6B" stroke-width="2.2" stroke-linejoin="miter"/>
<line x1="94.3" x2="94.3" y1="1263.1" y2="1241.0" stroke="#2AA086" stroke-width="1.3"/>
<path d="M94.3 1241.0L94.9 1241.4L95.5 1240.6L96.1 1240.5L96.7 1241.4L97.3 1241.0L97.8 1240.5L98.4 1240.2L98.9 1240.6L99.4 1240.1L99.9 1240.1L100.5 1240.5L101.0 1239.8L101.5 1240.5L102.0 1239.9L102.5 1240.1L103.1 1240.2L103.7 1240.5L104.3 1240.3L104.9 1240.5L105.5 1240.3L106.1 1240.1L106.6 1239.9L107.2 1241.0L107.8 1241.0L108.4 1241.0L109.0 1241.2L109.6 1241.8L110.1 1242.0L110.7 1241.6L111.3 1241.8L111.9 1241.5L112.5 1241.6L113.1 1241.0L113.6 1241.4L114.1 1241.8L114.6 1242.1L115.2 1242.1L115.7 1242.7L116.2 1243.0L116.7 1242.2L117.3 1242.5L117.8 1242.5L118.3 1241.8L118.9 1242.0L119.5 1241.5L120.1 1242.1L120.7 1242.0L121.2 1241.5L121.8 1241.8L122.4 1241.4L123.0 1241.9L123.6 1241.4L124.2 1242.2L124.7 1241.8L125.3 1241.8L125.9 1241.5L126.5 1241.1L127.1 1241.1L127.7 1241.1L128.2 1240.2L128.8 1240.1L129.4 1239.8L130.0 1239.9L130.6 1239.4L131.2 1239.6L131.8 1239.4L132.3 1239.2L132.9 1239.0L133.5 1239.1L134.1 1238.8L134.7 1238.2L135.3 1239.0L135.8 1238.3L136.4 1238.2L137.0 1238.3L137.6 1238.2L138.2 1238.7L138.8 1238.8L139.3 1238.3L139.9 1238.2L140.5 1237.9L141.1 1237.5L141.7 1238.1L142.3 1237.3L142.8 1237.5L143.4 1237.8L144.0 1237.9L144.6 1238.2L145.2 1238.5L145.8 1238.6L146.3 1239.2L146.9 1238.6L147.5 1238.9L148.1 1239.1L148.7 1238.8L149.3 1238.2L149.8 1238.3L150.4 1238.2L151.0 1237.3L151.6 1237.4L152.2 1237.5L152.8 1237.3L153.4 1236.6L153.9 1236.5L154.4 1236.9L154.9 1236.6L155.5 1236.6L156.0 1236.6L156.6 1236.2L157.2 1235.7L157.7 1221.7L158.3 1222.0L158.8 1221.6L159.3 1221.1L159.8 1221.2L160.4 1220.8L160.9 1220.8L161.4 1220.3L161.9 1220.6L162.5 1220.4L163.0 1219.9L163.5 1219.7L164.0 1219.7L164.6 1218.4L165.1 1218.5L165.6 1218.2L166.2 1217.1L166.8 1215.7L167.4 1214.7L167.9 1215.4L168.5 1217.1L169.1 1217.9L169.6 1219.0L170.2 1219.3L170.7 1219.6L171.2 1221.1L171.7 1221.0L172.3 1221.7L172.8 1221.5L173.3 1221.7L173.8 1222.0L174.4 1222.7L174.9 1222.5L175.4 1222.4L175.9 1222.7L176.5 1222.7L177.0 1223.2L177.5 1223.4L178.0 1222.8L178.6 1222.6L179.1 1222.6L179.6 1222.5L180.2 1221.7L180.7 1222.0L181.2 1221.2L181.7 1221.6L182.2 1222.0L182.8 1221.7L183.3 1220.0L183.8 1218.9L184.3 1218.0L184.9 1216.7L185.4 1215.5L185.9 1216.0L186.5 1216.1L187.0 1216.0L187.5 1216.0L188.0 1216.4L188.6 1216.3L189.1 1216.5L189.6 1216.5L190.1 1217.3L190.7 1217.3L191.2 1217.3L191.7 1218.4L192.2 1218.5L192.8 1218.3L193.3 1219.0L193.8 1219.0L194.3 1219.2L194.9 1218.6L195.4 1219.0L195.9 1219.0L196.4 1218.8L197.0 1219.7L197.5 1219.1L198.0 1219.9L198.5 1219.9L199.1 1220.8L199.6 1221.0L200.1 1220.7L200.6 1221.4L201.2 1221.7L201.7 1221.3L202.2 1221.5L202.7 1222.0L203.3 1222.0L203.8 1221.7L204.3 1221.4L204.8 1221.9L205.4 1222.3L205.9 1222.1L206.4 1222.5L206.9 1223.0L207.5 1223.3L208.0 1223.1L208.5 1223.1L209.1 1223.4L209.6 1224.1L210.1 1224.1L210.6 1224.2L211.2 1224.6L211.7 1225.2L212.2 1224.7L212.7 1225.2L213.3 1224.7L213.8 1224.7L214.3 1224.3L214.8 1224.6L215.4 1224.8L215.9 1224.0L216.4 1224.2L216.9 1224.3L217.5 1224.7L218.1 1224.6L218.7 1224.2L219.3 1224.5L219.9 1224.0L220.4 1224.3L221.0 1225.4L221.6 1226.8L222.2 1228.7L222.7 1229.1L223.2 1229.5L223.8 1230.3L224.3 1231.3L224.8 1231.3L225.3 1231.3L225.9 1232.1L226.4 1232.7L226.9 1232.8L227.4 1233.1L228.0 1233.3L228.5 1233.7L229.0 1233.1L229.5 1234.2L230.1 1233.9L230.6 1234.5L231.1 1234.9L231.6 1235.3L232.2 1234.9L232.7 1235.7L233.2 1235.6L233.8 1236.1L234.3 1236.8L234.8 1237.5L235.3 1237.5L235.9 1238.2L236.4 1238.1L236.9 1238.6L237.4 1239.1L238.0 1239.2L238.5 1239.2L239.0 1240.0L239.5 1240.2L240.1 1240.1L240.6 1240.1L241.1 1240.6L241.6 1240.7L242.2 1240.8L242.7 1240.6L243.2 1241.0L243.7 1240.7L244.3 1240.7L244.8 1240.5L245.3 1241.4L245.8 1241.0L246.4 1240.9L246.9 1240.8L247.4 1241.3L247.9 1241.2L248.5 1241.8L249.0 1241.8L249.5 1241.7L250.0 1241.5L250.6 1241.8L251.1 1241.8L251.6 1242.4L252.1 1243.1L252.7 1244.2L253.2 1244.4L253.7 1245.3L254.2 1245.9L254.8 1246.8L255.3 1247.4L255.8 1247.3L256.4 1248.0L256.9 1247.7L257.4 1248.8L257.9 1248.5L258.5 1248.4L259.0 1248.8L259.5 1248.5L260.0 1248.6L260.6 1248.6L261.1 1248.5L261.6 1248.8L262.1 1248.4L262.7 1249.3L263.2 1249.2L263.7 1248.4L264.2 1248.8L264.8 1248.8L265.3 1249.1L265.8 1248.8L266.3 1248.4L266.9 1248.8L267.5 1247.4L268.1 1246.2L268.7 1245.9L269.2 1246.3L269.7 1245.8L270.2 1245.5L270.8 1245.3L271.3 1245.3L271.8 1244.5L272.3 1245.0L272.9 1244.9L273.4 1244.5L274.0 1245.1L274.5 1245.2L275.1 1245.5L275.7 1246.2L276.3 1246.2L276.9 1247.1L277.5 1244.2L278.1 1241.8L278.6 1240.3L279.1 1239.4L279.5 1238.3L280.1 1234.1L280.6 1229.6L281.3 1226.1L281.9 1226.1L282.4 1226.6L283.0 1226.9L283.6 1227.4L284.1 1227.8L284.6 1227.5L285.1 1228.8L285.7 1228.7L286.2 1228.2L286.7 1227.4L287.2 1226.9L287.8 1226.8L288.3 1226.1L288.9 1225.6L289.5 1224.1L290.0 1223.4L290.6 1223.3L291.1 1223.5L291.6 1223.1L292.1 1223.3L292.7 1223.4L293.2 1224.0L293.7 1223.8L294.2 1224.3L294.8 1223.9L295.3 1224.3L295.8 1224.3L296.3 1223.9L296.9 1223.0L297.4 1222.9L297.9 1222.5L298.4 1222.6L299.0 1222.3L299.5 1222.1L300.0 1221.6L300.6 1221.7L301.1 1222.1L301.6 1222.2L302.1 1223.0L302.7 1223.0L303.2 1223.4L303.7 1223.4L304.2 1222.5L304.8 1221.6L305.3 1221.2L305.8 1220.8L306.3 1220.4L306.9 1221.0L307.4 1220.3L307.9 1220.9L308.4 1220.8L309.0 1220.6L309.5 1221.1L310.0 1220.4L310.5 1221.0L311.1 1220.8L311.6 1220.7L312.1 1219.8L312.6 1219.4L313.2 1219.3L313.7 1219.0L314.2 1219.4L314.7 1219.2L315.3 1219.1L315.8 1219.7L316.3 1219.9L316.8 1220.2L317.4 1219.6L317.9 1220.4L318.4 1219.9L318.9 1219.9L319.5 1219.4L320.0 1219.2L320.5 1219.3L321.0 1219.2L321.6 1219.0L322.1 1218.6L322.6 1218.3L323.1 1218.5L323.7 1218.1L324.2 1218.2L324.7 1217.9L325.2 1217.8L325.8 1217.8L326.3 1217.6L326.8 1217.3L327.3 1217.2L327.9 1217.3L328.4 1218.2L328.9 1217.6L329.4 1218.2L330.0 1218.0L330.5 1218.1L331.0 1219.0L331.6 1218.9L332.1 1219.0L332.6 1219.3L333.1 1218.8L333.7 1218.4L334.2 1218.3L334.7 1218.2L335.2 1218.6L335.8 1218.3L336.3 1219.0L336.8 1218.8L337.3 1219.0L337.9 1218.6L338.4 1218.9L338.9 1219.1L339.4 1218.7L340.0 1219.0L340.5 1219.1L341.0 1218.8L341.5 1218.0L342.1 1218.1L342.6 1217.3L343.1 1217.0L343.6 1216.3L344.2 1215.4L344.7 1215.6L345.2 1214.7L345.7 1214.7L346.3 1213.9L346.8 1213.5L347.3 1212.8L347.9 1212.9L348.4 1213.0L349.0 1213.3L349.6 1212.9L350.1 1214.6L350.5 1216.3L351.0 1218.2L351.5 1218.5L352.1 1218.9L352.6 1218.5L353.1 1219.0L353.6 1218.8L354.2 1219.2L354.7 1218.6L355.2 1219.4L355.7 1219.0L356.3 1218.5L356.8 1218.7L357.3 1218.0L357.8 1217.3L358.4 1217.3L358.9 1216.8L359.5 1216.8L360.1 1216.9L360.7 1217.3L361.3 1217.3L361.9 1217.0L362.4 1217.0L363.0 1216.6L363.6 1216.8L364.2 1216.8L364.8 1216.4L365.4 1216.4L365.9 1216.0L366.5 1216.4L367.1 1216.1L367.6 1216.4L368.2 1216.2L368.7 1216.5L369.2 1216.3L369.7 1217.2L370.3 1217.0L370.8 1216.6L371.3 1217.1L371.8 1216.9L372.4 1216.0L372.9 1216.4L373.3 1216.6L373.8 1215.9L374.5 1224.3L374.9 1225.5L375.4 1226.1L375.9 1226.9L376.3 1227.9L376.8 1228.1L377.3 1228.7L377.8 1228.6L378.3 1229.0L378.8 1229.6L379.4 1230.4L379.9 1230.4L380.4 1231.5L380.9 1231.5L381.5 1232.4L382.0 1232.9L382.5 1233.9L383.0 1234.0L383.6 1234.5L384.1 1234.9L384.6 1235.0L385.1 1235.7L385.7 1236.0L386.2 1235.8L386.7 1236.6L387.2 1236.4L387.8 1236.6L388.3 1236.3L388.8 1236.5L389.3 1235.9L389.9 1235.6L390.4 1235.7L390.9 1235.1L391.5 1235.1L392.0 1234.9L392.5 1235.2L393.0 1234.8L393.6 1234.5L394.1 1234.7L394.6 1234.1L395.1 1233.7L395.7 1233.9L396.2 1233.9L396.7 1234.2L397.2 1234.9L397.8 1234.3L398.3 1234.8L398.8 1234.7L399.3 1234.8L399.9 1235.1L400.4 1236.0L400.9 1235.7L401.4 1235.9L402.0 1235.1L402.5 1234.7L403.0 1235.0L403.5 1234.8L404.1 1235.1L404.6 1234.8L405.1 1235.3L405.6 1235.8L406.2 1235.7L406.7 1235.3L407.2 1236.1L407.7 1236.2L408.3 1236.4L408.8 1236.2L409.3 1236.3L409.8 1236.3L410.4 1236.4L410.9 1236.1L411.4 1236.6L411.9 1236.5L412.5 1236.2L413.0 1236.2L413.5 1235.8L414.1 1236.2L414.6 1235.8L415.1 1235.6L415.6 1235.9L416.2 1235.5L416.7 1235.7L417.2 1235.9L417.7 1236.0L418.3 1236.0L418.8 1236.0L419.3 1236.6L419.8 1236.5L420.4 1236.4L420.9 1236.2L421.4 1235.9L421.9 1235.7L422.5 1235.6L423.0 1234.9L423.5 1235.0L424.0 1235.3L424.6 1234.8L425.1 1235.0L425.6 1235.0L426.1 1235.6L426.7 1236.3L427.2 1236.2L427.7 1235.8L428.2 1235.8L428.8 1236.2L429.3 1236.6L429.8 1236.2L430.3 1236.0L430.9 1235.8L431.4 1236.2L431.9 1235.4L432.4 1235.7L433.0 1235.6L433.5 1236.0L434.0 1236.4L434.5 1236.5L435.1 1236.2L435.6 1235.9L436.1 1235.8L436.6 1235.8L437.2 1235.4L437.7 1235.7L438.2 1235.3L438.8 1235.6L439.3 1235.6L439.8 1234.8L440.3 1234.8L440.9 1234.2L441.4 1234.7L441.9 1234.8L442.4 1234.4L443.0 1233.9L443.5 1233.9L444.0 1234.2L444.5 1234.2L445.1 1234.2L445.6 1233.9L446.1 1234.3L446.6 1235.1L447.2 1235.3L447.7 1235.1L448.2 1235.7L448.7 1236.0L449.3 1236.0L449.8 1236.6L450.3 1237.4L450.8 1237.5L451.4 1237.6L451.9 1237.8L452.4 1238.3L452.9 1237.7L453.5 1238.3L454.0 1238.3L454.5 1238.7L455.0 1238.8L455.6 1239.2L456.1 1239.2L456.6 1239.3L457.1 1238.8L457.7 1238.2L458.2 1238.0L458.7 1237.5L459.2 1237.1L459.8 1237.2L460.3 1236.5L460.8 1236.1L461.4 1235.7L461.9 1235.4L462.4 1235.3L462.9 1235.4L463.5 1234.9L464.0 1234.8L464.5 1235.0L465.0 1234.7L465.6 1234.7L466.1 1234.3L466.6 1233.9L467.1 1233.7L467.7 1233.1L468.2 1232.4L468.7 1232.7L469.2 1232.2L469.8 1232.1L470.3 1231.7L470.8 1231.4L471.3 1230.3L471.9 1230.4L472.4 1230.7L472.9 1230.4L473.4 1230.6L474.0 1231.2L474.5 1231.0L475.0 1230.8L475.5 1230.8L476.1 1230.3L476.6 1230.3L477.1 1230.2L477.6 1230.4L478.2 1230.2L478.7 1230.5L479.2 1230.0L479.7 1230.0L480.3 1230.4L480.8 1230.0L481.3 1230.7L481.8 1230.9L482.4 1230.7L482.9 1230.4L483.4 1230.5L483.9 1230.1L484.5 1230.7L485.0 1230.1L485.5 1230.4L486.0 1229.8L486.6 1230.1L487.1 1230.3L487.6 1229.5L488.1 1229.6L488.7 1228.8L489.3 1227.1L489.9 1226.1L490.5 1226.5L491.1 1226.3L491.6 1226.1L492.2 1227.0L492.7 1227.6L493.2 1228.0L493.7 1227.9L494.3 1228.7L494.8 1228.9L495.3 1229.1L495.8 1229.4L496.4 1229.1L496.9 1229.6L497.4 1229.4L497.9 1228.9L498.5 1228.6L499.0 1228.7L499.4 1222.5L499.9 1216.4L500.4 1216.5L501.0 1216.0L501.6 1215.6L502.1 1215.5L502.7 1215.4L503.2 1215.8L503.7 1216.0L504.3 1216.0L504.8 1216.4L505.3 1216.1L505.8 1215.8L506.4 1215.7L506.9 1215.9L507.4 1215.5L507.9 1215.8L508.5 1216.0L509.0 1216.5L509.5 1216.4L510.0 1216.4L510.6 1215.4L511.1 1214.9L511.6 1214.3L512.1 1213.9L512.7 1212.9L513.2 1213.0L513.7 1212.5L514.2 1212.9L514.8 1213.1L515.3 1212.9L515.8 1212.9L516.3 1212.2L516.9 1211.6L517.4 1211.1L517.9 1211.2L518.4 1211.0L519.0 1211.1L519.5 1210.3L520.0 1210.5L520.5 1210.3L521.1 1210.0L521.6 1209.6L522.1 1209.0L522.7 1208.5L523.2 1208.5L523.7 1207.9L524.2 1208.0L524.8 1208.4L525.3 1207.8L525.8 1207.7L526.3 1207.8L526.9 1207.3L527.4 1206.7L527.9 1206.2L528.4 1205.9L529.0 1205.8L529.5 1205.9L530.0 1205.2L530.5 1204.9L531.1 1205.0L531.6 1205.4L532.1 1205.2L532.6 1204.9L533.2 1204.9L533.7 1205.0L534.2 1203.9L534.7 1203.7L535.3 1203.2L535.8 1202.2L536.3 1201.5L536.8 1201.9L537.4 1202.1L537.9 1201.9L538.4 1202.4L538.9 1202.4L539.5 1203.4L540.0 1203.7L540.5 1203.7L541.0 1204.7L541.6 1205.0L542.1 1205.5L542.6 1206.0L543.1 1206.3L543.7 1206.9L544.2 1206.8L544.7 1207.1L545.2 1206.1L545.8 1206.2L546.3 1205.6L546.8 1205.9L547.3 1206.0L547.9 1204.8L548.4 1204.8L548.9 1204.6L549.5 1204.2L550.0 1203.7L550.5 1203.1L551.0 1203.1L551.6 1202.5L552.1 1202.4L552.6 1202.6L553.1 1203.0L553.7 1202.7L554.2 1203.1L554.7 1203.3L555.2 1202.9L555.8 1202.3L556.3 1202.0L556.8 1201.6L557.3 1200.7L557.9 1201.3L558.4 1200.7L558.9 1201.2L559.4 1201.0L560.0 1201.5L560.5 1201.7L561.0 1201.4L561.5 1201.9L562.1 1201.5L562.6 1201.5L563.1 1202.0L563.6 1201.4L564.2 1202.2L564.7 1202.1L565.2 1202.4L565.8 1202.5L566.4 1201.6L567.0 1201.3L567.6 1201.5L568.2 1201.7L568.7 1201.4L569.2 1201.5L569.7 1201.4L570.3 1201.5L570.8 1202.7L571.3 1203.1L571.8 1204.0L572.4 1204.7L572.9 1205.0L573.4 1205.2L573.9 1204.6L574.5 1204.3L575.0 1204.4L575.5 1204.2L576.0 1204.0L576.6 1203.5L577.1 1202.6L577.6 1202.5L578.1 1201.5L578.7 1202.1L579.2 1201.8L579.7 1202.7L580.2 1203.2L580.8 1203.3L581.3 1203.0L581.8 1203.5L582.3 1204.0L582.9 1204.0L583.4 1204.2L583.9 1204.4L584.4 1204.1L585.0 1204.4L585.5 1205.2L586.0 1205.0L586.5 1205.2L587.1 1205.7L587.6 1206.2L588.1 1206.2L588.6 1206.8L589.2 1206.9L589.7 1207.1L590.2 1207.7L590.8 1207.8L591.3 1207.7L591.9 1208.5L592.4 1210.0L593.0 1211.2L593.6 1211.6L594.1 1211.9L594.6 1211.7L595.1 1212.0L595.7 1212.0L596.2 1212.4L596.7 1212.6L597.2 1213.0L597.8 1213.2L598.3 1212.9L598.8 1213.4L599.3 1212.5L599.9 1213.1L600.4 1212.8L600.9 1212.9L601.4 1212.7L602.0 1212.5L602.5 1213.3L603.0 1213.3L603.5 1212.9L604.1 1212.9L604.6 1212.9L605.1 1212.6L605.6 1213.3L606.2 1212.9L606.7 1213.0L607.2 1212.2L607.7 1212.5L608.3 1212.7L608.8 1212.0L609.3 1211.4L609.8 1211.0L610.4 1210.6L610.9 1210.3L611.5 1211.6L612.1 1212.8L612.6 1214.7L613.2 1215.0L613.8 1214.9L614.4 1215.5L614.9 1215.5L615.5 1214.4L616.0 1213.7L616.5 1212.5L617.0 1211.2L617.6 1212.2L618.2 1212.1L618.7 1213.4L619.3 1213.8L619.9 1215.2L620.5 1215.9L621.1 1217.3L621.6 1218.0L622.2 1219.2L622.8 1220.8L623.4 1222.5L624.0 1224.2L624.6 1225.2L625.1 1224.7L625.6 1224.9L626.1 1225.1L626.7 1224.7L627.2 1225.2L627.7 1224.8L628.2 1224.5L628.8 1223.9L629.3 1222.8L629.8 1222.5L630.3 1223.1L630.9 1223.2L631.4 1222.7L631.9 1223.6L632.5 1223.4L633.0 1224.4L633.5 1224.9L634.0 1225.3L634.5 1225.9L635.1 1226.1L635.6 1226.1L636.1 1225.6L636.6 1226.2L637.2 1226.1L637.7 1226.1L638.2 1225.5L638.8 1225.3L639.3 1225.9L639.8 1225.8L640.3 1225.2L640.9 1225.1L641.4 1225.4L641.9 1226.4L642.4 1226.4L643.0 1226.9L643.5 1227.3L644.0 1226.9L644.5 1227.1L645.1 1226.5L645.6 1226.9L646.1 1227.4L646.6 1227.0L647.2 1227.4L647.7 1227.6L648.2 1227.8L648.7 1227.8L649.3 1227.9L649.8 1228.3L650.3 1228.1L650.8 1228.7L651.4 1228.0L651.9 1227.6L652.4 1228.0L652.9 1227.1L653.5 1226.9L654.0 1227.6L654.5 1227.7L655.0 1227.1L655.6 1228.0L656.1 1227.8L656.6 1228.1L657.1 1227.4L657.7 1227.3L658.2 1227.3L658.7 1226.9L659.2 1226.7L659.8 1226.3L660.3 1226.6L660.8 1226.0L661.4 1226.1L661.9 1226.1L662.4 1225.9L662.9 1226.4L663.5 1227.1L664.0 1226.9L664.5 1226.4L665.0 1226.3L665.6 1226.3L666.1 1226.0L666.6 1226.1L667.1 1225.4L667.7 1225.3L668.2 1225.2L668.7 1225.6L669.2 1225.2L669.8 1225.6L670.3 1225.8L670.8 1225.9L671.3 1226.4L671.9 1226.1L672.4 1225.8L672.9 1226.3L673.4 1226.0L674.0 1226.5L674.5 1226.1L675.0 1226.2L675.5 1226.6L676.1 1226.9L676.6 1227.2L677.1 1226.9L677.6 1226.8L678.2 1226.1L678.7 1226.0L679.2 1225.8L679.7 1225.2L680.3 1225.4L680.8 1224.6L681.3 1224.9L681.8 1224.7L682.4 1224.3L682.8 1224.4L683.2 1225.2" fill="none" stroke="#2AA086" stroke-width="2.2" stroke-linejoin="miter"/>
<rect x="56.0" y="916.1" width="627.4" height="347.00" fill="none" stroke="#2b2b2b" stroke-width="1.3"/>
<line x1="47.6" x2="56.0" y1="1263.1" y2="1263.1" stroke="#2b2b2b" stroke-width="1.3"/>
<text x="48.4" y="1270.7" text-anchor="end" class="ax">0</text>
<line x1="47.6" x2="56.0" y1="1194.2" y2="1194.2" stroke="#2b2b2b" stroke-width="1.3"/>
<text x="48.4" y="1200.8" text-anchor="end" class="ax">10</text>
<line x1="47.6" x2="56.0" y1="1124.4" y2="1124.4" stroke="#2b2b2b" stroke-width="1.3"/>
<text x="48.4" y="1131.8" text-anchor="end" class="ax">20</text>
<line x1="47.6" x2="56.0" y1="1055.2" y2="1055.2" stroke="#2b2b2b" stroke-width="1.3"/>
<text x="48.4" y="1061.7" text-anchor="end" class="ax">30</text>
<line x1="47.6" x2="56.0" y1="985.2" y2="985.2" stroke="#2b2b2b" stroke-width="1.3"/>
<text x="48.4" y="992.5" text-anchor="end" class="ax">40</text>
<line x1="47.6" x2="56.0" y1="916.1" y2="916.1" stroke="#2b2b2b" stroke-width="1.3"/>
<text x="48.4" y="922.8" text-anchor="end" class="ax">50</text>
<line x1="68.0" x2="68.0" y1="1263.1" y2="1274.0" stroke="#2b2b2b" stroke-width="1.3"/>
<text x="67.1" y="1286.3" text-anchor="middle" class="ax">2018</text>
<line x1="165.2" x2="165.2" y1="1263.1" y2="1274.0" stroke="#2b2b2b" stroke-width="1.3"/>
<text x="164.3" y="1286.3" text-anchor="middle" class="ax">2019</text>
<line x1="262.5" x2="262.5" y1="1263.1" y2="1274.0" stroke="#2b2b2b" stroke-width="1.3"/>
<text x="261.6" y="1286.3" text-anchor="middle" class="ax">2020</text>
<line x1="359.7" x2="359.7" y1="1263.1" y2="1274.0" stroke="#2b2b2b" stroke-width="1.3"/>
<text x="358.8" y="1286.3" text-anchor="middle" class="ax">2021</text>
<line x1="456.9" x2="456.9" y1="1263.1" y2="1274.0" stroke="#2b2b2b" stroke-width="1.3"/>
<text x="456.0" y="1286.3" text-anchor="middle" class="ax">2022</text>
<line x1="554.2" x2="554.2" y1="1263.1" y2="1274.0" stroke="#2b2b2b" stroke-width="1.3"/>
<text x="553.3" y="1286.3" text-anchor="middle" class="ax">2023</text>
<line x1="651.4" x2="651.4" y1="1263.1" y2="1274.0" stroke="#2b2b2b" stroke-width="1.3"/>
<text x="650.5" y="1286.3" text-anchor="middle" class="ax">2024</text>
<text transform="translate(14.3 1090.0) rotate(-90)" text-anchor="middle" class="yl">TCI</text>
<rect x="67" y="927.65" width="9.5" height="7.70" fill="#45B7D1" stroke="#111" stroke-width="1.1"/>
<text x="87.8" y="938.2" class="lg">window=150</text>
<rect x="67" y="942.85" width="9.5" height="6.70" fill="#FF6B6B" stroke="#111" stroke-width="1.1"/>
<text x="87.8" y="953.2" class="lg">window=200</text>
<rect x="67" y="957.75" width="9.5" height="6.80" fill="#2AA086" stroke="#111" stroke-width="1.1"/>
<text x="87.8" y="968.2" class="lg">window=250</text>
<text x="407" y="939.3" text-anchor="middle" class="an" fill="#E23B3B">COVID-19</text>
<text x="561" y="974.3" text-anchor="middle" class="an" fill="#1C8A78">Russia-Ukraine War</text>
<text x="279.6" y="1332.2" class="cap">(c)</text>
<text x="328.3" y="1332.2" class="cap">Long term</text>
</g>
</svg>
</body></html>
